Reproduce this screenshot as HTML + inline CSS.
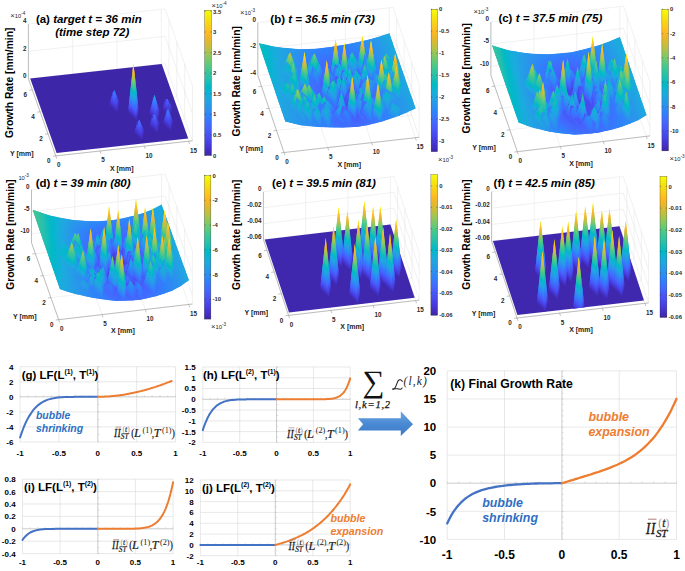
<!DOCTYPE html><html><head><meta charset="utf-8"><style>html,body{margin:0;padding:0;background:#fff;width:685px;height:571px;overflow:hidden}svg{display:block;font-family:'Liberation Sans',sans-serif}</style></head><body>
<svg width="685" height="571" viewBox="0 0 685 571"><defs><clipPath id="cp0"><polygon points="17.1,157.3 227.6,134.1 227.6,-165.9 17.1,-142.7"/></clipPath><clipPath id="cp1"><polygon points="246.3,125.2 285.3,121.3 293.4,123.3 301.6,125.2 309.7,125.9 317.8,126.7 326,127.1 334.1,127.3 342.2,127.4 350.4,127 358.5,126.5 366.6,125.1 374.8,123.1 382.9,121 391,118.2 399.2,115.4 407.3,112 415.4,108.3 454.5,104.4 454.5,-195.6 246.3,-174.8"/></clipPath><clipPath id="cp2"><polygon points="480.4,124.5 518.7,122.3 526.7,125.4 534.6,128 542.6,129.8 550.6,131.7 558.6,132.9 566.5,133.7 574.5,134.5 582.5,134 590.5,133.4 598.4,132.6 606.4,130.6 614.4,128.7 622.4,126.3 630.4,123.3 638.3,120 646.3,115 684.6,112.8 684.6,-187.2 480.4,-175.5"/></clipPath><clipPath id="cp3"><polygon points="21.4,291.7 60,289 68,291.7 76.1,293.9 84.1,295.8 92.2,297.6 100.2,298.8 108.3,299.9 116.3,300.8 124.3,300.6 132.4,300.3 140.4,299.5 148.5,297.7 156.5,295.9 164.5,293.3 172.6,290.3 180.6,286 188.7,280.1 227.3,277.4 227.3,-22.6 21.4,-8.3"/></clipPath><clipPath id="cp4"><polygon points="251.3,317 452.4,293.4 452.4,-6.6 251.3,17"/></clipPath><clipPath id="cp5"><polygon points="479.4,319.5 682,296.2 682,-3.8 479.4,19.5"/></clipPath><linearGradient id="cb" x1="0" y1="0" x2="0" y2="1"><stop offset="0.000" stop-color="#f9fb15"/><stop offset="0.031" stop-color="#f5ef0a"/><stop offset="0.062" stop-color="#f5e211"/><stop offset="0.094" stop-color="#f8d417"/><stop offset="0.125" stop-color="#fbc81d"/><stop offset="0.156" stop-color="#febb21"/><stop offset="0.188" stop-color="#f1b627"/><stop offset="0.219" stop-color="#deb930"/><stop offset="0.250" stop-color="#c8bd3c"/><stop offset="0.281" stop-color="#afc24b"/><stop offset="0.312" stop-color="#94c65b"/><stop offset="0.344" stop-color="#77c86c"/><stop offset="0.375" stop-color="#5cc97d"/><stop offset="0.406" stop-color="#44c78d"/><stop offset="0.438" stop-color="#34c49d"/><stop offset="0.469" stop-color="#28c0ab"/><stop offset="0.500" stop-color="#12bdb9"/><stop offset="0.531" stop-color="#01b9c6"/><stop offset="0.562" stop-color="#0cb3d3"/><stop offset="0.594" stop-color="#1aacdd"/><stop offset="0.625" stop-color="#21a3e3"/><stop offset="0.656" stop-color="#269ae9"/><stop offset="0.688" stop-color="#2c90f0"/><stop offset="0.719" stop-color="#2e85f8"/><stop offset="0.750" stop-color="#347afd"/><stop offset="0.781" stop-color="#3f6efe"/><stop offset="0.812" stop-color="#4562fc"/><stop offset="0.844" stop-color="#4757f7"/><stop offset="0.875" stop-color="#484cef"/><stop offset="0.906" stop-color="#4741e5"/><stop offset="0.938" stop-color="#4536d5"/><stop offset="0.969" stop-color="#422ebf"/><stop offset="1.000" stop-color="#3e26a8"/></linearGradient><linearGradient id="pt" gradientUnits="userSpaceOnUse"><stop offset="0" stop-color="#3e26a8"/><stop offset="0.025" stop-color="#412dbb"/><stop offset="0.05" stop-color="#4433cc"/><stop offset="0.075" stop-color="#463adc"/><stop offset="0.1" stop-color="#4743e7"/><stop offset="0.125" stop-color="#484cef"/><stop offset="0.15" stop-color="#4755f6"/><stop offset="0.175" stop-color="#465efb"/><stop offset="0.2" stop-color="#4367fd"/><stop offset="0.225" stop-color="#3d70ff"/><stop offset="0.25" stop-color="#347afd"/><stop offset="0.275" stop-color="#2e83f9"/><stop offset="0.3" stop-color="#2d8cf3"/><stop offset="0.325" stop-color="#2994ed"/><stop offset="0.35" stop-color="#259ce7"/><stop offset="0.375" stop-color="#21a3e3"/><stop offset="0.4" stop-color="#1caadf"/><stop offset="0.425" stop-color="#13b0d7"/><stop offset="0.45" stop-color="#05b6ce"/><stop offset="0.475" stop-color="#02bac4"/><stop offset="0.5" stop-color="#12bdb9"/><stop offset="0.525" stop-color="#24c0ae"/><stop offset="0.55" stop-color="#2fc2a3"/><stop offset="0.575" stop-color="#39c597"/><stop offset="0.6" stop-color="#48c78a"/><stop offset="0.625" stop-color="#5cc97d"/><stop offset="0.65" stop-color="#71c86f"/><stop offset="0.675" stop-color="#88c762"/><stop offset="0.7" stop-color="#9fc454"/><stop offset="0.725" stop-color="#b4c148"/><stop offset="0.75" stop-color="#c8bd3c"/><stop offset="0.775" stop-color="#daba32"/><stop offset="0.8" stop-color="#eab72a"/><stop offset="0.825" stop-color="#f8b625"/><stop offset="0.85" stop-color="#febe20"/><stop offset="0.875" stop-color="#fbc81d"/><stop offset="0.9" stop-color="#f8d218"/><stop offset="0.925" stop-color="#f6dc14"/><stop offset="0.95" stop-color="#f4e70e"/><stop offset="0.975" stop-color="#f5f209"/><stop offset="1" stop-color="#f9fb15"/></linearGradient><linearGradient id="f0" href="#pt" x1="112.5" y1="90" x2="118.8" y2="91.4"/><linearGradient id="f1" href="#pt" x1="110.2" y1="94.6" x2="124.4" y2="80"/><linearGradient id="f2" href="#pt" x1="104.4" y1="100.6" x2="138.5" y2="65.5"/><linearGradient id="f3" href="#pt" x1="122.3" y1="92.3" x2="94.7" y2="85.8"/><linearGradient id="f4" href="#pt" x1="164.5" y1="98.6" x2="178.4" y2="101.8"/><linearGradient id="f5" href="#pt" x1="165.3" y1="101.2" x2="175.1" y2="91.2"/><linearGradient id="f6" href="#pt" x1="159.6" y1="107.1" x2="198.2" y2="67.5"/><linearGradient id="f7" href="#pt" x1="174.3" y1="100.8" x2="139.1" y2="92.6"/><linearGradient id="f8" href="#pt" x1="139.1" y1="64.8" x2="133.4" y2="63.5"/><linearGradient id="f9" href="#pt" x1="112.1" y1="85.4" x2="133.4" y2="63.5"/><linearGradient id="f10" href="#pt" x1="106.3" y1="91.3" x2="133.4" y2="63.5"/><linearGradient id="f11" href="#pt" x1="149" y1="67.1" x2="133.4" y2="63.5"/><linearGradient id="f12" href="#pt" x1="153.6" y1="94.8" x2="155.9" y2="95.3"/><linearGradient id="f13" href="#pt" x1="148.2" y1="101.5" x2="164.8" y2="84.4"/><linearGradient id="f14" href="#pt" x1="142.4" y1="107.4" x2="174.2" y2="74.8"/><linearGradient id="f15" href="#pt" x1="163.5" y1="97.1" x2="139.9" y2="91.6"/><linearGradient id="f16" href="#pt" x1="166.1" y1="109.1" x2="173" y2="110.7"/><linearGradient id="f17" href="#pt" x1="164.1" y1="113.5" x2="178" y2="99.2"/><linearGradient id="f18" href="#pt" x1="158.4" y1="119.4" x2="192.8" y2="84"/><linearGradient id="f19" href="#pt" x1="175.9" y1="111.3" x2="147.7" y2="104.8"/><linearGradient id="f20" href="#pt" x1="152" y1="113.6" x2="162.7" y2="116.1"/><linearGradient id="f21" href="#pt" x1="151.8" y1="117" x2="163.5" y2="105"/><linearGradient id="f22" href="#pt" x1="146.1" y1="122.9" x2="182.8" y2="85.2"/><linearGradient id="f23" href="#pt" x1="161.9" y1="115.9" x2="129.8" y2="108.5"/><linearGradient id="f24" href="#pt" x1="137.1" y1="119.8" x2="146" y2="121.9"/><linearGradient id="f25" href="#pt" x1="136.1" y1="123.5" x2="148.8" y2="110.6"/><linearGradient id="f26" href="#pt" x1="130.4" y1="129.5" x2="166.1" y2="92.8"/><linearGradient id="f27" href="#pt" x1="146.9" y1="122.1" x2="116.6" y2="115"/><linearGradient id="f28" href="#pt" x1="322.1" y1="74.5" x2="494.7" y2="-4.4"/><linearGradient id="f29" href="#pt" x1="310.9" y1="96.3" x2="514" y2="-51.5"/><linearGradient id="f30" href="#pt" x1="315.7" y1="113.9" x2="496.4" y2="-102.8"/><linearGradient id="f31" href="#pt" x1="333.4" y1="129.6" x2="432.9" y2="-157.1"/><linearGradient id="f32" href="#pt" x1="336.6" y1="116.9" x2="398.8" y2="-135.6"/><linearGradient id="f33" href="#pt" x1="343" y1="111.5" x2="346.2" y2="-126.9"/><linearGradient id="f34" href="#pt" x1="337.6" y1="104.4" x2="328.3" y2="-107.7"/><linearGradient id="f35" href="#pt" x1="337" y1="108.3" x2="293.8" y2="-112.7"/><linearGradient id="f36" href="#pt" x1="313.1" y1="78.7" x2="509.4" y2="-14.5"/><linearGradient id="f37" href="#pt" x1="323.5" y1="71" x2="492.2" y2="1.8"/><linearGradient id="f38" href="#pt" x1="309.3" y1="93.7" x2="512.1" y2="-53.4"/><linearGradient id="f39" href="#pt" x1="311.5" y1="113.4" x2="493.2" y2="-112.5"/><linearGradient id="f40" href="#pt" x1="320.7" y1="110.5" x2="447.6" y2="-115.8"/><linearGradient id="f41" href="#pt" x1="337.2" y1="118" x2="261" y2="-128.6"/><linearGradient id="f42" href="#pt" x1="327.5" y1="112.7" x2="398.1" y2="-130.8"/><linearGradient id="f43" href="#pt" x1="328.2" y1="106.9" x2="362.1" y2="-116.7"/><linearGradient id="f44" href="#pt" x1="357.7" y1="114.6" x2="179" y2="-94.7"/><linearGradient id="f45" href="#pt" x1="338.9" y1="106.4" x2="287.1" y2="-105.7"/><linearGradient id="f46" href="#pt" x1="369.8" y1="120.6" x2="136.7" y2="-90.6"/><linearGradient id="f47" href="#pt" x1="342.3" y1="107" x2="244.6" y2="-93.1"/><linearGradient id="f48" href="#pt" x1="353.1" y1="101.3" x2="192.3" y2="-57"/><linearGradient id="f49" href="#pt" x1="378.7" y1="91" x2="117.3" y2="-7.8"/><linearGradient id="f50" href="#pt" x1="358.5" y1="103.6" x2="165" y2="-48.1"/><linearGradient id="f51" href="#pt" x1="323.1" y1="93.3" x2="504.9" y2="-18.1"/><linearGradient id="f52" href="#pt" x1="328.4" y1="81.9" x2="495" y2="8.3"/><linearGradient id="f53" href="#pt" x1="322.3" y1="104.6" x2="502.7" y2="-54.7"/><linearGradient id="f54" href="#pt" x1="382.1" y1="74.6" x2="114.9" y2="29"/><linearGradient id="f55" href="#pt" x1="327.3" y1="117.6" x2="476.5" y2="-106.3"/><linearGradient id="f56" href="#pt" x1="331.4" y1="112.7" x2="443.2" y2="-108.1"/><linearGradient id="f57" href="#pt" x1="363.3" y1="86.5" x2="150.1" y2="1.6"/><linearGradient id="f58" href="#pt" x1="335.4" y1="111.8" x2="396.6" y2="-121.4"/><linearGradient id="f59" href="#pt" x1="333.2" y1="107.3" x2="366.2" y2="-114.6"/><linearGradient id="f60" href="#pt" x1="375.7" y1="55.8" x2="130.2" y2="59.3"/><linearGradient id="f61" href="#pt" x1="342.2" y1="114.1" x2="277" y2="-133.3"/><linearGradient id="f62" href="#pt" x1="365.6" y1="76" x2="144.7" y2="26.5"/><linearGradient id="f63" href="#pt" x1="325.6" y1="82.8" x2="499.3" y2="5.2"/><linearGradient id="f64" href="#pt" x1="321.4" y1="92.1" x2="505.2" y2="-21.2"/><linearGradient id="f65" href="#pt" x1="319.2" y1="103.3" x2="501.9" y2="-61.4"/><linearGradient id="f66" href="#pt" x1="329.4" y1="79.5" x2="493.1" y2="12.6"/><linearGradient id="f67" href="#pt" x1="351.9" y1="117.7" x2="202.4" y2="-120.8"/><linearGradient id="f68" href="#pt" x1="323.4" y1="104.7" x2="472.6" y2="-78.7"/><linearGradient id="f69" href="#pt" x1="325.3" y1="107.7" x2="440" y2="-103.8"/><linearGradient id="f70" href="#pt" x1="342.9" y1="47.9" x2="179.4" y2="64.5"/><linearGradient id="f71" href="#pt" x1="326.1" y1="106.5" x2="400.6" y2="-110.8"/><linearGradient id="f72" href="#pt" x1="362.3" y1="62.2" x2="150.7" y2="49.6"/><linearGradient id="f73" href="#pt" x1="364.2" y1="104.3" x2="145.7" y2="-42.9"/><linearGradient id="f74" href="#pt" x1="343.7" y1="112.1" x2="270.2" y2="-124"/><linearGradient id="f75" href="#pt" x1="372.1" y1="102.6" x2="118.8" y2="-20.5"/><linearGradient id="f76" href="#pt" x1="351.4" y1="107.6" x2="204.5" y2="-79.4"/><linearGradient id="f77" href="#pt" x1="343.8" y1="49.9" x2="176.6" y2="56.7"/><linearGradient id="f78" href="#pt" x1="343.7" y1="47" x2="178.2" y2="65.6"/><linearGradient id="f79" href="#pt" x1="356.8" y1="97.7" x2="170.5" y2="-20.4"/><linearGradient id="f80" href="#pt" x1="368" y1="82.9" x2="134.4" y2="38.7"/><linearGradient id="f81" href="#pt" x1="360.1" y1="96.5" x2="152.9" y2="-3.2"/><linearGradient id="f82" href="#pt" x1="348.7" y1="46" x2="171.4" y2="60.8"/><linearGradient id="f83" href="#pt" x1="367.1" y1="72.7" x2="140.4" y2="60.5"/><linearGradient id="f84" href="#pt" x1="328.2" y1="101.8" x2="507.5" y2="-15.7"/><linearGradient id="f85" href="#pt" x1="331.9" y1="94.6" x2="500.4" y2="8.3"/><linearGradient id="f86" href="#pt" x1="326.6" y1="110.8" x2="506.2" y2="-55.1"/><linearGradient id="f87" href="#pt" x1="333.6" y1="89.5" x2="496.6" y2="20.8"/><linearGradient id="f88" href="#pt" x1="328.3" y1="110.7" x2="487.6" y2="-71.9"/><linearGradient id="f89" href="#pt" x1="358.5" y1="83.5" x2="156.8" y2="37.4"/><linearGradient id="f90" href="#pt" x1="329.4" y1="112.9" x2="459.5" y2="-103.4"/><linearGradient id="f91" href="#pt" x1="328.5" y1="112.4" x2="427.7" y2="-123.2"/><linearGradient id="f92" href="#pt" x1="351.7" y1="127.4" x2="228.5" y2="-193.9"/><linearGradient id="f93" href="#pt" x1="361.4" y1="61.8" x2="153.9" y2="76.2"/><linearGradient id="f94" href="#pt" x1="358" y1="75.8" x2="158.1" y2="54.6"/><linearGradient id="f95" href="#pt" x1="368.4" y1="113.4" x2="114.7" y2="-77"/><linearGradient id="f96" href="#pt" x1="329.1" y1="95" x2="504.8" y2="3.5"/><linearGradient id="f97" href="#pt" x1="325.3" y1="101.5" x2="510.5" y2="-22.7"/><linearGradient id="f98" href="#pt" x1="333.8" y1="89.2" x2="496" y2="20.8"/><linearGradient id="f99" href="#pt" x1="325.9" y1="104.3" x2="498" y2="-44.7"/><linearGradient id="f100" href="#pt" x1="334" y1="88.6" x2="495.8" y2="22.5"/><linearGradient id="f101" href="#pt" x1="324.8" y1="107.1" x2="483.7" y2="-73.3"/><linearGradient id="f102" href="#pt" x1="324.3" y1="109.7" x2="454.4" y2="-106.2"/><linearGradient id="f103" href="#pt" x1="345.2" y1="58.2" x2="178.7" y2="74.5"/><linearGradient id="f104" href="#pt" x1="366.4" y1="95.3" x2="126.9" y2="25.9"/><linearGradient id="f105" href="#pt" x1="354.1" y1="66.6" x2="165.6" y2="68.5"/><linearGradient id="f106" href="#pt" x1="352.8" y1="124.9" x2="222.1" y2="-179"/><linearGradient id="f107" href="#pt" x1="363.2" y1="107.6" x2="140.6" y2="-48.2"/><linearGradient id="f108" href="#pt" x1="368.6" y1="91.2" x2="122.4" y2="48.2"/><linearGradient id="f109" href="#pt" x1="346.6" y1="56.9" x2="176.9" y2="76.2"/><linearGradient id="f110" href="#pt" x1="351" y1="61.6" x2="169.4" y2="64.5"/><linearGradient id="f111" href="#pt" x1="360.7" y1="94.5" x2="149.2" y2="29"/><linearGradient id="f112" href="#pt" x1="359.9" y1="81.2" x2="152.7" y2="76.6"/><linearGradient id="f113" href="#pt" x1="361.3" y1="91.7" x2="145.6" y2="46.5"/><linearGradient id="f114" href="#pt" x1="356.7" y1="57.3" x2="162.9" y2="69.3"/><linearGradient id="f115" href="#pt" x1="357.6" y1="75.5" x2="160.3" y2="85.1"/><linearGradient id="f116" href="#pt" x1="332.5" y1="102.7" x2="512.2" y2="17.3"/><linearGradient id="f117" href="#pt" x1="327.9" y1="108" x2="524.5" y2="-5.3"/><linearGradient id="f118" href="#pt" x1="337.8" y1="98.7" x2="499.8" y2="29.9"/><linearGradient id="f119" href="#pt" x1="326.2" y1="109.6" x2="526.3" y2="-22.2"/><linearGradient id="f120" href="#pt" x1="337.5" y1="97.5" x2="499.9" y2="32.7"/><linearGradient id="f121" href="#pt" x1="355.8" y1="82.9" x2="163.2" y2="72"/><linearGradient id="f122" href="#pt" x1="323.9" y1="112.7" x2="528" y2="-54.4"/><linearGradient id="f123" href="#pt" x1="319.7" y1="116.7" x2="532.5" y2="-102.4"/><linearGradient id="f124" href="#pt" x1="353.2" y1="69.7" x2="170" y2="90.2"/><linearGradient id="f125" href="#pt" x1="353.9" y1="77.8" x2="168" y2="80.3"/><linearGradient id="f126" href="#pt" x1="380" y1="99.1" x2="48.9" y2="50.3"/><linearGradient id="f127" href="#pt" x1="328.9" y1="103.8" x2="520.9" y2="10.4"/><linearGradient id="f128" href="#pt" x1="333.3" y1="100.4" x2="509.7" y2="24.1"/><linearGradient id="f129" href="#pt" x1="326.5" y1="106.7" x2="525.1" y2="-8.5"/><linearGradient id="f130" href="#pt" x1="338.6" y1="97.1" x2="498.1" y2="33.7"/><linearGradient id="f131" href="#pt" x1="323.5" y1="108.7" x2="530.1" y2="-30.7"/><linearGradient id="f132" href="#pt" x1="337.1" y1="98.3" x2="500.7" y2="31.1"/><linearGradient id="f133" href="#pt" x1="318.8" y1="114.3" x2="538.9" y2="-84.9"/><linearGradient id="f134" href="#pt" x1="348.2" y1="68.5" x2="176.8" y2="84.3"/><linearGradient id="f135" href="#pt" x1="364.6" y1="89.6" x2="136" y2="98"/><linearGradient id="f136" href="#pt" x1="350.3" y1="72.2" x2="175" y2="86"/><linearGradient id="f137" href="#pt" x1="376.6" y1="99.5" x2="68" y2="47.9"/><linearGradient id="f138" href="#pt" x1="363.4" y1="86.6" x2="142.3" y2="104.7"/><linearGradient id="f139" href="#pt" x1="350.5" y1="66.3" x2="173.6" y2="87.4"/><linearGradient id="f140" href="#pt" x1="358.8" y1="74" x2="160.3" y2="71.2"/><linearGradient id="f141" href="#pt" x1="363" y1="90.5" x2="142.5" y2="94.2"/><linearGradient id="f142" href="#pt" x1="355.2" y1="83.3" x2="169.4" y2="107"/><linearGradient id="f143" href="#pt" x1="361.4" y1="88" x2="149" y2="100.1"/><linearGradient id="f144" href="#pt" x1="365.8" y1="69.3" x2="151.9" y2="76.8"/><linearGradient id="f145" href="#pt" x1="353" y1="80.7" x2="174.1" y2="105.4"/><linearGradient id="f146" href="#pt" x1="329.4" y1="107.8" x2="533.9" y2="40.9"/><linearGradient id="f147" href="#pt" x1="334.7" y1="105.8" x2="517.9" y2="46.2"/><linearGradient id="f148" href="#pt" x1="324.7" y1="108.4" x2="550.5" y2="38.5"/><linearGradient id="f149" href="#pt" x1="341.1" y1="104.4" x2="503.1" y2="48.3"/><linearGradient id="f150" href="#pt" x1="354.8" y1="83.7" x2="170.5" y2="106.1"/><linearGradient id="f151" href="#pt" x1="320.1" y1="109.6" x2="571.3" y2="31.1"/><linearGradient id="f152" href="#pt" x1="340" y1="105.8" x2="505.3" y2="43.9"/><linearGradient id="f153" href="#pt" x1="308.3" y1="110.7" x2="637.4" y2="23.5"/><linearGradient id="f154" href="#pt" x1="350.1" y1="78.3" x2="179.2" y2="102.8"/><linearGradient id="f155" href="#pt" x1="352.8" y1="80.9" x2="174.5" y2="105"/><linearGradient id="f156" href="#pt" x1="375.8" y1="84.4" x2="95.9" y2="192.1"/><linearGradient id="f157" href="#pt" x1="329.5" y1="107.6" x2="533.4" y2="41.7"/><linearGradient id="f158" href="#pt" x1="324.1" y1="109.2" x2="553" y2="34.7"/><linearGradient id="f159" href="#pt" x1="333.9" y1="107.1" x2="520.2" y2="42.5"/><linearGradient id="f160" href="#pt" x1="320.3" y1="109.3" x2="570.1" y2="32.8"/><linearGradient id="f161" href="#pt" x1="340.1" y1="106.2" x2="505.4" y2="44.2"/><linearGradient id="f162" href="#pt" x1="306.8" y1="112.7" x2="647.7" y2="9"/><linearGradient id="f163" href="#pt" x1="352.6" y1="79" x2="172.5" y2="93.6"/><linearGradient id="f164" href="#pt" x1="338.6" y1="108.7" x2="508" y2="38.4"/><linearGradient id="f165" href="#pt" x1="361.4" y1="88.2" x2="166.4" y2="154"/><linearGradient id="f166" href="#pt" x1="350.3" y1="78.1" x2="178.9" y2="103.2"/><linearGradient id="f167" href="#pt" x1="376.6" y1="82.1" x2="91.5" y2="204.7"/><linearGradient id="f168" href="#pt" x1="359.7" y1="86.7" x2="168" y2="146.4"/><linearGradient id="f169" href="#pt" x1="356.3" y1="75.4" x2="167.1" y2="98.9"/><linearGradient id="f170" href="#pt" x1="367.5" y1="87.3" x2="148.6" y2="76.2"/><linearGradient id="f171" href="#pt" x1="362" y1="86.7" x2="163.7" y2="160.5"/><linearGradient id="f172" href="#pt" x1="353.9" y1="87.1" x2="182.5" y2="132.8"/><linearGradient id="f173" href="#pt" x1="360.4" y1="85.3" x2="165.7" y2="151.1"/><linearGradient id="f174" href="#pt" x1="376.1" y1="82.3" x2="137.6" y2="82.6"/><linearGradient id="f175" href="#pt" x1="352.7" y1="86.6" x2="181.5" y2="123.9"/><linearGradient id="f176" href="#pt" x1="329.9" y1="108.9" x2="537.9" y2="81.9"/><linearGradient id="f177" href="#pt" x1="334.6" y1="109.7" x2="525.7" y2="72.7"/><linearGradient id="f178" href="#pt" x1="323.7" y1="106.4" x2="556.3" y2="100.2"/><linearGradient id="f179" href="#pt" x1="355.3" y1="84.5" x2="178.7" y2="140"/><linearGradient id="f180" href="#pt" x1="341.7" y1="111.1" x2="510.6" y2="64.5"/><linearGradient id="f181" href="#pt" x1="320.2" y1="105.1" x2="567.4" y2="119.4"/><linearGradient id="f182" href="#pt" x1="340.9" y1="114.7" x2="513.1" y2="54"/><linearGradient id="f183" href="#pt" x1="310.2" y1="95.8" x2="604.1" y2="189.7"/><linearGradient id="f184" href="#pt" x1="360.4" y1="51.8" x2="249.8" y2="440"/><linearGradient id="f185" href="#pt" x1="351.4" y1="87" x2="181.4" y2="114.9"/><linearGradient id="f186" href="#pt" x1="354.6" y1="83.6" x2="177.2" y2="130.5"/><linearGradient id="f187" href="#pt" x1="366.5" y1="81.2" x2="185.4" y2="251.5"/><linearGradient id="f188" href="#pt" x1="326.9" y1="111.3" x2="548.2" y2="73.6"/><linearGradient id="f189" href="#pt" x1="318.7" y1="109.1" x2="577.5" y2="88.7"/><linearGradient id="f190" href="#pt" x1="330.5" y1="114" x2="537.2" y2="60.3"/><linearGradient id="f191" href="#pt" x1="316.5" y1="106.3" x2="586.4" y2="113.2"/><linearGradient id="f192" href="#pt" x1="338.2" y1="116.2" x2="518.7" y2="52.6"/><linearGradient id="f193" href="#pt" x1="359.2" y1="89.9" x2="164.3" y2="101.9"/><linearGradient id="f194" href="#pt" x1="359.6" y1="89.5" x2="200.6" y2="190.3"/><linearGradient id="f195" href="#pt" x1="354.2" y1="83.5" x2="176.3" y2="121.4"/><linearGradient id="f196" href="#pt" x1="338.2" y1="119.9" x2="518.2" y2="44.2"/><linearGradient id="f197" href="#pt" x1="362.1" y1="52" x2="240.4" y2="438.7"/><linearGradient id="f198" href="#pt" x1="363.3" y1="75.9" x2="201.4" y2="277"/><linearGradient id="f199" href="#pt" x1="358.7" y1="88.6" x2="191.3" y2="177.4"/><linearGradient id="f200" href="#pt" x1="364.9" y1="84.3" x2="155.2" y2="110.7"/><linearGradient id="f201" href="#pt" x1="377.2" y1="102" x2="134.1" y2="78.5"/><linearGradient id="f202" href="#pt" x1="358.8" y1="85.2" x2="203.6" y2="207.5"/><linearGradient id="f203" href="#pt" x1="356" y1="90.8" x2="190.4" y2="157"/><linearGradient id="f204" href="#pt" x1="358.7" y1="83.8" x2="191.3" y2="193.2"/><linearGradient id="f205" href="#pt" x1="387.9" y1="96.9" x2="119.2" y2="85.6"/><linearGradient id="f206" href="#pt" x1="356.6" y1="92.2" x2="181.9" y2="142.4"/><linearGradient id="f207" href="#pt" x1="328.7" y1="110.4" x2="540.8" y2="117.2"/><linearGradient id="f208" href="#pt" x1="331.4" y1="113.4" x2="537.4" y2="97.8"/><linearGradient id="f209" href="#pt" x1="323" y1="103.5" x2="550.4" y2="153.8"/><linearGradient id="f210" href="#pt" x1="357.1" y1="84.2" x2="187.3" y2="174.7"/><linearGradient id="f211" href="#pt" x1="339.1" y1="118.3" x2="523.3" y2="79.2"/><linearGradient id="f212" href="#pt" x1="322.5" y1="101.7" x2="539.8" y2="179.9"/><linearGradient id="f213" href="#pt" x1="339.9" y1="124.2" x2="524" y2="62.8"/><linearGradient id="f214" href="#pt" x1="321.7" y1="88.6" x2="514.1" y2="256.9"/><linearGradient id="f215" href="#pt" x1="357.2" y1="95.6" x2="175.5" y2="127"/><linearGradient id="f216" href="#pt" x1="353.7" y1="73.5" x2="317.6" y2="321.2"/><linearGradient id="f217" href="#pt" x1="359.5" y1="84.7" x2="175.3" y2="159.4"/><linearGradient id="f218" href="#pt" x1="361.3" y1="82.5" x2="247.5" y2="267.8"/><linearGradient id="f219" href="#pt" x1="320.9" y1="113.5" x2="565.5" y2="107.4"/><linearGradient id="f220" href="#pt" x1="311.3" y1="103.7" x2="593.2" y2="153.2"/><linearGradient id="f221" href="#pt" x1="321.8" y1="120.4" x2="563" y2="79.2"/><linearGradient id="f222" href="#pt" x1="314.7" y1="99.5" x2="573.5" y2="189.2"/><linearGradient id="f223" href="#pt" x1="331.8" y1="127.5" x2="539.7" y2="58.7"/><linearGradient id="f224" href="#pt" x1="368.8" y1="101.8" x2="149.9" y2="108.2"/><linearGradient id="f225" href="#pt" x1="362.8" y1="87.4" x2="164.8" y2="142.8"/><linearGradient id="f226" href="#pt" x1="315.5" y1="76.6" x2="543.8" y2="313.7"/><linearGradient id="f227" href="#pt" x1="335.7" y1="132.1" x2="531.8" y2="48.1"/><linearGradient id="f228" href="#pt" x1="360.2" y1="91" x2="227.7" y2="215.8"/><linearGradient id="f229" href="#pt" x1="354.6" y1="73.3" x2="313.3" y2="321.9"/><linearGradient id="f230" href="#pt" x1="360.7" y1="90" x2="208" y2="204"/><linearGradient id="f231" href="#pt" x1="353.7" y1="79.2" x2="278.6" y2="281.2"/><linearGradient id="f232" href="#pt" x1="378.1" y1="93.4" x2="134.2" y2="122.2"/><linearGradient id="f233" href="#pt" x1="387.7" y1="118.7" x2="116.1" y2="76.7"/><linearGradient id="f234" href="#pt" x1="356.1" y1="85.4" x2="242" y2="235.5"/><linearGradient id="f235" href="#pt" x1="361.7" y1="92.7" x2="191.5" y2="183"/><linearGradient id="f236" href="#pt" x1="401.5" y1="114" x2="95.6" y2="83.9"/><linearGradient id="f237" href="#pt" x1="357.5" y1="82.4" x2="217.4" y2="226.8"/><linearGradient id="f238" href="#pt" x1="365.3" y1="96.3" x2="172.5" y2="163.4"/><linearGradient id="f239" href="#pt" x1="324.7" y1="111.7" x2="547.9" y2="147.5"/><linearGradient id="f240" href="#pt" x1="324.1" y1="116.4" x2="555.8" y2="122.6"/><linearGradient id="f241" href="#pt" x1="321" y1="99.1" x2="544.5" y2="198.9"/><linearGradient id="f242" href="#pt" x1="332.4" y1="125.9" x2="543.1" y2="92.7"/><linearGradient id="f243" href="#pt" x1="360.3" y1="81.2" x2="195.2" y2="213.1"/><linearGradient id="f244" href="#pt" x1="324" y1="98.8" x2="517.6" y2="218.2"/><linearGradient id="f245" href="#pt" x1="336.7" y1="134.6" x2="538.4" y2="70.1"/><linearGradient id="f246" href="#pt" x1="331.9" y1="85.7" x2="456.4" y2="276.8"/><linearGradient id="f247" href="#pt" x1="369" y1="104.2" x2="157.5" y2="138.9"/><linearGradient id="f248" href="#pt" x1="355.6" y1="82.3" x2="331.9" y2="284.1"/><linearGradient id="f249" href="#pt" x1="368" y1="81.8" x2="166.4" y2="196.3"/><linearGradient id="f250" href="#pt" x1="359.1" y1="81.5" x2="285.4" y2="282.1"/><linearGradient id="f251" href="#pt" x1="310.9" y1="113.4" x2="587" y2="142.6"/><linearGradient id="f252" href="#pt" x1="305.6" y1="125.2" x2="601.5" y2="101"/><linearGradient id="f253" href="#pt" x1="303.7" y1="91.2" x2="599.2" y2="223.9"/><linearGradient id="f254" href="#pt" x1="382.7" y1="116.1" x2="125.9" y2="109.7"/><linearGradient id="f255" href="#pt" x1="319.2" y1="140.3" x2="571.7" y2="61.7"/><linearGradient id="f256" href="#pt" x1="314.7" y1="90.7" x2="550.2" y2="246.8"/><linearGradient id="f257" href="#pt" x1="378.9" y1="87.8" x2="137.7" y2="171.5"/><linearGradient id="f258" href="#pt" x1="330.9" y1="145.5" x2="549.1" y2="50"/><linearGradient id="f259" href="#pt" x1="334.1" y1="70.1" x2="448.4" y2="334.1"/><linearGradient id="f260" href="#pt" x1="363.3" y1="90" x2="244.7" y2="241.4"/><linearGradient id="f261" href="#pt" x1="356.5" y1="82.1" x2="328.8" y2="284.9"/><linearGradient id="f262" href="#pt" x1="398.8" y1="104" x2="97.3" y2="131.2"/><linearGradient id="f263" href="#pt" x1="366" y1="88.5" x2="215.9" y2="233.3"/><linearGradient id="f264" href="#pt" x1="398.8" y1="138.4" x2="94.7" y2="68.6"/><linearGradient id="f265" href="#pt" x1="348.3" y1="81.7" x2="321.7" y2="281.4"/><linearGradient id="f266" href="#pt" x1="355" y1="84.3" x2="270.3" y2="258.6"/><linearGradient id="f267" href="#pt" x1="372.5" y1="90.6" x2="181.9" y2="216.4"/><linearGradient id="f268" href="#pt" x1="416.7" y1="135" x2="66" y2="74"/><linearGradient id="f269" href="#pt" x1="357.9" y1="79" x2="238.1" y2="259.4"/><linearGradient id="f270" href="#pt" x1="382" y1="97.4" x2="146.2" y2="190.4"/><linearGradient id="f271" href="#pt" x1="364.9" y1="72.4" x2="200.8" y2="261.7"/><linearGradient id="f272" href="#pt" x1="390.9" y1="114" x2="117.5" y2="148.2"/><linearGradient id="f273" href="#pt" x1="382.1" y1="70.1" x2="146" y2="252.1"/><linearGradient id="f274" href="#pt" x1="402.9" y1="135.9" x2="87.2" y2="99.6"/><linearGradient id="f275" href="#pt" x1="410.7" y1="80.4" x2="76.7" y2="217.4"/><linearGradient id="f276" href="#pt" x1="409.7" y1="162.1" x2="70.5" y2="50.8"/><linearGradient id="f277" href="#pt" x1="433.3" y1="120.1" x2="30" y2="129.5"/><linearGradient id="f278" href="#pt" x1="433" y1="162.4" x2="30.3" y2="50.3"/><linearGradient id="f279" href="#pt" x1="348.7" y1="51.5" x2="354.4" y2="53.3"/><linearGradient id="f280" href="#pt" x1="345.8" y1="60.3" x2="356.4" y2="47.2"/><linearGradient id="f281" href="#pt" x1="334.5" y1="74.5" x2="364.3" y2="37.4"/><linearGradient id="f282" href="#pt" x1="372.4" y1="62.9" x2="338" y2="45.4"/><linearGradient id="f283" href="#pt" x1="365.1" y1="36.4" x2="362.3" y2="35.8"/><linearGradient id="f284" href="#pt" x1="344.5" y1="54.2" x2="362.3" y2="35.8"/><linearGradient id="f285" href="#pt" x1="337.1" y1="61.2" x2="362.3" y2="35.8"/><linearGradient id="f286" href="#pt" x1="379.4" y1="40.4" x2="362.3" y2="35.8"/><linearGradient id="f287" href="#pt" x1="380.7" y1="52.2" x2="390" y2="55"/><linearGradient id="f288" href="#pt" x1="381.8" y1="60.1" x2="389.2" y2="49.5"/><linearGradient id="f289" href="#pt" x1="366.7" y1="75.8" x2="399.7" y2="38.7"/><linearGradient id="f290" href="#pt" x1="410.7" y1="67.2" x2="369.2" y2="44.6"/><linearGradient id="f291" href="#pt" x1="354.1" y1="60.7" x2="390.8" y2="63.5"/><linearGradient id="f292" href="#pt" x1="373.9" y1="56.8" x2="362.8" y2="68.9"/><linearGradient id="f293" href="#pt" x1="350.6" y1="79.5" x2="395.7" y2="36.9"/><linearGradient id="f294" href="#pt" x1="396.5" y1="74.2" x2="331" y2="44.4"/><linearGradient id="f295" href="#pt" x1="310.8" y1="52.5" x2="316.1" y2="54.3"/><linearGradient id="f296" href="#pt" x1="306.5" y1="62.1" x2="318.1" y2="49.8"/><linearGradient id="f297" href="#pt" x1="294.2" y1="80.8" x2="323.7" y2="41.3"/><linearGradient id="f298" href="#pt" x1="333.6" y1="59.9" x2="305.6" y2="50.9"/><linearGradient id="f299" href="#pt" x1="339.2" y1="40.1" x2="335.6" y2="39.3"/><linearGradient id="f300" href="#pt" x1="317.4" y1="58.3" x2="335.6" y2="39.3"/><linearGradient id="f301" href="#pt" x1="310.8" y1="67.4" x2="335.6" y2="39.3"/><linearGradient id="f302" href="#pt" x1="351.7" y1="43.5" x2="335.6" y2="39.3"/><linearGradient id="f303" href="#pt" x1="376.3" y1="57.3" x2="403.3" y2="65.5"/><linearGradient id="f304" href="#pt" x1="391.9" y1="55.8" x2="387.2" y2="67.1"/><linearGradient id="f305" href="#pt" x1="368.6" y1="85.8" x2="411.3" y2="36"/><linearGradient id="f306" href="#pt" x1="420.8" y1="91.5" x2="357.3" y2="30.2"/><linearGradient id="f307" href="#pt" x1="373.5" y1="41.3" x2="371" y2="40.8"/><linearGradient id="f308" href="#pt" x1="353.6" y1="58.8" x2="371.2" y2="40.6"/><linearGradient id="f309" href="#pt" x1="345.9" y1="66" x2="371.3" y2="40.5"/><linearGradient id="f310" href="#pt" x1="388.1" y1="45.3" x2="370.8" y2="40.8"/><linearGradient id="f311" href="#pt" x1="286.8" y1="51.6" x2="291" y2="53.1"/><linearGradient id="f312" href="#pt" x1="280.5" y1="62.1" x2="292.7" y2="50.2"/><linearGradient id="f313" href="#pt" x1="266.4" y1="81" x2="296.6" y2="44.9"/><linearGradient id="f314" href="#pt" x1="310.7" y1="58.6" x2="284.4" y2="51.1"/><linearGradient id="f315" href="#pt" x1="301.1" y1="70" x2="344.6" y2="76"/><linearGradient id="f316" href="#pt" x1="317.7" y1="70.7" x2="312.4" y2="74.6"/><linearGradient id="f317" href="#pt" x1="300.4" y1="90.9" x2="345.8" y2="35.4"/><linearGradient id="f318" href="#pt" x1="329.6" y1="74.1" x2="289.3" y2="68"/><linearGradient id="f319" href="#pt" x1="347.9" y1="43.8" x2="344.3" y2="43"/><linearGradient id="f320" href="#pt" x1="326.2" y1="61.5" x2="344.3" y2="43"/><linearGradient id="f321" href="#pt" x1="319.6" y1="67.8" x2="344.3" y2="43"/><linearGradient id="f322" href="#pt" x1="360.6" y1="47.3" x2="344.3" y2="43"/><linearGradient id="f323" href="#pt" x1="271.6" y1="53.4" x2="310.3" y2="81.6"/><linearGradient id="f324" href="#pt" x1="292.5" y1="64.5" x2="287.3" y2="69.4"/><linearGradient id="f325" href="#pt" x1="271" y1="103.8" x2="310.9" y2="26.2"/><linearGradient id="f326" href="#pt" x1="315.6" y1="75.2" x2="261.9" y2="57.6"/><linearGradient id="f327" href="#pt" x1="332.6" y1="63.1" x2="346.3" y2="65.7"/><linearGradient id="f328" href="#pt" x1="335.4" y1="68.6" x2="343.7" y2="60.4"/><linearGradient id="f329" href="#pt" x1="322.6" y1="84.2" x2="355.9" y2="45.6"/><linearGradient id="f330" href="#pt" x1="356.3" y1="69.4" x2="323.9" y2="59.6"/><linearGradient id="f331" href="#pt" x1="319.5" y1="68.5" x2="340.4" y2="68.8"/><linearGradient id="f332" href="#pt" x1="326" y1="70.6" x2="332.2" y2="66.2"/><linearGradient id="f333" href="#pt" x1="313.2" y1="82.2" x2="348.3" y2="51.7"/><linearGradient id="f334" href="#pt" x1="338.2" y1="69.2" x2="316.9" y2="68"/><linearGradient id="f335" href="#pt" x1="314.1" y1="68.9" x2="359.6" y2="82.1"/><linearGradient id="f336" href="#pt" x1="332.2" y1="70.9" x2="324.2" y2="78.2"/><linearGradient id="f337" href="#pt" x1="314.8" y1="95.9" x2="358.2" y2="29.3"/><linearGradient id="f338" href="#pt" x1="346.8" y1="78.5" x2="295.7" y2="63.4"/><linearGradient id="f339" href="#pt" x1="378.4" y1="55.8" x2="387.1" y2="56.3"/><linearGradient id="f340" href="#pt" x1="375.4" y1="64.4" x2="388.2" y2="53.3"/><linearGradient id="f341" href="#pt" x1="363.8" y1="73" x2="392.3" y2="50.3"/><linearGradient id="f342" href="#pt" x1="398" y1="57.8" x2="380.3" y2="55.7"/><linearGradient id="f343" href="#pt" x1="375.2" y1="65.5" x2="395" y2="71.7"/><linearGradient id="f344" href="#pt" x1="385.2" y1="68.3" x2="384.9" y2="68.8"/><linearGradient id="f345" href="#pt" x1="365.6" y1="90.9" x2="404.8" y2="45.9"/><linearGradient id="f346" href="#pt" x1="413.3" y1="89.9" x2="356.4" y2="46.9"/><linearGradient id="f347" href="#pt" x1="341.7" y1="66.2" x2="350.4" y2="68.3"/><linearGradient id="f348" href="#pt" x1="341" y1="73.3" x2="351" y2="62.3"/><linearGradient id="f349" href="#pt" x1="329.1" y1="86.4" x2="361" y2="51.2"/><linearGradient id="f350" href="#pt" x1="364.1" y1="73.7" x2="331.4" y2="61.9"/><linearGradient id="f351" href="#pt" x1="362.5" y1="64.6" x2="365.8" y2="65.3"/><linearGradient id="f352" href="#pt" x1="356" y1="73.8" x2="370.2" y2="59.1"/><linearGradient id="f353" href="#pt" x1="347.4" y1="81.5" x2="375.9" y2="54"/><linearGradient id="f354" href="#pt" x1="378.6" y1="68.9" x2="355.1" y2="62.4"/><linearGradient id="f355" href="#pt" x1="332.3" y1="74.6" x2="359.4" y2="91.8"/><linearGradient id="f356" href="#pt" x1="341" y1="77.7" x2="337" y2="83.8"/><linearGradient id="f357" href="#pt" x1="330.6" y1="100.5" x2="363.8" y2="25.1"/><linearGradient id="f358" href="#pt" x1="356.5" y1="92.9" x2="297" y2="44.9"/><linearGradient id="f359" href="#pt" x1="351.2" y1="69.6" x2="361.2" y2="72.5"/><linearGradient id="f360" href="#pt" x1="352.3" y1="76.2" x2="360.2" y2="66.3"/><linearGradient id="f361" href="#pt" x1="339" y1="90.1" x2="372.5" y2="53.5"/><linearGradient id="f362" href="#pt" x1="376.9" y1="80.4" x2="337.5" y2="62.5"/><linearGradient id="f363" href="#pt" x1="291.8" y1="63.4" x2="293.9" y2="64"/><linearGradient id="f364" href="#pt" x1="282.6" y1="73.9" x2="297.9" y2="59.5"/><linearGradient id="f365" href="#pt" x1="272" y1="87.2" x2="302.4" y2="53.8"/><linearGradient id="f366" href="#pt" x1="308.6" y1="67.2" x2="286.7" y2="62.3"/><linearGradient id="f367" href="#pt" x1="364.8" y1="76.3" x2="396.6" y2="77.3"/><linearGradient id="f368" href="#pt" x1="380.5" y1="73.7" x2="373" y2="81.2"/><linearGradient id="f369" href="#pt" x1="360.1" y1="90" x2="403.8" y2="56.7"/><linearGradient id="f370" href="#pt" x1="399.9" y1="81.8" x2="343.8" y2="69"/><linearGradient id="f371" href="#pt" x1="348.7" y1="68" x2="350.2" y2="68.3"/><linearGradient id="f372" href="#pt" x1="340.6" y1="77.3" x2="355.6" y2="62.1"/><linearGradient id="f373" href="#pt" x1="333.1" y1="84.2" x2="360.6" y2="57.5"/><linearGradient id="f374" href="#pt" x1="362.4" y1="71.6" x2="341.1" y2="65.9"/><linearGradient id="f375" href="#pt" x1="308.6" y1="53.3" x2="304.5" y2="52.2"/><linearGradient id="f376" href="#pt" x1="286" y1="70.5" x2="304.5" y2="52.2"/><linearGradient id="f377" href="#pt" x1="278.3" y1="79.7" x2="304.5" y2="52.2"/><linearGradient id="f378" href="#pt" x1="320.7" y1="55.9" x2="304.5" y2="52.2"/><linearGradient id="f379" href="#pt" x1="337.9" y1="78.2" x2="358.9" y2="84.6"/><linearGradient id="f380" href="#pt" x1="344.5" y1="81.2" x2="346.3" y2="79"/><linearGradient id="f381" href="#pt" x1="331.5" y1="97" x2="371.1" y2="48.9"/><linearGradient id="f382" href="#pt" x1="361.9" y1="87.4" x2="313.2" y2="67.1"/><linearGradient id="f383" href="#pt" x1="396.2" y1="54.1" x2="395.1" y2="53.9"/><linearGradient id="f384" href="#pt" x1="379.3" y1="71.6" x2="395.6" y2="53.4"/><linearGradient id="f385" href="#pt" x1="370.3" y1="79.5" x2="395.9" y2="53.1"/><linearGradient id="f386" href="#pt" x1="413.2" y1="58.8" x2="394.5" y2="53.7"/><linearGradient id="f387" href="#pt" x1="362.2" y1="75.8" x2="377.8" y2="82.2"/><linearGradient id="f388" href="#pt" x1="367.8" y1="79.7" x2="369.6" y2="76.5"/><linearGradient id="f389" href="#pt" x1="353.3" y1="97" x2="391" y2="50.9"/><linearGradient id="f390" href="#pt" x1="390.1" y1="94.5" x2="336.7" y2="54.6"/><linearGradient id="f391" href="#pt" x1="354" y1="82.1" x2="387.7" y2="86.4"/><linearGradient id="f392" href="#pt" x1="366.4" y1="80.5" x2="358" y2="90.1"/><linearGradient id="f393" href="#pt" x1="350.3" y1="95.1" x2="396.5" y2="55.2"/><linearGradient id="f394" href="#pt" x1="383.3" y1="90.7" x2="317.5" y2="65.8"/><linearGradient id="f395" href="#pt" x1="325" y1="81" x2="351.2" y2="84.7"/><linearGradient id="f396" href="#pt" x1="333.7" y1="82.9" x2="335.6" y2="81.3"/><linearGradient id="f397" href="#pt" x1="319.5" y1="96.3" x2="361.1" y2="57.3"/><linearGradient id="f398" href="#pt" x1="345.3" y1="83.3" x2="314.9" y2="80.6"/><linearGradient id="f399" href="#pt" x1="282.4" y1="71.6" x2="303" y2="75.8"/><linearGradient id="f400" href="#pt" x1="290.9" y1="76.7" x2="296.8" y2="72"/><linearGradient id="f401" href="#pt" x1="272.7" y1="96.2" x2="310.1" y2="57.7"/><linearGradient id="f402" href="#pt" x1="310.1" y1="75.8" x2="282.7" y2="72.6"/><linearGradient id="f403" href="#pt" x1="377.4" y1="80.1" x2="420" y2="77.9"/><linearGradient id="f404" href="#pt" x1="407.3" y1="67" x2="382.4" y2="94.5"/><linearGradient id="f405" href="#pt" x1="374" y1="94.5" x2="424.3" y2="59.8"/><linearGradient id="f406" href="#pt" x1="434.8" y1="89.4" x2="347.7" y2="66.2"/><linearGradient id="f407" href="#pt" x1="336.6" y1="76" x2="341.8" y2="77.4"/><linearGradient id="f408" href="#pt" x1="333" y1="83.6" x2="344.8" y2="71.1"/><linearGradient id="f409" href="#pt" x1="322.4" y1="95.1" x2="353.6" y2="61.5"/><linearGradient id="f410" href="#pt" x1="353.2" y1="80" x2="328" y2="74.1"/><linearGradient id="f411" href="#pt" x1="361.7" y1="78.6" x2="371.2" y2="82.5"/><linearGradient id="f412" href="#pt" x1="363.4" y1="84.5" x2="369.1" y2="75.5"/><linearGradient id="f413" href="#pt" x1="350" y1="99.4" x2="385.1" y2="57.8"/><linearGradient id="f414" href="#pt" x1="387.3" y1="93.5" x2="340.8" y2="64.8"/><linearGradient id="f415" href="#pt" x1="342.5" y1="77.2" x2="344.1" y2="77.6"/><linearGradient id="f416" href="#pt" x1="335.4" y1="85.3" x2="349.9" y2="70.9"/><linearGradient id="f417" href="#pt" x1="327.8" y1="94" x2="356.2" y2="63.8"/><linearGradient id="f418" href="#pt" x1="354.9" y1="80.1" x2="334" y2="75.2"/><linearGradient id="f419" href="#pt" x1="380.2" y1="73" x2="388.2" y2="75.4"/><linearGradient id="f420" href="#pt" x1="380.1" y1="81.8" x2="388.3" y2="70.2"/><linearGradient id="f421" href="#pt" x1="364.5" y1="97.3" x2="397.6" y2="61"/><linearGradient id="f422" href="#pt" x1="409.9" y1="86" x2="370.7" y2="67.7"/><linearGradient id="f423" href="#pt" x1="383.8" y1="60.5" x2="381.3" y2="60"/><linearGradient id="f424" href="#pt" x1="364.7" y1="77.6" x2="381.9" y2="59.5"/><linearGradient id="f425" href="#pt" x1="356.7" y1="84.4" x2="382.2" y2="59.2"/><linearGradient id="f426" href="#pt" x1="398.1" y1="64.2" x2="380.9" y2="59.9"/><linearGradient id="f427" href="#pt" x1="331.1" y1="79.5" x2="337.3" y2="81.3"/><linearGradient id="f428" href="#pt" x1="328.3" y1="86.5" x2="340.1" y2="74.3"/><linearGradient id="f429" href="#pt" x1="317.6" y1="98.7" x2="350.8" y2="62.1"/><linearGradient id="f430" href="#pt" x1="347.2" y1="83.2" x2="321.2" y2="77.6"/><linearGradient id="f431" href="#pt" x1="330.9" y1="61.5" x2="326.7" y2="60.5"/><linearGradient id="f432" href="#pt" x1="309.1" y1="78.6" x2="327.3" y2="59.9"/><linearGradient id="f433" href="#pt" x1="302" y1="86.6" x2="327.6" y2="59.7"/><linearGradient id="f434" href="#pt" x1="341.4" y1="63.7" x2="326.3" y2="60.4"/><linearGradient id="f435" href="#pt" x1="381.2" y1="78.3" x2="391.5" y2="80.9"/><linearGradient id="f436" href="#pt" x1="382.6" y1="85.1" x2="390.3" y2="75.1"/><linearGradient id="f437" href="#pt" x1="368.5" y1="98.6" x2="402.4" y2="63.5"/><linearGradient id="f438" href="#pt" x1="407.8" y1="88.3" x2="368.6" y2="72.4"/><linearGradient id="f439" href="#pt" x1="343.4" y1="89.1" x2="378.8" y2="104.3"/><linearGradient id="f440" href="#pt" x1="354.6" y1="89" x2="345.6" y2="104.6"/><linearGradient id="f441" href="#pt" x1="339" y1="107.8" x2="391.9" y2="49.2"/><linearGradient id="f442" href="#pt" x1="372.9" y1="106.1" x2="291.4" y2="54.2"/><linearGradient id="f443" href="#pt" x1="331.5" y1="82.1" x2="334.7" y2="82.9"/><linearGradient id="f444" href="#pt" x1="326.1" y1="89.6" x2="340.1" y2="75.4"/><linearGradient id="f445" href="#pt" x1="317.5" y1="98.7" x2="348.7" y2="66.3"/><linearGradient id="f446" href="#pt" x1="344" y1="84.6" x2="322.2" y2="80.4"/><linearGradient id="f447" href="#pt" x1="397.1" y1="66.3" x2="396.2" y2="66.1"/><linearGradient id="f448" href="#pt" x1="381.8" y1="82.7" x2="397.6" y2="64.7"/><linearGradient id="f449" href="#pt" x1="372.6" y1="90.6" x2="398.4" y2="64"/><linearGradient id="f450" href="#pt" x1="413.6" y1="70.7" x2="394.8" y2="65.7"/><linearGradient id="f451" href="#pt" x1="330.1" y1="80.2" x2="334.5" y2="81.5"/><linearGradient id="f452" href="#pt" x1="325.4" y1="88.4" x2="337.7" y2="75.9"/><linearGradient id="f453" href="#pt" x1="314.3" y1="100.4" x2="345.4" y2="67.6"/><linearGradient id="f454" href="#pt" x1="346.4" y1="83.8" x2="323.3" y2="79.1"/><linearGradient id="f455" href="#pt" x1="356.9" y1="87" x2="364.8" y2="90.2"/><linearGradient id="f456" href="#pt" x1="357.3" y1="92.6" x2="364.3" y2="82.3"/><linearGradient id="f457" href="#pt" x1="345.6" y1="104.7" x2="380.7" y2="65.4"/><linearGradient id="f458" href="#pt" x1="378.4" y1="97.6" x2="334.6" y2="75.3"/><linearGradient id="f459" href="#pt" x1="299.1" y1="89.4" x2="342.8" y2="99.2"/><linearGradient id="f460" href="#pt" x1="316.2" y1="91.5" x2="311.2" y2="95.3"/><linearGradient id="f461" href="#pt" x1="295.7" y1="111.1" x2="348.9" y2="59"/><linearGradient id="f462" href="#pt" x1="327.6" y1="93.1" x2="290.1" y2="92.2"/><linearGradient id="f463" href="#pt" x1="271.6" y1="77.1" x2="301.8" y2="90.5"/><linearGradient id="f464" href="#pt" x1="287.6" y1="85" x2="288.7" y2="84.1"/><linearGradient id="f465" href="#pt" x1="265.2" y1="110.7" x2="307" y2="63.1"/><linearGradient id="f466" href="#pt" x1="311.4" y1="89.7" x2="269.2" y2="80.2"/><linearGradient id="f467" href="#pt" x1="357.9" y1="87.7" x2="365.5" y2="89.5"/><linearGradient id="f468" href="#pt" x1="356.5" y1="94.4" x2="366.9" y2="82.8"/><linearGradient id="f469" href="#pt" x1="345" y1="103.7" x2="378.4" y2="73.5"/><linearGradient id="f470" href="#pt" x1="377.5" y1="92.9" x2="345.9" y2="84.3"/><linearGradient id="f471" href="#pt" x1="287.4" y1="82.9" x2="295.6" y2="85.6"/><linearGradient id="f472" href="#pt" x1="285.5" y1="90.8" x2="296.8" y2="80.3"/><linearGradient id="f473" href="#pt" x1="272.6" y1="105.6" x2="305.4" y2="70.5"/><linearGradient id="f474" href="#pt" x1="308.3" y1="88" x2="281.6" y2="82.2"/><linearGradient id="f475" href="#pt" x1="390.5" y1="72.8" x2="388.7" y2="72.4"/><linearGradient id="f476" href="#pt" x1="373.3" y1="89.1" x2="390" y2="71.1"/><linearGradient id="f477" href="#pt" x1="364.8" y1="96.4" x2="390.6" y2="70.6"/><linearGradient id="f478" href="#pt" x1="405.2" y1="76.5" x2="387.6" y2="72.1"/><linearGradient id="f479" href="#pt" x1="369.8" y1="91.9" x2="417" y2="100.6"/><linearGradient id="f480" href="#pt" x1="395.8" y1="80.8" x2="377.2" y2="117.6"/><linearGradient id="f481" href="#pt" x1="364.8" y1="115.1" x2="424.7" y2="65"/><linearGradient id="f482" href="#pt" x1="431.8" y1="119.9" x2="322" y2="57.7"/><linearGradient id="f483" href="#pt" x1="306.9" y1="83.7" x2="310.3" y2="85.5"/><linearGradient id="f484" href="#pt" x1="301.9" y1="93.1" x2="312.7" y2="80.9"/><linearGradient id="f485" href="#pt" x1="288" y1="112.3" x2="319.5" y2="71.5"/><linearGradient id="f486" href="#pt" x1="330.1" y1="91.7" x2="298.9" y2="81.5"/><linearGradient id="f487" href="#pt" x1="357.3" y1="95.6" x2="383.3" y2="101.6"/><linearGradient id="f488" href="#pt" x1="368.4" y1="96.5" x2="365.6" y2="100.1"/><linearGradient id="f489" href="#pt" x1="349.4" y1="112.2" x2="395.9" y2="75.1"/><linearGradient id="f490" href="#pt" x1="390.2" y1="103.8" x2="330.9" y2="88.4"/><linearGradient id="f491" href="#pt" x1="378.6" y1="91" x2="394" y2="94.4"/><linearGradient id="f492" href="#pt" x1="384" y1="95.6" x2="388.6" y2="89.8"/><linearGradient id="f493" href="#pt" x1="367.5" y1="110.3" x2="405.1" y2="75.1"/><linearGradient id="f494" href="#pt" x1="407.7" y1="99.5" x2="364.9" y2="85.9"/><linearGradient id="f495" href="#pt" x1="361.4" y1="97.9" x2="393.2" y2="102.7"/><linearGradient id="f496" href="#pt" x1="375.2" y1="96.6" x2="368" y2="105"/><linearGradient id="f497" href="#pt" x1="355.4" y1="111.9" x2="404.1" y2="77.1"/><linearGradient id="f498" href="#pt" x1="394.6" y1="103.4" x2="332.7" y2="92.5"/><linearGradient id="f499" href="#pt" x1="308.4" y1="86" x2="303.7" y2="83.1"/><linearGradient id="f500" href="#pt" x1="295.1" y1="96.4" x2="308.6" y2="79.3"/><linearGradient id="f501" href="#pt" x1="285.1" y1="113.3" x2="312.2" y2="73.1"/><linearGradient id="f502" href="#pt" x1="327.4" y1="94.6" x2="296.8" y2="80"/><linearGradient id="f503" href="#pt" x1="351.7" y1="97.4" x2="371.4" y2="102.5"/><linearGradient id="f504" href="#pt" x1="358.7" y1="100.2" x2="360.5" y2="98.1"/><linearGradient id="f505" href="#pt" x1="342.9" y1="112.7" x2="385.4" y2="78.4"/><linearGradient id="f506" href="#pt" x1="377.3" y1="103.1" x2="331.2" y2="93.5"/><linearGradient id="f507" href="#pt" x1="280.2" y1="80.2" x2="347" y2="130.8"/><linearGradient id="f508" href="#pt" x1="312.2" y1="94.6" x2="296.6" y2="108.2"/><linearGradient id="f509" href="#pt" x1="282" y1="139.3" x2="344.2" y2="37.9"/><linearGradient id="f510" href="#pt" x1="331.5" y1="103.4" x2="266.3" y2="94.3"/><linearGradient id="f511" href="#pt" x1="340.7" y1="92.5" x2="341.8" y2="92.8"/><linearGradient id="f512" href="#pt" x1="333.1" y1="101" x2="348" y2="85.9"/><linearGradient id="f513" href="#pt" x1="324.6" y1="108.7" x2="355" y2="79.6"/><linearGradient id="f514" href="#pt" x1="352.2" y1="94.6" x2="332.4" y2="91.1"/><linearGradient id="f515" href="#pt" x1="316.5" y1="92" x2="321.3" y2="93.6"/><linearGradient id="f516" href="#pt" x1="312.6" y1="99.8" x2="324.2" y2="87.8"/><linearGradient id="f517" href="#pt" x1="300.9" y1="113.2" x2="332.9" y2="77.9"/><linearGradient id="f518" href="#pt" x1="333.9" y1="96.1" x2="308.4" y2="90.6"/><linearGradient id="f519" href="#pt" x1="319.2" y1="100.8" x2="352.2" y2="107.3"/><linearGradient id="f520" href="#pt" x1="330.8" y1="102.7" x2="329.5" y2="103.6"/><linearGradient id="f521" href="#pt" x1="313.2" y1="116.2" x2="363.9" y2="77.2"/><linearGradient id="f522" href="#pt" x1="340.9" y1="102.6" x2="309.8" y2="103.8"/><linearGradient id="f523" href="#pt" x1="293.4" y1="88.8" x2="300.1" y2="91.2"/><linearGradient id="f524" href="#pt" x1="290.6" y1="97.2" x2="301.8" y2="86.2"/><linearGradient id="f525" href="#pt" x1="277.8" y1="112.8" x2="309.4" y2="76.9"/><linearGradient id="f526" href="#pt" x1="314.7" y1="94.6" x2="287.3" y2="87.8"/><linearGradient id="f527" href="#pt" x1="371" y1="76.3" x2="367.5" y2="75.5"/><linearGradient id="f528" href="#pt" x1="350.3" y1="92.9" x2="368.1" y2="75"/><linearGradient id="f529" href="#pt" x1="342.8" y1="98.5" x2="368.4" y2="74.8"/><linearGradient id="f530" href="#pt" x1="383" y1="79" x2="367.1" y2="75.4"/><linearGradient id="f531" href="#pt" x1="359.8" y1="100.7" x2="376.8" y2="104.7"/><linearGradient id="f532" href="#pt" x1="364.9" y1="103.8" x2="368.5" y2="99.7"/><linearGradient id="f533" href="#pt" x1="351" y1="114.6" x2="391" y2="82.2"/><linearGradient id="f534" href="#pt" x1="382.5" y1="105.7" x2="340.2" y2="96.7"/><linearGradient id="f535" href="#pt" x1="356.2" y1="77.9" x2="352.1" y2="76.9"/><linearGradient id="f536" href="#pt" x1="334.7" y1="93.9" x2="352.7" y2="76.4"/><linearGradient id="f537" href="#pt" x1="327.4" y1="100" x2="353" y2="76.2"/><linearGradient id="f538" href="#pt" x1="366.6" y1="79.9" x2="351.8" y2="76.8"/><linearGradient id="f539" href="#pt" x1="324" y1="96.7" x2="324.2" y2="96.8"/><linearGradient id="f540" href="#pt" x1="318.7" y1="104.3" x2="328.7" y2="90.5"/><linearGradient id="f541" href="#pt" x1="307.2" y1="122.7" x2="338.1" y2="75.3"/><linearGradient id="f542" href="#pt" x1="343.8" y1="105.1" x2="307.8" y2="89.9"/><linearGradient id="f543" href="#pt" x1="296.2" y1="92.2" x2="311.8" y2="100.3"/><linearGradient id="f544" href="#pt" x1="301.7" y1="99.7" x2="307.2" y2="94.1"/><linearGradient id="f545" href="#pt" x1="284.3" y1="123.7" x2="321.7" y2="74.1"/><linearGradient id="f546" href="#pt" x1="326.5" y1="103" x2="286.6" y2="91.4"/><linearGradient id="f547" href="#pt" x1="321.3" y1="100.6" x2="335.7" y2="106.5"/><linearGradient id="f548" href="#pt" x1="324.8" y1="105.7" x2="330.9" y2="99.4"/><linearGradient id="f549" href="#pt" x1="310.7" y1="121" x2="350.8" y2="77.7"/><linearGradient id="f550" href="#pt" x1="341.2" y1="105.4" x2="307.6" y2="99.8"/><linearGradient id="f551" href="#pt" x1="288.2" y1="93.1" x2="324.4" y2="110.4"/><linearGradient id="f552" href="#pt" x1="305.4" y1="100.1" x2="303.4" y2="101.9"/><linearGradient id="f553" href="#pt" x1="282.3" y1="129.7" x2="331.7" y2="65.7"/><linearGradient id="f554" href="#pt" x1="326.5" y1="105" x2="277.7" y2="95.9"/><linearGradient id="f555" href="#pt" x1="362.6" y1="99.5" x2="374.3" y2="102.6"/><linearGradient id="f556" href="#pt" x1="364.4" y1="104.9" x2="372.1" y2="96"/><linearGradient id="f557" href="#pt" x1="350.6" y1="115.7" x2="389.1" y2="82.8"/><linearGradient id="f558" href="#pt" x1="385.3" y1="105.1" x2="346.7" y2="95.7"/><linearGradient id="f559" href="#pt" x1="374.2" y1="98.4" x2="383.3" y2="101.4"/><linearGradient id="f560" href="#pt" x1="375.2" y1="104.9" x2="382.3" y2="95"/><linearGradient id="f561" href="#pt" x1="360.9" y1="117.9" x2="396.5" y2="82"/><linearGradient id="f562" href="#pt" x1="398.7" y1="107.1" x2="359" y2="92.8"/><linearGradient id="f563" href="#pt" x1="313.5" y1="94.3" x2="315.1" y2="94.8"/><linearGradient id="f564" href="#pt" x1="305.3" y1="103.8" x2="320.2" y2="89"/><linearGradient id="f565" href="#pt" x1="295.4" y1="114" x2="326.2" y2="82.7"/><linearGradient id="f566" href="#pt" x1="327.9" y1="97.3" x2="306.3" y2="93"/><linearGradient id="f567" href="#pt" x1="290.8" y1="87.8" x2="300.3" y2="89.9"/><linearGradient id="f568" href="#pt" x1="289.5" y1="96.7" x2="300.8" y2="86.9"/><linearGradient id="f569" href="#pt" x1="274.7" y1="111.4" x2="305.9" y2="81.8"/><linearGradient id="f570" href="#pt" x1="314.4" y1="91.9" x2="292.2" y2="88.5"/><linearGradient id="f571" href="#pt" x1="307.3" y1="96.1" x2="357.8" y2="135"/><linearGradient id="f572" href="#pt" x1="327.8" y1="104.4" x2="315" y2="117.6"/><linearGradient id="f573" href="#pt" x1="299.6" y1="139.4" x2="373.8" y2="44.5"/><linearGradient id="f574" href="#pt" x1="344.8" y1="110.3" x2="279.4" y2="105.4"/><linearGradient id="f575" href="#pt" x1="339.1" y1="102.9" x2="344" y2="105.8"/><linearGradient id="f576" href="#pt" x1="337.7" y1="109.2" x2="345.7" y2="98.4"/><linearGradient id="f577" href="#pt" x1="324.5" y1="124.6" x2="361.3" y2="80.1"/><linearGradient id="f578" href="#pt" x1="358.6" y1="109.6" x2="320.9" y2="97.9"/><linearGradient id="f579" href="#pt" x1="336.2" y1="106.7" x2="371.8" y2="122.3"/><linearGradient id="f580" href="#pt" x1="348.5" y1="109.2" x2="341.9" y2="116.4"/><linearGradient id="f581" href="#pt" x1="327.2" y1="125.5" x2="393.4" y2="77"/><linearGradient id="f582" href="#pt" x1="362.2" y1="111.1" x2="308.9" y2="111.9"/><linearGradient id="f583" href="#pt" x1="313.4" y1="98.2" x2="349.6" y2="135.7"/><linearGradient id="f584" href="#pt" x1="328.3" y1="106.5" x2="318.7" y2="118.3"/><linearGradient id="f585" href="#pt" x1="304.5" y1="143.4" x2="368.1" y2="41.8"/><linearGradient id="f586" href="#pt" x1="348.4" y1="114.6" x2="277.1" y2="101.5"/><linearGradient id="f587" href="#pt" x1="381.9" y1="102.3" x2="409.7" y2="108.3"/><linearGradient id="f588" href="#pt" x1="396.7" y1="101.7" x2="391.6" y2="109"/><linearGradient id="f589" href="#pt" x1="374.2" y1="124.3" x2="419.1" y2="81.4"/><linearGradient id="f590" href="#pt" x1="421.6" y1="114.7" x2="361.2" y2="93.1"/><linearGradient id="f591" href="#pt" x1="288" y1="100.6" x2="312.7" y2="103"/><linearGradient id="f592" href="#pt" x1="298.6" y1="103.6" x2="303.2" y2="100.3"/><linearGradient id="f593" href="#pt" x1="280.7" y1="119.3" x2="319.3" y2="86.1"/><linearGradient id="f594" href="#pt" x1="314" y1="102.3" x2="289.2" y2="101.5"/><linearGradient id="f595" href="#pt" x1="380.9" y1="84.7" x2="377.8" y2="84"/><linearGradient id="f596" href="#pt" x1="361.2" y1="101.5" x2="378.9" y2="83.1"/><linearGradient id="f597" href="#pt" x1="353.2" y1="107.6" x2="379.3" y2="82.8"/><linearGradient id="f598" href="#pt" x1="393.6" y1="87.6" x2="377.2" y2="83.8"/><linearGradient id="f599" href="#pt" x1="298.7" y1="100.3" x2="314.4" y2="104.1"/><linearGradient id="f600" href="#pt" x1="303" y1="106.2" x2="310.9" y2="99.4"/><linearGradient id="f601" href="#pt" x1="287.4" y1="121.7" x2="323.4" y2="86.9"/><linearGradient id="f602" href="#pt" x1="322.6" y1="104.4" x2="295.1" y2="100.8"/><linearGradient id="f603" href="#pt" x1="321" y1="104.6" x2="334.3" y2="109.9"/><linearGradient id="f604" href="#pt" x1="323.5" y1="110.7" x2="331.3" y2="102.5"/><linearGradient id="f605" href="#pt" x1="307.8" y1="127.1" x2="350.4" y2="82.5"/><linearGradient id="f606" href="#pt" x1="342.6" y1="109.5" x2="307.9" y2="104"/><linearGradient id="f607" href="#pt" x1="315.9" y1="105.5" x2="338.3" y2="112.4"/><linearGradient id="f608" href="#pt" x1="324.5" y1="109.9" x2="327.6" y2="107"/><linearGradient id="f609" href="#pt" x1="306.2" y1="126.9" x2="350.3" y2="85.7"/><linearGradient id="f610" href="#pt" x1="340.9" y1="109.8" x2="307.1" y2="107"/><linearGradient id="f611" href="#pt" x1="311.4" y1="106" x2="323.1" y2="109.4"/><linearGradient id="f612" href="#pt" x1="312.9" y1="111.9" x2="321.7" y2="103.5"/><linearGradient id="f613" href="#pt" x1="299.6" y1="124.6" x2="334.8" y2="91"/><linearGradient id="f614" href="#pt" x1="330.9" y1="109.7" x2="303.8" y2="105.7"/><linearGradient id="f615" href="#pt" x1="558.5" y1="110.2" x2="699.8" y2="-74"/><linearGradient id="f616" href="#pt" x1="551.5" y1="100.8" x2="721.6" y2="-41.7"/><linearGradient id="f617" href="#pt" x1="571.4" y1="121.2" x2="647.5" y2="-116"/><linearGradient id="f618" href="#pt" x1="548" y1="87.6" x2="728.2" y2="-10.9"/><linearGradient id="f619" href="#pt" x1="574.7" y1="112.8" x2="610.9" y2="-104.1"/><linearGradient id="f620" href="#pt" x1="572.9" y1="105" x2="584.1" y2="-88.2"/><linearGradient id="f621" href="#pt" x1="573.8" y1="101.2" x2="542.3" y2="-74.4"/><linearGradient id="f622" href="#pt" x1="566.4" y1="104.4" x2="533.2" y2="-77.7"/><linearGradient id="f623" href="#pt" x1="552.6" y1="93.9" x2="714.4" y2="-33.8"/><linearGradient id="f624" href="#pt" x1="554.4" y1="109.6" x2="695.8" y2="-82.9"/><linearGradient id="f625" href="#pt" x1="552.5" y1="83" x2="719.5" y2="-5"/><linearGradient id="f626" href="#pt" x1="560.3" y1="108.6" x2="657.7" y2="-90.7"/><linearGradient id="f627" href="#pt" x1="552.7" y1="75.4" x2="720.3" y2="9.6"/><linearGradient id="f628" href="#pt" x1="561.9" y1="104.6" x2="624.5" y2="-86.7"/><linearGradient id="f629" href="#pt" x1="565.1" y1="113.4" x2="505.4" y2="-92.4"/><linearGradient id="f630" href="#pt" x1="566.4" y1="105.4" x2="570.6" y2="-90.4"/><linearGradient id="f631" href="#pt" x1="577.7" y1="118.2" x2="445.1" y2="-85.7"/><linearGradient id="f632" href="#pt" x1="568.1" y1="102.8" x2="526.8" y2="-71.5"/><linearGradient id="f633" href="#pt" x1="569.8" y1="103.9" x2="489.6" y2="-60.7"/><linearGradient id="f634" href="#pt" x1="589.3" y1="127.5" x2="401.7" y2="-90.4"/><linearGradient id="f635" href="#pt" x1="576.1" y1="104" x2="449.7" y2="-45.1"/><linearGradient id="f636" href="#pt" x1="602.2" y1="91.2" x2="373.9" y2="7.5"/><linearGradient id="f637" href="#pt" x1="564.2" y1="103.8" x2="709.4" y2="-33"/><linearGradient id="f638" href="#pt" x1="581.4" y1="107.5" x2="421.3" y2="-40.8"/><linearGradient id="f639" href="#pt" x1="567.2" y1="113.6" x2="687.2" y2="-76.9"/><linearGradient id="f640" href="#pt" x1="562.8" y1="97" x2="716.4" y2="-7.4"/><linearGradient id="f641" href="#pt" x1="569.9" y1="110.4" x2="655.4" y2="-83.5"/><linearGradient id="f642" href="#pt" x1="559.8" y1="90.6" x2="721" y2="9.3"/><linearGradient id="f643" href="#pt" x1="569.3" y1="105.5" x2="626.2" y2="-81.1"/><linearGradient id="f644" href="#pt" x1="570" y1="105.2" x2="574" y2="-89.5"/><linearGradient id="f645" href="#pt" x1="596.8" y1="67.8" x2="390.5" y2="52.8"/><linearGradient id="f646" href="#pt" x1="586.7" y1="86.8" x2="405.9" y2="16.6"/><linearGradient id="f647" href="#pt" x1="570.9" y1="109.2" x2="517.8" y2="-95.7"/><linearGradient id="f648" href="#pt" x1="560.8" y1="103.3" x2="708.9" y2="-41.8"/><linearGradient id="f649" href="#pt" x1="563.2" y1="93.8" x2="712.3" y2="-5.2"/><linearGradient id="f650" href="#pt" x1="562.9" y1="104.1" x2="684.7" y2="-57.8"/><linearGradient id="f651" href="#pt" x1="578" y1="112.8" x2="449.7" y2="-82.3"/><linearGradient id="f652" href="#pt" x1="564.8" y1="86.8" x2="711.9" y2="15.2"/><linearGradient id="f653" href="#pt" x1="595.6" y1="52" x2="396.3" y2="72.3"/><linearGradient id="f654" href="#pt" x1="563" y1="102.2" x2="658.2" y2="-64.6"/><linearGradient id="f655" href="#pt" x1="583.3" y1="71.4" x2="413" y2="46.8"/><linearGradient id="f656" href="#pt" x1="563.4" y1="82.4" x2="714.7" y2="23.7"/><linearGradient id="f657" href="#pt" x1="564" y1="106" x2="608.2" y2="-93.8"/><linearGradient id="f658" href="#pt" x1="572.1" y1="107.6" x2="511.4" y2="-87.4"/><linearGradient id="f659" href="#pt" x1="587.4" y1="107.5" x2="401.4" y2="-34.4"/><linearGradient id="f660" href="#pt" x1="582.8" y1="60.6" x2="413.8" y2="60.5"/><linearGradient id="f661" href="#pt" x1="553.8" y1="47.7" x2="451.5" y2="68.4"/><linearGradient id="f662" href="#pt" x1="577.3" y1="104.4" x2="453.2" y2="-44.8"/><linearGradient id="f663" href="#pt" x1="596.1" y1="106.7" x2="371.7" y2="-14.8"/><linearGradient id="f664" href="#pt" x1="580.9" y1="100.2" x2="424.7" y2="-8.4"/><linearGradient id="f665" href="#pt" x1="553.9" y1="47.5" x2="451.3" y2="68.7"/><linearGradient id="f666" href="#pt" x1="590.4" y1="83.5" x2="393.6" y2="53.1"/><linearGradient id="f667" href="#pt" x1="549.4" y1="45.9" x2="453.8" y2="62.1"/><linearGradient id="f668" href="#pt" x1="584.5" y1="99.6" x2="405.4" y2="5.9"/><linearGradient id="f669" href="#pt" x1="567.1" y1="110.2" x2="717.6" y2="-34"/><linearGradient id="f670" href="#pt" x1="569.7" y1="103" x2="716.6" y2="1.9"/><linearGradient id="f671" href="#pt" x1="567.8" y1="110" x2="701.1" y2="-51.4"/><linearGradient id="f672" href="#pt" x1="571.3" y1="98.4" x2="713.9" y2="19.2"/><linearGradient id="f673" href="#pt" x1="567.5" y1="107.5" x2="679.7" y2="-62.5"/><linearGradient id="f674" href="#pt" x1="569.1" y1="95.6" x2="717" y2="26.8"/><linearGradient id="f675" href="#pt" x1="566.9" y1="111.7" x2="631.3" y2="-115.2"/><linearGradient id="f676" href="#pt" x1="582.6" y1="70.4" x2="415" y2="76.1"/><linearGradient id="f677" href="#pt" x1="551" y1="43.6" x2="452.5" y2="64"/><linearGradient id="f678" href="#pt" x1="581.4" y1="84.5" x2="414.3" y2="50.9"/><linearGradient id="f679" href="#pt" x1="578.4" y1="119.6" x2="471.9" y2="-149.8"/><linearGradient id="f680" href="#pt" x1="589.8" y1="108.7" x2="375.1" y2="-30.2"/><linearGradient id="f681" href="#pt" x1="566.1" y1="103.8" x2="721.7" y2="-8.9"/><linearGradient id="f682" href="#pt" x1="565.8" y1="105" x2="711.3" y2="-26.4"/><linearGradient id="f683" href="#pt" x1="570.3" y1="97.9" x2="714.6" y2="17.3"/><linearGradient id="f684" href="#pt" x1="565.2" y1="104.1" x2="695.5" y2="-39.1"/><linearGradient id="f685" href="#pt" x1="573" y1="93.4" x2="710.1" y2="31"/><linearGradient id="f686" href="#pt" x1="580.6" y1="60.6" x2="420.6" y2="85"/><linearGradient id="f687" href="#pt" x1="575.8" y1="74.1" x2="427.3" y2="69.5"/><linearGradient id="f688" href="#pt" x1="562.9" y1="110.2" x2="664.3" y2="-103.1"/><linearGradient id="f689" href="#pt" x1="571.6" y1="90.4" x2="712.5" y2="36.2"/><linearGradient id="f690" href="#pt" x1="579.1" y1="117.9" x2="466.3" y2="-136.7"/><linearGradient id="f691" href="#pt" x1="589.4" y1="98.1" x2="382.7" y2="40.2"/><linearGradient id="f692" href="#pt" x1="585.4" y1="104.8" x2="400.3" y2="-8.2"/><linearGradient id="f693" href="#pt" x1="574.1" y1="66.3" x2="429.8" y2="76.8"/><linearGradient id="f694" href="#pt" x1="556.2" y1="57.8" x2="453.1" y2="78.6"/><linearGradient id="f695" href="#pt" x1="592.1" y1="94.1" x2="377.2" y2="59.8"/><linearGradient id="f696" href="#pt" x1="584.1" y1="97.4" x2="405.5" y2="43.1"/><linearGradient id="f697" href="#pt" x1="556.6" y1="57.2" x2="452.7" y2="79.3"/><linearGradient id="f698" href="#pt" x1="581.7" y1="83.4" x2="414.4" y2="87.5"/><linearGradient id="f699" href="#pt" x1="554.6" y1="55.9" x2="452.5" y2="72"/><linearGradient id="f700" href="#pt" x1="585.2" y1="94.8" x2="399.9" y2="57.7"/><linearGradient id="f701" href="#pt" x1="568.3" y1="110.1" x2="738.8" y2="11.1"/><linearGradient id="f702" href="#pt" x1="573.9" y1="105.6" x2="722.7" y2="32.1"/><linearGradient id="f703" href="#pt" x1="566.8" y1="110.8" x2="740.6" y2="-2.9"/><linearGradient id="f704" href="#pt" x1="566" y1="110.1" x2="737" y2="-15.9"/><linearGradient id="f705" href="#pt" x1="577.3" y1="102.9" x2="714.5" y2="40.6"/><linearGradient id="f706" href="#pt" x1="558.7" y1="119.2" x2="763.1" y2="-122"/><linearGradient id="f707" href="#pt" x1="576.3" y1="102.1" x2="715.6" y2="42.1"/><linearGradient id="f708" href="#pt" x1="574.4" y1="76.4" x2="433.5" y2="94.4"/><linearGradient id="f709" href="#pt" x1="578.1" y1="85.4" x2="423.5" y2="82.7"/><linearGradient id="f710" href="#pt" x1="556.5" y1="53.2" x2="450.9" y2="74.2"/><linearGradient id="f711" href="#pt" x1="594.8" y1="100.2" x2="342.6" y2="86.2"/><linearGradient id="f712" href="#pt" x1="568.8" y1="107.8" x2="736.7" y2="20.6"/><linearGradient id="f713" href="#pt" x1="567" y1="108.8" x2="739.3" y2="8.2"/><linearGradient id="f714" href="#pt" x1="574.3" y1="104.4" x2="721.3" y2="36.2"/><linearGradient id="f715" href="#pt" x1="566.1" y1="108.4" x2="736.8" y2="-2"/><linearGradient id="f716" href="#pt" x1="572.6" y1="70" x2="436.7" y2="96.3"/><linearGradient id="f717" href="#pt" x1="577.9" y1="101.6" x2="713.1" y2="43.8"/><linearGradient id="f718" href="#pt" x1="557.6" y1="117.1" x2="773.8" y2="-100.8"/><linearGradient id="f719" href="#pt" x1="571.7" y1="78.8" x2="438.7" y2="89.9"/><linearGradient id="f720" href="#pt" x1="577.8" y1="99.3" x2="712.9" y2="47.3"/><linearGradient id="f721" href="#pt" x1="586.2" y1="94.5" x2="401.2" y2="110.1"/><linearGradient id="f722" href="#pt" x1="592.7" y1="100.8" x2="356.3" y2="82"/><linearGradient id="f723" href="#pt" x1="570" y1="73.1" x2="440.7" y2="91.7"/><linearGradient id="f724" href="#pt" x1="559" y1="67.8" x2="454.3" y2="88.8"/><linearGradient id="f725" href="#pt" x1="585.8" y1="91.1" x2="403.4" y2="114.1"/><linearGradient id="f726" href="#pt" x1="584.7" y1="95.5" x2="407.7" y2="105.5"/><linearGradient id="f727" href="#pt" x1="576.9" y1="87.4" x2="432.8" y2="113.5"/><linearGradient id="f728" href="#pt" x1="559.8" y1="66.5" x2="453.4" y2="90.2"/><linearGradient id="f729" href="#pt" x1="584.2" y1="92.4" x2="409.1" y2="109.3"/><linearGradient id="f730" href="#pt" x1="560.3" y1="65.9" x2="450.4" y2="81.8"/><linearGradient id="f731" href="#pt" x1="569" y1="111.6" x2="751.7" y2="56.1"/><linearGradient id="f732" href="#pt" x1="576.1" y1="110.2" x2="729.4" y2="59.1"/><linearGradient id="f733" href="#pt" x1="566" y1="111.6" x2="763.2" y2="58.3"/><linearGradient id="f734" href="#pt" x1="564.7" y1="111.5" x2="769.4" y2="61.8"/><linearGradient id="f735" href="#pt" x1="580.8" y1="109.3" x2="718.4" y2="58.7"/><linearGradient id="f736" href="#pt" x1="544.1" y1="110.7" x2="919.9" y2="72.7"/><linearGradient id="f737" href="#pt" x1="581.8" y1="109.7" x2="716.4" y2="55.6"/><linearGradient id="f738" href="#pt" x1="570.8" y1="83.7" x2="446.8" y2="110"/><linearGradient id="f739" href="#pt" x1="576.5" y1="88" x2="434.1" y2="112"/><linearGradient id="f740" href="#pt" x1="562.5" y1="62.9" x2="448.4" y2="84.5"/><linearGradient id="f741" href="#pt" x1="591.5" y1="95.8" x2="395.8" y2="184.8"/><linearGradient id="f742" href="#pt" x1="568.1" y1="112.9" x2="755.5" y2="50.6"/><linearGradient id="f743" href="#pt" x1="565" y1="112.8" x2="768.2" y2="51.8"/><linearGradient id="f744" href="#pt" x1="575" y1="112" x2="733.1" y2="53.1"/><linearGradient id="f745" href="#pt" x1="564.1" y1="112.3" x2="774.1" y2="56.4"/><linearGradient id="f746" href="#pt" x1="570.4" y1="84.2" x2="447.5" y2="109"/><linearGradient id="f747" href="#pt" x1="569.7" y1="79.5" x2="446.8" y2="107.1"/><linearGradient id="f748" href="#pt" x1="579.7" y1="111.2" x2="720.9" y2="54"/><linearGradient id="f749" href="#pt" x1="583.1" y1="96.4" x2="436.6" y2="154.5"/><linearGradient id="f750" href="#pt" x1="582.4" y1="108.7" x2="715.4" y2="57.4"/><linearGradient id="f751" href="#pt" x1="591.9" y1="94.2" x2="393.5" y2="194.9"/><linearGradient id="f752" href="#pt" x1="569.3" y1="80.1" x2="447.4" y2="106.2"/><linearGradient id="f753" href="#pt" x1="562.8" y1="77.5" x2="454.3" y2="99"/><linearGradient id="f754" href="#pt" x1="582.1" y1="93.4" x2="432.5" y2="148.9"/><linearGradient id="f755" href="#pt" x1="583.3" y1="95.6" x2="435.4" y2="158.5"/><linearGradient id="f756" href="#pt" x1="575.7" y1="92.9" x2="447.5" y2="134.4"/><linearGradient id="f757" href="#pt" x1="564" y1="75.4" x2="452.7" y2="101.6"/><linearGradient id="f758" href="#pt" x1="582.5" y1="92.3" x2="431.2" y2="152.7"/><linearGradient id="f759" href="#pt" x1="566.6" y1="76.1" x2="447.2" y2="91.4"/><linearGradient id="f760" href="#pt" x1="568.2" y1="113.2" x2="758.6" y2="99.3"/><linearGradient id="f761" href="#pt" x1="575.9" y1="115.3" x2="738.1" y2="84.3"/><linearGradient id="f762" href="#pt" x1="565.2" y1="111.1" x2="764.6" y2="120"/><linearGradient id="f763" href="#pt" x1="564.6" y1="111.1" x2="759.5" y2="139"/><linearGradient id="f764" href="#pt" x1="581.5" y1="116.6" x2="726.3" y2="74.5"/><linearGradient id="f765" href="#pt" x1="555.3" y1="94.6" x2="783.2" y2="266.6"/><linearGradient id="f766" href="#pt" x1="585.9" y1="118" x2="719.2" y2="67.7"/><linearGradient id="f767" href="#pt" x1="570.6" y1="91.2" x2="455.5" y2="124.4"/><linearGradient id="f768" href="#pt" x1="576.4" y1="91.1" x2="445.6" y2="139.1"/><linearGradient id="f769" href="#pt" x1="583.6" y1="79" x2="526" y2="362.9"/><linearGradient id="f770" href="#pt" x1="569.1" y1="72.6" x2="444.8" y2="94.8"/><linearGradient id="f771" href="#pt" x1="588.1" y1="97.2" x2="462.6" y2="221.5"/><linearGradient id="f772" href="#pt" x1="562.8" y1="116.8" x2="779.3" y2="85.8"/><linearGradient id="f773" href="#pt" x1="559.4" y1="113.2" x2="792.3" y2="110.2"/><linearGradient id="f774" href="#pt" x1="571.4" y1="120.1" x2="752.1" y2="69.7"/><linearGradient id="f775" href="#pt" x1="560.1" y1="111.7" x2="787.1" y2="135.3"/><linearGradient id="f776" href="#pt" x1="571.4" y1="89.5" x2="454" y2="127.7"/><linearGradient id="f777" href="#pt" x1="570.5" y1="88.6" x2="451.7" y2="118.2"/><linearGradient id="f778" href="#pt" x1="578" y1="121.9" x2="734.8" y2="61.6"/><linearGradient id="f779" href="#pt" x1="549" y1="86.1" x2="826.8" y2="326.1"/><linearGradient id="f780" href="#pt" x1="585.6" y1="118.6" x2="719.8" y2="66.6"/><linearGradient id="f781" href="#pt" x1="582.5" y1="100.5" x2="468.8" y2="179.1"/><linearGradient id="f782" href="#pt" x1="583.8" y1="79" x2="524.7" y2="362.9"/><linearGradient id="f783" href="#pt" x1="585.8" y1="93.8" x2="474.8" y2="239.3"/><linearGradient id="f784" href="#pt" x1="571.6" y1="86.6" x2="450.1" y2="121.3"/><linearGradient id="f785" href="#pt" x1="567.8" y1="87.2" x2="452.4" y2="109.2"/><linearGradient id="f786" href="#pt" x1="581.6" y1="97.3" x2="456.3" y2="172.4"/><linearGradient id="f787" href="#pt" x1="581.9" y1="97.9" x2="471.6" y2="189.9"/><linearGradient id="f788" href="#pt" x1="577.6" y1="98.1" x2="457.6" y2="153.4"/><linearGradient id="f789" href="#pt" x1="569.7" y1="83.8" x2="450" y2="113.5"/><linearGradient id="f790" href="#pt" x1="581.2" y1="93.7" x2="457.8" y2="184.2"/><linearGradient id="f791" href="#pt" x1="573.5" y1="86.5" x2="442.7" y2="100.8"/><linearGradient id="f792" href="#pt" x1="565.6" y1="113.2" x2="762.7" y2="140.8"/><linearGradient id="f793" href="#pt" x1="572.5" y1="119.8" x2="750.8" y2="109.2"/><linearGradient id="f794" href="#pt" x1="564.9" y1="108.8" x2="752.3" y2="172.2"/><linearGradient id="f795" href="#pt" x1="579.1" y1="124.5" x2="739.7" y2="88.9"/><linearGradient id="f796" href="#pt" x1="566.1" y1="109.7" x2="729.6" y2="189.8"/><linearGradient id="f797" href="#pt" x1="588.9" y1="127" x2="723.6" y2="78.4"/><linearGradient id="f798" href="#pt" x1="570.2" y1="94.8" x2="669.2" y2="270.6"/><linearGradient id="f799" href="#pt" x1="573.6" y1="98" x2="459.6" y2="138.9"/><linearGradient id="f800" href="#pt" x1="577.9" y1="93.6" x2="456.9" y2="164.9"/><linearGradient id="f801" href="#pt" x1="576.7" y1="82.4" x2="439.5" y2="104.9"/><linearGradient id="f802" href="#pt" x1="581.9" y1="93" x2="566.6" y2="275.5"/><linearGradient id="f803" href="#pt" x1="587.1" y1="99.5" x2="507.1" y2="232.9"/><linearGradient id="f804" href="#pt" x1="551.9" y1="115.5" x2="808.3" y2="133.2"/><linearGradient id="f805" href="#pt" x1="561.3" y1="127.3" x2="782.5" y2="88.1"/><linearGradient id="f806" href="#pt" x1="552.6" y1="105.7" x2="800.1" y2="184.2"/><linearGradient id="f807" href="#pt" x1="574.8" y1="97" x2="451.5" y2="129.8"/><linearGradient id="f808" href="#pt" x1="571.5" y1="134.3" x2="757.6" y2="65.9"/><linearGradient id="f809" href="#pt" x1="574.6" y1="93.8" x2="457.6" y2="147.4"/><linearGradient id="f810" href="#pt" x1="558.5" y1="105.2" x2="764.7" y2="210.7"/><linearGradient id="f811" href="#pt" x1="573.3" y1="84.3" x2="654.1" y2="321.5"/><linearGradient id="f812" href="#pt" x1="587.8" y1="128.8" x2="725.7" y2="75"/><linearGradient id="f813" href="#pt" x1="584.4" y1="104.1" x2="491.7" y2="195.5"/><linearGradient id="f814" href="#pt" x1="582.1" y1="92.9" x2="565.9" y2="275.8"/><linearGradient id="f815" href="#pt" x1="577" y1="91.8" x2="448" y2="138.2"/><linearGradient id="f816" href="#pt" x1="581.5" y1="97.2" x2="529.5" y2="242.3"/><linearGradient id="f817" href="#pt" x1="574.6" y1="96.7" x2="447.8" y2="119.4"/><linearGradient id="f818" href="#pt" x1="584" y1="100.3" x2="473.1" y2="192.2"/><linearGradient id="f819" href="#pt" x1="581.6" y1="100.6" x2="501.1" y2="207.3"/><linearGradient id="f820" href="#pt" x1="577.5" y1="91.5" x2="443.8" y2="126.2"/><linearGradient id="f821" href="#pt" x1="582.4" y1="101.7" x2="462.6" y2="173.3"/><linearGradient id="f822" href="#pt" x1="581.3" y1="97.2" x2="436.4" y2="109.6"/><linearGradient id="f823" href="#pt" x1="581" y1="94.8" x2="481.6" y2="207.8"/><linearGradient id="f824" href="#pt" x1="564.6" y1="122.5" x2="771" y2="136.2"/><linearGradient id="f825" href="#pt" x1="560.6" y1="109.7" x2="768.6" y2="183.2"/><linearGradient id="f826" href="#pt" x1="572" y1="132.7" x2="761.7" y2="102.3"/><linearGradient id="f827" href="#pt" x1="564.8" y1="103.6" x2="737.6" y2="215.7"/><linearGradient id="f828" href="#pt" x1="568.1" y1="106.9" x2="704.1" y2="221.8"/><linearGradient id="f829" href="#pt" x1="590.9" y1="136.6" x2="729.5" y2="87.9"/><linearGradient id="f830" href="#pt" x1="579.9" y1="103.6" x2="458.4" y2="154.8"/><linearGradient id="f831" href="#pt" x1="581" y1="97.4" x2="622.9" y2="256.5"/><linearGradient id="f832" href="#pt" x1="580.7" y1="94.2" x2="466.8" y2="191.4"/><linearGradient id="f833" href="#pt" x1="585.3" y1="92.5" x2="432.1" y2="114.8"/><linearGradient id="f834" href="#pt" x1="584.4" y1="99.1" x2="576.4" y2="248.8"/><linearGradient id="f835" href="#pt" x1="535.7" y1="102.6" x2="839.8" y2="203.6"/><linearGradient id="f836" href="#pt" x1="540.3" y1="131.5" x2="833.3" y2="113.2"/><linearGradient id="f837" href="#pt" x1="587.1" y1="99.3" x2="535.4" y2="244"/><linearGradient id="f838" href="#pt" x1="550.4" y1="88.1" x2="782.7" y2="264.8"/><linearGradient id="f839" href="#pt" x1="557.2" y1="149.4" x2="795" y2="64.7"/><linearGradient id="f840" href="#pt" x1="583.3" y1="104.5" x2="444.5" y2="142.5"/><linearGradient id="f841" href="#pt" x1="580.2" y1="96" x2="457.7" y2="170"/><linearGradient id="f842" href="#pt" x1="561.9" y1="95" x2="725.6" y2="263.4"/><linearGradient id="f843" href="#pt" x1="589.4" y1="139.2" x2="732.6" y2="83"/><linearGradient id="f844" href="#pt" x1="589.1" y1="89.9" x2="595.2" y2="282.1"/><linearGradient id="f845" href="#pt" x1="588.3" y1="105.2" x2="506" y2="212.7"/><linearGradient id="f846" href="#pt" x1="584.6" y1="99" x2="575.7" y2="249.1"/><linearGradient id="f847" href="#pt" x1="586.6" y1="94.7" x2="439.1" y2="158.9"/><linearGradient id="f848" href="#pt" x1="584" y1="106.4" x2="438.8" y2="129.2"/><linearGradient id="f849" href="#pt" x1="578.8" y1="99.5" x2="561.3" y2="243.4"/><linearGradient id="f850" href="#pt" x1="589" y1="100.1" x2="482.5" y2="214.7"/><linearGradient id="f851" href="#pt" x1="582.8" y1="101.6" x2="521.4" y2="222.9"/><linearGradient id="f852" href="#pt" x1="588.6" y1="98.7" x2="432.4" y2="140"/><linearGradient id="f853" href="#pt" x1="591" y1="101.8" x2="460.6" y2="198.1"/><linearGradient id="f854" href="#pt" x1="590.2" y1="108.6" x2="427.9" y2="117.6"/><linearGradient id="f855" href="#pt" x1="582" y1="93.6" x2="500" y2="231"/><linearGradient id="f856" href="#pt" x1="590.7" y1="106.9" x2="449.3" y2="174.3"/><linearGradient id="f857" href="#pt" x1="595.4" y1="103" x2="421.8" y2="124.1"/><linearGradient id="f858" href="#pt" x1="584.9" y1="90.5" x2="474.1" y2="223.3"/><linearGradient id="f859" href="#pt" x1="598" y1="111.1" x2="426.7" y2="156.9"/><linearGradient id="f860" href="#pt" x1="589.3" y1="93.9" x2="452" y2="199.6"/><linearGradient id="f861" href="#pt" x1="603" y1="92.7" x2="418.3" y2="188.1"/><linearGradient id="f862" href="#pt" x1="597.2" y1="116.8" x2="423.3" y2="137.9"/><linearGradient id="f863" href="#pt" x1="604.8" y1="105.3" x2="412.2" y2="154.8"/><linearGradient id="f864" href="#pt" x1="600.2" y1="120.8" x2="416.5" y2="124.1"/><linearGradient id="f865" href="#pt" x1="607.3" y1="114.4" x2="407.6" y2="132.2"/><linearGradient id="f866" href="#pt" x1="605.9" y1="58" x2="617.2" y2="60.7"/><linearGradient id="f867" href="#pt" x1="606.6" y1="66.6" x2="616.6" y2="53.2"/><linearGradient id="f868" href="#pt" x1="591.3" y1="81.4" x2="630" y2="40.3"/><linearGradient id="f869" href="#pt" x1="638.1" y1="75" x2="589.1" y2="45.9"/><linearGradient id="f870" href="#pt" x1="580.4" y1="54.2" x2="586.6" y2="55.2"/><linearGradient id="f871" href="#pt" x1="573.6" y1="65.8" x2="590.8" y2="48"/><linearGradient id="f872" href="#pt" x1="563.5" y1="75.8" x2="597.1" y2="41.7"/><linearGradient id="f873" href="#pt" x1="602.5" y1="60.8" x2="572.7" y2="51.1"/><linearGradient id="f874" href="#pt" x1="580.1" y1="69.6" x2="605" y2="69.6"/><linearGradient id="f875" href="#pt" x1="586.6" y1="71.5" x2="592.9" y2="66"/><linearGradient id="f876" href="#pt" x1="574.7" y1="82.1" x2="615.1" y2="46.3"/><linearGradient id="f877" href="#pt" x1="603.8" y1="73.8" x2="561" y2="61.8"/><linearGradient id="f878" href="#pt" x1="558.1" y1="66.9" x2="580.8" y2="69.2"/><linearGradient id="f879" href="#pt" x1="563.1" y1="71.1" x2="572.6" y2="62.4"/><linearGradient id="f880" href="#pt" x1="552.2" y1="87.3" x2="590.4" y2="35.9"/><linearGradient id="f881" href="#pt" x1="581.4" y1="72.4" x2="542.8" y2="60.3"/><linearGradient id="f882" href="#pt" x1="597.3" y1="37.3" x2="592.7" y2="36.3"/><linearGradient id="f883" href="#pt" x1="570" y1="59.5" x2="592.7" y2="36.3"/><linearGradient id="f884" href="#pt" x1="563.2" y1="65.3" x2="592.7" y2="36.3"/><linearGradient id="f885" href="#pt" x1="611.8" y1="41.4" x2="592.7" y2="36.3"/><linearGradient id="f886" href="#pt" x1="566.9" y1="68.4" x2="578.8" y2="73.1"/><linearGradient id="f887" href="#pt" x1="567.5" y1="74.5" x2="577.6" y2="61.2"/><linearGradient id="f888" href="#pt" x1="560.3" y1="91.3" x2="591.5" y2="29"/><linearGradient id="f889" href="#pt" x1="587.4" y1="82.5" x2="539.4" y2="45.9"/><linearGradient id="f890" href="#pt" x1="567.1" y1="58.7" x2="567.7" y2="58.8"/><linearGradient id="f891" href="#pt" x1="555.9" y1="71.1" x2="575.2" y2="50.6"/><linearGradient id="f892" href="#pt" x1="549.3" y1="81.4" x2="579.6" y2="43.7"/><linearGradient id="f893" href="#pt" x1="581" y1="62.5" x2="558.5" y2="56.3"/><linearGradient id="f894" href="#pt" x1="536.1" y1="74.3" x2="621.2" y2="91.1"/><linearGradient id="f895" href="#pt" x1="560.8" y1="75.6" x2="545.2" y2="87"/><linearGradient id="f896" href="#pt" x1="545.8" y1="101.6" x2="591.4" y2="7.4"/><linearGradient id="f897" href="#pt" x1="572" y1="82.9" x2="511" y2="64.7"/><linearGradient id="f898" href="#pt" x1="549.8" y1="60.4" x2="551.4" y2="60.8"/><linearGradient id="f899" href="#pt" x1="539.3" y1="71.9" x2="558.3" y2="53.3"/><linearGradient id="f900" href="#pt" x1="531.2" y1="83.1" x2="563.6" y2="45.9"/><linearGradient id="f901" href="#pt" x1="563.9" y1="63.5" x2="542.2" y2="58.8"/><linearGradient id="f902" href="#pt" x1="548.3" y1="60.2" x2="549.5" y2="60.5"/><linearGradient id="f903" href="#pt" x1="537.2" y1="72.1" x2="556.9" y2="52.6"/><linearGradient id="f904" href="#pt" x1="529" y1="83.7" x2="562.3" y2="44.9"/><linearGradient id="f905" href="#pt" x1="562.5" y1="63.4" x2="540" y2="58.4"/><linearGradient id="f906" href="#pt" x1="545.3" y1="68.1" x2="562.9" y2="70.4"/><linearGradient id="f907" href="#pt" x1="547.8" y1="73.5" x2="559.8" y2="63.5"/><linearGradient id="f908" href="#pt" x1="535.9" y1="88.2" x2="574.7" y2="45.1"/><linearGradient id="f909" href="#pt" x1="565" y1="70.9" x2="538.2" y2="66.8"/><linearGradient id="f910" href="#pt" x1="608.4" y1="65.6" x2="631.6" y2="67.4"/><linearGradient id="f911" href="#pt" x1="619.1" y1="68.2" x2="621.8" y2="65"/><linearGradient id="f912" href="#pt" x1="598.2" y1="85.2" x2="640.9" y2="49.4"/><linearGradient id="f913" href="#pt" x1="651" y1="80.2" x2="592.5" y2="54"/><linearGradient id="f914" href="#pt" x1="612.4" y1="58.4" x2="615.7" y2="59"/><linearGradient id="f915" href="#pt" x1="601.8" y1="71.7" x2="621.3" y2="51.9"/><linearGradient id="f916" href="#pt" x1="591.6" y1="79.6" x2="626.8" y2="47.6"/><linearGradient id="f917" href="#pt" x1="633.8" y1="64.7" x2="604.1" y2="55.6"/><linearGradient id="f918" href="#pt" x1="596.1" y1="73.3" x2="624.3" y2="74.2"/><linearGradient id="f919" href="#pt" x1="607.4" y1="73.8" x2="607.7" y2="73.5"/><linearGradient id="f920" href="#pt" x1="589.4" y1="88.1" x2="634" y2="52.6"/><linearGradient id="f921" href="#pt" x1="630.8" y1="81.3" x2="573.6" y2="62.5"/><linearGradient id="f922" href="#pt" x1="606.3" y1="44.6" x2="602" y2="43.7"/><linearGradient id="f923" href="#pt" x1="580.2" y1="65.5" x2="602.8" y2="43"/><linearGradient id="f924" href="#pt" x1="573" y1="70.9" x2="603" y2="42.9"/><linearGradient id="f925" href="#pt" x1="620.8" y1="48.5" x2="601.5" y2="43.6"/><linearGradient id="f926" href="#pt" x1="530.1" y1="72.9" x2="587.2" y2="98.1"/><linearGradient id="f927" href="#pt" x1="548.8" y1="78.7" x2="542.3" y2="84.2"/><linearGradient id="f928" href="#pt" x1="533.7" y1="107.6" x2="578.5" y2="15.3"/><linearGradient id="f929" href="#pt" x1="563.5" y1="84.7" x2="507.3" y2="69.9"/><linearGradient id="f930" href="#pt" x1="580.6" y1="76.5" x2="598.3" y2="80.5"/><linearGradient id="f931" href="#pt" x1="583.9" y1="80.8" x2="591.4" y2="71.6"/><linearGradient id="f932" href="#pt" x1="573" y1="92.1" x2="613.9" y2="48.3"/><linearGradient id="f933" href="#pt" x1="603.7" y1="87.7" x2="550.6" y2="57.3"/><linearGradient id="f934" href="#pt" x1="572.3" y1="79.8" x2="598.7" y2="83.4"/><linearGradient id="f935" href="#pt" x1="578.8" y1="82.1" x2="582.9" y2="77.9"/><linearGradient id="f936" href="#pt" x1="567.1" y1="93.4" x2="611.1" y2="50.5"/><linearGradient id="f937" href="#pt" x1="595.9" y1="87.5" x2="541.4" y2="64.9"/><linearGradient id="f938" href="#pt" x1="596.6" y1="60.5" x2="595.7" y2="60.3"/><linearGradient id="f939" href="#pt" x1="581.5" y1="74.8" x2="602.2" y2="54.2"/><linearGradient id="f940" href="#pt" x1="574" y1="80.7" x2="605.4" y2="51.7"/><linearGradient id="f941" href="#pt" x1="611.8" y1="64.6" x2="589.2" y2="58.6"/><linearGradient id="f942" href="#pt" x1="577.7" y1="67.2" x2="577.5" y2="67.2"/><linearGradient id="f943" href="#pt" x1="566" y1="78.5" x2="585.3" y2="59.6"/><linearGradient id="f944" href="#pt" x1="559.3" y1="84.3" x2="589.8" y2="55.8"/><linearGradient id="f945" href="#pt" x1="590.8" y1="70.6" x2="568.8" y2="64.9"/><linearGradient id="f946" href="#pt" x1="535.4" y1="65.1" x2="531.2" y2="63.1"/><linearGradient id="f947" href="#pt" x1="520.2" y1="77.7" x2="537.8" y2="57.6"/><linearGradient id="f948" href="#pt" x1="510.1" y1="96.1" x2="542.2" y2="49.7"/><linearGradient id="f949" href="#pt" x1="552.9" y1="70.5" x2="523.7" y2="60.8"/><linearGradient id="f950" href="#pt" x1="532.8" y1="69.7" x2="537.9" y2="71.1"/><linearGradient id="f951" href="#pt" x1="526" y1="79.6" x2="543.4" y2="63.1"/><linearGradient id="f952" href="#pt" x1="514.8" y1="95.3" x2="552.6" y2="50.2"/><linearGradient id="f953" href="#pt" x1="549.5" y1="73" x2="524.2" y2="68.4"/><linearGradient id="f954" href="#pt" x1="524.7" y1="71.6" x2="535.9" y2="77.2"/><linearGradient id="f955" href="#pt" x1="524.8" y1="79.9" x2="535.7" y2="69.1"/><linearGradient id="f956" href="#pt" x1="510.9" y1="104.7" x2="549.2" y2="45.1"/><linearGradient id="f957" href="#pt" x1="548.6" y1="79.1" x2="512.6" y2="69.9"/><linearGradient id="f958" href="#pt" x1="575.4" y1="87.8" x2="613.1" y2="95.1"/><linearGradient id="f959" href="#pt" x1="584.9" y1="87.7" x2="578.7" y2="95.4"/><linearGradient id="f960" href="#pt" x1="572.3" y1="100.3" x2="624.4" y2="49.7"/><linearGradient id="f961" href="#pt" x1="600.3" y1="99.2" x2="522.5" y2="53.5"/><linearGradient id="f962" href="#pt" x1="617.8" y1="69.3" x2="628.8" y2="70.5"/><linearGradient id="f963" href="#pt" x1="616.2" y1="79" x2="629.7" y2="65"/><linearGradient id="f964" href="#pt" x1="601.8" y1="89.5" x2="637.9" y2="59"/><linearGradient id="f965" href="#pt" x1="646.7" y1="76.4" x2="612.2" y2="66.5"/><linearGradient id="f966" href="#pt" x1="574.6" y1="80.8" x2="577.2" y2="81.4"/><linearGradient id="f967" href="#pt" x1="569.1" y1="87.9" x2="586" y2="70"/><linearGradient id="f968" href="#pt" x1="562.1" y1="96.7" x2="597.2" y2="56.1"/><linearGradient id="f969" href="#pt" x1="587.8" y1="85" x2="556.2" y2="74.6"/><linearGradient id="f970" href="#pt" x1="597.1" y1="82.7" x2="622.6" y2="84.7"/><linearGradient id="f971" href="#pt" x1="606" y1="84.3" x2="608.2" y2="82.1"/><linearGradient id="f972" href="#pt" x1="589.9" y1="96.6" x2="634.4" y2="62.2"/><linearGradient id="f973" href="#pt" x1="627.9" y1="89.8" x2="572.8" y2="73.3"/><linearGradient id="f974" href="#pt" x1="572.4" y1="91" x2="621.9" y2="94.6"/><linearGradient id="f975" href="#pt" x1="585.8" y1="88.4" x2="570.2" y2="104.4"/><linearGradient id="f976" href="#pt" x1="570.4" y1="101.4" x2="629.4" y2="54.5"/><linearGradient id="f977" href="#pt" x1="600.7" y1="98.1" x2="512.5" y2="66.9"/><linearGradient id="f978" href="#pt" x1="593.7" y1="53.1" x2="588.5" y2="52"/><linearGradient id="f979" href="#pt" x1="566.4" y1="73.7" x2="588.8" y2="51.8"/><linearGradient id="f980" href="#pt" x1="559.9" y1="77.7" x2="588.9" y2="51.7"/><linearGradient id="f981" href="#pt" x1="605.8" y1="56.1" x2="588.4" y2="52"/><linearGradient id="f982" href="#pt" x1="528.4" y1="81.7" x2="589.4" y2="105.8"/><linearGradient id="f983" href="#pt" x1="548.9" y1="87.2" x2="541.5" y2="92.9"/><linearGradient id="f984" href="#pt" x1="528.7" y1="116.5" x2="588.6" y2="24.6"/><linearGradient id="f985" href="#pt" x1="561.9" y1="90.5" x2="511.2" y2="85.1"/><linearGradient id="f986" href="#pt" x1="523" y1="84.1" x2="595.1" y2="98.7"/><linearGradient id="f987" href="#pt" x1="548.3" y1="86.6" x2="538.6" y2="93.1"/><linearGradient id="f988" href="#pt" x1="523.9" y1="114.1" x2="592.9" y2="31.7"/><linearGradient id="f989" href="#pt" x1="559" y1="88.8" x2="514.7" y2="88.3"/><linearGradient id="f990" href="#pt" x1="534.4" y1="66.7" x2="531.4" y2="65.4"/><linearGradient id="f991" href="#pt" x1="518.5" y1="80.3" x2="536.4" y2="61.1"/><linearGradient id="f992" href="#pt" x1="507.1" y1="99.1" x2="540" y2="55.1"/><linearGradient id="f993" href="#pt" x1="552.7" y1="71.6" x2="525.6" y2="63.8"/><linearGradient id="f994" href="#pt" x1="629.3" y1="54.3" x2="626.2" y2="53.7"/><linearGradient id="f995" href="#pt" x1="604.4" y1="76.4" x2="627" y2="53"/><linearGradient id="f996" href="#pt" x1="595.6" y1="82.3" x2="627.2" y2="52.8"/><linearGradient id="f997" href="#pt" x1="647.7" y1="59.6" x2="625.6" y2="53.5"/><linearGradient id="f998" href="#pt" x1="600.8" y1="84.4" x2="649.9" y2="86.9"/><linearGradient id="f999" href="#pt" x1="628.8" y1="66" x2="606.3" y2="115.6"/><linearGradient id="f1000" href="#pt" x1="596.6" y1="103.5" x2="656.4" y2="57.1"/><linearGradient id="f1001" href="#pt" x1="662.2" y1="132.5" x2="554.3" y2="12"/><linearGradient id="f1002" href="#pt" x1="611.9" y1="80.4" x2="645.3" y2="83.6"/><linearGradient id="f1003" href="#pt" x1="631.5" y1="74.4" x2="623" y2="90.5"/><linearGradient id="f1004" href="#pt" x1="604.2" y1="101.8" x2="654.1" y2="59.2"/><linearGradient id="f1005" href="#pt" x1="666" y1="110.4" x2="583.6" y2="49.4"/><linearGradient id="f1006" href="#pt" x1="616.2" y1="69.7" x2="623.4" y2="70.8"/><linearGradient id="f1007" href="#pt" x1="610.6" y1="81.7" x2="626" y2="65.5"/><linearGradient id="f1008" href="#pt" x1="596.9" y1="91.9" x2="632" y2="61"/><linearGradient id="f1009" href="#pt" x1="643.3" y1="77" x2="611.4" y2="67.6"/><linearGradient id="f1010" href="#pt" x1="590.7" y1="85.8" x2="609.4" y2="88.5"/><linearGradient id="f1011" href="#pt" x1="594.9" y1="89.6" x2="602.3" y2="81.9"/><linearGradient id="f1012" href="#pt" x1="582.1" y1="99.4" x2="624.3" y2="65.2"/><linearGradient id="f1013" href="#pt" x1="615.2" y1="92.1" x2="567.4" y2="77.7"/><linearGradient id="f1014" href="#pt" x1="603.9" y1="79.7" x2="614.3" y2="81.4"/><linearGradient id="f1015" href="#pt" x1="602.7" y1="87.4" x2="615.5" y2="73.9"/><linearGradient id="f1016" href="#pt" x1="590.2" y1="96.5" x2="627.7" y2="64.9"/><linearGradient id="f1017" href="#pt" x1="627.7" y1="85.9" x2="591" y2="75.3"/><linearGradient id="f1018" href="#pt" x1="540.6" y1="73.7" x2="538.9" y2="73"/><linearGradient id="f1019" href="#pt" x1="527.1" y1="86.4" x2="544.5" y2="67.8"/><linearGradient id="f1020" href="#pt" x1="515.3" y1="103.4" x2="549.4" y2="60.8"/><linearGradient id="f1021" href="#pt" x1="558.2" y1="78" x2="531.7" y2="71.2"/><linearGradient id="f1022" href="#pt" x1="568.5" y1="61.1" x2="562.8" y2="59.7"/><linearGradient id="f1023" href="#pt" x1="541.8" y1="81.5" x2="564.2" y2="58.7"/><linearGradient id="f1024" href="#pt" x1="534.7" y1="87.7" x2="564.6" y2="58.3"/><linearGradient id="f1025" href="#pt" x1="577.5" y1="62.5" x2="562.3" y2="59.7"/><linearGradient id="f1026" href="#pt" x1="602.4" y1="87" x2="611.1" y2="89"/><linearGradient id="f1027" href="#pt" x1="600.6" y1="94.2" x2="613.3" y2="80"/><linearGradient id="f1028" href="#pt" x1="589.3" y1="102.7" x2="627.5" y2="69.3"/><linearGradient id="f1029" href="#pt" x1="623.6" y1="93.6" x2="584.5" y2="80.7"/><linearGradient id="f1030" href="#pt" x1="542.4" y1="92.6" x2="577.8" y2="98"/><linearGradient id="f1031" href="#pt" x1="552.8" y1="94.9" x2="555.4" y2="93.1"/><linearGradient id="f1032" href="#pt" x1="536.2" y1="109.4" x2="591" y2="61.9"/><linearGradient id="f1033" href="#pt" x1="562.9" y1="94.2" x2="533.6" y2="94.6"/><linearGradient id="f1034" href="#pt" x1="627.5" y1="68.9" x2="626.9" y2="68.8"/><linearGradient id="f1035" href="#pt" x1="609.8" y1="86.7" x2="631.3" y2="64.3"/><linearGradient id="f1036" href="#pt" x1="600.1" y1="93.7" x2="633.7" y2="62.6"/><linearGradient id="f1037" href="#pt" x1="647.5" y1="74.7" x2="621.9" y2="67.3"/><linearGradient id="f1038" href="#pt" x1="591.7" y1="91.6" x2="612.7" y2="94.9"/><linearGradient id="f1039" href="#pt" x1="597.3" y1="94.7" x2="602.3" y2="89.3"/><linearGradient id="f1040" href="#pt" x1="583.3" y1="104.8" x2="628" y2="70.8"/><linearGradient id="f1041" href="#pt" x1="617.6" y1="97.7" x2="565.4" y2="83.7"/><linearGradient id="f1042" href="#pt" x1="611.9" y1="86.5" x2="638.7" y2="91.6"/><linearGradient id="f1043" href="#pt" x1="625.2" y1="86.9" x2="622.8" y2="91.1"/><linearGradient id="f1044" href="#pt" x1="602.1" y1="109" x2="650.5" y2="64.5"/><linearGradient id="f1045" href="#pt" x1="658.1" y1="114.1" x2="583.3" y2="58.3"/><linearGradient id="f1046" href="#pt" x1="607.1" y1="89.4" x2="645.6" y2="92.4"/><linearGradient id="f1047" href="#pt" x1="628.5" y1="82.3" x2="615.7" y2="102.3"/><linearGradient id="f1048" href="#pt" x1="600.6" y1="108.3" x2="654.6" y2="66.1"/><linearGradient id="f1049" href="#pt" x1="663.2" y1="115.4" x2="567.5" y2="56.2"/><linearGradient id="f1050" href="#pt" x1="559.4" y1="94.1" x2="573.1" y2="99.9"/><linearGradient id="f1051" href="#pt" x1="560.9" y1="98.7" x2="569.8" y2="89.4"/><linearGradient id="f1052" href="#pt" x1="549.7" y1="112.1" x2="595.4" y2="58.5"/><linearGradient id="f1053" href="#pt" x1="574.5" y1="97.8" x2="538.4" y2="91.4"/><linearGradient id="f1054" href="#pt" x1="605.1" y1="93.4" x2="646.9" y2="96.4"/><linearGradient id="f1055" href="#pt" x1="627.5" y1="85.6" x2="611.6" y2="108.7"/><linearGradient id="f1056" href="#pt" x1="599.2" y1="110.9" x2="656.1" y2="68.7"/><linearGradient id="f1057" href="#pt" x1="661.1" y1="114.5" x2="558.4" y2="63"/><linearGradient id="f1058" href="#pt" x1="560.5" y1="86.9" x2="554.8" y2="84"/><linearGradient id="f1059" href="#pt" x1="547.5" y1="97.2" x2="564.9" y2="76.1"/><linearGradient id="f1060" href="#pt" x1="538.3" y1="110.6" x2="571.9" y2="65.7"/><linearGradient id="f1061" href="#pt" x1="574.1" y1="90.8" x2="544.3" y2="81"/><linearGradient id="f1062" href="#pt" x1="570.1" y1="94" x2="576.1" y2="96"/><linearGradient id="f1063" href="#pt" x1="567.4" y1="100.1" x2="580.6" y2="85.5"/><linearGradient id="f1064" href="#pt" x1="557.1" y1="110.4" x2="598" y2="68.2"/><linearGradient id="f1065" href="#pt" x1="583.2" y1="96.6" x2="554" y2="91.5"/><linearGradient id="f1066" href="#pt" x1="569.2" y1="95.8" x2="575.1" y2="98.5"/><linearGradient id="f1067" href="#pt" x1="567.4" y1="101.5" x2="578.6" y2="87.5"/><linearGradient id="f1068" href="#pt" x1="556.6" y1="114.2" x2="599.4" y2="63"/><linearGradient id="f1069" href="#pt" x1="583.5" y1="99.5" x2="547.6" y2="91.3"/><linearGradient id="f1070" href="#pt" x1="572.7" y1="91.1" x2="578.6" y2="92.1"/><linearGradient id="f1071" href="#pt" x1="568" y1="98.1" x2="584.4" y2="83.5"/><linearGradient id="f1072" href="#pt" x1="559" y1="104.8" x2="595.3" y2="75.3"/><linearGradient id="f1073" href="#pt" x1="583.6" y1="92.2" x2="565.3" y2="90.7"/><linearGradient id="f1074" href="#pt" x1="567.1" y1="89.4" x2="565.9" y2="89"/><linearGradient id="f1075" href="#pt" x1="556.8" y1="98.9" x2="575.5" y2="80.1"/><linearGradient id="f1076" href="#pt" x1="549.1" y1="105.9" x2="582.8" y2="73.6"/><linearGradient id="f1077" href="#pt" x1="576.6" y1="90.9" x2="557" y2="87.6"/><linearGradient id="f1078" href="#pt" x1="617.3" y1="79.6" x2="620.6" y2="80.2"/><linearGradient id="f1079" href="#pt" x1="607.2" y1="92.9" x2="624.7" y2="74.8"/><linearGradient id="f1080" href="#pt" x1="595.6" y1="101.3" x2="629.4" y2="71.4"/><linearGradient id="f1081" href="#pt" x1="638.5" y1="84.7" x2="612.1" y2="78.1"/><linearGradient id="f1082" href="#pt" x1="543" y1="92.9" x2="574" y2="113.6"/><linearGradient id="f1083" href="#pt" x1="553.1" y1="99.6" x2="553.1" y2="99.6"/><linearGradient id="f1084" href="#pt" x1="534.2" y1="127.1" x2="592.4" y2="42.4"/><linearGradient id="f1085" href="#pt" x1="569.4" y1="101.9" x2="519.1" y2="94.9"/><linearGradient id="f1086" href="#pt" x1="593.3" y1="98.8" x2="635" y2="106"/><linearGradient id="f1087" href="#pt" x1="610" y1="95.1" x2="596.8" y2="114.3"/><linearGradient id="f1088" href="#pt" x1="587.3" y1="113.8" x2="648.7" y2="71.7"/><linearGradient id="f1089" href="#pt" x1="638.6" y1="112.7" x2="531.7" y2="74.1"/><linearGradient id="f1090" href="#pt" x1="567.3" y1="99.3" x2="589" y2="104.7"/><linearGradient id="f1091" href="#pt" x1="571.9" y1="102.4" x2="577.6" y2="97.1"/><linearGradient id="f1092" href="#pt" x1="558.6" y1="112.8" x2="610.6" y2="71.3"/><linearGradient id="f1093" href="#pt" x1="582.9" y1="101.2" x2="550.3" y2="100.1"/><linearGradient id="f1094" href="#pt" x1="528.5" y1="92.2" x2="574.8" y2="114.2"/><linearGradient id="f1095" href="#pt" x1="545.7" y1="99.1" x2="543" y2="101.3"/><linearGradient id="f1096" href="#pt" x1="521.7" y1="126.9" x2="587.4" y2="50"/><linearGradient id="f1097" href="#pt" x1="559.7" y1="100.3" x2="517.2" y2="99.2"/><linearGradient id="f1098" href="#pt" x1="570.3" y1="95.7" x2="567.3" y2="94.2"/><linearGradient id="f1099" href="#pt" x1="562.4" y1="103.7" x2="577.6" y2="83.9"/><linearGradient id="f1100" href="#pt" x1="552.9" y1="114.9" x2="589.8" y2="69.3"/><linearGradient id="f1101" href="#pt" x1="582.6" y1="99" x2="551.3" y2="90"/><linearGradient id="f1102" href="#pt" x1="606.6" y1="80.8" x2="604.9" y2="80.5"/><linearGradient id="f1103" href="#pt" x1="590.5" y1="94.7" x2="611.8" y2="74.5"/><linearGradient id="f1104" href="#pt" x1="582.4" y1="99.8" x2="615.3" y2="72.4"/><linearGradient id="f1105" href="#pt" x1="620.5" y1="83.9" x2="598.9" y2="79.2"/><linearGradient id="f1106" href="#pt" x1="553.9" y1="96.2" x2="562.4" y2="100.3"/><linearGradient id="f1107" href="#pt" x1="552.8" y1="102.7" x2="563.9" y2="91.1"/><linearGradient id="f1108" href="#pt" x1="539.3" y1="119.2" x2="583.2" y2="67.6"/><linearGradient id="f1109" href="#pt" x1="571.8" y1="100.6" x2="536.9" y2="94.1"/><linearGradient id="f1110" href="#pt" x1="593.3" y1="99.4" x2="605.4" y2="101.9"/><linearGradient id="f1111" href="#pt" x1="593.9" y1="104.8" x2="604.5" y2="93.8"/><linearGradient id="f1112" href="#pt" x1="581.8" y1="112.5" x2="622.7" y2="82.3"/><linearGradient id="f1113" href="#pt" x1="613.3" y1="103.4" x2="575.3" y2="96"/><linearGradient id="f1114" href="#pt" x1="596.2" y1="102.8" x2="621" y2="106.1"/><linearGradient id="f1115" href="#pt" x1="604" y1="104.5" x2="605.9" y2="102.6"/><linearGradient id="f1116" href="#pt" x1="588.5" y1="114.4" x2="636.1" y2="83.4"/><linearGradient id="f1117" href="#pt" x1="621.8" y1="106.1" x2="571.1" y2="99.6"/><linearGradient id="f1118" href="#pt" x1="534.5" y1="93.6" x2="558.9" y2="109.8"/><linearGradient id="f1119" href="#pt" x1="543.1" y1="101.7" x2="546.6" y2="98.3"/><linearGradient id="f1120" href="#pt" x1="522.9" y1="130.3" x2="575.6" y2="57.2"/><linearGradient id="f1121" href="#pt" x1="562.8" y1="103" x2="518.2" y2="96.4"/><linearGradient id="f1122" href="#pt" x1="571.6" y1="95.6" x2="572.7" y2="95.9"/><linearGradient id="f1123" href="#pt" x1="564.3" y1="104.4" x2="580" y2="87.1"/><linearGradient id="f1124" href="#pt" x1="553.1" y1="114" x2="591" y2="77.6"/><linearGradient id="f1125" href="#pt" x1="584.5" y1="97.8" x2="559.9" y2="93.7"/><linearGradient id="f1126" href="#pt" x1="557.3" y1="92.7" x2="550.8" y2="89.6"/><linearGradient id="f1127" href="#pt" x1="542.3" y1="103.9" x2="560.4" y2="82.5"/><linearGradient id="f1128" href="#pt" x1="533" y1="116.5" x2="566.3" y2="74.4"/><linearGradient id="f1129" href="#pt" x1="570.6" y1="96.3" x2="542.3" y2="87.3"/><linearGradient id="f1130" href="#pt" x1="569.1" y1="104.8" x2="585.9" y2="109.4"/><linearGradient id="f1131" href="#pt" x1="572" y1="108.7" x2="579.7" y2="101.3"/><linearGradient id="f1132" href="#pt" x1="558.6" y1="118.2" x2="608.3" y2="80.9"/><linearGradient id="f1133" href="#pt" x1="583.6" y1="106.4" x2="554.9" y2="106"/><linearGradient id="f1134" href="#pt" x1="598" y1="101.8" x2="614.7" y2="105"/><linearGradient id="f1135" href="#pt" x1="601.8" y1="106.2" x2="609.2" y2="98.5"/><linearGradient id="f1136" href="#pt" x1="587" y1="115.9" x2="630.9" y2="84.3"/><linearGradient id="f1137" href="#pt" x1="622.4" y1="106.3" x2="579" y2="98.4"/><linearGradient id="f1138" href="#pt" x1="607.5" y1="104.2" x2="639.5" y2="109.8"/><linearGradient id="f1139" href="#pt" x1="620.9" y1="103.2" x2="615" y2="111.7"/><linearGradient id="f1140" href="#pt" x1="599.5" y1="120.9" x2="654.2" y2="79.1"/><linearGradient id="f1141" href="#pt" x1="647.6" y1="116.6" x2="565.8" y2="87"/><linearGradient id="f1142" href="#pt" x1="605.8" y1="94.4" x2="604.3" y2="94"/><linearGradient id="f1143" href="#pt" x1="594" y1="106.1" x2="612" y2="86.5"/><linearGradient id="f1144" href="#pt" x1="584.3" y1="112.8" x2="618.2" y2="82.2"/><linearGradient id="f1145" href="#pt" x1="621.8" y1="99.1" x2="594" y2="91"/><linearGradient id="f1146" href="#pt" x1="579.5" y1="102.7" x2="581.2" y2="103.3"/><linearGradient id="f1147" href="#pt" x1="573.7" y1="109.7" x2="589.1" y2="93.9"/><linearGradient id="f1148" href="#pt" x1="563.4" y1="118.2" x2="602.8" y2="82.5"/><linearGradient id="f1149" href="#pt" x1="592.1" y1="105.1" x2="564.4" y2="100.1"/><linearGradient id="f1150" href="#pt" x1="621.2" y1="91.8" x2="628.8" y2="92.5"/><linearGradient id="f1151" href="#pt" x1="615.1" y1="102.3" x2="631.8" y2="87.3"/><linearGradient id="f1152" href="#pt" x1="603.7" y1="110.1" x2="637.4" y2="83.5"/><linearGradient id="f1153" href="#pt" x1="639.8" y1="94" x2="619.6" y2="91.4"/><linearGradient id="f1154" href="#pt" x1="538" y1="92.1" x2="536.6" y2="91.5"/><linearGradient id="f1155" href="#pt" x1="525.3" y1="103.5" x2="543.1" y2="85.8"/><linearGradient id="f1156" href="#pt" x1="514.3" y1="117.8" x2="548.6" y2="78.6"/><linearGradient id="f1157" href="#pt" x1="554" y1="95.7" x2="528.6" y2="89.7"/><linearGradient id="f1158" href="#pt" x1="583.6" y1="94.2" x2="582" y2="93.8"/><linearGradient id="f1159" href="#pt" x1="570.7" y1="104.8" x2="590.6" y2="86.8"/><linearGradient id="f1160" href="#pt" x1="562.2" y1="111" x2="596.2" y2="82.7"/><linearGradient id="f1161" href="#pt" x1="594" y1="95.8" x2="575" y2="92.8"/><linearGradient id="f1162" href="#pt" x1="555.3" y1="97.3" x2="556" y2="97.5"/><linearGradient id="f1163" href="#pt" x1="545.2" y1="107.3" x2="564.3" y2="89.3"/><linearGradient id="f1164" href="#pt" x1="534.8" y1="117" x2="572.8" y2="81.4"/><linearGradient id="f1165" href="#pt" x1="567.7" y1="99.1" x2="545.9" y2="96"/><linearGradient id="f1166" href="#pt" x1="545.3" y1="102.6" x2="568.3" y2="119.4"/><linearGradient id="f1167" href="#pt" x1="552.9" y1="109.7" x2="555.1" y2="107.3"/><linearGradient id="f1168" href="#pt" x1="531.8" y1="136.3" x2="591.5" y2="61.2"/><linearGradient id="f1169" href="#pt" x1="572" y1="111.2" x2="522.1" y2="104.6"/><linearGradient id="f1170" href="#pt" x1="544.1" y1="91.6" x2="538.2" y2="89.1"/><linearGradient id="f1171" href="#pt" x1="525.6" y1="104.7" x2="544.9" y2="84.4"/><linearGradient id="f1172" href="#pt" x1="515.8" y1="118" x2="548.4" y2="79.6"/><linearGradient id="f1173" href="#pt" x1="558.7" y1="95.2" x2="533" y2="87.8"/><linearGradient id="f1174" href="#pt" x1="554.7" y1="101.1" x2="554.3" y2="101"/><linearGradient id="f1175" href="#pt" x1="545.1" y1="110.5" x2="562" y2="93.5"/><linearGradient id="f1176" href="#pt" x1="534.4" y1="121.7" x2="570.6" y2="84.5"/><linearGradient id="f1177" href="#pt" x1="568.5" y1="103.9" x2="543.2" y2="98.8"/><linearGradient id="f1178" href="#pt" x1="596.7" y1="108.7" x2="606.9" y2="111.1"/><linearGradient id="f1179" href="#pt" x1="596.3" y1="114.3" x2="607.4" y2="102.6"/><linearGradient id="f1180" href="#pt" x1="584.4" y1="121.7" x2="625.5" y2="91.4"/><linearGradient id="f1181" href="#pt" x1="615" y1="112.1" x2="579" y2="105.9"/><linearGradient id="f1182" href="#pt" x1="547.9" y1="83.6" x2="542.6" y2="82.2"/><linearGradient id="f1183" href="#pt" x1="522.6" y1="101.4" x2="544.8" y2="80.6"/><linearGradient id="f1184" href="#pt" x1="514.1" y1="110.4" x2="545.5" y2="79.9"/><linearGradient id="f1185" href="#pt" x1="559.2" y1="85.5" x2="541.6" y2="82"/><linearGradient id="f1186" href="#pt" x1="595.3" y1="112.5" x2="622.5" y2="118.7"/><linearGradient id="f1187" href="#pt" x1="604.9" y1="114" x2="603.4" y2="115.7"/><linearGradient id="f1188" href="#pt" x1="586" y1="126.4" x2="640.7" y2="91.1"/><linearGradient id="f1189" href="#pt" x1="625.3" y1="117.1" x2="563.1" y2="109.5"/><linearGradient id="f1190" href="#pt" x1="592" y1="106.5" x2="596.6" y2="108.1"/><linearGradient id="f1191" href="#pt" x1="587.8" y1="114.5" x2="600.9" y2="99.9"/><linearGradient id="f1192" href="#pt" x1="574.6" y1="123.5" x2="614.7" y2="90.5"/><linearGradient id="f1193" href="#pt" x1="611.3" y1="111.1" x2="576.6" y2="103.4"/><linearGradient id="f1194" href="#pt" x1="581.9" y1="113.4" x2="602.1" y2="121.3"/><linearGradient id="f1195" href="#pt" x1="587.5" y1="117" x2="590.3" y2="113.8"/><linearGradient id="f1196" href="#pt" x1="569.5" y1="128.8" x2="627.9" y2="89.3"/><linearGradient id="f1197" href="#pt" x1="604.9" y1="117" x2="554.2" y2="113.8"/><linearGradient id="f1198" href="#pt" x1="543.3" y1="107.7" x2="566.6" y2="119.4"/><linearGradient id="f1199" href="#pt" x1="551.1" y1="114.2" x2="555.4" y2="110"/><linearGradient id="f1200" href="#pt" x1="529.7" y1="135.1" x2="586.4" y2="79.7"/><linearGradient id="f1201" href="#pt" x1="569.5" y1="113.7" x2="528.7" y2="110.7"/><linearGradient id="f1202" href="#pt" x1="535.4" y1="103.3" x2="544.7" y2="107.2"/><linearGradient id="f1203" href="#pt" x1="533.5" y1="112.6" x2="546" y2="100.9"/><linearGradient id="f1204" href="#pt" x1="516.4" y1="132.4" x2="557.5" y2="87.5"/><linearGradient id="f1205" href="#pt" x1="560.5" y1="109.4" x2="527.7" y2="103.1"/><linearGradient id="f1206" href="#pt" x1="533.4" y1="111.8" x2="562.4" y2="120.2"/><linearGradient id="f1207" href="#pt" x1="543.8" y1="117.1" x2="548.8" y2="113.2"/><linearGradient id="f1208" href="#pt" x1="523.1" y1="135.1" x2="575.9" y2="89.7"/><linearGradient id="f1209" href="#pt" x1="560.1" y1="115.6" x2="527.6" y2="115.2"/><linearGradient id="f1210" href="#pt" x1="107.3" y1="276.9" x2="227" y2="93.1"/><linearGradient id="f1211" href="#pt" x1="98.6" y1="272.5" x2="255.8" y2="116.7"/><linearGradient id="f1212" href="#pt" x1="125.6" y1="288" x2="153.5" y2="52.4"/><linearGradient id="f1213" href="#pt" x1="95.1" y1="255.7" x2="263.6" y2="155.8"/><linearGradient id="f1214" href="#pt" x1="122.5" y1="276.2" x2="131.8" y2="77.7"/><linearGradient id="f1215" href="#pt" x1="118.2" y1="268.6" x2="110.8" y2="96.6"/><linearGradient id="f1216" href="#pt" x1="113.1" y1="264" x2="91.5" y2="112"/><linearGradient id="f1217" href="#pt" x1="99.5" y1="262.4" x2="247.1" y2="130.6"/><linearGradient id="f1218" href="#pt" x1="103.5" y1="282.2" x2="217.7" y2="69.4"/><linearGradient id="f1219" href="#pt" x1="105.4" y1="266.6" x2="82.7" y2="109.5"/><linearGradient id="f1220" href="#pt" x1="97.2" y1="252.6" x2="258.7" y2="159"/><linearGradient id="f1221" href="#pt" x1="108.5" y1="275.6" x2="177.7" y2="79.5"/><linearGradient id="f1222" href="#pt" x1="108.4" y1="270.4" x2="146.5" y2="89.9"/><linearGradient id="f1223" href="#pt" x1="98.7" y1="244.5" x2="257.4" y2="175.2"/><linearGradient id="f1224" href="#pt" x1="106.9" y1="273.5" x2="46.6" y2="102.7"/><linearGradient id="f1225" href="#pt" x1="106.7" y1="267.1" x2="115.6" y2="100.1"/><linearGradient id="f1226" href="#pt" x1="106.8" y1="265.4" x2="77.7" y2="113.7"/><linearGradient id="f1227" href="#pt" x1="111.6" y1="280.8" x2="11.1" y2="100.1"/><linearGradient id="f1228" href="#pt" x1="109.7" y1="266.2" x2="37.6" y2="126.1"/><linearGradient id="f1229" href="#pt" x1="119.2" y1="290.5" x2="-22.6" y2="93.9"/><linearGradient id="f1230" href="#pt" x1="111.8" y1="269.1" x2="10.6" y2="131.6"/><linearGradient id="f1231" href="#pt" x1="111.4" y1="270.9" x2="241.4" y2="132.2"/><linearGradient id="f1232" href="#pt" x1="116.7" y1="282.4" x2="205.9" y2="80.3"/><linearGradient id="f1233" href="#pt" x1="108.8" y1="266.3" x2="253.3" y2="154.9"/><linearGradient id="f1234" href="#pt" x1="117.1" y1="275.6" x2="176" y2="87.8"/><linearGradient id="f1235" href="#pt" x1="132.1" y1="255" x2="-49.6" y2="182.5"/><linearGradient id="f1236" href="#pt" x1="105.8" y1="258.8" x2="258.7" y2="175"/><linearGradient id="f1237" href="#pt" x1="114.7" y1="270.2" x2="148.5" y2="95.5"/><linearGradient id="f1238" href="#pt" x1="115.4" y1="273.5" x2="-13.8" y2="133.3"/><linearGradient id="f1239" href="#pt" x1="110.8" y1="267" x2="119.3" y2="101.5"/><linearGradient id="f1240" href="#pt" x1="132.7" y1="240.2" x2="-46.4" y2="209.2"/><linearGradient id="f1241" href="#pt" x1="109.5" y1="270.7" x2="72.1" y2="93.4"/><linearGradient id="f1242" href="#pt" x1="121.5" y1="251.6" x2="-30" y2="188.7"/><linearGradient id="f1243" href="#pt" x1="106.9" y1="273" x2="240.9" y2="114.2"/><linearGradient id="f1244" href="#pt" x1="109.4" y1="261.7" x2="247.5" y2="159.5"/><linearGradient id="f1245" href="#pt" x1="109.3" y1="271.3" x2="210" y2="106.6"/><linearGradient id="f1246" href="#pt" x1="110" y1="255.2" x2="250.6" y2="180.8"/><linearGradient id="f1247" href="#pt" x1="108.5" y1="268.5" x2="181.6" y2="104.4"/><linearGradient id="f1248" href="#pt" x1="116.2" y1="272.9" x2="4.4" y2="113.4"/><linearGradient id="f1249" href="#pt" x1="106.1" y1="267.3" x2="147.5" y2="99.4"/><linearGradient id="f1250" href="#pt" x1="108.6" y1="251.2" x2="253.5" y2="188.8"/><linearGradient id="f1251" href="#pt" x1="129.4" y1="225.9" x2="-38.3" y2="225.4"/><linearGradient id="f1252" href="#pt" x1="121.5" y1="241.3" x2="-29.8" y2="207.6"/><linearGradient id="f1253" href="#pt" x1="110.4" y1="269.7" x2="66.8" y2="99.2"/><linearGradient id="f1254" href="#pt" x1="121.6" y1="273.4" x2="-30.5" y2="135.9"/><linearGradient id="f1255" href="#pt" x1="115.4" y1="267.2" x2="8" y2="139.2"/><linearGradient id="f1256" href="#pt" x1="119.4" y1="230.5" x2="-26.5" y2="220.1"/><linearGradient id="f1257" href="#pt" x1="109.1" y1="217.6" x2="-15.1" y2="227.7"/><linearGradient id="f1258" href="#pt" x1="128.7" y1="274.8" x2="-57.6" y2="149.4"/><linearGradient id="f1259" href="#pt" x1="117.1" y1="266.7" x2="-14.8" y2="159.7"/><linearGradient id="f1260" href="#pt" x1="116" y1="270.2" x2="252.2" y2="166.5"/><linearGradient id="f1261" href="#pt" x1="113.9" y1="279" x2="248.4" y2="120.2"/><linearGradient id="f1262" href="#pt" x1="114.4" y1="276.5" x2="226.4" y2="110"/><linearGradient id="f1263" href="#pt" x1="123.9" y1="250.8" x2="-39.9" y2="217.2"/><linearGradient id="f1264" href="#pt" x1="117.1" y1="266.6" x2="252.1" y2="183.5"/><linearGradient id="f1265" href="#pt" x1="109.1" y1="217.5" x2="-15.1" y2="227.7"/><linearGradient id="f1266" href="#pt" x1="113" y1="273.3" x2="201.7" y2="101.9"/><linearGradient id="f1267" href="#pt" x1="120.1" y1="267.2" x2="-33.2" y2="170.6"/><linearGradient id="f1268" href="#pt" x1="109.9" y1="217.2" x2="-16.9" y2="221.9"/><linearGradient id="f1269" href="#pt" x1="114.3" y1="263.7" x2="256.3" y2="191.9"/><linearGradient id="f1270" href="#pt" x1="110" y1="272.1" x2="167.3" y2="83.6"/><linearGradient id="f1271" href="#pt" x1="115.2" y1="279.2" x2="38.9" y2="45.1"/><linearGradient id="f1272" href="#pt" x1="121.4" y1="241.3" x2="-31.1" y2="232.6"/><linearGradient id="f1273" href="#pt" x1="117.6" y1="251.1" x2="-26.4" y2="216.6"/><linearGradient id="f1274" href="#pt" x1="111.5" y1="272" x2="258.8" y2="150"/><linearGradient id="f1275" href="#pt" x1="112.9" y1="214.8" x2="-19" y2="223.6"/><linearGradient id="f1276" href="#pt" x1="116.2" y1="265.5" x2="251.7" y2="182"/><linearGradient id="f1277" href="#pt" x1="111.6" y1="272.2" x2="241.8" y2="133.9"/><linearGradient id="f1278" href="#pt" x1="110.3" y1="270.6" x2="222.5" y2="122.2"/><linearGradient id="f1279" href="#pt" x1="124.2" y1="271" x2="-53.5" y2="154.7"/><linearGradient id="f1280" href="#pt" x1="118.4" y1="261.1" x2="248.7" y2="197.2"/><linearGradient id="f1281" href="#pt" x1="107.2" y1="271" x2="194" y2="94.1"/><linearGradient id="f1282" href="#pt" x1="116.2" y1="259" x2="252.6" y2="200.7"/><linearGradient id="f1283" href="#pt" x1="115.4" y1="243.4" x2="-21.2" y2="229.1"/><linearGradient id="f1284" href="#pt" x1="118" y1="232.4" x2="-23.7" y2="240.3"/><linearGradient id="f1285" href="#pt" x1="115.8" y1="278.1" x2="33.7" y2="54.1"/><linearGradient id="f1286" href="#pt" x1="125.4" y1="266.1" x2="-57.3" y2="198.8"/><linearGradient id="f1287" href="#pt" x1="121.5" y1="268.7" x2="-37.1" y2="169"/><linearGradient id="f1288" href="#pt" x1="112.8" y1="235.8" x2="-16.9" y2="236"/><linearGradient id="f1289" href="#pt" x1="128.1" y1="263.4" x2="-64.4" y2="215.7"/><linearGradient id="f1290" href="#pt" x1="110" y1="227.8" x2="-14.3" y2="238"/><linearGradient id="f1291" href="#pt" x1="121" y1="264.9" x2="-38.4" y2="203.9"/><linearGradient id="f1292" href="#pt" x1="113.9" y1="278.3" x2="278.2" y2="168"/><linearGradient id="f1293" href="#pt" x1="119.7" y1="272.8" x2="261.1" y2="196.9"/><linearGradient id="f1294" href="#pt" x1="117.7" y1="251.8" x2="-27.7" y2="247.1"/><linearGradient id="f1295" href="#pt" x1="112.7" y1="278.1" x2="276.2" y2="153.5"/><linearGradient id="f1296" href="#pt" x1="110.4" y1="227.4" x2="-14.7" y2="238.4"/><linearGradient id="f1297" href="#pt" x1="122.2" y1="263.1" x2="-44.9" y2="216.8"/><linearGradient id="f1298" href="#pt" x1="111.3" y1="277" x2="270" y2="137.1"/><linearGradient id="f1299" href="#pt" x1="123.1" y1="270.5" x2="253.1" y2="206.1"/><linearGradient id="f1300" href="#pt" x1="114.8" y1="228.5" x2="-20" y2="230.9"/><linearGradient id="f1301" href="#pt" x1="107" y1="278.9" x2="270.6" y2="79.3"/><linearGradient id="f1302" href="#pt" x1="121" y1="269.9" x2="256.1" y2="206.9"/><linearGradient id="f1303" href="#pt" x1="133.3" y1="296.7" x2="-145.2" y2="-90"/><linearGradient id="f1304" href="#pt" x1="115.3" y1="252.8" x2="-21.9" y2="244.6"/><linearGradient id="f1305" href="#pt" x1="114.3" y1="246.1" x2="-18.3" y2="252.1"/><linearGradient id="f1306" href="#pt" x1="114.2" y1="275.3" x2="276.7" y2="182"/><linearGradient id="f1307" href="#pt" x1="118.1" y1="226" x2="-22.7" y2="232.9"/><linearGradient id="f1308" href="#pt" x1="112.6" y1="276.1" x2="276.5" y2="166.3"/><linearGradient id="f1309" href="#pt" x1="120" y1="271.8" x2="260" y2="200.6"/><linearGradient id="f1310" href="#pt" x1="128.2" y1="267.4" x2="-84.7" y2="246.7"/><linearGradient id="f1311" href="#pt" x1="111.1" y1="275.3" x2="272.6" y2="153.4"/><linearGradient id="f1312" href="#pt" x1="123.6" y1="268.9" x2="251.6" y2="210.1"/><linearGradient id="f1313" href="#pt" x1="106.3" y1="277.5" x2="280.5" y2="97.4"/><linearGradient id="f1314" href="#pt" x1="112.1" y1="247.5" x2="-14.2" y2="249.5"/><linearGradient id="f1315" href="#pt" x1="133.1" y1="294.9" x2="-143.1" y2="-69.7"/><linearGradient id="f1316" href="#pt" x1="111.7" y1="240.6" x2="-13.2" y2="253.3"/><linearGradient id="f1317" href="#pt" x1="122" y1="267.6" x2="254" y2="211.3"/><linearGradient id="f1318" href="#pt" x1="123.7" y1="263" x2="-48.6" y2="266.9"/><linearGradient id="f1319" href="#pt" x1="127.4" y1="267.6" x2="-78.9" y2="245.3"/><linearGradient id="f1320" href="#pt" x1="109.7" y1="242.3" x2="-10.5" y2="250.9"/><linearGradient id="f1321" href="#pt" x1="123.6" y1="260" x2="-46.8" y2="270.5"/><linearGradient id="f1322" href="#pt" x1="111.5" y1="238.1" x2="-14.2" y2="248.1"/><linearGradient id="f1323" href="#pt" x1="122.5" y1="263.6" x2="-43" y2="263.9"/><linearGradient id="f1324" href="#pt" x1="114.5" y1="256.1" x2="-15.6" y2="271.9"/><linearGradient id="f1325" href="#pt" x1="114.3" y1="279.3" x2="295" y2="218.1"/><linearGradient id="f1326" href="#pt" x1="121.6" y1="277.3" x2="269.8" y2="224.6"/><linearGradient id="f1327" href="#pt" x1="111" y1="279.1" x2="308.7" y2="219.1"/><linearGradient id="f1328" href="#pt" x1="122.2" y1="261" x2="-41.8" y2="267.2"/><linearGradient id="f1329" href="#pt" x1="112.7" y1="237" x2="-15.5" y2="249.3"/><linearGradient id="f1330" href="#pt" x1="109" y1="278.9" x2="319.1" y2="220.7"/><linearGradient id="f1331" href="#pt" x1="126.8" y1="276.5" x2="257" y2="224.7"/><linearGradient id="f1332" href="#pt" x1="119.9" y1="240.1" x2="-24.1" y2="239.4"/><linearGradient id="f1333" href="#pt" x1="98.5" y1="278.8" x2="408.1" y2="219"/><linearGradient id="f1334" href="#pt" x1="126.1" y1="277.1" x2="258" y2="220"/><linearGradient id="f1335" href="#pt" x1="114.6" y1="256" x2="-15.9" y2="272.1"/><linearGradient id="f1336" href="#pt" x1="111.2" y1="252.7" x2="-8.7" y2="268.9"/><linearGradient id="f1337" href="#pt" x1="123.6" y1="237.4" x2="-27.4" y2="241.7"/><linearGradient id="f1338" href="#pt" x1="113.9" y1="280" x2="297" y2="214.7"/><linearGradient id="f1339" href="#pt" x1="110.2" y1="280.3" x2="313.6" y2="211.6"/><linearGradient id="f1340" href="#pt" x1="127.5" y1="266.1" x2="-48.1" y2="335.3"/><linearGradient id="f1341" href="#pt" x1="120.5" y1="279.4" x2="273.8" y2="217.3"/><linearGradient id="f1342" href="#pt" x1="108.6" y1="279.5" x2="323.1" y2="215.3"/><linearGradient id="f1343" href="#pt" x1="97.2" y1="280.1" x2="422.9" y2="202.9"/><linearGradient id="f1344" href="#pt" x1="125.9" y1="278.1" x2="259.2" y2="220.4"/><linearGradient id="f1345" href="#pt" x1="111.3" y1="252.6" x2="-8.9" y2="269.1"/><linearGradient id="f1346" href="#pt" x1="109.5" y1="249.5" x2="-7" y2="265.2"/><linearGradient id="f1347" href="#pt" x1="121.5" y1="265" x2="-17.8" y2="313.9"/><linearGradient id="f1348" href="#pt" x1="126.2" y1="276.8" x2="257.7" y2="220.5"/><linearGradient id="f1349" href="#pt" x1="128" y1="264.2" x2="-52.2" y2="349.1"/><linearGradient id="f1350" href="#pt" x1="109.8" y1="249.2" x2="-7.4" y2="265.6"/><linearGradient id="f1351" href="#pt" x1="120.6" y1="262.2" x2="-21.7" y2="307.4"/><linearGradient id="f1352" href="#pt" x1="114.3" y1="248.5" x2="-15.6" y2="257.8"/><linearGradient id="f1353" href="#pt" x1="121.8" y1="264.1" x2="-19.6" y2="318.6"/><linearGradient id="f1354" href="#pt" x1="114.3" y1="261.6" x2="-5.6" y2="293.1"/><linearGradient id="f1355" href="#pt" x1="113.9" y1="280.7" x2="301.4" y2="265.7"/><linearGradient id="f1356" href="#pt" x1="116.5" y1="246.4" x2="-18.2" y2="260.3"/><linearGradient id="f1357" href="#pt" x1="121.1" y1="261" x2="-23.7" y2="311.7"/><linearGradient id="f1358" href="#pt" x1="121.1" y1="282.2" x2="280.1" y2="251"/><linearGradient id="f1359" href="#pt" x1="109.8" y1="278.1" x2="311.8" y2="290.4"/><linearGradient id="f1360" href="#pt" x1="108.7" y1="277.7" x2="308" y2="313.1"/><linearGradient id="f1361" href="#pt" x1="128.1" y1="283.6" x2="264.5" y2="240.8"/><linearGradient id="f1362" href="#pt" x1="125.2" y1="252" x2="-29.3" y2="247.3"/><linearGradient id="f1363" href="#pt" x1="102.3" y1="268.9" x2="320.6" y2="403.8"/><linearGradient id="f1364" href="#pt" x1="129.8" y1="285.2" x2="261.8" y2="231.7"/><linearGradient id="f1365" href="#pt" x1="124.7" y1="253.7" x2="62.6" y2="514.5"/><linearGradient id="f1366" href="#pt" x1="111.5" y1="259.8" x2="-3" y2="284.3"/><linearGradient id="f1367" href="#pt" x1="115.4" y1="259.4" x2="-8.7" y2="299.3"/><linearGradient id="f1368" href="#pt" x1="129.4" y1="249.2" x2="-33.4" y2="250"/><linearGradient id="f1369" href="#pt" x1="109.4" y1="283.7" x2="320.4" y2="253"/><linearGradient id="f1370" href="#pt" x1="103.8" y1="280.1" x2="344.1" y2="279.6"/><linearGradient id="f1371" href="#pt" x1="126.5" y1="268.1" x2="8.6" y2="375.5"/><linearGradient id="f1372" href="#pt" x1="116.5" y1="287.4" x2="295.7" y2="233.8"/><linearGradient id="f1373" href="#pt" x1="104.2" y1="278.1" x2="339.3" y2="310.8"/><linearGradient id="f1374" href="#pt" x1="125" y1="288.5" x2="272.5" y2="228"/><linearGradient id="f1375" href="#pt" x1="96.9" y1="264.2" x2="366.2" y2="443.5"/><linearGradient id="f1376" href="#pt" x1="112.8" y1="257.6" x2="-5.8" y2="288.9"/><linearGradient id="f1377" href="#pt" x1="110.9" y1="258.6" x2="-5.2" y2="276.6"/><linearGradient id="f1378" href="#pt" x1="124.9" y1="253.7" x2="61.5" y2="514.5"/><linearGradient id="f1379" href="#pt" x1="121.6" y1="269.3" x2="12.8" y2="340.3"/><linearGradient id="f1380" href="#pt" x1="129" y1="286.7" x2="263.3" y2="228.7"/><linearGradient id="f1381" href="#pt" x1="124.4" y1="264.7" x2="21.2" y2="395.7"/><linearGradient id="f1382" href="#pt" x1="113" y1="255.9" x2="-8.5" y2="280.8"/><linearGradient id="f1383" href="#pt" x1="120.5" y1="266.2" x2="0.3" y2="332.4"/><linearGradient id="f1384" href="#pt" x1="118.7" y1="259.3" x2="-19.6" y2="266.9"/><linearGradient id="f1385" href="#pt" x1="121" y1="266.7" x2="15.4" y2="351.9"/><linearGradient id="f1386" href="#pt" x1="116.9" y1="266.9" x2="0.8" y2="313.1"/><linearGradient id="f1387" href="#pt" x1="122.4" y1="255.8" x2="-24.3" y2="271.4"/><linearGradient id="f1388" href="#pt" x1="112.1" y1="280.9" x2="302.5" y2="309"/><linearGradient id="f1389" href="#pt" x1="120.3" y1="262.6" x2="1.2" y2="344.8"/><linearGradient id="f1390" href="#pt" x1="117.5" y1="286.2" x2="294.3" y2="278.1"/><linearGradient id="f1391" href="#pt" x1="110.1" y1="274.9" x2="293.6" y2="349"/><linearGradient id="f1392" href="#pt" x1="130.6" y1="264.3" x2="-35.7" y2="254.3"/><linearGradient id="f1393" href="#pt" x1="126.5" y1="291.3" x2="277" y2="255.2"/><linearGradient id="f1394" href="#pt" x1="111.1" y1="275.7" x2="267.6" y2="367.5"/><linearGradient id="f1395" href="#pt" x1="113.2" y1="267.8" x2="214.9" y2="422.8"/><linearGradient id="f1396" href="#pt" x1="132.3" y1="294" x2="267.5" y2="241.9"/><linearGradient id="f1397" href="#pt" x1="115" y1="266.7" x2="-2" y2="299.6"/><linearGradient id="f1398" href="#pt" x1="117.7" y1="261.8" x2="-1.2" y2="326.9"/><linearGradient id="f1399" href="#pt" x1="124.1" y1="265.3" x2="104.6" y2="430.2"/><linearGradient id="f1400" href="#pt" x1="135.5" y1="261.5" x2="-40.8" y2="257.3"/><linearGradient id="f1401" href="#pt" x1="100.2" y1="282.6" x2="345.7" y2="302.8"/><linearGradient id="f1402" href="#pt" x1="97.7" y1="270.1" x2="346.4" y2="369.4"/><linearGradient id="f1403" href="#pt" x1="105.1" y1="294.3" x2="331.8" y2="253.5"/><linearGradient id="f1404" href="#pt" x1="127" y1="270.2" x2="50.1" y2="391.1"/><linearGradient id="f1405" href="#pt" x1="104.4" y1="270.2" x2="301.2" y2="395.5"/><linearGradient id="f1406" href="#pt" x1="119.7" y1="300.4" x2="293.9" y2="232.3"/><linearGradient id="f1407" href="#pt" x1="114.2" y1="259.1" x2="209" y2="470.2"/><linearGradient id="f1408" href="#pt" x1="116.9" y1="261.5" x2="-5.9" y2="310.6"/><linearGradient id="f1409" href="#pt" x1="116" y1="267.6" x2="-9.1" y2="287.7"/><linearGradient id="f1410" href="#pt" x1="124.3" y1="265.3" x2="103.7" y2="430.4"/><linearGradient id="f1411" href="#pt" x1="130.7" y1="296.9" x2="270.7" y2="236"/><linearGradient id="f1412" href="#pt" x1="123.9" y1="273" x2="35.1" y2="357.9"/><linearGradient id="f1413" href="#pt" x1="121.6" y1="267.9" x2="74" y2="401.5"/><linearGradient id="f1414" href="#pt" x1="120" y1="261.5" x2="-15.9" y2="298"/><linearGradient id="f1415" href="#pt" x1="125.3" y1="270.7" x2="-27.5" y2="274.6"/><linearGradient id="f1416" href="#pt" x1="123.3" y1="269.4" x2="15.8" y2="353.3"/><linearGradient id="f1417" href="#pt" x1="121.3" y1="269.6" x2="44.8" y2="370.3"/><linearGradient id="f1418" href="#pt" x1="131.3" y1="265.4" x2="-35.8" y2="282"/><linearGradient id="f1419" href="#pt" x1="122.8" y1="270.5" x2="1.8" y2="334.9"/><linearGradient id="f1420" href="#pt" x1="108.3" y1="278.2" x2="304.8" y2="350.2"/><linearGradient id="f1421" href="#pt" x1="109.1" y1="287.4" x2="316.1" y2="309.3"/><linearGradient id="f1422" href="#pt" x1="136.2" y1="277.2" x2="-43.5" y2="260.1"/><linearGradient id="f1423" href="#pt" x1="120.5" y1="264" x2="24.2" y2="369.8"/><linearGradient id="f1424" href="#pt" x1="111.9" y1="269" x2="270.7" y2="393.7"/><linearGradient id="f1425" href="#pt" x1="120.9" y1="299.4" x2="296.9" y2="268.3"/><linearGradient id="f1426" href="#pt" x1="114.5" y1="273.1" x2="235" y2="395.9"/><linearGradient id="f1427" href="#pt" x1="133.8" y1="303.5" x2="274.9" y2="250.7"/><linearGradient id="f1428" href="#pt" x1="122.2" y1="269.2" x2="169.7" y2="414"/><linearGradient id="f1429" href="#pt" x1="122.4" y1="272.5" x2="-7.8" y2="316.5"/><linearGradient id="f1430" href="#pt" x1="121.2" y1="261.5" x2="5.7" y2="357.9"/><linearGradient id="f1431" href="#pt" x1="141.8" y1="274.5" x2="-50" y2="263.3"/><linearGradient id="f1432" href="#pt" x1="127" y1="270.7" x2="114.9" y2="405"/><linearGradient id="f1433" href="#pt" x1="87.3" y1="271.5" x2="369.4" y2="371"/><linearGradient id="f1434" href="#pt" x1="80" y1="296.2" x2="395.6" y2="285.4"/><linearGradient id="f1435" href="#pt" x1="101" y1="250.2" x2="307" y2="456.5"/><linearGradient id="f1436" href="#pt" x1="127.7" y1="269.6" x2="78.2" y2="405.4"/><linearGradient id="f1437" href="#pt" x1="107.8" y1="314.8" x2="328.4" y2="231.3"/><linearGradient id="f1438" href="#pt" x1="111.1" y1="260.8" x2="247.3" y2="440.7"/><linearGradient id="f1439" href="#pt" x1="125.9" y1="276.9" x2="-22.1" y2="298.2"/><linearGradient id="f1440" href="#pt" x1="124" y1="262.6" x2="-11.2" y2="337.5"/><linearGradient id="f1441" href="#pt" x1="128.2" y1="261.9" x2="147.7" y2="440.9"/><linearGradient id="f1442" href="#pt" x1="131.5" y1="307.6" x2="279.5" y2="242.4"/><linearGradient id="f1443" href="#pt" x1="128.2" y1="274.3" x2="48.8" y2="376.2"/><linearGradient id="f1444" href="#pt" x1="127.3" y1="270.6" x2="114" y2="405.3"/><linearGradient id="f1445" href="#pt" x1="133.2" y1="264.6" x2="-35.1" y2="320"/><linearGradient id="f1446" href="#pt" x1="119.3" y1="270" x2="106.3" y2="403.8"/><linearGradient id="f1447" href="#pt" x1="134.8" y1="283.7" x2="-41.2" y2="279.5"/><linearGradient id="f1448" href="#pt" x1="128.7" y1="269.5" x2="24" y2="377.1"/><linearGradient id="f1449" href="#pt" x1="122.7" y1="270.8" x2="65.3" y2="386.7"/><linearGradient id="f1450" href="#pt" x1="144.8" y1="276.3" x2="-56.2" y2="290.7"/><linearGradient id="f1451" href="#pt" x1="133.1" y1="270" x2="-6.1" y2="363.8"/><linearGradient id="f1452" href="#pt" x1="141.8" y1="290.7" x2="-52.7" y2="264.3"/><linearGradient id="f1453" href="#pt" x1="121.9" y1="263" x2="42.2" y2="394.7"/><linearGradient id="f1454" href="#pt" x1="136.3" y1="276.1" x2="-26.5" y2="337.4"/><linearGradient id="f1455" href="#pt" x1="148.3" y1="288.2" x2="-61" y2="267.5"/><linearGradient id="f1456" href="#pt" x1="125.6" y1="255.3" x2="12" y2="399"/><linearGradient id="f1457" href="#pt" x1="144.5" y1="287.8" x2="-52.8" y2="305.4"/><linearGradient id="f1458" href="#pt" x1="136.2" y1="256.8" x2="-26.2" y2="378.3"/><linearGradient id="f1459" href="#pt" x1="147.8" y1="299.9" x2="-63.2" y2="278.1"/><linearGradient id="f1460" href="#pt" x1="160.7" y1="261.8" x2="-83.2" y2="354.4"/><linearGradient id="f1461" href="#pt" x1="165.2" y1="290.8" x2="-91.8" y2="293.1"/><linearGradient id="f1462" href="#pt" x1="147.2" y1="305" x2="-63.3" y2="266.4"/><linearGradient id="f1463" href="#pt" x1="154.8" y1="302.9" x2="-74" y2="269.3"/><linearGradient id="f1464" href="#pt" x1="140.5" y1="200.2" x2="136" y2="199.3"/><linearGradient id="f1465" href="#pt" x1="113.4" y1="223.9" x2="136" y2="199.3"/><linearGradient id="f1466" href="#pt" x1="106.8" y1="230.3" x2="136" y2="199.3"/><linearGradient id="f1467" href="#pt" x1="155.7" y1="204.8" x2="136" y2="199.3"/><linearGradient id="f1468" href="#pt" x1="133" y1="238.5" x2="175.3" y2="236.8"/><linearGradient id="f1469" href="#pt" x1="152.1" y1="233.1" x2="138.7" y2="247.2"/><linearGradient id="f1470" href="#pt" x1="130.4" y1="252.8" x2="180.1" y2="209.5"/><linearGradient id="f1471" href="#pt" x1="174.8" y1="251.8" x2="95.2" y2="211.2"/><linearGradient id="f1472" href="#pt" x1="101.6" y1="229.3" x2="104.2" y2="230.1"/><linearGradient id="f1473" href="#pt" x1="94.9" y1="239.8" x2="111.4" y2="218.9"/><linearGradient id="f1474" href="#pt" x1="88.3" y1="253" x2="118.4" y2="204.9"/><linearGradient id="f1475" href="#pt" x1="117.6" y1="235" x2="87.3" y2="224.1"/><linearGradient id="f1476" href="#pt" x1="114" y1="207.1" x2="109.1" y2="206"/><linearGradient id="f1477" href="#pt" x1="87.4" y1="230.4" x2="109.1" y2="206"/><linearGradient id="f1478" href="#pt" x1="82.2" y1="240.1" x2="109.1" y2="206"/><linearGradient id="f1479" href="#pt" x1="127.1" y1="211" x2="109.1" y2="206"/><linearGradient id="f1480" href="#pt" x1="106.2" y1="239.3" x2="133.5" y2="241.8"/><linearGradient id="f1481" href="#pt" x1="112.3" y1="242.3" x2="119.8" y2="235"/><linearGradient id="f1482" href="#pt" x1="102.6" y1="255.5" x2="141.4" y2="205.6"/><linearGradient id="f1483" href="#pt" x1="129.8" y1="247.3" x2="80.9" y2="223.8"/><linearGradient id="f1484" href="#pt" x1="136.9" y1="224.8" x2="134.7" y2="224.1"/><linearGradient id="f1485" href="#pt" x1="123.6" y1="239.3" x2="141.8" y2="216.3"/><linearGradient id="f1486" href="#pt" x1="114.9" y1="248.5" x2="146.5" y2="211.3"/><linearGradient id="f1487" href="#pt" x1="157" y1="234.8" x2="123.9" y2="218.7"/><linearGradient id="f1488" href="#pt" x1="149.2" y1="207.9" x2="145.1" y2="207"/><linearGradient id="f1489" href="#pt" x1="123" y1="230.3" x2="145.3" y2="206.8"/><linearGradient id="f1490" href="#pt" x1="116" y1="236" x2="145.4" y2="206.7"/><linearGradient id="f1491" href="#pt" x1="164.4" y1="212.2" x2="144.9" y2="206.9"/><linearGradient id="f1492" href="#pt" x1="156.2" y1="208.7" x2="152.7" y2="208"/><linearGradient id="f1493" href="#pt" x1="131.2" y1="230.6" x2="153.5" y2="207.3"/><linearGradient id="f1494" href="#pt" x1="123.7" y1="236.5" x2="153.7" y2="207.1"/><linearGradient id="f1495" href="#pt" x1="172.6" y1="213.4" x2="152.2" y2="207.8"/><linearGradient id="f1496" href="#pt" x1="75.4" y1="239.1" x2="140.7" y2="250.8"/><linearGradient id="f1497" href="#pt" x1="97" y1="241.3" x2="91.4" y2="245.6"/><linearGradient id="f1498" href="#pt" x1="82.4" y1="267.3" x2="124.6" y2="186.2"/><linearGradient id="f1499" href="#pt" x1="110.7" y1="246.6" x2="59.9" y2="233.5"/><linearGradient id="f1500" href="#pt" x1="122.5" y1="242.4" x2="156.1" y2="245.7"/><linearGradient id="f1501" href="#pt" x1="132.9" y1="242.8" x2="131.4" y2="244.7"/><linearGradient id="f1502" href="#pt" x1="119.3" y1="257.6" x2="163.8" y2="209.5"/><linearGradient id="f1503" href="#pt" x1="151.7" y1="256.1" x2="86.7" y2="213.1"/><linearGradient id="f1504" href="#pt" x1="103.4" y1="238.9" x2="119.7" y2="241.2"/><linearGradient id="f1505" href="#pt" x1="104.5" y1="244.1" x2="117.6" y2="231.1"/><linearGradient id="f1506" href="#pt" x1="96.8" y1="256.3" x2="132.2" y2="207.9"/><linearGradient id="f1507" href="#pt" x1="120.6" y1="243.1" x2="86.6" y2="233"/><linearGradient id="f1508" href="#pt" x1="140.7" y1="228.5" x2="149.5" y2="229.8"/><linearGradient id="f1509" href="#pt" x1="137" y1="239" x2="152.1" y2="222.7"/><linearGradient id="f1510" href="#pt" x1="125.2" y1="249.2" x2="160.1" y2="215.7"/><linearGradient id="f1511" href="#pt" x1="166" y1="235.9" x2="132.3" y2="224.8"/><linearGradient id="f1512" href="#pt" x1="95.2" y1="233.6" x2="100.2" y2="234.8"/><linearGradient id="f1513" href="#pt" x1="89.5" y1="242.5" x2="105.9" y2="225.9"/><linearGradient id="f1514" href="#pt" x1="82" y1="253.6" x2="113.4" y2="214.8"/><linearGradient id="f1515" href="#pt" x1="109.4" y1="236.9" x2="86" y2="231.5"/><linearGradient id="f1516" href="#pt" x1="123.2" y1="211.4" x2="118" y2="210.3"/><linearGradient id="f1517" href="#pt" x1="97.1" y1="232.6" x2="118.9" y2="209.6"/><linearGradient id="f1518" href="#pt" x1="91.4" y1="237.3" x2="119" y2="209.5"/><linearGradient id="f1519" href="#pt" x1="136.2" y1="215.3" x2="117.6" y2="210.1"/><linearGradient id="f1520" href="#pt" x1="120.6" y1="236.2" x2="133.6" y2="237.1"/><linearGradient id="f1521" href="#pt" x1="119.7" y1="243.1" x2="134.8" y2="228.6"/><linearGradient id="f1522" href="#pt" x1="110.9" y1="250.6" x2="145.6" y2="219.3"/><linearGradient id="f1523" href="#pt" x1="139.7" y1="239.7" x2="110.2" y2="232.7"/><linearGradient id="f1524" href="#pt" x1="107.3" y1="234" x2="102.3" y2="231.7"/><linearGradient id="f1525" href="#pt" x1="95.9" y1="245.9" x2="112.6" y2="220.9"/><linearGradient id="f1526" href="#pt" x1="89.7" y1="258.7" x2="118.2" y2="209.3"/><linearGradient id="f1527" href="#pt" x1="121" y1="239.8" x2="89.9" y2="226.5"/><linearGradient id="f1528" href="#pt" x1="167.1" y1="210.8" x2="164.5" y2="210.3"/><linearGradient id="f1529" href="#pt" x1="143.1" y1="235" x2="164.7" y2="210.1"/><linearGradient id="f1530" href="#pt" x1="134.4" y1="240.8" x2="164.8" y2="210"/><linearGradient id="f1531" href="#pt" x1="185.2" y1="215.9" x2="164.3" y2="210.2"/><linearGradient id="f1532" href="#pt" x1="79" y1="247.9" x2="176.4" y2="260.7"/><linearGradient id="f1533" href="#pt" x1="103.8" y1="248.4" x2="88.5" y2="258.8"/><linearGradient id="f1534" href="#pt" x1="89.5" y1="272.2" x2="139.4" y2="174.5"/><linearGradient id="f1535" href="#pt" x1="112.9" y1="253" x2="56.5" y2="242.7"/><linearGradient id="f1536" href="#pt" x1="105.4" y1="238.2" x2="105.9" y2="238.4"/><linearGradient id="f1537" href="#pt" x1="98.6" y1="247.8" x2="113.8" y2="227.2"/><linearGradient id="f1538" href="#pt" x1="91.2" y1="262.2" x2="122.4" y2="210.5"/><linearGradient id="f1539" href="#pt" x1="121.2" y1="244.3" x2="87.6" y2="231.3"/><linearGradient id="f1540" href="#pt" x1="148.7" y1="240.8" x2="170" y2="241.8"/><linearGradient id="f1541" href="#pt" x1="155.3" y1="244.5" x2="162.2" y2="237.3"/><linearGradient id="f1542" href="#pt" x1="140.2" y1="256.4" x2="180.2" y2="223.1"/><linearGradient id="f1543" href="#pt" x1="179.2" y1="247.2" x2="133.5" y2="234.1"/><linearGradient id="f1544" href="#pt" x1="97" y1="243.2" x2="112.3" y2="248"/><linearGradient id="f1545" href="#pt" x1="98.5" y1="248.9" x2="109.4" y2="237.3"/><linearGradient id="f1546" href="#pt" x1="89.5" y1="264.1" x2="126.3" y2="208.5"/><linearGradient id="f1547" href="#pt" x1="114.7" y1="248.3" x2="78.8" y2="238.4"/><linearGradient id="f1548" href="#pt" x1="146.1" y1="236.4" x2="153.5" y2="237.9"/><linearGradient id="f1549" href="#pt" x1="142.4" y1="246.5" x2="156.7" y2="229.5"/><linearGradient id="f1550" href="#pt" x1="130.7" y1="256.5" x2="166.4" y2="221.2"/><linearGradient id="f1551" href="#pt" x1="171.1" y1="245.7" x2="132.8" y2="230.2"/><linearGradient id="f1552" href="#pt" x1="110.6" y1="252.6" x2="162.9" y2="255.5"/><linearGradient id="f1553" href="#pt" x1="123.7" y1="250.2" x2="109.7" y2="265.3"/><linearGradient id="f1554" href="#pt" x1="110.7" y1="263.6" x2="162.8" y2="210.5"/><linearGradient id="f1555" href="#pt" x1="137.1" y1="264.1" x2="55.1" y2="208.6"/><linearGradient id="f1556" href="#pt" x1="57.2" y1="241.1" x2="110.7" y2="252.8"/><linearGradient id="f1557" href="#pt" x1="78" y1="245.4" x2="77.3" y2="245.9"/><linearGradient id="f1558" href="#pt" x1="58.6" y1="273.8" x2="108.5" y2="200"/><linearGradient id="f1559" href="#pt" x1="91.9" y1="246.6" x2="54.8" y2="243.8"/><linearGradient id="f1560" href="#pt" x1="116.7" y1="251.9" x2="158.6" y2="254.5"/><linearGradient id="f1561" href="#pt" x1="128.1" y1="250.5" x2="120.4" y2="259.1"/><linearGradient id="f1562" href="#pt" x1="114.9" y1="263.2" x2="164.5" y2="217"/><linearGradient id="f1563" href="#pt" x1="143.9" y1="262.1" x2="68.1" y2="220.8"/><linearGradient id="f1564" href="#pt" x1="74.2" y1="232.3" x2="76" y2="233.1"/><linearGradient id="f1565" href="#pt" x1="65.1" y1="244.1" x2="80.8" y2="226.9"/><linearGradient id="f1566" href="#pt" x1="53.8" y1="265.4" x2="86.8" y2="215.7"/><linearGradient id="f1567" href="#pt" x1="94.9" y1="238.4" x2="65.1" y2="229.9"/><linearGradient id="f1568" href="#pt" x1="81.4" y1="234.8" x2="76.3" y2="232.2"/><linearGradient id="f1569" href="#pt" x1="66.5" y1="247.3" x2="84.2" y2="225.6"/><linearGradient id="f1570" href="#pt" x1="58.3" y1="264.3" x2="88.5" y2="216.7"/><linearGradient id="f1571" href="#pt" x1="97.3" y1="240" x2="68" y2="229.5"/><linearGradient id="f1572" href="#pt" x1="134" y1="219.7" x2="129.2" y2="218.7"/><linearGradient id="f1573" href="#pt" x1="108.2" y1="240.4" x2="130" y2="218"/><linearGradient id="f1574" href="#pt" x1="102" y1="244.1" x2="130.1" y2="217.9"/><linearGradient id="f1575" href="#pt" x1="146.3" y1="222.9" x2="128.8" y2="218.6"/><linearGradient id="f1576" href="#pt" x1="125.3" y1="250.6" x2="144.9" y2="253.4"/><linearGradient id="f1577" href="#pt" x1="129.3" y1="254.6" x2="137.3" y2="245.9"/><linearGradient id="f1578" href="#pt" x1="117.7" y1="263.9" x2="159" y2="228.4"/><linearGradient id="f1579" href="#pt" x1="148.8" y1="257.1" x2="100.6" y2="241"/><linearGradient id="f1580" href="#pt" x1="146.6" y1="251.8" x2="179.6" y2="253"/><linearGradient id="f1581" href="#pt" x1="160.5" y1="250" x2="155.5" y2="256"/><linearGradient id="f1582" href="#pt" x1="141.2" y1="266.1" x2="188.9" y2="228.2"/><linearGradient id="f1583" href="#pt" x1="185.7" y1="263.5" x2="111.8" y2="232.7"/><linearGradient id="f1584" href="#pt" x1="160.3" y1="242.7" x2="172.8" y2="245.6"/><linearGradient id="f1585" href="#pt" x1="163.2" y1="251.4" x2="170.2" y2="237.9"/><linearGradient id="f1586" href="#pt" x1="146.3" y1="266.6" x2="185.2" y2="224.5"/><linearGradient id="f1587" href="#pt" x1="194.4" y1="261.3" x2="142.6" y2="229.2"/><linearGradient id="f1588" href="#pt" x1="92.8" y1="245.6" x2="91.1" y2="244.7"/><linearGradient id="f1589" href="#pt" x1="84.5" y1="254.6" x2="99.8" y2="235.3"/><linearGradient id="f1590" href="#pt" x1="76.3" y1="271" x2="108.4" y2="218.1"/><linearGradient id="f1591" href="#pt" x1="108.7" y1="251.5" x2="74.4" y2="238.6"/><linearGradient id="f1592" href="#pt" x1="142.4" y1="251.4" x2="165.5" y2="258"/><linearGradient id="f1593" href="#pt" x1="150.4" y1="254.3" x2="151.2" y2="252.8"/><linearGradient id="f1594" href="#pt" x1="134.1" y1="270.7" x2="180.4" y2="223.4"/><linearGradient id="f1595" href="#pt" x1="175.4" y1="273.7" x2="106.3" y2="218"/><linearGradient id="f1596" href="#pt" x1="170.3" y1="222.6" x2="167.8" y2="222.1"/><linearGradient id="f1597" href="#pt" x1="147.3" y1="246.3" x2="168.5" y2="221.4"/><linearGradient id="f1598" href="#pt" x1="138.5" y1="252" x2="168.8" y2="221.2"/><linearGradient id="f1599" href="#pt" x1="188.1" y1="227.5" x2="167.3" y2="221.9"/><linearGradient id="f1600" href="#pt" x1="68.3" y1="245.7" x2="109.2" y2="269.8"/><linearGradient id="f1601" href="#pt" x1="82.4" y1="254" x2="82.4" y2="254"/><linearGradient id="f1602" href="#pt" x1="67.2" y1="284.5" x2="111.3" y2="196"/><linearGradient id="f1603" href="#pt" x1="98.3" y1="256.8" x2="52" y2="248.8"/><linearGradient id="f1604" href="#pt" x1="61" y1="238.2" x2="100.2" y2="256.4"/><linearGradient id="f1605" href="#pt" x1="80.3" y1="247.5" x2="80.9" y2="247.1"/><linearGradient id="f1606" href="#pt" x1="57.7" y1="283.3" x2="103.5" y2="211.3"/><linearGradient id="f1607" href="#pt" x1="101" y1="250.2" x2="60.2" y2="244.4"/><linearGradient id="f1608" href="#pt" x1="128.2" y1="252.9" x2="141.8" y2="254.1"/><linearGradient id="f1609" href="#pt" x1="128.4" y1="257.7" x2="141.5" y2="245.5"/><linearGradient id="f1610" href="#pt" x1="119.9" y1="263.6" x2="156.5" y2="235.1"/><linearGradient id="f1611" href="#pt" x1="144.1" y1="255.3" x2="113.7" y2="249.9"/><linearGradient id="f1612" href="#pt" x1="161" y1="237.1" x2="165.6" y2="237.7"/><linearGradient id="f1613" href="#pt" x1="151.4" y1="251.7" x2="169" y2="232.5"/><linearGradient id="f1614" href="#pt" x1="140.4" y1="259.1" x2="173" y2="229.8"/><linearGradient id="f1615" href="#pt" x1="182.5" y1="241.8" x2="157.9" y2="236"/><linearGradient id="f1616" href="#pt" x1="108" y1="250.9" x2="111.2" y2="251.7"/><linearGradient id="f1617" href="#pt" x1="101.9" y1="258.9" x2="119.2" y2="241"/><linearGradient id="f1618" href="#pt" x1="94.4" y1="266.8" x2="129.2" y2="230.5"/><linearGradient id="f1619" href="#pt" x1="118.2" y1="252.6" x2="97.4" y2="249.4"/><linearGradient id="f1620" href="#pt" x1="23.4" y1="180.5" x2="119.3" y2="332.6"/><linearGradient id="f1621" href="#pt" x1="78.2" y1="245.8" x2="57.6" y2="259"/><linearGradient id="f1622" href="#pt" x1="51.5" y1="321.4" x2="87.6" y2="173.8"/><linearGradient id="f1623" href="#pt" x1="95.6" y1="253.9" x2="37.9" y2="249.8"/><linearGradient id="f1624" href="#pt" x1="158" y1="227.8" x2="154.3" y2="227.1"/><linearGradient id="f1625" href="#pt" x1="133.7" y1="248.5" x2="155.6" y2="226"/><linearGradient id="f1626" href="#pt" x1="126.2" y1="253.7" x2="156" y2="225.7"/><linearGradient id="f1627" href="#pt" x1="172.4" y1="231.5" x2="153.6" y2="226.9"/><linearGradient id="f1628" href="#pt" x1="115.5" y1="250" x2="122.9" y2="251"/><linearGradient id="f1629" href="#pt" x1="111.2" y1="257" x2="128.2" y2="242.4"/><linearGradient id="f1630" href="#pt" x1="103" y1="263.8" x2="138.2" y2="234"/><linearGradient id="f1631" href="#pt" x1="128" y1="251.6" x2="107.5" y2="249.1"/><linearGradient id="f1632" href="#pt" x1="138.1" y1="261.1" x2="178" y2="263.9"/><linearGradient id="f1633" href="#pt" x1="152.4" y1="258" x2="141.1" y2="272.1"/><linearGradient id="f1634" href="#pt" x1="134.1" y1="272.8" x2="188.1" y2="233.9"/><linearGradient id="f1635" href="#pt" x1="173.9" y1="270.3" x2="85.7" y2="240.4"/><linearGradient id="f1636" href="#pt" x1="109.2" y1="228.3" x2="103.9" y2="227.1"/><linearGradient id="f1637" href="#pt" x1="83.5" y1="248.6" x2="104.7" y2="226.4"/><linearGradient id="f1638" href="#pt" x1="76.7" y1="254.8" x2="104.9" y2="226.2"/><linearGradient id="f1639" href="#pt" x1="118.2" y1="229.8" x2="103.7" y2="227"/><linearGradient id="f1640" href="#pt" x1="169.2" y1="246.4" x2="166.3" y2="245"/><linearGradient id="f1641" href="#pt" x1="160.2" y1="261.7" x2="171.7" y2="235.8"/><linearGradient id="f1642" href="#pt" x1="146.7" y1="272.7" x2="179.8" y2="229.2"/><linearGradient id="f1643" href="#pt" x1="193.1" y1="263.8" x2="151.9" y2="234.6"/><linearGradient id="f1644" href="#pt" x1="95.3" y1="229.9" x2="90.5" y2="228.7"/><linearGradient id="f1645" href="#pt" x1="70.7" y1="249.2" x2="91.8" y2="227.7"/><linearGradient id="f1646" href="#pt" x1="63.5" y1="257.4" x2="92.1" y2="227.3"/><linearGradient id="f1647" href="#pt" x1="105.5" y1="231.7" x2="89.9" y2="228.6"/><linearGradient id="f1648" href="#pt" x1="131.3" y1="248.1" x2="139.1" y2="248.4"/><linearGradient id="f1649" href="#pt" x1="125.4" y1="256.6" x2="143.4" y2="242.2"/><linearGradient id="f1650" href="#pt" x1="117.9" y1="260.6" x2="148.9" y2="239.2"/><linearGradient id="f1651" href="#pt" x1="144" y1="248.8" x2="129.8" y2="247.9"/><linearGradient id="f1652" href="#pt" x1="150.4" y1="250.3" x2="163" y2="250.8"/><linearGradient id="f1653" href="#pt" x1="149.4" y1="257.6" x2="163.8" y2="245"/><linearGradient id="f1654" href="#pt" x1="138.1" y1="264.9" x2="172.8" y2="239.2"/><linearGradient id="f1655" href="#pt" x1="170.2" y1="251.9" x2="147.4" y2="249.5"/><linearGradient id="f1656" href="#pt" x1="122.6" y1="263.5" x2="140.2" y2="268.2"/><linearGradient id="f1657" href="#pt" x1="125.3" y1="266.8" x2="132.3" y2="258.8"/><linearGradient id="f1658" href="#pt" x1="115.6" y1="274" x2="160.1" y2="238.1"/><linearGradient id="f1659" href="#pt" x1="140.6" y1="268.7" x2="88.8" y2="253.4"/><linearGradient id="f1660" href="#pt" x1="55.4" y1="240.4" x2="94.8" y2="279.9"/><linearGradient id="f1661" href="#pt" x1="73.4" y1="256.7" x2="71.4" y2="258.6"/><linearGradient id="f1662" href="#pt" x1="56.6" y1="303.5" x2="93.3" y2="197.7"/><linearGradient id="f1663" href="#pt" x1="95.3" y1="262.1" x2="42.9" y2="251.6"/><linearGradient id="f1664" href="#pt" x1="124.8" y1="266.8" x2="158.1" y2="275.7"/><linearGradient id="f1665" href="#pt" x1="132.9" y1="267.3" x2="128.1" y2="274.1"/><linearGradient id="f1666" href="#pt" x1="119.9" y1="277.7" x2="176.3" y2="235.2"/><linearGradient id="f1667" href="#pt" x1="150.7" y1="275.7" x2="62.3" y2="242.7"/><linearGradient id="f1668" href="#pt" x1="76.8" y1="244.9" x2="70.3" y2="241.6"/><linearGradient id="f1669" href="#pt" x1="57.9" y1="259.1" x2="76.3" y2="237.2"/><linearGradient id="f1670" href="#pt" x1="48.8" y1="277.2" x2="79.1" y2="231.5"/><linearGradient id="f1671" href="#pt" x1="93.8" y1="250.2" x2="65" y2="240"/><linearGradient id="f1672" href="#pt" x1="92" y1="260.6" x2="118.9" y2="286.8"/><linearGradient id="f1673" href="#pt" x1="99.3" y1="267.4" x2="98.7" y2="268.1"/><linearGradient id="f1674" href="#pt" x1="85.3" y1="294.3" x2="137.2" y2="194"/><linearGradient id="f1675" href="#pt" x1="114.1" y1="270.4" x2="57.9" y2="259.9"/><linearGradient id="f1676" href="#pt" x1="129.8" y1="258.9" x2="132.7" y2="259.7"/><linearGradient id="f1677" href="#pt" x1="124.1" y1="266.6" x2="140.2" y2="249.6"/><linearGradient id="f1678" href="#pt" x1="115.8" y1="271.9" x2="151" y2="242.6"/><linearGradient id="f1679" href="#pt" x1="144.1" y1="262.6" x2="113.9" y2="254.9"/><linearGradient id="f1680" href="#pt" x1="150.4" y1="236.3" x2="146.4" y2="235.4"/><linearGradient id="f1681" href="#pt" x1="126.7" y1="255" x2="148.4" y2="233.8"/><linearGradient id="f1682" href="#pt" x1="119.6" y1="259.3" x2="149.1" y2="233.4"/><linearGradient id="f1683" href="#pt" x1="162.9" y1="239.1" x2="145.3" y2="235.2"/><linearGradient id="f1684" href="#pt" x1="165" y1="236.1" x2="162" y2="235.5"/><linearGradient id="f1685" href="#pt" x1="142.3" y1="256.2" x2="163.9" y2="233.7"/><linearGradient id="f1686" href="#pt" x1="134.3" y1="262" x2="164.6" y2="233.2"/><linearGradient id="f1687" href="#pt" x1="180.1" y1="239.8" x2="160.6" y2="235.1"/><linearGradient id="f1688" href="#pt" x1="161.5" y1="256.7" x2="171.8" y2="259.5"/><linearGradient id="f1689" href="#pt" x1="162.3" y1="265.5" x2="171.1" y2="250.8"/><linearGradient id="f1690" href="#pt" x1="147" y1="278.9" x2="186.2" y2="237.5"/><linearGradient id="f1691" href="#pt" x1="191.3" y1="270.8" x2="142.4" y2="245.6"/><linearGradient id="f1692" href="#pt" x1="141.7" y1="238" x2="137.4" y2="237.1"/><linearGradient id="f1693" href="#pt" x1="117.9" y1="256.2" x2="139.4" y2="235.5"/><linearGradient id="f1694" href="#pt" x1="111.1" y1="259.9" x2="140" y2="235.2"/><linearGradient id="f1695" href="#pt" x1="153" y1="240.4" x2="136.4" y2="236.9"/><linearGradient id="f1696" href="#pt" x1="150" y1="254.2" x2="155.5" y2="255.1"/><linearGradient id="f1697" href="#pt" x1="143.6" y1="264.7" x2="159.8" y2="248"/><linearGradient id="f1698" href="#pt" x1="132.7" y1="271.9" x2="167.2" y2="243.2"/><linearGradient id="f1699" href="#pt" x1="169.2" y1="258.1" x2="142.6" y2="252.5"/><linearGradient id="f1700" href="#pt" x1="171.7" y1="238.7" x2="168.9" y2="238.2"/><linearGradient id="f1701" href="#pt" x1="149.5" y1="261.1" x2="170.6" y2="236.5"/><linearGradient id="f1702" href="#pt" x1="140.7" y1="266.2" x2="171.2" y2="236.1"/><linearGradient id="f1703" href="#pt" x1="187.5" y1="242.7" x2="167.7" y2="237.9"/><linearGradient id="f1704" href="#pt" x1="151" y1="265.8" x2="166.8" y2="270.4"/><linearGradient id="f1705" href="#pt" x1="154.9" y1="270.7" x2="160.4" y2="262.3"/><linearGradient id="f1706" href="#pt" x1="140.1" y1="283.4" x2="184.8" y2="241.3"/><linearGradient id="f1707" href="#pt" x1="179.2" y1="277.9" x2="120.1" y2="250.4"/><linearGradient id="f1708" href="#pt" x1="149.7" y1="258.9" x2="159.2" y2="260.6"/><linearGradient id="f1709" href="#pt" x1="147.7" y1="267.5" x2="160.9" y2="253.2"/><linearGradient id="f1710" href="#pt" x1="134.7" y1="276.3" x2="172.1" y2="245.6"/><linearGradient id="f1711" href="#pt" x1="172.4" y1="263.7" x2="139.6" y2="256.5"/><linearGradient id="f1712" href="#pt" x1="73.9" y1="258.6" x2="95.6" y2="268.1"/><linearGradient id="f1713" href="#pt" x1="80.6" y1="266.1" x2="87.9" y2="259.4"/><linearGradient id="f1714" href="#pt" x1="62.3" y1="289.9" x2="109.2" y2="231.9"/><linearGradient id="f1715" href="#pt" x1="100.2" y1="264.9" x2="65.1" y2="260.8"/><linearGradient id="f1716" href="#pt" x1="147.9" y1="266.1" x2="158.5" y2="269.1"/><linearGradient id="f1717" href="#pt" x1="148.3" y1="272.7" x2="158" y2="259.9"/><linearGradient id="f1718" href="#pt" x1="135.1" y1="282.7" x2="176.3" y2="246"/><linearGradient id="f1719" href="#pt" x1="171.6" y1="273.9" x2="125.6" y2="258.2"/><linearGradient id="f1720" href="#pt" x1="156.9" y1="264.3" x2="169" y2="266.8"/><linearGradient id="f1721" href="#pt" x1="157.8" y1="271.5" x2="168" y2="258.7"/><linearGradient id="f1722" href="#pt" x1="143.7" y1="282.8" x2="183.9" y2="246"/><linearGradient id="f1723" href="#pt" x1="182.7" y1="271.8" x2="139.9" y2="258.4"/><linearGradient id="f1724" href="#pt" x1="80.9" y1="262.6" x2="94.4" y2="275.2"/><linearGradient id="f1725" href="#pt" x1="83.9" y1="270.5" x2="90" y2="263.5"/><linearGradient id="f1726" href="#pt" x1="69.4" y1="298.8" x2="111.7" y2="221.3"/><linearGradient id="f1727" href="#pt" x1="105.8" y1="272.9" x2="57.4" y2="259.8"/><linearGradient id="f1728" href="#pt" x1="68.4" y1="255.9" x2="99.6" y2="271.9"/><linearGradient id="f1729" href="#pt" x1="83.2" y1="264.6" x2="84.8" y2="263.2"/><linearGradient id="f1730" href="#pt" x1="59.8" y1="294.2" x2="108.2" y2="233.6"/><linearGradient id="f1731" href="#pt" x1="103.6" y1="266" x2="64.4" y2="261.8"/><linearGradient id="f1732" href="#pt" x1="90.6" y1="268.6" x2="110.5" y2="281.1"/><linearGradient id="f1733" href="#pt" x1="95.3" y1="274.2" x2="100.5" y2="268.9"/><linearGradient id="f1734" href="#pt" x1="80.1" y1="293.9" x2="133.2" y2="226.7"/><linearGradient id="f1735" href="#pt" x1="110.8" y1="274.5" x2="67.1" y2="268.5"/><linearGradient id="f1736" href="#pt" x1="120.8" y1="274.1" x2="146" y2="280.2"/><linearGradient id="f1737" href="#pt" x1="126.7" y1="276.2" x2="129" y2="274"/><linearGradient id="f1738" href="#pt" x1="113.8" y1="283.6" x2="166.3" y2="252.9"/><linearGradient id="f1739" href="#pt" x1="139.2" y1="275.8" x2="93.1" y2="275.3"/><linearGradient id="f1740" href="#pt" x1="99.4" y1="266.2" x2="107.9" y2="268.1"/><linearGradient id="f1741" href="#pt" x1="96.8" y1="272.3" x2="111.3" y2="259.9"/><linearGradient id="f1742" href="#pt" x1="86.4" y1="280.9" x2="125" y2="248.6"/><linearGradient id="f1743" href="#pt" x1="111.6" y1="267.4" x2="91.9" y2="266.4"/><linearGradient id="f1744" href="#pt" x1="87" y1="252.6" x2="81.5" y2="250.4"/><linearGradient id="f1745" href="#pt" x1="68.4" y1="266.7" x2="87.8" y2="245.6"/><linearGradient id="f1746" href="#pt" x1="59.2" y1="279.2" x2="90.9" y2="241.4"/><linearGradient id="f1747" href="#pt" x1="100.8" y1="255.8" x2="76.9" y2="249.3"/><linearGradient id="f1748" href="#pt" x1="117.7" y1="271" x2="129.8" y2="272.8"/><linearGradient id="f1749" href="#pt" x1="117.6" y1="275.2" x2="130.1" y2="265.4"/><linearGradient id="f1750" href="#pt" x1="107.8" y1="280.7" x2="147.3" y2="255.9"/><linearGradient id="f1751" href="#pt" x1="128.8" y1="271.5" x2="110.4" y2="271.9"/><linearGradient id="f1752" href="#pt" x1="114.5" y1="256.8" x2="111.6" y2="256.1"/><linearGradient id="f1753" href="#pt" x1="98.8" y1="269.5" x2="118.4" y2="250.6"/><linearGradient id="f1754" href="#pt" x1="91.1" y1="275.4" x2="121.7" y2="248.1"/><linearGradient id="f1755" href="#pt" x1="123.6" y1="258" x2="107.7" y2="255.6"/><linearGradient id="f1756" href="#pt" x1="149.3" y1="261.1" x2="151.1" y2="261.6"/><linearGradient id="f1757" href="#pt" x1="140.4" y1="272.8" x2="156.4" y2="254.6"/><linearGradient id="f1758" href="#pt" x1="128.3" y1="281.2" x2="163.7" y2="249.6"/><linearGradient id="f1759" href="#pt" x1="169.4" y1="266.6" x2="139" y2="258.4"/><linearGradient id="f1760" href="#pt" x1="83.2" y1="264.5" x2="104.5" y2="274.1"/><linearGradient id="f1761" href="#pt" x1="90.9" y1="271.5" x2="96.2" y2="266.5"/><linearGradient id="f1762" href="#pt" x1="70.5" y1="293" x2="118.2" y2="243.2"/><linearGradient id="f1763" href="#pt" x1="110.2" y1="270.6" x2="75.2" y2="267.5"/><linearGradient id="f1764" href="#pt" x1="123" y1="246" x2="117.9" y2="244.8"/><linearGradient id="f1765" href="#pt" x1="98" y1="264.5" x2="119.3" y2="243.9"/><linearGradient id="f1766" href="#pt" x1="90.7" y1="268.9" x2="119.6" y2="243.6"/><linearGradient id="f1767" href="#pt" x1="131.1" y1="246.9" x2="117.5" y2="244.8"/><linearGradient id="f1768" href="#pt" x1="89.9" y1="272.1" x2="110.2" y2="276.8"/><linearGradient id="f1769" href="#pt" x1="94.3" y1="276.6" x2="103" y2="269.5"/><linearGradient id="f1770" href="#pt" x1="79.7" y1="288.2" x2="126.8" y2="250.5"/><linearGradient id="f1771" href="#pt" x1="107.1" y1="273.8" x2="82.2" y2="274"/><linearGradient id="f1772" href="#pt" x1="86.8" y1="268" x2="96.7" y2="271.1"/><linearGradient id="f1773" href="#pt" x1="85.3" y1="275.1" x2="98.4" y2="263.1"/><linearGradient id="f1774" href="#pt" x1="72.3" y1="288.3" x2="113.1" y2="248.2"/><linearGradient id="f1775" href="#pt" x1="103.8" y1="270.7" x2="77.6" y2="268"/><linearGradient id="f1776" href="#pt" x1="92.2" y1="273.5" x2="108.6" y2="287"/><linearGradient id="f1777" href="#pt" x1="96.3" y1="279.9" x2="100.9" y2="274.7"/><linearGradient id="f1778" href="#pt" x1="79.1" y1="303.2" x2="133.7" y2="230.3"/><linearGradient id="f1779" href="#pt" x1="115.2" y1="281.2" x2="64.7" y2="272.2"/><linearGradient id="f1780" href="#pt" x1="103.4" y1="270.4" x2="98.5" y2="267.7"/><linearGradient id="f1781" href="#pt" x1="91.9" y1="279.4" x2="108.6" y2="259.8"/><linearGradient id="f1782" href="#pt" x1="82" y1="291.3" x2="117.3" y2="249.2"/><linearGradient id="f1783" href="#pt" x1="117.1" y1="273.9" x2="86.4" y2="264.5"/><linearGradient id="f1784" href="#pt" x1="118.8" y1="273.2" x2="112.8" y2="270.1"/><linearGradient id="f1785" href="#pt" x1="107.6" y1="282.1" x2="124.1" y2="261.1"/><linearGradient id="f1786" href="#pt" x1="98" y1="291.5" x2="133.9" y2="251.5"/><linearGradient id="f1787" href="#pt" x1="130.6" y1="276" x2="100.8" y2="267.3"/><linearGradient id="f1788" href="#pt" x1="123.5" y1="259.6" x2="120" y2="258.8"/><linearGradient id="f1789" href="#pt" x1="105.8" y1="273.2" x2="125.9" y2="254.3"/><linearGradient id="f1790" href="#pt" x1="97.9" y1="278.2" x2="128.6" y2="252.6"/><linearGradient id="f1791" href="#pt" x1="132.4" y1="260.7" x2="117.1" y2="258.4"/><linearGradient id="f1792" href="#pt" x1="104.6" y1="276.5" x2="126.3" y2="306.7"/><linearGradient id="f1793" href="#pt" x1="111.3" y1="282.8" x2="107" y2="288.7"/><linearGradient id="f1794" href="#pt" x1="86.5" y1="312.9" x2="178.3" y2="202"/><linearGradient id="f1795" href="#pt" x1="128.9" y1="285.5" x2="56.4" y2="281"/><linearGradient id="f1796" href="#pt" x1="131" y1="281.8" x2="154.9" y2="285.8"/><linearGradient id="f1797" href="#pt" x1="137.7" y1="283.8" x2="140.1" y2="281.4"/><linearGradient id="f1798" href="#pt" x1="123.3" y1="291.5" x2="171.8" y2="264.3"/><linearGradient id="f1799" href="#pt" x1="151" y1="282.8" x2="110.5" y2="283.5"/><linearGradient id="f1800" href="#pt" x1="87.1" y1="270.9" x2="99.3" y2="273.6"/><linearGradient id="f1801" href="#pt" x1="86.8" y1="277.8" x2="99.7" y2="266.9"/><linearGradient id="f1802" href="#pt" x1="72.9" y1="289.6" x2="113.2" y2="255.5"/><linearGradient id="f1803" href="#pt" x1="104.5" y1="272.8" x2="82.4" y2="271.8"/><linearGradient id="f1804" href="#pt" x1="128" y1="280.1" x2="135.2" y2="283.6"/><linearGradient id="f1805" href="#pt" x1="127.2" y1="285.5" x2="136.5" y2="274"/><linearGradient id="f1806" href="#pt" x1="113.5" y1="295.2" x2="161.1" y2="256.7"/><linearGradient id="f1807" href="#pt" x1="146.7" y1="284.6" x2="101.8" y2="275.6"/><linearGradient id="f1808" href="#pt" x1="93.9" y1="271.5" x2="102.1" y2="273.4"/><linearGradient id="f1809" href="#pt" x1="90.5" y1="279.4" x2="105" y2="266.8"/><linearGradient id="f1810" href="#pt" x1="77.5" y1="290" x2="115.8" y2="258"/><linearGradient id="f1811" href="#pt" x1="109.9" y1="273.3" x2="88.8" y2="271.9"/><linearGradient id="f1812" href="#pt" x1="126.4" y1="255.3" x2="121.5" y2="254.1"/><linearGradient id="f1813" href="#pt" x1="101.7" y1="272.5" x2="123.3" y2="252.8"/><linearGradient id="f1814" href="#pt" x1="94" y1="277.3" x2="123.9" y2="252.5"/><linearGradient id="f1815" href="#pt" x1="135.1" y1="256.3" x2="120.8" y2="254"/><linearGradient id="f1816" href="#pt" x1="72.8" y1="267.5" x2="104" y2="303.6"/><linearGradient id="f1817" href="#pt" x1="85.8" y1="280.3" x2="83.2" y2="283"/><linearGradient id="f1818" href="#pt" x1="63.4" y1="318.7" x2="119.1" y2="221.4"/><linearGradient id="f1819" href="#pt" x1="109.5" y1="286.7" x2="45.2" y2="272.8"/><linearGradient id="f1820" href="#pt" x1="371.7" y1="202.8" x2="364.3" y2="200.9"/><linearGradient id="f1821" href="#pt" x1="341.3" y1="224.1" x2="364.3" y2="200.9"/><linearGradient id="f1822" href="#pt" x1="335.1" y1="230.4" x2="364.3" y2="200.9"/><linearGradient id="f1823" href="#pt" x1="382" y1="205.4" x2="364.3" y2="200.9"/><linearGradient id="f1824" href="#pt" x1="387.7" y1="207.9" x2="380.3" y2="206"/><linearGradient id="f1825" href="#pt" x1="357.3" y1="229.2" x2="380.3" y2="206"/><linearGradient id="f1826" href="#pt" x1="351.1" y1="235.5" x2="380.3" y2="206"/><linearGradient id="f1827" href="#pt" x1="398" y1="210.5" x2="380.3" y2="206"/><linearGradient id="f1828" href="#pt" x1="380.5" y1="208.3" x2="373.1" y2="206.4"/><linearGradient id="f1829" href="#pt" x1="350.1" y1="229.6" x2="373.1" y2="206.4"/><linearGradient id="f1830" href="#pt" x1="343.9" y1="235.9" x2="373.1" y2="206.4"/><linearGradient id="f1831" href="#pt" x1="390.8" y1="210.9" x2="373.1" y2="206.4"/><linearGradient id="f1832" href="#pt" x1="346" y1="208.9" x2="338.6" y2="207"/><linearGradient id="f1833" href="#pt" x1="315.6" y1="230.2" x2="338.6" y2="207"/><linearGradient id="f1834" href="#pt" x1="309.4" y1="236.5" x2="338.6" y2="207"/><linearGradient id="f1835" href="#pt" x1="356.3" y1="211.5" x2="338.6" y2="207"/><linearGradient id="f1836" href="#pt" x1="354.7" y1="212.5" x2="347.3" y2="210.6"/><linearGradient id="f1837" href="#pt" x1="324.7" y1="233.6" x2="347.6" y2="210.4"/><linearGradient id="f1838" href="#pt" x1="318.4" y1="239.9" x2="347.7" y2="210.3"/><linearGradient id="f1839" href="#pt" x1="364.9" y1="215.1" x2="347.2" y2="210.6"/><linearGradient id="f1840" href="#pt" x1="403.2" y1="220.7" x2="395.9" y2="218.8"/><linearGradient id="f1841" href="#pt" x1="373.9" y1="241.3" x2="396.8" y2="218.2"/><linearGradient id="f1842" href="#pt" x1="367.7" y1="247.6" x2="397" y2="218"/><linearGradient id="f1843" href="#pt" x1="413.4" y1="223.3" x2="395.6" y2="218.8"/><linearGradient id="f1844" href="#pt" x1="365.5" y1="221.6" x2="358.2" y2="219.7"/><linearGradient id="f1845" href="#pt" x1="336.2" y1="242.2" x2="359.1" y2="219.1"/><linearGradient id="f1846" href="#pt" x1="330" y1="248.5" x2="359.3" y2="218.9"/><linearGradient id="f1847" href="#pt" x1="375.7" y1="224.2" x2="357.9" y2="219.7"/><linearGradient id="f1848" href="#pt" x1="374.2" y1="224.4" x2="366.9" y2="222.5"/><linearGradient id="f1849" href="#pt" x1="344.9" y1="245" x2="367.8" y2="221.9"/><linearGradient id="f1850" href="#pt" x1="338.7" y1="251.3" x2="368" y2="221.7"/><linearGradient id="f1851" href="#pt" x1="384.4" y1="227" x2="366.6" y2="222.5"/><linearGradient id="f1852" href="#pt" x1="340.7" y1="228" x2="333.4" y2="226.1"/><linearGradient id="f1853" href="#pt" x1="311.4" y1="248.6" x2="334.3" y2="225.5"/><linearGradient id="f1854" href="#pt" x1="305.2" y1="254.9" x2="334.5" y2="225.3"/><linearGradient id="f1855" href="#pt" x1="350.9" y1="230.6" x2="333.1" y2="226.1"/><linearGradient id="f1856" href="#pt" x1="390.2" y1="229" x2="382.9" y2="227.1"/><linearGradient id="f1857" href="#pt" x1="360.9" y1="249.6" x2="383.8" y2="226.5"/><linearGradient id="f1858" href="#pt" x1="354.7" y1="255.9" x2="384" y2="226.3"/><linearGradient id="f1859" href="#pt" x1="400.4" y1="231.6" x2="382.6" y2="227.1"/><linearGradient id="f1860" href="#pt" x1="397.1" y1="235.4" x2="389.8" y2="233.5"/><linearGradient id="f1861" href="#pt" x1="367.8" y1="256" x2="390.7" y2="232.9"/><linearGradient id="f1862" href="#pt" x1="361.6" y1="262.3" x2="390.9" y2="232.7"/><linearGradient id="f1863" href="#pt" x1="407.3" y1="238" x2="389.5" y2="233.5"/><linearGradient id="f1864" href="#pt" x1="382.4" y1="239.1" x2="375.1" y2="237.2"/><linearGradient id="f1865" href="#pt" x1="353.1" y1="259.7" x2="376" y2="236.6"/><linearGradient id="f1866" href="#pt" x1="346.9" y1="266" x2="376.2" y2="236.4"/><linearGradient id="f1867" href="#pt" x1="392.6" y1="241.7" x2="374.8" y2="237.2"/><linearGradient id="f1868" href="#pt" x1="332.8" y1="240" x2="325.5" y2="238.1"/><linearGradient id="f1869" href="#pt" x1="303.5" y1="260.6" x2="326.4" y2="237.5"/><linearGradient id="f1870" href="#pt" x1="297.3" y1="266.9" x2="326.6" y2="237.3"/><linearGradient id="f1871" href="#pt" x1="343" y1="242.6" x2="325.2" y2="238.1"/><linearGradient id="f1872" href="#pt" x1="361.9" y1="246" x2="354.6" y2="244.1"/><linearGradient id="f1873" href="#pt" x1="332.6" y1="266.6" x2="355.5" y2="243.5"/><linearGradient id="f1874" href="#pt" x1="326.4" y1="272.9" x2="355.7" y2="243.3"/><linearGradient id="f1875" href="#pt" x1="372.1" y1="248.6" x2="354.3" y2="244.1"/><linearGradient id="f1876" href="#pt" x1="600.6" y1="204.6" x2="593" y2="202.7"/><linearGradient id="f1877" href="#pt" x1="569.4" y1="226.4" x2="593" y2="202.7"/><linearGradient id="f1878" href="#pt" x1="563.1" y1="232.7" x2="593" y2="202.7"/><linearGradient id="f1879" href="#pt" x1="611" y1="207.3" x2="593" y2="202.7"/><linearGradient id="f1880" href="#pt" x1="592.9" y1="207.9" x2="585.3" y2="206"/><linearGradient id="f1881" href="#pt" x1="561.7" y1="229.7" x2="585.3" y2="206"/><linearGradient id="f1882" href="#pt" x1="555.4" y1="236" x2="585.3" y2="206"/><linearGradient id="f1883" href="#pt" x1="603.3" y1="210.6" x2="585.3" y2="206"/><linearGradient id="f1884" href="#pt" x1="617" y1="210.1" x2="609.4" y2="208.2"/><linearGradient id="f1885" href="#pt" x1="586.1" y1="231.6" x2="609.7" y2="208"/><linearGradient id="f1886" href="#pt" x1="579.8" y1="237.9" x2="609.8" y2="207.9"/><linearGradient id="f1887" href="#pt" x1="627.3" y1="212.7" x2="609.3" y2="208.2"/><linearGradient id="f1888" href="#pt" x1="609.3" y1="211.6" x2="601.7" y2="209.7"/><linearGradient id="f1889" href="#pt" x1="578.4" y1="233.1" x2="602" y2="209.5"/><linearGradient id="f1890" href="#pt" x1="572.1" y1="239.4" x2="602.1" y2="209.4"/><linearGradient id="f1891" href="#pt" x1="619.6" y1="214.2" x2="601.6" y2="209.7"/><linearGradient id="f1892" href="#pt" x1="583.6" y1="212.5" x2="576" y2="210.6"/><linearGradient id="f1893" href="#pt" x1="552.7" y1="234" x2="576.3" y2="210.4"/><linearGradient id="f1894" href="#pt" x1="546.4" y1="240.3" x2="576.4" y2="210.3"/><linearGradient id="f1895" href="#pt" x1="593.9" y1="215.1" x2="575.9" y2="210.6"/><linearGradient id="f1896" href="#pt" x1="547.9" y1="222.5" x2="540.4" y2="220.6"/><linearGradient id="f1897" href="#pt" x1="517.8" y1="243.5" x2="541.3" y2="220"/><linearGradient id="f1898" href="#pt" x1="511.5" y1="249.9" x2="541.5" y2="219.8"/><linearGradient id="f1899" href="#pt" x1="558.2" y1="225.2" x2="540.1" y2="220.6"/><linearGradient id="f1900" href="#pt" x1="633" y1="222.5" x2="625.5" y2="220.6"/><linearGradient id="f1901" href="#pt" x1="602.9" y1="243.5" x2="626.4" y2="220"/><linearGradient id="f1902" href="#pt" x1="596.6" y1="249.9" x2="626.6" y2="219.8"/><linearGradient id="f1903" href="#pt" x1="643.3" y1="225.2" x2="625.2" y2="220.6"/><linearGradient id="f1904" href="#pt" x1="575.5" y1="223.5" x2="568" y2="221.6"/><linearGradient id="f1905" href="#pt" x1="545.4" y1="244.5" x2="568.9" y2="221"/><linearGradient id="f1906" href="#pt" x1="539.1" y1="250.9" x2="569.1" y2="220.8"/><linearGradient id="f1907" href="#pt" x1="585.8" y1="226.2" x2="567.7" y2="221.6"/><linearGradient id="f1908" href="#pt" x1="569.6" y1="228" x2="562.1" y2="226.1"/><linearGradient id="f1909" href="#pt" x1="539.5" y1="249" x2="563" y2="225.5"/><linearGradient id="f1910" href="#pt" x1="533.2" y1="255.4" x2="563.2" y2="225.3"/><linearGradient id="f1911" href="#pt" x1="579.9" y1="230.7" x2="561.8" y2="226.1"/><linearGradient id="f1912" href="#pt" x1="619.6" y1="231.7" x2="612.1" y2="229.8"/><linearGradient id="f1913" href="#pt" x1="589.5" y1="252.7" x2="613" y2="229.2"/><linearGradient id="f1914" href="#pt" x1="583.2" y1="259.1" x2="613.2" y2="229"/><linearGradient id="f1915" href="#pt" x1="629.9" y1="234.4" x2="611.8" y2="229.8"/><linearGradient id="f1916" href="#pt" x1="602.1" y1="238.1" x2="594.6" y2="236.2"/><linearGradient id="f1917" href="#pt" x1="572" y1="259.1" x2="595.5" y2="235.6"/><linearGradient id="f1918" href="#pt" x1="565.7" y1="265.5" x2="595.7" y2="235.4"/><linearGradient id="f1919" href="#pt" x1="612.4" y1="240.8" x2="594.3" y2="236.2"/><linearGradient id="f1920" href="#pt" x1="626.4" y1="238.1" x2="618.9" y2="236.2"/><linearGradient id="f1921" href="#pt" x1="596.3" y1="259.1" x2="619.8" y2="235.6"/><linearGradient id="f1922" href="#pt" x1="590" y1="265.5" x2="620" y2="235.4"/><linearGradient id="f1923" href="#pt" x1="636.7" y1="240.8" x2="618.6" y2="236.2"/><linearGradient id="f1924" href="#pt" x1="561.7" y1="240.9" x2="554.2" y2="239"/><linearGradient id="f1925" href="#pt" x1="531.6" y1="261.9" x2="555.1" y2="238.4"/><linearGradient id="f1926" href="#pt" x1="525.3" y1="268.3" x2="555.3" y2="238.2"/><linearGradient id="f1927" href="#pt" x1="572" y1="243.6" x2="553.9" y2="239"/><linearGradient id="f1928" href="#pt" x1="611.3" y1="240.9" x2="603.8" y2="239"/><linearGradient id="f1929" href="#pt" x1="581.2" y1="261.9" x2="604.7" y2="238.4"/><linearGradient id="f1930" href="#pt" x1="574.9" y1="268.3" x2="604.9" y2="238.2"/><linearGradient id="f1931" href="#pt" x1="621.6" y1="243.6" x2="603.5" y2="239"/><linearGradient id="f1932" href="#pt" x1="549.8" y1="252.8" x2="542.3" y2="250.9"/><linearGradient id="f1933" href="#pt" x1="519.7" y1="273.8" x2="543.2" y2="250.3"/><linearGradient id="f1934" href="#pt" x1="513.4" y1="280.2" x2="543.4" y2="250.1"/><linearGradient id="f1935" href="#pt" x1="560.1" y1="255.5" x2="542" y2="250.9"/><linearGradient id="f1936" href="#pt" x1="586.1" y1="258.4" x2="578.6" y2="256.5"/><linearGradient id="f1937" href="#pt" x1="556" y1="279.4" x2="579.5" y2="255.9"/><linearGradient id="f1938" href="#pt" x1="549.7" y1="285.8" x2="579.7" y2="255.7"/><linearGradient id="f1939" href="#pt" x1="596.4" y1="261.1" x2="578.3" y2="256.5"/></defs><line x1="28.4" y1="78.8" x2="165.1" y2="63.7" stroke="#e3e3e3" stroke-width="0.5"/><line x1="28.4" y1="51.4" x2="165.1" y2="36.3" stroke="#e3e3e3" stroke-width="0.5"/><line x1="28.4" y1="24" x2="165.1" y2="8.9" stroke="#e3e3e3" stroke-width="0.5"/><line x1="28.4" y1="78.8" x2="28.4" y2="24" stroke="#e3e3e3" stroke-width="0.5"/><line x1="72.7" y1="73.9" x2="72.7" y2="19.1" stroke="#e3e3e3" stroke-width="0.5"/><line x1="117" y1="69" x2="117" y2="14.2" stroke="#e3e3e3" stroke-width="0.5"/><line x1="161.3" y1="64.1" x2="161.3" y2="9.3" stroke="#e3e3e3" stroke-width="0.5"/><line x1="192.5" y1="140.8" x2="165.1" y2="63.7" stroke="#e3e3e3" stroke-width="0.5"/><line x1="192.5" y1="113.4" x2="165.1" y2="36.3" stroke="#e3e3e3" stroke-width="0.5"/><line x1="192.5" y1="86" x2="165.1" y2="8.9" stroke="#e3e3e3" stroke-width="0.5"/><line x1="192.5" y1="140.8" x2="192.5" y2="86" stroke="#e3e3e3" stroke-width="0.5"/><line x1="184.7" y1="118.8" x2="184.7" y2="64" stroke="#e3e3e3" stroke-width="0.5"/><line x1="176.8" y1="96.7" x2="176.8" y2="41.9" stroke="#e3e3e3" stroke-width="0.5"/><line x1="169" y1="74.7" x2="169" y2="19.9" stroke="#e3e3e3" stroke-width="0.5"/><line x1="55.8" y1="155.9" x2="28.4" y2="78.8" stroke="#e3e3e3" stroke-width="0.5"/><line x1="100.1" y1="151" x2="72.7" y2="73.9" stroke="#e3e3e3" stroke-width="0.5"/><line x1="144.4" y1="146.1" x2="117" y2="69" stroke="#e3e3e3" stroke-width="0.5"/><line x1="188.7" y1="141.2" x2="161.3" y2="64.1" stroke="#e3e3e3" stroke-width="0.5"/><line x1="55.8" y1="155.9" x2="192.5" y2="140.8" stroke="#e3e3e3" stroke-width="0.5"/><line x1="48" y1="133.9" x2="184.7" y2="118.8" stroke="#e3e3e3" stroke-width="0.5"/><line x1="40.1" y1="111.8" x2="176.8" y2="96.7" stroke="#e3e3e3" stroke-width="0.5"/><line x1="32.3" y1="89.8" x2="169" y2="74.7" stroke="#e3e3e3" stroke-width="0.5"/><line x1="28.4" y1="78.8" x2="28.4" y2="24" stroke="#9a9a9a" stroke-width="0.6"/><line x1="55.8" y1="155.9" x2="28.4" y2="78.8" stroke="#9a9a9a" stroke-width="0.6"/><line x1="55.8" y1="155.9" x2="192.5" y2="140.8" stroke="#9a9a9a" stroke-width="0.6"/><line x1="55.8" y1="155.9" x2="56.7" y2="158.7" stroke="#9a9a9a" stroke-width="0.6"/><line x1="100.1" y1="151" x2="101" y2="153.8" stroke="#9a9a9a" stroke-width="0.6"/><line x1="144.4" y1="146.1" x2="145.3" y2="148.9" stroke="#9a9a9a" stroke-width="0.6"/><line x1="188.7" y1="141.2" x2="189.6" y2="144" stroke="#9a9a9a" stroke-width="0.6"/><line x1="55.8" y1="155.9" x2="52.8" y2="156.2" stroke="#9a9a9a" stroke-width="0.6"/><line x1="48" y1="133.9" x2="45" y2="134.2" stroke="#9a9a9a" stroke-width="0.6"/><line x1="40.1" y1="111.8" x2="37.1" y2="112.1" stroke="#9a9a9a" stroke-width="0.6"/><line x1="32.3" y1="89.8" x2="29.3" y2="90.1" stroke="#9a9a9a" stroke-width="0.6"/><polygon points="56.6,153 188.2,138.4 161.7,64.1 30.2,78.6" fill="#3e26a8"/><g clip-path="url(#cp0)"><path d="M114.4 90.2L111.1 95.4L108.9 105.2Z" fill="url(#f0)"/><path d="M114.3 90.2L119.7 104L111 95.6Z" fill="url(#f1)"/><path d="M114.3 90.2L108.8 105.1L117.5 113.4Z" fill="url(#f2)"/><path d="M114.3 90.2L117.4 113.4L119.8 103.9Z" fill="url(#f3)"/><path d="M167.4 99L164.1 99.9L161.9 109.6Z" fill="url(#f4)"/><path d="M167.3 99L172.7 108.4L164 100Z" fill="url(#f5)"/><path d="M167.3 99L161.8 109.5L170.5 117.9Z" fill="url(#f6)"/><path d="M167.2 99L170.4 117.9L172.8 108.3Z" fill="url(#f7)"/><path d="M133.4 63.3L130.3 103.2L128.1 112.6Z" fill="url(#f8)"/><path d="M133.4 63.3L138.8 111.5L130.2 103.2Z" fill="url(#f9)"/><path d="M133.4 63.3L128 112.6L136.6 120.9Z" fill="url(#f10)"/><path d="M133.4 63.3L136.5 120.9L138.8 111.5Z" fill="url(#f11)"/><path d="M154.6 94.8L151.2 104.6L149.1 114.2Z" fill="url(#f12)"/><path d="M154.5 94.8L159.9 113L151.2 104.6Z" fill="url(#f13)"/><path d="M154.5 94.8L149 114.1L157.7 122.4Z" fill="url(#f14)"/><path d="M154.5 94.8L157.6 122.4L159.9 112.9Z" fill="url(#f15)"/><path d="M168.1 109.3L164.8 114L162.6 123.8Z" fill="url(#f16)"/><path d="M168 109.3L173.4 122.6L164.7 114.2Z" fill="url(#f17)"/><path d="M168 109.3L162.5 123.7L171.2 132Z" fill="url(#f18)"/><path d="M168 109.3L171.1 132.1L173.5 122.5Z" fill="url(#f19)"/><path d="M154.6 114L151.3 116.3L149.1 126.1Z" fill="url(#f20)"/><path d="M154.5 114L159.9 124.9L151.2 116.4Z" fill="url(#f21)"/><path d="M154.5 114L149 126L157.7 134.3Z" fill="url(#f22)"/><path d="M154.4 114L157.6 134.3L160 124.8Z" fill="url(#f23)"/><path d="M139.4 120.1L136.1 123.4L133.9 133.2Z" fill="url(#f24)"/><path d="M139.3 120.1L144.7 132L136 123.5Z" fill="url(#f25)"/><path d="M139.3 120.1L133.8 133L142.5 141.4Z" fill="url(#f26)"/><path d="M139.2 120.1L142.4 141.4L144.8 131.9Z" fill="url(#f27)"/></g><text x="26.5" y="77.9" font-size="6.3" text-anchor="end" font-weight="bold" fill="#2a2a2a">0</text><text x="26.5" y="50.5" font-size="6.3" text-anchor="end" font-weight="bold" fill="#2a2a2a">2</text><text x="26.5" y="23.1" font-size="6.3" text-anchor="end" font-weight="bold" fill="#2a2a2a">4</text><text x="48.8" y="163.1" font-size="6.3" text-anchor="middle" font-weight="bold" fill="#2a2a2a">0</text><text x="41" y="141.1" font-size="6.3" text-anchor="middle" font-weight="bold" fill="#2a2a2a">2</text><text x="33.1" y="119" font-size="6.3" text-anchor="middle" font-weight="bold" fill="#2a2a2a">4</text><text x="25.3" y="97" font-size="6.3" text-anchor="middle" font-weight="bold" fill="#2a2a2a">6</text><text x="57" y="167.3" font-size="6.3" font-weight="bold" fill="#2a2a2a">0</text><text x="101.3" y="162.4" font-size="6.3" font-weight="bold" fill="#2a2a2a">5</text><text x="145.6" y="157.5" font-size="6.3" font-weight="bold" fill="#2a2a2a">10</text><text x="189.9" y="152.6" font-size="6.3" font-weight="bold" fill="#2a2a2a">15</text><text x="21.8" y="155.5" font-size="7" text-anchor="middle" font-weight="bold" fill="#222">Y [mm]</text><text x="121.8" y="170.6" font-size="7" text-anchor="middle" font-weight="bold" fill="#222">X [mm]</text><text x="0" y="0" font-size="10.3" font-weight="bold" text-anchor="middle" fill="#000" transform="translate(12.9 82.8) rotate(-90)">Growth Rate [mm/min]</text><text x="10.3" y="17.5" font-size="5.8" fill="#262626"><tspan font-size="7.6">&#215;</tspan>10<tspan dy="-3" font-size="4.6">-4</tspan></text><rect x="204.6" y="10.2" width="6.9" height="145.3" fill="url(#cb)" stroke="#262626" stroke-width="0.3"/><line x1="204.6" y1="155.5" x2="205.8" y2="155.5" stroke="#262626" stroke-width="0.4"/><line x1="210.3" y1="155.5" x2="211.5" y2="155.5" stroke="#262626" stroke-width="0.4"/><text x="213.1" y="157.6" font-size="5.9" font-weight="bold" fill="#2a2a2a">0</text><line x1="204.6" y1="134.9" x2="205.8" y2="134.9" stroke="#262626" stroke-width="0.4"/><line x1="210.3" y1="134.9" x2="211.5" y2="134.9" stroke="#262626" stroke-width="0.4"/><text x="213.1" y="137" font-size="5.9" font-weight="bold" fill="#2a2a2a">0.5</text><line x1="204.6" y1="114.3" x2="205.8" y2="114.3" stroke="#262626" stroke-width="0.4"/><line x1="210.3" y1="114.3" x2="211.5" y2="114.3" stroke="#262626" stroke-width="0.4"/><text x="213.1" y="116.4" font-size="5.9" font-weight="bold" fill="#2a2a2a">1</text><line x1="204.6" y1="93.8" x2="205.8" y2="93.8" stroke="#262626" stroke-width="0.4"/><line x1="210.3" y1="93.8" x2="211.5" y2="93.8" stroke="#262626" stroke-width="0.4"/><text x="213.1" y="95.9" font-size="5.9" font-weight="bold" fill="#2a2a2a">1.5</text><line x1="204.6" y1="73.2" x2="205.8" y2="73.2" stroke="#262626" stroke-width="0.4"/><line x1="210.3" y1="73.2" x2="211.5" y2="73.2" stroke="#262626" stroke-width="0.4"/><text x="213.1" y="75.3" font-size="5.9" font-weight="bold" fill="#2a2a2a">2</text><line x1="204.6" y1="52.6" x2="205.8" y2="52.6" stroke="#262626" stroke-width="0.4"/><line x1="210.3" y1="52.6" x2="211.5" y2="52.6" stroke="#262626" stroke-width="0.4"/><text x="213.1" y="54.7" font-size="5.9" font-weight="bold" fill="#2a2a2a">2.5</text><line x1="204.6" y1="32" x2="205.8" y2="32" stroke="#262626" stroke-width="0.4"/><line x1="210.3" y1="32" x2="211.5" y2="32" stroke="#262626" stroke-width="0.4"/><text x="213.1" y="34.1" font-size="5.9" font-weight="bold" fill="#2a2a2a">3</text><line x1="204.6" y1="11.4" x2="205.8" y2="11.4" stroke="#262626" stroke-width="0.4"/><line x1="210.3" y1="11.4" x2="211.5" y2="11.4" stroke="#262626" stroke-width="0.4"/><text x="213.1" y="13.5" font-size="5.9" font-weight="bold" fill="#2a2a2a">3.5</text><text x="211.5" y="7.5" font-size="5.8" fill="#262626"><tspan font-size="7.6">&#215;</tspan>10<tspan dy="-3" font-size="4.6">-4</tspan></text><text x="35.9" y="23" font-size="11.5" font-weight="bold" fill="#000">(a) <tspan font-style="italic">target t = 36 min</tspan></text><text x="55.2" y="36" font-size="11.5" font-weight="bold" font-style="italic" fill="#000">(time step 72)</text><line x1="257.8" y1="75.4" x2="393" y2="60.2" stroke="#e3e3e3" stroke-width="0.5"/><line x1="257.8" y1="49" x2="393" y2="33.8" stroke="#e3e3e3" stroke-width="0.5"/><line x1="257.8" y1="22.6" x2="393" y2="7.4" stroke="#e3e3e3" stroke-width="0.5"/><line x1="257.8" y1="75.4" x2="257.8" y2="22.6" stroke="#e3e3e3" stroke-width="0.5"/><line x1="301.6" y1="70.5" x2="301.6" y2="17.7" stroke="#e3e3e3" stroke-width="0.5"/><line x1="345.4" y1="65.5" x2="345.4" y2="12.7" stroke="#e3e3e3" stroke-width="0.5"/><line x1="389.2" y1="60.6" x2="389.2" y2="7.8" stroke="#e3e3e3" stroke-width="0.5"/><line x1="419.2" y1="137.3" x2="393" y2="60.2" stroke="#e3e3e3" stroke-width="0.5"/><line x1="419.2" y1="110.9" x2="393" y2="33.8" stroke="#e3e3e3" stroke-width="0.5"/><line x1="419.2" y1="84.5" x2="393" y2="7.4" stroke="#e3e3e3" stroke-width="0.5"/><line x1="419.2" y1="137.3" x2="419.2" y2="84.5" stroke="#e3e3e3" stroke-width="0.5"/><line x1="411.7" y1="115.3" x2="411.7" y2="62.5" stroke="#e3e3e3" stroke-width="0.5"/><line x1="404.2" y1="93.2" x2="404.2" y2="40.4" stroke="#e3e3e3" stroke-width="0.5"/><line x1="396.7" y1="71.2" x2="396.7" y2="18.4" stroke="#e3e3e3" stroke-width="0.5"/><line x1="284" y1="152.5" x2="257.8" y2="75.4" stroke="#e3e3e3" stroke-width="0.5"/><line x1="327.8" y1="147.6" x2="301.6" y2="70.5" stroke="#e3e3e3" stroke-width="0.5"/><line x1="371.6" y1="142.6" x2="345.4" y2="65.5" stroke="#e3e3e3" stroke-width="0.5"/><line x1="415.4" y1="137.7" x2="389.2" y2="60.6" stroke="#e3e3e3" stroke-width="0.5"/><line x1="284" y1="152.5" x2="419.2" y2="137.3" stroke="#e3e3e3" stroke-width="0.5"/><line x1="276.5" y1="130.5" x2="411.7" y2="115.3" stroke="#e3e3e3" stroke-width="0.5"/><line x1="269" y1="108.4" x2="404.2" y2="93.2" stroke="#e3e3e3" stroke-width="0.5"/><line x1="261.5" y1="86.4" x2="396.7" y2="71.2" stroke="#e3e3e3" stroke-width="0.5"/><line x1="257.8" y1="75.4" x2="257.8" y2="22.6" stroke="#9a9a9a" stroke-width="0.6"/><line x1="284" y1="152.5" x2="257.8" y2="75.4" stroke="#9a9a9a" stroke-width="0.6"/><line x1="284" y1="152.5" x2="419.2" y2="137.3" stroke="#9a9a9a" stroke-width="0.6"/><line x1="284" y1="152.5" x2="284.9" y2="155.3" stroke="#9a9a9a" stroke-width="0.6"/><line x1="327.8" y1="147.6" x2="328.7" y2="150.4" stroke="#9a9a9a" stroke-width="0.6"/><line x1="371.6" y1="142.6" x2="372.5" y2="145.4" stroke="#9a9a9a" stroke-width="0.6"/><line x1="415.4" y1="137.7" x2="416.3" y2="140.5" stroke="#9a9a9a" stroke-width="0.6"/><line x1="284" y1="152.5" x2="281" y2="152.8" stroke="#9a9a9a" stroke-width="0.6"/><line x1="276.5" y1="130.5" x2="273.5" y2="130.8" stroke="#9a9a9a" stroke-width="0.6"/><line x1="269" y1="108.4" x2="266" y2="108.7" stroke="#9a9a9a" stroke-width="0.6"/><line x1="261.5" y1="86.4" x2="258.5" y2="86.7" stroke="#9a9a9a" stroke-width="0.6"/><polygon points="285.3,121.3 293.4,123.3 301.6,125.2 309.7,125.9 317.8,126.7 326,127.1 334.1,127.3 342.2,127.4 350.4,127 358.5,126.5 366.6,125.1 374.8,123.1 382.9,121 391,118.2 399.2,115.4 407.3,112 415.4,108.3 412.2,99 408.9,89.7 405.6,80.4 402.3,71.1 399.1,61.7 395.8,52.4 392.5,42.9 389.2,33.5 381.1,36.3 373,38.7 364.8,40.7 356.7,42.5 348.6,44.2 340.4,45.6 332.3,46.9 324.2,48 316,48.9 307.9,49.2 299.8,49.5 291.6,48.8 283.5,48 275.4,47.1 267.2,45.3 259.1,43.5 262.4,53.2 265.7,63 268.9,72.7 272.2,82.5 275.5,92.2 278.8,101.9 282,111.6 285.3,121.3" fill="#2d8af5"/><path d="M384.4 46.4L389.5 33.2L380.8 36.1Z" fill="url(#f28)"/><path d="M376.2 49.1L381.3 36L372.7 38.5Z" fill="url(#f29)"/><path d="M368.1 51.4L373.2 38.4L364.6 40.5Z" fill="url(#f30)"/><path d="M360 53.5L365.1 40.5L356.4 42.3Z" fill="url(#f31)"/><path d="M351.8 55.4L356.9 42.2L348.3 44Z" fill="url(#f32)"/><path d="M343.7 57.1L348.8 43.9L340.2 45.4Z" fill="url(#f33)"/><path d="M335.6 58.6L340.7 45.3L332 46.7Z" fill="url(#f34)"/><path d="M327.4 59.7L332.5 46.7L323.9 47.8Z" fill="url(#f35)"/><path d="M376 49L384.7 46.2L381.1 36Z" fill="url(#f36)"/><path d="M384.2 46.3L392.8 43.1L389.3 33.1Z" fill="url(#f37)"/><path d="M367.9 51.3L376.5 48.9L373 38.3Z" fill="url(#f38)"/><path d="M359.7 53.4L368.4 51.3L364.9 40.4Z" fill="url(#f39)"/><path d="M351.6 55.3L360.3 53.3L356.7 42.1Z" fill="url(#f40)"/><path d="M319.3 60.4L324.4 47.8L315.8 48.7Z" fill="url(#f41)"/><path d="M343.5 57L352.1 55.3L348.6 43.8Z" fill="url(#f42)"/><path d="M335.3 58.5L344 56.9L340.5 45.3Z" fill="url(#f43)"/><path d="M311.2 60.4L316.3 48.7L307.7 49Z" fill="url(#f44)"/><path d="M327.2 59.6L335.8 58.5L332.3 46.6Z" fill="url(#f45)"/><path d="M303 60.5L308.2 49L299.5 49.3Z" fill="url(#f46)"/><path d="M319.1 60.3L327.7 59.6L324.2 47.7Z" fill="url(#f47)"/><path d="M310.9 60.3L319.6 60.3L316.1 48.5Z" fill="url(#f48)"/><path d="M294.9 59.7L300.1 49.3L291.4 48.6Z" fill="url(#f49)"/><path d="M302.8 60.4L311.4 60.3L307.9 48.9Z" fill="url(#f50)"/><path d="M379.5 59L384.6 45.8L375.9 48.5Z" fill="url(#f51)"/><path d="M387.6 56.1L392.7 42.7L384.1 45.9Z" fill="url(#f52)"/><path d="M371.4 61.6L376.5 48.5L367.8 50.9Z" fill="url(#f53)"/><path d="M286.8 58.7L291.9 48.6L283.3 47.8Z" fill="url(#f54)"/><path d="M363.2 64L368.3 50.8L359.7 52.9Z" fill="url(#f55)"/><path d="M355.1 66.1L360.2 52.8L351.6 54.8Z" fill="url(#f56)"/><path d="M294.6 59.5L303.3 60.4L299.8 49.2Z" fill="url(#f57)"/><path d="M347 68L352.1 54.8L343.4 56.5Z" fill="url(#f58)"/><path d="M338.8 69.7L343.9 56.5L335.3 58Z" fill="url(#f59)"/><path d="M278.6 57.6L283.8 47.9L275.1 46.8Z" fill="url(#f60)"/><path d="M330.7 70.8L335.8 58L327.2 59.1Z" fill="url(#f61)"/><path d="M286.5 58.5L295.2 59.6L291.7 48.5Z" fill="url(#f62)"/><path d="M379.3 59L388 55.9L384.4 45.7Z" fill="url(#f63)"/><path d="M371.2 61.5L379.8 58.9L376.3 48.4Z" fill="url(#f64)"/><path d="M363 63.9L371.7 61.5L368.1 50.7Z" fill="url(#f65)"/><path d="M387.4 56L396.1 52.5L392.5 42.6Z" fill="url(#f66)"/><path d="M322.6 71.3L327.7 59.1L319.1 59.8Z" fill="url(#f67)"/><path d="M354.9 66L363.5 63.8L360 52.8Z" fill="url(#f68)"/><path d="M346.8 67.9L355.4 66L351.9 54.7Z" fill="url(#f69)"/><path d="M270.5 55.6L275.7 46.9L267 45Z" fill="url(#f70)"/><path d="M338.6 69.6L347.3 67.9L343.7 56.4Z" fill="url(#f71)"/><path d="M278.4 57.4L287 58.6L283.5 47.7Z" fill="url(#f72)"/><path d="M314.4 71.1L319.6 59.8L310.9 59.8Z" fill="url(#f73)"/><path d="M330.5 70.7L339.1 69.6L335.6 57.9Z" fill="url(#f74)"/><path d="M306.3 71L311.5 59.9L302.8 59.9Z" fill="url(#f75)"/><path d="M322.3 71.2L331 70.7L327.5 59Z" fill="url(#f76)"/><path d="M262.4 53.6L267.6 45.1L258.9 43.2Z" fill="url(#f77)"/><path d="M270.2 55.4L278.9 57.5L275.4 46.7Z" fill="url(#f78)"/><path d="M314.2 71L322.8 71.2L319.3 59.7Z" fill="url(#f79)"/><path d="M298.2 70.1L303.3 59.9L294.7 59.1Z" fill="url(#f80)"/><path d="M306.1 70.9L314.7 71L311.2 59.7Z" fill="url(#f81)"/><path d="M262.1 53.4L270.8 55.5L267.3 44.9Z" fill="url(#f82)"/><path d="M290 68.9L295.2 59.1L286.5 58.1Z" fill="url(#f83)"/><path d="M374.6 71.7L379.7 58.4L371.1 61.1Z" fill="url(#f84)"/><path d="M382.8 68.9L387.9 55.5L379.2 58.5Z" fill="url(#f85)"/><path d="M366.5 74.2L371.6 61L363 63.4Z" fill="url(#f86)"/><path d="M390.9 65.7L396 52.1L387.3 55.6Z" fill="url(#f87)"/><path d="M358.4 76.5L363.5 63.3L354.8 65.6Z" fill="url(#f88)"/><path d="M297.9 69.9L306.6 70.9L303.1 59.8Z" fill="url(#f89)"/><path d="M350.2 78.6L355.4 65.5L346.7 67.4Z" fill="url(#f90)"/><path d="M342.1 80.4L347.2 67.4L338.6 69.1Z" fill="url(#f91)"/><path d="M334 81.6L339.1 69.1L330.5 70.3Z" fill="url(#f92)"/><path d="M281.9 67.7L287.1 58.2L278.4 57Z" fill="url(#f93)"/><path d="M289.8 68.8L298.4 70L294.9 59Z" fill="url(#f94)"/><path d="M325.8 81.8L331 70.3L322.3 70.7Z" fill="url(#f95)"/><path d="M374.4 71.6L383.1 68.7L379.5 58.3Z" fill="url(#f96)"/><path d="M366.3 74.2L375 71.5L371.4 60.9Z" fill="url(#f97)"/><path d="M382.6 68.8L391.2 65.5L387.7 55.4Z" fill="url(#f98)"/><path d="M358.2 76.4L366.8 74.1L363.3 63.3Z" fill="url(#f99)"/><path d="M390.7 65.6L399.4 61.9L395.8 52Z" fill="url(#f100)"/><path d="M350 78.5L358.7 76.4L355.1 65.4Z" fill="url(#f101)"/><path d="M341.9 80.3L350.5 78.5L347 67.3Z" fill="url(#f102)"/><path d="M273.8 65.5L279 57.1L270.3 55Z" fill="url(#f103)"/><path d="M317.7 81.5L322.9 70.7L314.2 70.6Z" fill="url(#f104)"/><path d="M281.6 67.5L290.3 68.8L286.8 58Z" fill="url(#f105)"/><path d="M333.8 81.5L342.4 80.3L338.9 69Z" fill="url(#f106)"/><path d="M325.6 81.7L334.3 81.4L330.7 70.1Z" fill="url(#f107)"/><path d="M309.6 81.2L314.7 70.6L306.1 70.4Z" fill="url(#f108)"/><path d="M273.5 65.3L282.2 67.6L278.7 56.9Z" fill="url(#f109)"/><path d="M265.6 63.3L270.8 55.1L262.1 53Z" fill="url(#f110)"/><path d="M317.5 81.4L326.1 81.7L322.6 70.6Z" fill="url(#f111)"/><path d="M301.4 80.2L306.6 70.5L297.9 69.5Z" fill="url(#f112)"/><path d="M309.3 81.1L318 81.4L314.5 70.4Z" fill="url(#f113)"/><path d="M265.3 63.1L274 65.4L270.6 54.9Z" fill="url(#f114)"/><path d="M293.3 79L298.5 69.5L289.8 68.3Z" fill="url(#f115)"/><path d="M377.9 81.5L383 68.3L374.4 71.1Z" fill="url(#f116)"/><path d="M369.8 84.2L374.9 71L366.2 73.7Z" fill="url(#f117)"/><path d="M386 78.6L391.1 65.1L382.5 68.4Z" fill="url(#f118)"/><path d="M361.6 86.6L366.8 73.6L358.1 76Z" fill="url(#f119)"/><path d="M394.2 75.2L399.3 61.5L390.6 65.2Z" fill="url(#f120)"/><path d="M301.2 80L309.9 81.1L306.4 70.3Z" fill="url(#f121)"/><path d="M353.5 88.8L358.6 75.9L350 78.1Z" fill="url(#f122)"/><path d="M345.4 90.6L350.5 78L341.8 79.9Z" fill="url(#f123)"/><path d="M337.2 91.7L342.4 79.8L333.7 81Z" fill="#4850f3"/><path d="M285.2 77.6L290.4 68.4L281.7 67.1Z" fill="url(#f124)"/><path d="M293 78.8L301.7 80.1L298.2 69.4Z" fill="url(#f125)"/><path d="M329.1 91.9L334.3 81L325.6 81.3Z" fill="url(#f126)"/><path d="M369.6 84.1L378.2 81.3L374.7 71Z" fill="url(#f127)"/><path d="M377.7 81.4L386.4 78.4L382.8 68.2Z" fill="url(#f128)"/><path d="M361.4 86.5L370.1 84.1L366.6 73.5Z" fill="url(#f129)"/><path d="M385.8 78.5L394.5 75L390.9 65Z" fill="url(#f130)"/><path d="M353.3 88.7L362 86.4L358.4 75.8Z" fill="url(#f131)"/><path d="M394 75.1L402.6 71.3L399.1 61.4Z" fill="url(#f132)"/><path d="M345.2 90.5L353.8 88.6L350.3 77.9Z" fill="url(#f133)"/><path d="M277 75.4L282.3 67.2L273.6 64.9Z" fill="url(#f134)"/><path d="M321 91.5L326.1 81.3L317.5 81Z" fill="url(#f135)"/><path d="M284.9 77.5L293.6 78.9L290.1 68.2Z" fill="url(#f136)"/><path d="M337 91.6L345.7 90.5L342.2 79.7Z" fill="#484df1"/><path d="M328.9 91.8L337.5 91.6L334 80.9Z" fill="url(#f137)"/><path d="M312.8 91.1L318 81L309.3 80.6Z" fill="url(#f138)"/><path d="M276.7 75.2L285.4 77.6L282 67Z" fill="url(#f139)"/><path d="M268.9 73.1L274.1 65L265.4 62.7Z" fill="url(#f140)"/><path d="M320.7 91.4L329.4 91.8L325.9 81.1Z" fill="url(#f141)"/><path d="M304.7 90.1L309.9 80.7L301.2 79.6Z" fill="url(#f142)"/><path d="M312.6 91L321.3 91.4L317.8 80.8Z" fill="url(#f143)"/><path d="M268.6 72.8L277.3 75.3L273.8 64.8Z" fill="url(#f144)"/><path d="M296.6 88.8L301.8 79.7L293.1 78.4Z" fill="url(#f145)"/><path d="M373.1 93.9L378.2 80.9L369.5 83.7Z" fill="url(#f146)"/><path d="M381.2 91L386.3 77.9L377.6 80.9Z" fill="url(#f147)"/><path d="M364.9 96.3L370 83.6L361.4 86.1Z" fill="url(#f148)"/><path d="M389.3 88.1L394.4 74.6L385.8 78Z" fill="url(#f149)"/><path d="M304.4 89.9L313.1 91L309.6 80.5Z" fill="url(#f150)"/><path d="M356.8 98.5L361.9 86L353.2 88.2Z" fill="url(#f151)"/><path d="M397.5 84.6L402.5 70.8L393.9 74.7Z" fill="url(#f152)"/><path d="M348.7 100.3L353.8 88.2L345.1 90.1Z" fill="url(#f153)"/><path d="M340.5 101.3L345.7 90L337 91.2Z" fill="#484cf0"/><path d="M288.4 87.5L293.6 78.5L285 77.1Z" fill="url(#f154)"/><path d="M296.3 88.7L305 90L301.5 79.5Z" fill="url(#f155)"/><path d="M332.4 101.5L337.6 91.2L328.9 91.3Z" fill="url(#f156)"/><path d="M372.9 93.8L381.5 90.9L378 80.8Z" fill="url(#f157)"/><path d="M364.7 96.2L373.4 93.7L369.8 83.5Z" fill="url(#f158)"/><path d="M381 90.9L389.6 87.9L386.1 77.9Z" fill="url(#f159)"/><path d="M356.6 98.4L365.2 96.1L361.7 85.9Z" fill="url(#f160)"/><path d="M389.1 88L397.8 84.4L394.2 74.5Z" fill="url(#f161)"/><path d="M348.4 100.2L357.1 98.3L353.6 88.1Z" fill="url(#f162)"/><path d="M280.3 85.2L285.5 77.2L276.8 74.8Z" fill="url(#f163)"/><path d="M397.3 84.6L405.9 80.6L402.4 70.8Z" fill="url(#f164)"/><path d="M324.3 101.1L329.4 91.4L320.7 90.9Z" fill="url(#f165)"/><path d="M288.2 87.3L296.9 88.7L293.4 78.3Z" fill="url(#f166)"/><path d="M340.3 101.2L349 100.2L345.4 89.9Z" fill="#484cef"/><path d="M332.1 101.3L340.8 101.2L337.3 91Z" fill="url(#f167)"/><path d="M316.1 100.6L321.3 91L312.6 90.5Z" fill="url(#f168)"/><path d="M280 85L288.7 87.4L285.2 77Z" fill="url(#f169)"/><path d="M272.2 82.8L277.4 74.9L268.7 72.5Z" fill="url(#f170)"/><path d="M324 100.9L332.7 101.3L329.2 91.2Z" fill="url(#f171)"/><path d="M308 99.7L313.2 90.6L304.5 89.5Z" fill="url(#f172)"/><path d="M315.9 100.5L324.5 100.9L321 90.8Z" fill="url(#f173)"/><path d="M271.9 82.6L280.6 85.1L277.1 74.7Z" fill="url(#f174)"/><path d="M299.9 98.5L305.1 89.6L296.4 88.2Z" fill="url(#f175)"/><path d="M376.3 103.2L381.4 90.4L372.8 93.4Z" fill="url(#f176)"/><path d="M384.5 100.4L389.6 87.4L380.9 90.5Z" fill="url(#f177)"/><path d="M368.2 105.6L373.3 93.3L364.6 95.7Z" fill="url(#f178)"/><path d="M307.7 99.5L316.4 100.5L312.9 90.4Z" fill="url(#f179)"/><path d="M392.6 97.4L397.7 84L389 87.6Z" fill="url(#f180)"/><path d="M360.1 107.8L365.2 95.7L356.5 98Z" fill="url(#f181)"/><path d="M400.7 93.9L405.8 80.2L397.2 84.1Z" fill="url(#f182)"/><path d="M351.9 109.5L357.1 97.9L348.4 99.8Z" fill="url(#f183)"/><path d="M343.8 110.3L348.9 99.7L340.3 100.7Z" fill="url(#f184)"/><path d="M291.7 97.2L296.9 88.3L288.2 86.9Z" fill="url(#f185)"/><path d="M299.6 98.3L308.3 99.6L304.8 89.4Z" fill="url(#f186)"/><path d="M335.7 110.5L340.8 100.7L332.1 100.9Z" fill="url(#f187)"/><path d="M376.1 103.1L384.8 100.2L381.2 90.3Z" fill="url(#f188)"/><path d="M368 105.5L376.7 103.1L373.1 93.2Z" fill="url(#f189)"/><path d="M384.3 100.3L392.9 97.2L389.4 87.4Z" fill="url(#f190)"/><path d="M359.8 107.7L368.5 105.4L365 95.6Z" fill="url(#f191)"/><path d="M392.4 97.3L401.1 93.8L397.5 83.9Z" fill="url(#f192)"/><path d="M351.7 109.4L360.4 107.6L356.8 97.8Z" fill="#4755f6"/><path d="M283.6 94.9L288.8 87L280.1 84.6Z" fill="url(#f193)"/><path d="M327.5 110.2L332.7 100.9L324 100.5Z" fill="url(#f194)"/><path d="M291.4 97L300.1 98.4L296.6 88.1Z" fill="url(#f195)"/><path d="M400.5 93.9L409.2 89.9L405.6 80.1Z" fill="url(#f196)"/><path d="M343.6 110.2L352.2 109.3L348.7 99.6Z" fill="url(#f197)"/><path d="M335.4 110.4L344.1 110.2L340.6 100.6Z" fill="url(#f198)"/><path d="M319.4 109.8L324.6 100.5L315.9 100Z" fill="url(#f199)"/><path d="M283.3 94.7L292 97.1L288.5 86.8Z" fill="url(#f200)"/><path d="M275.5 92.5L280.7 84.7L272 82.2Z" fill="url(#f201)"/><path d="M327.3 110L336 110.4L332.4 100.8Z" fill="url(#f202)"/><path d="M311.3 109L316.5 100.1L307.8 99.1Z" fill="url(#f203)"/><path d="M319.1 109.6L327.8 110.1L324.3 100.4Z" fill="url(#f204)"/><path d="M275.2 92.3L283.9 94.8L280.4 84.5Z" fill="url(#f205)"/><path d="M303.1 107.9L308.3 99.2L299.6 97.9Z" fill="url(#f206)"/><path d="M379.6 112.4L384.7 99.7L376 102.7Z" fill="url(#f207)"/><path d="M387.7 109.5L392.8 96.8L384.2 99.8Z" fill="url(#f208)"/><path d="M371.5 114.6L376.6 102.6L367.9 105Z" fill="url(#f209)"/><path d="M311 108.8L319.7 109.7L316.2 99.9Z" fill="url(#f210)"/><path d="M395.9 106.6L401 93.3L392.3 96.9Z" fill="url(#f211)"/><path d="M363.3 116.7L368.5 105L359.8 107.2Z" fill="url(#f212)"/><path d="M404 103.2L409.1 89.5L400.4 93.4Z" fill="url(#f213)"/><path d="M355.2 118.3L360.3 107.2L351.7 108.9Z" fill="url(#f214)"/><path d="M295 106.7L300.2 97.9L291.5 96.6Z" fill="url(#f215)"/><path d="M347.1 118.9L352.2 108.9L343.5 109.8Z" fill="url(#f216)"/><path d="M302.9 107.7L311.6 108.9L308.1 99Z" fill="url(#f217)"/><path d="M338.9 119.2L344.1 109.8L335.4 110Z" fill="url(#f218)"/><path d="M379.4 112.3L388.1 109.3L384.5 99.7Z" fill="url(#f219)"/><path d="M371.3 114.5L379.9 112.2L376.4 102.5Z" fill="url(#f220)"/><path d="M387.5 109.4L396.2 106.4L392.6 96.7Z" fill="url(#f221)"/><path d="M363.1 116.6L371.8 114.4L368.2 104.9Z" fill="url(#f222)"/><path d="M395.7 106.5L404.3 103L400.8 93.2Z" fill="url(#f223)"/><path d="M286.9 104.5L292.1 96.7L283.4 94.3Z" fill="url(#f224)"/><path d="M294.7 106.5L303.4 107.8L299.9 97.8Z" fill="url(#f225)"/><path d="M355 118.2L363.7 116.5L360.1 107.1Z" fill="url(#f226)"/><path d="M403.8 103.1L412.5 99.2L408.9 89.4Z" fill="url(#f227)"/><path d="M330.8 119L336 110L327.3 109.6Z" fill="url(#f228)"/><path d="M346.8 118.8L355.5 118.1L352 108.8Z" fill="url(#f229)"/><path d="M322.7 118.7L327.9 109.6L319.2 109.2Z" fill="url(#f230)"/><path d="M338.7 119.1L347.4 118.8L343.9 109.6Z" fill="url(#f231)"/><path d="M286.6 104.3L295.3 106.6L291.8 96.5Z" fill="url(#f232)"/><path d="M278.7 102.2L283.9 94.4L275.2 91.9Z" fill="url(#f233)"/><path d="M330.5 118.8L339.2 119.1L335.7 109.8Z" fill="url(#f234)"/><path d="M314.5 118.1L319.7 109.3L311 108.4Z" fill="url(#f235)"/><path d="M278.4 102L287.1 104.4L283.7 94.2Z" fill="url(#f236)"/><path d="M322.4 118.5L331.1 118.9L327.6 109.5Z" fill="url(#f237)"/><path d="M306.4 117.1L311.6 108.5L302.9 107.3Z" fill="url(#f238)"/><path d="M382.9 121.4L388 108.9L379.3 111.8Z" fill="url(#f239)"/><path d="M391 118.6L396.1 106L387.5 109Z" fill="url(#f240)"/><path d="M374.7 123.5L379.9 111.8L371.2 114.1Z" fill="url(#f241)"/><path d="M399.1 115.7L404.2 102.6L395.6 106.1Z" fill="url(#f242)"/><path d="M314.3 117.9L323 118.6L319.5 109.1Z" fill="url(#f243)"/><path d="M366.6 125.5L371.7 114L363.1 116.2Z" fill="url(#f244)"/><path d="M407.3 112.4L412.4 98.7L403.7 102.7Z" fill="url(#f245)"/><path d="M358.5 126.9L363.6 116.1L354.9 117.7Z" fill="url(#f246)"/><path d="M298.3 116.1L303.5 107.3L294.8 106.1Z" fill="url(#f247)"/><path d="M350.3 127.3L355.5 117.7L346.8 118.4Z" fill="url(#f248)"/><path d="M306.1 116.9L314.8 117.9L311.3 108.3Z" fill="url(#f249)"/><path d="M342.2 127.7L347.4 118.4L338.7 118.7Z" fill="url(#f250)"/><path d="M382.7 121.3L391.3 118.4L387.8 108.8Z" fill="url(#f251)"/><path d="M390.8 118.5L399.5 115.6L395.9 105.9Z" fill="url(#f252)"/><path d="M374.5 123.4L383.2 121.2L379.7 111.7Z" fill="url(#f253)"/><path d="M290.1 114.1L295.4 106.2L286.7 103.9Z" fill="url(#f254)"/><path d="M398.9 115.7L407.6 112.2L404.1 102.5Z" fill="url(#f255)"/><path d="M366.4 125.4L375.1 123.3L371.5 113.9Z" fill="url(#f256)"/><path d="M298 116L306.7 117L303.2 107.2Z" fill="url(#f257)"/><path d="M407.1 112.3L415.7 108.4L412.2 98.7Z" fill="url(#f258)"/><path d="M358.2 126.7L366.9 125.3L363.4 116Z" fill="url(#f259)"/><path d="M334.1 127.6L339.3 118.7L330.6 118.4Z" fill="url(#f260)"/><path d="M350.1 127.2L358.8 126.7L355.3 117.6Z" fill="url(#f261)"/><path d="M289.8 113.9L298.6 116L295.1 106Z" fill="url(#f262)"/><path d="M325.9 127.4L331.1 118.5L322.4 118.1Z" fill="url(#f263)"/><path d="M282 111.9L287.2 104.1L278.5 101.6Z" fill="url(#f264)"/><path d="M342 127.6L350.7 127.2L347.1 118.2Z" fill="url(#f265)"/><path d="M333.8 127.5L342.5 127.6L339 118.5Z" fill="url(#f266)"/><path d="M317.8 127L323 118.1L314.3 117.5Z" fill="url(#f267)"/><path d="M281.7 111.7L290.4 114L286.9 103.8Z" fill="url(#f268)"/><path d="M325.7 127.3L334.4 127.5L330.9 118.3Z" fill="url(#f269)"/><path d="M309.7 126.3L314.9 117.5L306.2 116.5Z" fill="url(#f270)"/><path d="M317.5 126.9L326.2 127.3L322.7 118Z" fill="url(#f271)"/><path d="M301.5 125.5L306.7 116.6L298 115.6Z" fill="url(#f272)"/><path d="M309.4 126.1L318.1 126.9L314.6 117.4Z" fill="url(#f273)"/><path d="M293.4 123.7L298.6 115.7L289.9 113.5Z" fill="url(#f274)"/><path d="M301.3 125.3L310 126.2L306.5 116.4Z" fill="url(#f275)"/><path d="M285.3 121.6L290.5 113.6L281.8 111.3Z" fill="url(#f276)"/><path d="M293.1 123.5L301.8 125.4L298.3 115.4Z" fill="url(#f277)"/><path d="M285 121.4L293.7 123.6L290.2 113.4Z" fill="url(#f278)"/><g clip-path="url(#cp1)"><path d="M352.2 52.4L348.4 57.2L343.6 71.8Z" fill="url(#f279)"/><path d="M352 52.4L360.7 67.6L348.2 57.3Z" fill="url(#f280)"/><path d="M352.1 52.4L343.5 71.7L355.9 81.6Z" fill="url(#f281)"/><path d="M352 52.4L355.8 81.6L360.7 67.4Z" fill="url(#f282)"/><path d="M362.3 35.6L359.3 60.1L357 71.1Z" fill="url(#f283)"/><path d="M362.3 35.6L367.6 68.1L359.2 60Z" fill="url(#f284)"/><path d="M362.3 35.6L357 71L365.3 79Z" fill="url(#f285)"/><path d="M362.3 35.6L365.3 79L367.6 68.1Z" fill="url(#f286)"/><path d="M386.3 53.7L383 55.5L379 67.9Z" fill="url(#f287)"/><path d="M386.1 53.7L393.4 62.3L382.8 55.7Z" fill="url(#f288)"/><path d="M386.2 53.7L378.9 67.7L389.5 74.8Z" fill="url(#f289)"/><path d="M386.1 53.7L389.4 74.8L393.5 62.1Z" fill="url(#f290)"/><path d="M369.5 61.8L364.6 54.2L361 71.7Z" fill="url(#f291)"/><path d="M369.2 61.9L377.8 66.6L364.5 54.2Z" fill="url(#f292)"/><path d="M369.4 61.6L360.9 71.5L374.1 83.5Z" fill="url(#f293)"/><path d="M369.2 61.6L374 83.5L377.7 66.3Z" fill="url(#f294)"/><path d="M314.5 53.5L310.1 59.2L305.4 73.3Z" fill="url(#f295)"/><path d="M314.4 53.5L323.5 73.8L309.9 59.3Z" fill="url(#f296)"/><path d="M314.4 53.5L305.3 73.2L318.8 87.1Z" fill="url(#f297)"/><path d="M314.4 53.5L318.7 87.1L323.5 73.7Z" fill="url(#f298)"/><path d="M335.6 39.1L332.6 66.3L330.3 76.7Z" fill="url(#f299)"/><path d="M335.6 39.1L340.9 75.4L332.5 66.2Z" fill="url(#f300)"/><path d="M335.6 39.1L330.3 76.6L338.6 85.8Z" fill="url(#f301)"/><path d="M335.6 39.1L338.6 85.8L340.9 75.4Z" fill="url(#f302)"/><path d="M389.8 61.3L386.2 57.8L380.3 71.5Z" fill="url(#f303)"/><path d="M389.4 61.4L398.9 64L386 57.9Z" fill="url(#f304)"/><path d="M389.6 61.2L380.3 71.4L393.1 78Z" fill="url(#f305)"/><path d="M389.5 61.2L393 78L398.9 63.8Z" fill="url(#f306)"/><path d="M371 40.6L368 63.9L365.7 74.9Z" fill="url(#f307)"/><path d="M371 40.6L376.3 71.5L367.9 63.9Z" fill="url(#f308)"/><path d="M371 40.6L365.7 74.8L374 82.2Z" fill="url(#f309)"/><path d="M371 40.6L374 82.2L376.3 71.5Z" fill="url(#f310)"/><path d="M290.1 52.6L285.9 58.6L281.9 70.5Z" fill="url(#f311)"/><path d="M290 52.6L298.3 73.1L285.7 58.7Z" fill="url(#f312)"/><path d="M290.1 52.5L281.7 70.4L294.3 84.5Z" fill="url(#f313)"/><path d="M290 52.6L294.2 84.5L298.3 73Z" fill="url(#f314)"/><path d="M316.1 72L312.4 66L310.5 77.4Z" fill="url(#f315)"/><path d="M315.7 72L321.3 77.8L312.3 66Z" fill="url(#f316)"/><path d="M315.9 71.8L310.4 77.2L319.5 88.4Z" fill="url(#f317)"/><path d="M315.8 71.8L319.4 88.4L321.4 77.5Z" fill="url(#f318)"/><path d="M344.3 42.8L341.3 70.2L339 80.9Z" fill="url(#f319)"/><path d="M344.3 42.8L349.6 78.8L341.2 70.2Z" fill="url(#f320)"/><path d="M344.3 42.8L339 80.9L347.3 89.4Z" fill="url(#f321)"/><path d="M344.3 42.8L347.3 89.4L349.6 78.8Z" fill="url(#f322)"/><path d="M290.2 66.8L286.6 61.6L281.5 71.3Z" fill="url(#f323)"/><path d="M289.8 66.7L298.5 74L286.4 61.7Z" fill="url(#f324)"/><path d="M290.1 66.6L281.5 71.1L293.6 83.4Z" fill="url(#f325)"/><path d="M289.9 66.6L293.5 83.4L298.6 73.8Z" fill="url(#f326)"/><path d="M339.8 64.2L334.9 64.8L331.2 81.7Z" fill="url(#f327)"/><path d="M339.6 64.2L348.2 79.2L334.7 64.9Z" fill="url(#f328)"/><path d="M339.7 64.2L331.1 81.6L344.5 95.6Z" fill="url(#f329)"/><path d="M339.6 64.2L344.4 95.6L348.2 79Z" fill="url(#f330)"/><path d="M328.9 68.5L323.9 64.7L323 81Z" fill="url(#f331)"/><path d="M328.7 68.4L334.5 80.7L323.8 64.7Z" fill="url(#f332)"/><path d="M328.8 68.4L322.9 80.7L333.7 95.7Z" fill="url(#f333)"/><path d="M328.7 68.5L333.6 95.8L334.6 80.5Z" fill="url(#f334)"/><path d="M329.7 73.3L324.9 65.9L319.9 81.2Z" fill="url(#f335)"/><path d="M329.3 73.4L339.1 80.5L324.8 66Z" fill="url(#f336)"/><path d="M329.5 73.2L319.9 81L334.2 95.3Z" fill="url(#f337)"/><path d="M329.4 73.2L334.1 95.3L339.1 80.3Z" fill="url(#f338)"/><path d="M384.9 56L380.6 62.5L379.5 77.2Z" fill="url(#f339)"/><path d="M384.9 56L390.3 73.3L380.5 62.6Z" fill="url(#f340)"/><path d="M384.9 56L379.4 77.1L389.1 87.5Z" fill="url(#f341)"/><path d="M384.8 56L389.1 87.5L390.4 73.2Z" fill="url(#f342)"/><path d="M385.2 68.5L381.5 66.3L375.8 80.6Z" fill="url(#f343)"/><path d="M384.9 68.5L394.4 73.6L381.3 66.4Z" fill="url(#f344)"/><path d="M385.1 68.4L375.7 80.5L388.8 87.8Z" fill="url(#f345)"/><path d="M385 68.4L388.6 87.9L394.4 73.3Z" fill="url(#f346)"/><path d="M346.5 67.1L342.1 70.7L337.8 86.4Z" fill="url(#f347)"/><path d="M346.4 67.1L355 82.8L341.9 70.8Z" fill="url(#f348)"/><path d="M346.4 67.1L337.7 86.3L350.8 98Z" fill="url(#f349)"/><path d="M346.3 67.1L350.7 98L355.1 82.7Z" fill="url(#f350)"/><path d="M364.6 64.8L361.5 73L359.2 84.2Z" fill="url(#f351)"/><path d="M364.5 64.8L369.9 81.1L361.3 73.2Z" fill="url(#f352)"/><path d="M364.5 64.8L359.1 84.1L367.6 91.6Z" fill="url(#f353)"/><path d="M364.5 64.8L367.5 91.6L369.9 81Z" fill="url(#f354)"/><path d="M340 79.4L336.8 76.1L330.1 87Z" fill="url(#f355)"/><path d="M339.7 79.4L349.7 84.5L336.6 76.1Z" fill="url(#f356)"/><path d="M339.9 79.2L330 86.8L343.1 95.9Z" fill="url(#f357)"/><path d="M339.8 79.3L343 95.9L349.7 84.3Z" fill="url(#f358)"/><path d="M356.5 70.9L352.2 73L346.9 89.1Z" fill="url(#f359)"/><path d="M356.4 70.9L366 84.1L352 73.1Z" fill="url(#f360)"/><path d="M356.4 70.9L346.8 89L360.8 99.3Z" fill="url(#f361)"/><path d="M356.4 70.9L360.7 99.4L366.1 83.9Z" fill="url(#f362)"/><path d="M293.4 63.6L290.1 71.6L288 80.2Z" fill="url(#f363)"/><path d="M293.3 63.6L298.6 81.8L290.1 71.7Z" fill="url(#f364)"/><path d="M293.3 63.6L287.9 80.1L296.4 90Z" fill="url(#f365)"/><path d="M293.3 63.6L296.3 90L298.7 81.8Z" fill="url(#f366)"/><path d="M377.7 76.7L373.1 70L371.4 85.4Z" fill="url(#f367)"/><path d="M377.4 76.9L383.7 81.2L373 70Z" fill="url(#f368)"/><path d="M377.5 76.5L371.3 85.2L381.9 95.9Z" fill="url(#f369)"/><path d="M377.4 76.5L381.9 96L383.7 80.9Z" fill="url(#f370)"/><path d="M349.7 68L346.4 78.8L344.3 89.4Z" fill="url(#f371)"/><path d="M349.6 68L354.9 87L346.4 78.8Z" fill="url(#f372)"/><path d="M349.6 68L344.2 89.3L352.7 97.3Z" fill="url(#f373)"/><path d="M349.6 68L352.6 97.3L355 86.9Z" fill="url(#f374)"/><path d="M304.5 52L301.5 75.9L299.2 84.3Z" fill="url(#f375)"/><path d="M304.5 52L309.8 85.8L301.4 75.9Z" fill="url(#f376)"/><path d="M304.5 52L299.1 84.3L307.5 94Z" fill="url(#f377)"/><path d="M304.5 52L307.5 94L309.8 85.8Z" fill="url(#f378)"/><path d="M345.3 80.3L341.3 77.7L336.9 91.2Z" fill="url(#f379)"/><path d="M345 80.3L353.4 88.3L341.1 77.8Z" fill="url(#f380)"/><path d="M345.1 80.2L336.8 91L349.1 101.5Z" fill="url(#f381)"/><path d="M345 80.2L349 101.5L353.5 88.1Z" fill="url(#f382)"/><path d="M395.1 53.7L392.1 71.9L389.8 82.9Z" fill="url(#f383)"/><path d="M395.1 53.7L400.4 78.1L392 71.9Z" fill="url(#f384)"/><path d="M395.1 53.7L389.7 82.8L398.1 89.2Z" fill="url(#f385)"/><path d="M395.1 53.7L398.1 89.2L400.5 78.1Z" fill="url(#f386)"/><path d="M368.7 78.3L365.4 77.2L359.5 89.7Z" fill="url(#f387)"/><path d="M368.4 78.3L377.6 84.1L365.2 77.3Z" fill="url(#f388)"/><path d="M368.6 78.2L359.4 89.6L371.8 96.4Z" fill="url(#f389)"/><path d="M368.4 78.2L371.7 96.4L377.6 83.9Z" fill="url(#f390)"/><path d="M364.1 83.3L360.9 78.7L358.4 89.8Z" fill="url(#f391)"/><path d="M363.7 83.4L369.5 86.7L360.7 78.8Z" fill="url(#f392)"/><path d="M363.9 83.1L358.3 89.6L367 97.2Z" fill="url(#f393)"/><path d="M363.8 83.2L366.9 97.2L369.5 86.4Z" fill="url(#f394)"/><path d="M334.6 82.3L329.8 77.4L327.7 92.1Z" fill="url(#f395)"/><path d="M334.3 82.2L341.2 91.5L329.7 77.4Z" fill="url(#f396)"/><path d="M334.4 82.1L327.6 91.8L339 105.1Z" fill="url(#f397)"/><path d="M334.3 82.2L339 105.2L341.2 91.3Z" fill="url(#f398)"/><path d="M294.5 73.9L289.8 71L287.6 83.9Z" fill="url(#f399)"/><path d="M294.3 73.8L301 86L289.7 71Z" fill="url(#f400)"/><path d="M294.3 73.8L287.5 83.6L298.9 98.2Z" fill="url(#f401)"/><path d="M294.3 73.8L298.8 98.2L301.1 85.8Z" fill="url(#f402)"/><path d="M396.5 79.2L391.6 69.9L390.8 86Z" fill="url(#f403)"/><path d="M396.2 79.3L401.8 81L391.5 69.9Z" fill="url(#f404)"/><path d="M396.3 78.9L390.7 85.7L401 96.8Z" fill="url(#f405)"/><path d="M396.2 79L400.9 96.8L401.7 80.7Z" fill="url(#f406)"/><path d="M339.5 76.6L335.5 82.5L332.1 95.1Z" fill="url(#f407)"/><path d="M339.4 76.6L346.8 93.9L335.3 82.7Z" fill="url(#f408)"/><path d="M339.4 76.6L331.9 95L343.4 106.2Z" fill="url(#f409)"/><path d="M339.4 76.6L343.4 106.2L346.9 93.8Z" fill="url(#f410)"/><path d="M366.1 80.2L362.6 81.4L356.6 94.7Z" fill="url(#f411)"/><path d="M365.9 80.2L375.5 89.2L362.4 81.5Z" fill="url(#f412)"/><path d="M366.1 80.2L356.5 94.6L369.6 102.1Z" fill="url(#f413)"/><path d="M365.9 80.2L369.5 102.2L375.5 89Z" fill="url(#f414)"/><path d="M343.5 77.2L340.2 86.9L338.1 96.6Z" fill="url(#f415)"/><path d="M343.4 77.2L348.7 95.3L340.2 86.9Z" fill="url(#f416)"/><path d="M343.4 77.2L338 96.5L346.5 104.6Z" fill="url(#f417)"/><path d="M343.4 77.2L346.4 104.7L348.8 95.2Z" fill="url(#f418)"/><path d="M385.4 74.3L381.2 77.5L376.1 93Z" fill="url(#f419)"/><path d="M385.2 74.3L394.5 86.3L381 77.7Z" fill="url(#f420)"/><path d="M385.3 74.3L376 92.9L389.4 101.3Z" fill="url(#f421)"/><path d="M385.2 74.3L389.3 101.4L394.5 86.1Z" fill="url(#f422)"/><path d="M381.4 59.8L378.4 82.1L376.1 92.6Z" fill="url(#f423)"/><path d="M381.4 59.8L386.7 88.9L378.3 82Z" fill="url(#f424)"/><path d="M381.4 59.8L376 92.6L384.4 99.3Z" fill="url(#f425)"/><path d="M381.4 59.8L384.4 99.3L386.7 88.9Z" fill="url(#f426)"/><path d="M334.3 80.2L330.4 84.8L327.1 96.4Z" fill="url(#f427)"/><path d="M334.2 80.2L341.3 96.2L330.3 84.9Z" fill="url(#f428)"/><path d="M334.2 80.2L327 96.3L338 107.1Z" fill="url(#f429)"/><path d="M334.2 80.2L337.9 107.1L341.4 96.1Z" fill="url(#f430)"/><path d="M326.8 60.3L323.8 86.8L321.5 95.5Z" fill="url(#f431)"/><path d="M326.8 60.3L332.1 95.9L323.7 86.8Z" fill="url(#f432)"/><path d="M326.8 60.3L321.5 95.5L329.8 104.4Z" fill="url(#f433)"/><path d="M326.8 60.3L329.8 104.4L332.1 95.9Z" fill="url(#f434)"/><path d="M386.8 79.5L383.5 81.1L380 93.3Z" fill="url(#f435)"/><path d="M386.7 79.5L393.5 88.4L383.3 81.2Z" fill="url(#f436)"/><path d="M386.8 79.5L379.9 93.2L390.1 100.1Z" fill="url(#f437)"/><path d="M386.7 79.5L390 100.2L393.6 88.2Z" fill="url(#f438)"/><path d="M352.5 92.9L349.1 88.4L343.7 99.7Z" fill="url(#f439)"/><path d="M352.1 93L361 96L348.9 88.4Z" fill="url(#f440)"/><path d="M352.4 92.8L343.7 99.6L355.7 107.6Z" fill="url(#f441)"/><path d="M352.2 92.8L355.6 107.7L361 95.8Z" fill="url(#f442)"/><path d="M333.2 82.3L330 89.2L327.8 98.3Z" fill="url(#f443)"/><path d="M333.1 82.3L338.5 98.3L329.9 89.3Z" fill="url(#f444)"/><path d="M333.1 82.3L327.7 98.2L336.2 106.8Z" fill="url(#f445)"/><path d="M333.1 82.3L336.1 106.9L338.5 98.2Z" fill="url(#f446)"/><path d="M396.3 65.9L393.3 82.6L391 93.2Z" fill="url(#f447)"/><path d="M396.3 65.9L401.6 88.6L393.2 82.5Z" fill="url(#f448)"/><path d="M396.3 65.9L390.9 93.2L399.3 99.6Z" fill="url(#f449)"/><path d="M396.3 65.9L399.3 99.6L401.7 88.6Z" fill="url(#f450)"/><path d="M332.8 80.8L328.6 87.6L325.3 99.7Z" fill="url(#f451)"/><path d="M332.7 80.8L340.2 99.8L328.4 87.7Z" fill="url(#f452)"/><path d="M332.7 80.8L325.1 99.6L336.8 111.3Z" fill="url(#f453)"/><path d="M332.7 80.8L336.8 111.3L340.2 99.8Z" fill="url(#f454)"/><path d="M360.3 88.2L357.1 89.9L352.2 101.6Z" fill="url(#f455)"/><path d="M360.1 88.2L368.3 97.3L356.9 90.1Z" fill="url(#f456)"/><path d="M360.2 88.1L352.1 101.5L363.4 108.4Z" fill="url(#f457)"/><path d="M360.1 88.2L363.3 108.4L368.3 97.1Z" fill="url(#f458)"/><path d="M314.6 92.8L310.5 86.4L309 97.5Z" fill="url(#f459)"/><path d="M314.2 92.9L319.9 98.4L310.4 86.4Z" fill="url(#f460)"/><path d="M314.4 92.6L308.9 97.2L318.4 109.1Z" fill="url(#f461)"/><path d="M314.3 92.6L318.3 109.1L319.9 98.1Z" fill="url(#f462)"/><path d="M288.4 84.5L284.1 80L280.2 90.3Z" fill="url(#f463)"/><path d="M288.1 84.3L296.2 94.1L283.9 80Z" fill="url(#f464)"/><path d="M288.2 84.3L280.1 90.1L292.4 104.7Z" fill="url(#f465)"/><path d="M288.1 84.3L292.3 104.7L296.3 93.9Z" fill="url(#f466)"/><path d="M361.8 88.4L357.9 92.2L354.6 105.3Z" fill="url(#f467)"/><path d="M361.7 88.4L368.8 101.4L357.8 92.4Z" fill="url(#f468)"/><path d="M361.7 88.4L354.5 105.2L365.5 113.8Z" fill="url(#f469)"/><path d="M361.6 88.4L365.4 113.8L368.9 101.3Z" fill="url(#f470)"/><path d="M292.4 84.3L289.3 86.7L287 94.6Z" fill="url(#f471)"/><path d="M292.3 84.3L297.7 96.7L289.1 86.8Z" fill="url(#f472)"/><path d="M292.3 84.3L286.8 94.4L295.4 104.6Z" fill="url(#f473)"/><path d="M292.3 84.3L295.3 104.6L297.7 96.6Z" fill="url(#f474)"/><path d="M388.8 72.2L385.8 91.7L383.5 102.1Z" fill="url(#f475)"/><path d="M388.8 72.2L394.1 98.3L385.7 91.6Z" fill="url(#f476)"/><path d="M388.8 72.2L383.4 102.1L391.8 108.6Z" fill="url(#f477)"/><path d="M388.8 72.2L391.8 108.6L394.1 98.3Z" fill="url(#f478)"/><path d="M388.7 95.3L383.9 87.1L379.1 103.7Z" fill="url(#f479)"/><path d="M388.4 95.5L397.9 96.9L383.8 87.2Z" fill="url(#f480)"/><path d="M388.5 95.1L379 103.5L393.1 113Z" fill="url(#f481)"/><path d="M388.4 95.2L393 113.1L397.8 96.6Z" fill="url(#f482)"/><path d="M309.3 84.7L305 89.7L299.5 101Z" fill="url(#f483)"/><path d="M309.1 84.7L318.8 103.3L304.7 89.8Z" fill="url(#f484)"/><path d="M309.2 84.7L299.4 100.8L313.4 114.2Z" fill="url(#f485)"/><path d="M309.1 84.7L313.4 114.2L318.9 103.2Z" fill="url(#f486)"/><path d="M367.5 97.8L362.6 92.7L358.5 108.9Z" fill="url(#f487)"/><path d="M367.1 97.8L376.3 104L362.5 92.8Z" fill="url(#f488)"/><path d="M367.4 97.7L358.3 108.7L372.1 119.4Z" fill="url(#f489)"/><path d="M367.2 97.7L372 119.4L376.3 103.7Z" fill="url(#f490)"/><path d="M386.4 92.6L382.6 91.8L379.2 105.3Z" fill="url(#f491)"/><path d="M386.2 92.5L393.5 100.2L382.4 91.9Z" fill="url(#f492)"/><path d="M386.3 92.5L379.1 105.1L390.1 113.2Z" fill="url(#f493)"/><path d="M386.2 92.5L390 113.2L393.5 100Z" fill="url(#f494)"/><path d="M372.9 99.5L368.4 93.3L365.8 107.8Z" fill="url(#f495)"/><path d="M372.5 99.7L379.6 103.8L368.2 93.4Z" fill="url(#f496)"/><path d="M372.7 99.4L365.7 107.6L377.1 117.8Z" fill="url(#f497)"/><path d="M372.6 99.4L377 117.8L379.6 103.5Z" fill="url(#f498)"/><path d="M305.1 83.7L301.9 93.6L296.3 101.8Z" fill="url(#f499)"/><path d="M304.9 83.7L313.7 104.2L301.6 93.5Z" fill="url(#f500)"/><path d="M305 83.7L296.2 101.7L308.3 112.1Z" fill="url(#f501)"/><path d="M304.9 83.7L308.2 112.1L313.7 104.2Z" fill="url(#f502)"/><path d="M359.5 99.3L354.9 96.2L351.3 110.8Z" fill="url(#f503)"/><path d="M359.3 99.2L367.5 107.1L354.7 96.3Z" fill="url(#f504)"/><path d="M359.4 99.2L351.2 110.6L364 121.4Z" fill="url(#f505)"/><path d="M359.3 99.2L363.9 121.4L367.6 106.9Z" fill="url(#f506)"/><path d="M306.4 99.9L301.9 91.6L297.2 103.1Z" fill="url(#f507)"/><path d="M306 99.9L315.1 105.5L301.7 91.7Z" fill="url(#f508)"/><path d="M306.2 99.7L297.2 102.9L310.6 116.5Z" fill="url(#f509)"/><path d="M306.1 99.7L310.5 116.5L315.2 105.3Z" fill="url(#f510)"/><path d="M341.4 92.5L338.2 102.1L336 110.6Z" fill="url(#f511)"/><path d="M341.3 92.5L346.7 110.1L338.1 102Z" fill="url(#f512)"/><path d="M341.3 92.5L335.9 110.5L344.4 118.3Z" fill="url(#f513)"/><path d="M341.3 92.5L344.3 118.3L346.7 110.1Z" fill="url(#f514)"/><path d="M319.4 92.8L315.7 97.4L312.5 107.2Z" fill="url(#f515)"/><path d="M319.2 92.7L326.1 108.2L315.5 97.6Z" fill="url(#f516)"/><path d="M319.3 92.7L312.4 107.1L322.9 117.5Z" fill="url(#f517)"/><path d="M319.2 92.7L322.8 117.5L326.1 108.1Z" fill="url(#f518)"/><path d="M330.5 103L325.9 96.8L324.7 109.3Z" fill="url(#f519)"/><path d="M330.2 102.9L336 109.8L325.8 96.8Z" fill="url(#f520)"/><path d="M330.4 102.8L324.6 109.1L334.9 121.4Z" fill="url(#f521)"/><path d="M330.3 102.8L334.8 121.5L336.1 109.5Z" fill="url(#f522)"/><path d="M297.7 90.2L294.3 93.3L291.4 102.2Z" fill="url(#f523)"/><path d="M297.5 90.1L303.8 104.2L294.1 93.4Z" fill="url(#f524)"/><path d="M297.6 90.1L291.2 102L301 112.8Z" fill="url(#f525)"/><path d="M297.5 90.1L300.9 112.8L303.9 104.1Z" fill="url(#f526)"/><path d="M367.6 75.3L364.6 101.1L362.3 110.9Z" fill="url(#f527)"/><path d="M367.6 75.3L372.9 108L364.5 101.1Z" fill="url(#f528)"/><path d="M367.6 75.3L362.3 110.9L370.6 117.7Z" fill="url(#f529)"/><path d="M367.6 75.3L370.6 117.7L372.9 108Z" fill="url(#f530)"/><path d="M366.5 102.1L362.8 100.6L360.1 112.3Z" fill="url(#f531)"/><path d="M366.2 102.1L372.7 109L362.7 100.6Z" fill="url(#f532)"/><path d="M366.3 102L359.9 112.2L369.9 120.2Z" fill="url(#f533)"/><path d="M366.2 102L369.8 120.2L372.7 108.7Z" fill="url(#f534)"/><path d="M352.2 76.7L349.2 104.4L346.9 113.2Z" fill="url(#f535)"/><path d="M352.2 76.7L357.5 111.9L349.1 104.4Z" fill="url(#f536)"/><path d="M352.2 76.7L346.9 113.2L355.2 120.6Z" fill="url(#f537)"/><path d="M352.2 76.7L355.2 120.6L357.5 111.9Z" fill="url(#f538)"/><path d="M324.2 96.6L320.9 101.3L314.6 110.4Z" fill="url(#f539)"/><path d="M324.1 96.6L333.6 111.4L320.6 101.4Z" fill="url(#f540)"/><path d="M324.2 96.6L314.6 110.2L327.6 120Z" fill="url(#f541)"/><path d="M324.1 96.6L327.5 120L333.7 111.3Z" fill="url(#f542)"/><path d="M304.9 96.5L300.6 95.1L295.6 106.1Z" fill="url(#f543)"/><path d="M304.6 96.5L313.8 108.6L300.4 95.2Z" fill="url(#f544)"/><path d="M304.7 96.4L295.5 105.9L308.9 119.1Z" fill="url(#f545)"/><path d="M304.6 96.5L308.8 119.1L313.9 108.5Z" fill="url(#f546)"/><path d="M327.4 102.9L323.9 102.2L320.7 111.7Z" fill="url(#f547)"/><path d="M327.2 102.9L333.9 112.3L323.7 102.3Z" fill="url(#f548)"/><path d="M327.3 102.9L320.6 111.5L330.8 121.1Z" fill="url(#f549)"/><path d="M327.2 102.9L330.7 121.1L334 112.1Z" fill="url(#f550)"/><path d="M304.7 100.9L300.4 95.7L296.5 106.8Z" fill="url(#f551)"/><path d="M304.3 100.8L312.5 108.9L300.2 95.7Z" fill="url(#f552)"/><path d="M304.5 100.7L296.4 106.6L308.7 119.4Z" fill="url(#f553)"/><path d="M304.4 100.7L308.6 119.5L312.6 108.7Z" fill="url(#f554)"/><path d="M368 100.7L364.1 101.8L360.8 114.4Z" fill="url(#f555)"/><path d="M367.8 100.7L375 110.6L364 101.9Z" fill="url(#f556)"/><path d="M367.9 100.7L360.7 114.3L371.7 122.7Z" fill="url(#f557)"/><path d="M367.8 100.7L371.6 122.7L375.1 110.4Z" fill="url(#f558)"/><path d="M378.9 99.8L375.4 101.5L371.3 113.4Z" fill="url(#f559)"/><path d="M378.7 99.7L386.3 108.8L375.2 101.6Z" fill="url(#f560)"/><path d="M378.8 99.7L371.2 113.3L382.3 120.9Z" fill="url(#f561)"/><path d="M378.7 99.7L382.2 120.9L386.3 108.6Z" fill="url(#f562)"/><path d="M314.6 94.4L311.3 102.5L309.2 110.4Z" fill="url(#f563)"/><path d="M314.5 94.4L319.9 111.5L311.3 102.4Z" fill="url(#f564)"/><path d="M314.5 94.4L309.1 110.3L317.6 119.3Z" fill="url(#f565)"/><path d="M314.5 94.4L317.5 119.3L319.9 111.4Z" fill="url(#f566)"/><path d="M298 89.2L293 92.9L290.5 105.7Z" fill="url(#f567)"/><path d="M297.9 89.2L305.3 108.3L292.9 93Z" fill="url(#f568)"/><path d="M297.9 89.2L290.4 105.5L302.8 121Z" fill="url(#f569)"/><path d="M297.8 89.2L302.7 121.1L305.4 108.2Z" fill="url(#f570)"/><path d="M323.8 108.8L319.8 102L315.5 112.5Z" fill="url(#f571)"/><path d="M323.5 108.8L331.8 113.3L319.7 102.1Z" fill="url(#f572)"/><path d="M323.7 108.5L315.4 112.3L327.6 123.3Z" fill="url(#f573)"/><path d="M323.5 108.5L327.5 123.3L331.8 113.1Z" fill="url(#f574)"/><path d="M341.5 104.1L337.9 106.5L332.6 116.2Z" fill="url(#f575)"/><path d="M341.3 104L350.2 115.8L337.7 106.6Z" fill="url(#f576)"/><path d="M341.4 104L332.5 116.1L345 125.3Z" fill="url(#f577)"/><path d="M341.3 104L344.8 125.4L350.2 115.7Z" fill="url(#f578)"/><path d="M346.8 111.3L342.5 105.4L339.6 116.9Z" fill="url(#f579)"/><path d="M346.4 111.4L353.6 116L342.4 105.4Z" fill="url(#f580)"/><path d="M346.6 111.1L339.5 116.6L350.8 127Z" fill="url(#f581)"/><path d="M346.5 111.1L350.7 127.1L353.6 115.7Z" fill="url(#f582)"/><path d="M325.4 110.4L321.9 105.3L316.3 114.2Z" fill="url(#f583)"/><path d="M325 110.4L334.1 115.1L321.7 105.3Z" fill="url(#f584)"/><path d="M325.3 110.2L316.3 114L328.6 123.6Z" fill="url(#f585)"/><path d="M325.1 110.2L328.5 123.7L334.1 114.9Z" fill="url(#f586)"/><path d="M394.6 104.9L390.7 100.4L387.3 113.7Z" fill="url(#f587)"/><path d="M394.2 105L401.6 108.7L390.5 100.5Z" fill="url(#f588)"/><path d="M394.4 104.8L387.2 113.6L398.2 122Z" fill="url(#f589)"/><path d="M394.3 104.8L398.1 122L401.6 108.4Z" fill="url(#f590)"/><path d="M301.2 101.8L296.4 97.4L295.6 110.1Z" fill="url(#f591)"/><path d="M301 101.7L306.5 111.5L296.3 97.4Z" fill="url(#f592)"/><path d="M301 101.7L295.4 109.9L305.6 123.7Z" fill="url(#f593)"/><path d="M300.9 101.7L305.6 123.7L306.5 111.3Z" fill="url(#f594)"/><path d="M378 83.8L375 107.1L372.7 116.8Z" fill="url(#f595)"/><path d="M378 83.8L383.3 113.7L374.9 107.1Z" fill="url(#f596)"/><path d="M378 83.8L372.6 116.8L381 123.8Z" fill="url(#f597)"/><path d="M378 83.8L381 123.8L383.3 113.7Z" fill="url(#f598)"/><path d="M307.5 102.3L303.2 101.5L301 112.8Z" fill="url(#f599)"/><path d="M307.3 102.2L313.8 114.4L303.1 101.6Z" fill="url(#f600)"/><path d="M307.4 102.2L300.8 112.6L311.6 125.1Z" fill="url(#f601)"/><path d="M307.3 102.2L311.5 125.1L313.9 114.2Z" fill="url(#f602)"/><path d="M327.1 106.9L323.2 106.9L319.9 117.2Z" fill="url(#f603)"/><path d="M326.9 106.8L334.1 117.7L323.1 107Z" fill="url(#f604)"/><path d="M327 106.8L319.8 117L330.8 127.4Z" fill="url(#f605)"/><path d="M326.9 106.8L330.7 127.4L334.2 117.6Z" fill="url(#f606)"/><path d="M326 108.5L321.3 104.9L318.6 117.4Z" fill="url(#f607)"/><path d="M325.8 108.4L333.2 118L321.1 104.9Z" fill="url(#f608)"/><path d="M325.9 108.4L318.5 117.2L330.5 130.2Z" fill="url(#f609)"/><path d="M325.8 108.4L330.4 130.2L333.2 117.8Z" fill="url(#f610)"/><path d="M317.4 107.6L313.9 108.3L311.7 117.3Z" fill="url(#f611)"/><path d="M317.3 107.5L322.9 118.2L313.8 108.4Z" fill="url(#f612)"/><path d="M317.3 107.5L311.6 117.1L320.7 127Z" fill="url(#f613)"/><path d="M317.2 107.5L320.7 127.1L323 118.1Z" fill="url(#f614)"/></g><text x="255.9" y="74.5" font-size="6.3" text-anchor="end" font-weight="bold" fill="#2a2a2a">-4</text><text x="255.9" y="48.1" font-size="6.3" text-anchor="end" font-weight="bold" fill="#2a2a2a">-2</text><text x="255.9" y="21.7" font-size="6.3" text-anchor="end" font-weight="bold" fill="#2a2a2a">0</text><text x="277" y="159.7" font-size="6.3" text-anchor="middle" font-weight="bold" fill="#2a2a2a">0</text><text x="269.5" y="137.7" font-size="6.3" text-anchor="middle" font-weight="bold" fill="#2a2a2a">2</text><text x="262" y="115.6" font-size="6.3" text-anchor="middle" font-weight="bold" fill="#2a2a2a">4</text><text x="254.5" y="93.6" font-size="6.3" text-anchor="middle" font-weight="bold" fill="#2a2a2a">6</text><text x="285.2" y="163.9" font-size="6.3" font-weight="bold" fill="#2a2a2a">0</text><text x="329" y="159" font-size="6.3" font-weight="bold" fill="#2a2a2a">5</text><text x="372.8" y="154" font-size="6.3" font-weight="bold" fill="#2a2a2a">10</text><text x="416.6" y="149.1" font-size="6.3" font-weight="bold" fill="#2a2a2a">15</text><text x="251" y="151.2" font-size="7" text-anchor="middle" font-weight="bold" fill="#222">Y [mm]</text><text x="349.3" y="167" font-size="7" text-anchor="middle" font-weight="bold" fill="#222">X [mm]</text><text x="0" y="0" font-size="10.3" font-weight="bold" text-anchor="middle" fill="#000" transform="translate(240.3 81.3) rotate(-90)">Growth Rate [mm/min]</text><text x="240" y="14.5" font-size="5.8" fill="#262626"><tspan font-size="7.6">&#215;</tspan>10<tspan dy="-3" font-size="4.6">-3</tspan></text><rect x="431.1" y="9.2" width="6.4" height="142.5" fill="url(#cb)" stroke="#262626" stroke-width="0.3"/><line x1="431.1" y1="9.2" x2="432.3" y2="9.2" stroke="#262626" stroke-width="0.4"/><line x1="436.3" y1="9.2" x2="437.5" y2="9.2" stroke="#262626" stroke-width="0.4"/><text x="439.1" y="11.3" font-size="5.9" font-weight="bold" fill="#2a2a2a">0</text><line x1="431.1" y1="31.2" x2="432.3" y2="31.2" stroke="#262626" stroke-width="0.4"/><line x1="436.3" y1="31.2" x2="437.5" y2="31.2" stroke="#262626" stroke-width="0.4"/><text x="439.1" y="33.3" font-size="5.9" font-weight="bold" fill="#2a2a2a">-0.5</text><line x1="431.1" y1="53.2" x2="432.3" y2="53.2" stroke="#262626" stroke-width="0.4"/><line x1="436.3" y1="53.2" x2="437.5" y2="53.2" stroke="#262626" stroke-width="0.4"/><text x="439.1" y="55.3" font-size="5.9" font-weight="bold" fill="#2a2a2a">-1</text><line x1="431.1" y1="75.2" x2="432.3" y2="75.2" stroke="#262626" stroke-width="0.4"/><line x1="436.3" y1="75.2" x2="437.5" y2="75.2" stroke="#262626" stroke-width="0.4"/><text x="439.1" y="77.3" font-size="5.9" font-weight="bold" fill="#2a2a2a">-1.5</text><line x1="431.1" y1="97.2" x2="432.3" y2="97.2" stroke="#262626" stroke-width="0.4"/><line x1="436.3" y1="97.2" x2="437.5" y2="97.2" stroke="#262626" stroke-width="0.4"/><text x="439.1" y="99.3" font-size="5.9" font-weight="bold" fill="#2a2a2a">-2</text><line x1="431.1" y1="119.2" x2="432.3" y2="119.2" stroke="#262626" stroke-width="0.4"/><line x1="436.3" y1="119.2" x2="437.5" y2="119.2" stroke="#262626" stroke-width="0.4"/><text x="439.1" y="121.3" font-size="5.9" font-weight="bold" fill="#2a2a2a">-2.5</text><line x1="431.1" y1="141.1" x2="432.3" y2="141.1" stroke="#262626" stroke-width="0.4"/><line x1="436.3" y1="141.1" x2="437.5" y2="141.1" stroke="#262626" stroke-width="0.4"/><text x="439.1" y="143.2" font-size="5.9" font-weight="bold" fill="#2a2a2a">-3</text><text x="438" y="161.5" font-size="5.8" fill="#262626"><tspan font-size="7.6">&#215;</tspan>10<tspan dy="-3" font-size="4.6">-3</tspan></text><text x="270.3" y="22.5" font-size="11.5" font-weight="bold" fill="#000">(b) <tspan font-style="italic">t = 36.5 min (73)</tspan></text><line x1="490.9" y1="66.4" x2="623.5" y2="50.6" stroke="#e3e3e3" stroke-width="0.5"/><line x1="490.9" y1="44.1" x2="623.5" y2="28.4" stroke="#e3e3e3" stroke-width="0.5"/><line x1="490.9" y1="21.9" x2="623.5" y2="6.1" stroke="#e3e3e3" stroke-width="0.5"/><line x1="490.9" y1="75.3" x2="490.9" y2="21.9" stroke="#e3e3e3" stroke-width="0.5"/><line x1="533.9" y1="70.2" x2="533.9" y2="16.8" stroke="#e3e3e3" stroke-width="0.5"/><line x1="576.8" y1="65.1" x2="576.8" y2="11.7" stroke="#e3e3e3" stroke-width="0.5"/><line x1="619.8" y1="59.9" x2="619.8" y2="6.5" stroke="#e3e3e3" stroke-width="0.5"/><line x1="650" y1="127" x2="623.5" y2="50.6" stroke="#e3e3e3" stroke-width="0.5"/><line x1="650" y1="104.8" x2="623.5" y2="28.4" stroke="#e3e3e3" stroke-width="0.5"/><line x1="650" y1="82.5" x2="623.5" y2="6.1" stroke="#e3e3e3" stroke-width="0.5"/><line x1="650" y1="135.9" x2="650" y2="82.5" stroke="#e3e3e3" stroke-width="0.5"/><line x1="642.4" y1="114.1" x2="642.4" y2="60.7" stroke="#e3e3e3" stroke-width="0.5"/><line x1="634.9" y1="92.2" x2="634.9" y2="38.8" stroke="#e3e3e3" stroke-width="0.5"/><line x1="627.3" y1="70.4" x2="627.3" y2="17" stroke="#e3e3e3" stroke-width="0.5"/><line x1="517.4" y1="151.7" x2="490.9" y2="75.3" stroke="#e3e3e3" stroke-width="0.5"/><line x1="560.4" y1="146.6" x2="533.9" y2="70.2" stroke="#e3e3e3" stroke-width="0.5"/><line x1="603.3" y1="141.5" x2="576.8" y2="65.1" stroke="#e3e3e3" stroke-width="0.5"/><line x1="646.3" y1="136.3" x2="619.8" y2="59.9" stroke="#e3e3e3" stroke-width="0.5"/><line x1="517.4" y1="151.7" x2="650" y2="135.9" stroke="#e3e3e3" stroke-width="0.5"/><line x1="509.8" y1="129.9" x2="642.4" y2="114.1" stroke="#e3e3e3" stroke-width="0.5"/><line x1="502.3" y1="108" x2="634.9" y2="92.2" stroke="#e3e3e3" stroke-width="0.5"/><line x1="494.7" y1="86.2" x2="627.3" y2="70.4" stroke="#e3e3e3" stroke-width="0.5"/><line x1="490.9" y1="75.3" x2="490.9" y2="21.9" stroke="#9a9a9a" stroke-width="0.6"/><line x1="517.4" y1="151.7" x2="490.9" y2="75.3" stroke="#9a9a9a" stroke-width="0.6"/><line x1="517.4" y1="151.7" x2="650" y2="135.9" stroke="#9a9a9a" stroke-width="0.6"/><line x1="517.4" y1="151.7" x2="518.3" y2="154.5" stroke="#9a9a9a" stroke-width="0.6"/><line x1="560.4" y1="146.6" x2="561.3" y2="149.4" stroke="#9a9a9a" stroke-width="0.6"/><line x1="603.3" y1="141.5" x2="604.2" y2="144.3" stroke="#9a9a9a" stroke-width="0.6"/><line x1="646.3" y1="136.3" x2="647.2" y2="139.1" stroke="#9a9a9a" stroke-width="0.6"/><line x1="517.4" y1="151.7" x2="514.4" y2="152" stroke="#9a9a9a" stroke-width="0.6"/><line x1="509.8" y1="129.9" x2="506.8" y2="130.2" stroke="#9a9a9a" stroke-width="0.6"/><line x1="502.3" y1="108" x2="499.3" y2="108.3" stroke="#9a9a9a" stroke-width="0.6"/><line x1="494.7" y1="86.2" x2="491.7" y2="86.5" stroke="#9a9a9a" stroke-width="0.6"/><polygon points="518.7,122.3 526.7,125.4 534.6,128 542.6,129.8 550.6,131.7 558.6,132.9 566.5,133.7 574.5,134.5 582.5,134 590.5,133.4 598.4,132.6 606.4,130.6 614.4,128.7 622.4,126.3 630.4,123.3 638.3,120 646.3,115 643,105.3 639.7,95.7 636.4,86 633.1,76.3 629.7,66.6 626.4,56.8 623.1,47 619.8,37.2 611.8,40.7 603.9,43.7 595.9,46.4 587.9,48.6 579.9,50.6 571.9,52.5 564,53.3 556,54.1 548,54.5 540,54.2 532.1,54 524.1,53.1 516.1,51.7 508.1,50.4 500.2,48 492.2,45.4 495.5,55.1 498.8,64.7 502.1,74.3 505.4,83.9 508.8,93.5 512.1,103.1 515.4,112.7 518.7,122.3" fill="#2a92ee"/><path d="M599.2 57.5L604.1 43.5L595.6 46.2Z" fill="url(#f615)"/><path d="M607.1 54.5L612 40.4L603.6 43.5Z" fill="url(#f616)"/><path d="M591.2 59.8L596.1 46.2L587.6 48.3Z" fill="url(#f617)"/><path d="M615.1 51.2L620 36.9L611.5 40.5Z" fill="url(#f618)"/><path d="M583.2 62.1L588.1 48.3L579.7 50.4Z" fill="url(#f619)"/><path d="M575.2 64.2L580.1 50.3L571.7 52.3Z" fill="url(#f620)"/><path d="M567.3 65.2L572.2 52.3L563.7 53Z" fill="url(#f621)"/><path d="M559.3 66.1L564.2 53L555.7 53.8Z" fill="url(#f622)"/><path d="M599 57.4L607.5 54.4L603.9 43.4Z" fill="url(#f623)"/><path d="M591 59.8L599.5 57.3L595.9 46.1Z" fill="url(#f624)"/><path d="M607 54.5L615.4 51.1L611.8 40.3Z" fill="url(#f625)"/><path d="M583 62L591.5 59.7L587.9 48.2Z" fill="url(#f626)"/><path d="M614.9 51.2L623.4 47.2L619.8 36.9Z" fill="url(#f627)"/><path d="M575 64.1L583.5 61.9L579.9 50.2Z" fill="url(#f628)"/><path d="M551.3 66.3L556.2 53.8L547.8 54.3Z" fill="url(#f629)"/><path d="M567 65.1L575.5 64.1L572 52.2Z" fill="url(#f630)"/><path d="M543.3 65.8L548.3 54.3L539.8 54Z" fill="url(#f631)"/><path d="M559.1 66L567.5 65.1L564 52.9Z" fill="url(#f632)"/><path d="M551.1 66.2L559.6 66L556 53.7Z" fill="url(#f633)"/><path d="M535.4 65.2L540.3 54L531.8 53.7Z" fill="url(#f634)"/><path d="M543.1 65.7L551.6 66.2L548 54.2Z" fill="url(#f635)"/><path d="M527.4 64.1L532.4 53.8L523.8 52.8Z" fill="url(#f636)"/><path d="M602.5 68.1L607.4 53.9L598.9 56.9Z" fill="url(#f637)"/><path d="M535.1 65.1L543.6 65.7L540.1 53.9Z" fill="url(#f638)"/><path d="M594.5 70.6L599.4 56.8L590.9 59.3Z" fill="url(#f639)"/><path d="M610.5 64.9L615.3 50.6L606.9 54Z" fill="url(#f640)"/><path d="M586.5 73L591.4 59.2L583 61.5Z" fill="url(#f641)"/><path d="M618.4 61.4L623.3 46.8L614.8 50.7Z" fill="url(#f642)"/><path d="M578.6 75.3L583.5 61.4L575 63.6Z" fill="url(#f643)"/><path d="M570.6 76.5L575.5 63.6L567 64.6Z" fill="url(#f644)"/><path d="M519.4 62.5L524.4 52.9L515.9 51.5Z" fill="url(#f645)"/><path d="M527.1 64L535.6 65.2L532.1 53.6Z" fill="url(#f646)"/><path d="M562.6 77.5L567.5 64.6L559.1 65.5Z" fill="url(#f647)"/><path d="M594.3 70.6L602.8 67.9L599.2 56.8Z" fill="url(#f648)"/><path d="M602.3 68L610.8 64.8L607.2 53.8Z" fill="url(#f649)"/><path d="M586.3 72.9L594.8 70.5L591.2 59.1Z" fill="url(#f650)"/><path d="M554.6 77.6L559.6 65.5L551.1 65.7Z" fill="url(#f651)"/><path d="M610.3 64.8L618.8 61.2L615.2 50.5Z" fill="url(#f652)"/><path d="M511.4 60.9L516.4 51.6L507.9 50.2Z" fill="url(#f653)"/><path d="M578.4 75.2L586.8 72.9L583.3 61.4Z" fill="url(#f654)"/><path d="M519.1 62.3L527.6 64L524.1 52.7Z" fill="url(#f655)"/><path d="M618.3 61.3L626.7 57L623.1 46.7Z" fill="url(#f656)"/><path d="M570.4 76.4L578.8 75.2L575.3 63.5Z" fill="url(#f657)"/><path d="M562.4 77.4L570.9 76.4L567.3 64.5Z" fill="url(#f658)"/><path d="M546.6 76.8L551.6 65.8L543.1 65.2Z" fill="url(#f659)"/><path d="M511.1 60.7L519.7 62.4L516.1 51.4Z" fill="url(#f660)"/><path d="M503.5 58.3L508.5 50.3L499.9 47.7Z" fill="url(#f661)"/><path d="M554.4 77.5L562.9 77.4L559.3 65.4Z" fill="url(#f662)"/><path d="M538.7 76L543.6 65.2L535.1 64.7Z" fill="url(#f663)"/><path d="M546.4 76.6L554.9 77.5L551.4 65.6Z" fill="url(#f664)"/><path d="M503.2 58L511.7 60.8L508.2 50.1Z" fill="url(#f665)"/><path d="M530.7 74.6L535.7 64.7L527.2 63.5Z" fill="url(#f666)"/><path d="M495.5 55.4L500.5 47.9L492 45.2Z" fill="url(#f667)"/><path d="M538.4 75.9L546.9 76.7L543.4 65.1Z" fill="url(#f668)"/><path d="M597.8 81.2L602.7 67.4L594.2 70.1Z" fill="url(#f669)"/><path d="M605.8 78.5L610.7 64.3L602.2 67.5Z" fill="url(#f670)"/><path d="M589.8 83.7L594.7 70L586.3 72.5Z" fill="url(#f671)"/><path d="M613.8 75.2L618.7 60.8L610.2 64.4Z" fill="url(#f672)"/><path d="M581.9 86.1L586.8 72.4L578.3 74.8Z" fill="url(#f673)"/><path d="M621.7 71.5L626.6 56.5L618.1 60.9Z" fill="url(#f674)"/><path d="M573.9 87.4L578.8 74.7L570.3 75.9Z" fill="url(#f675)"/><path d="M522.7 72.8L527.7 63.6L519.2 61.9Z" fill="url(#f676)"/><path d="M495.2 55.2L503.7 58.2L500.2 47.7Z" fill="url(#f677)"/><path d="M530.4 74.5L538.9 75.9L535.4 64.5Z" fill="url(#f678)"/><path d="M565.9 88.5L570.8 75.9L562.4 76.9Z" fill="url(#f679)"/><path d="M557.9 88.4L562.9 76.9L554.4 77Z" fill="url(#f680)"/><path d="M597.6 81.1L606.1 78.3L602.5 67.4Z" fill="url(#f681)"/><path d="M589.6 83.6L598.1 81L594.5 69.9Z" fill="url(#f682)"/><path d="M605.6 78.4L614.1 75L610.5 64.2Z" fill="url(#f683)"/><path d="M581.7 86L590.1 83.5L586.6 72.3Z" fill="url(#f684)"/><path d="M613.6 75.1L622.1 71.3L618.5 60.7Z" fill="url(#f685)"/><path d="M514.7 71L519.7 62L511.2 60.3Z" fill="url(#f686)"/><path d="M522.4 72.6L531 74.6L527.4 63.4Z" fill="url(#f687)"/><path d="M573.7 87.3L582.2 86L578.6 74.6Z" fill="url(#f688)"/><path d="M621.6 71.4L630.1 66.8L626.4 56.5Z" fill="url(#f689)"/><path d="M565.7 88.4L574.2 87.2L570.6 75.8Z" fill="url(#f690)"/><path d="M550 87.4L554.9 77L546.4 76.2Z" fill="url(#f691)"/><path d="M557.7 88.3L566.2 88.3L562.6 76.8Z" fill="url(#f692)"/><path d="M514.5 70.8L523 72.7L519.5 61.8Z" fill="url(#f693)"/><path d="M506.8 68.1L511.8 60.4L503.2 57.7Z" fill="url(#f694)"/><path d="M542 86.5L547 76.2L538.4 75.4Z" fill="url(#f695)"/><path d="M549.7 87.3L558.2 88.3L554.7 76.9Z" fill="url(#f696)"/><path d="M506.5 67.9L515 70.9L511.5 60.2Z" fill="url(#f697)"/><path d="M534 85L539 75.5L530.5 74Z" fill="url(#f698)"/><path d="M498.8 65.1L503.8 57.8L495.3 54.8Z" fill="url(#f699)"/><path d="M541.7 86.3L550.2 87.3L546.7 76.1Z" fill="url(#f700)"/><path d="M601.1 91.4L606 77.8L597.5 80.6Z" fill="url(#f701)"/><path d="M609.1 88.6L614 74.5L605.5 77.9Z" fill="url(#f702)"/><path d="M593.2 93.9L598.1 80.5L589.6 83.1Z" fill="url(#f703)"/><path d="M585.2 96.4L590.1 83L581.6 85.5Z" fill="url(#f704)"/><path d="M617.1 85.2L622 70.8L613.5 74.6Z" fill="url(#f705)"/><path d="M577.2 97.7L582.1 85.5L573.6 86.8Z" fill="url(#f706)"/><path d="M625.1 81.4L629.9 66.3L621.5 71Z" fill="url(#f707)"/><path d="M526 82.9L531 74.1L522.5 72.2Z" fill="url(#f708)"/><path d="M533.7 84.8L542.2 86.4L538.7 75.3Z" fill="url(#f709)"/><path d="M569.2 98.8L574.2 86.8L565.7 87.9Z" fill="#4746ea"/><path d="M498.5 64.8L507 68.1L503.5 57.6Z" fill="url(#f710)"/><path d="M561.2 98.7L566.2 87.9L557.7 87.8Z" fill="url(#f711)"/><path d="M600.9 91.3L609.4 88.4L605.8 77.8Z" fill="url(#f712)"/><path d="M593 93.8L601.4 91.2L597.9 80.5Z" fill="url(#f713)"/><path d="M608.9 88.5L617.4 85L613.8 74.5Z" fill="url(#f714)"/><path d="M585 96.3L593.5 93.7L589.9 83Z" fill="url(#f715)"/><path d="M518.1 80.9L523.1 72.3L514.5 70.4Z" fill="url(#f716)"/><path d="M616.9 85.1L625.4 81.3L621.8 70.8Z" fill="url(#f717)"/><path d="M577 97.6L585.5 96.2L581.9 85.4Z" fill="url(#f718)"/><path d="M525.7 82.7L534.3 84.9L530.7 73.9Z" fill="url(#f719)"/><path d="M624.9 81.4L633.4 76.5L629.8 66.3Z" fill="url(#f720)"/><path d="M569 98.7L577.5 97.6L573.9 86.7Z" fill="#4743e7"/><path d="M553.3 97.6L558.3 87.9L549.7 86.8Z" fill="url(#f721)"/><path d="M561 98.5L569.5 98.7L566 87.8Z" fill="url(#f722)"/><path d="M517.8 80.7L526.3 82.8L522.8 72.1Z" fill="url(#f723)"/><path d="M510.1 77.9L515.1 70.5L506.6 67.5Z" fill="url(#f724)"/><path d="M545.3 96.5L550.3 86.9L541.8 85.9Z" fill="url(#f725)"/><path d="M553 97.4L561.5 98.6L558 87.7Z" fill="url(#f726)"/><path d="M537.3 94.9L542.3 85.9L533.8 84.4Z" fill="url(#f727)"/><path d="M509.8 77.7L518.3 80.8L514.8 70.3Z" fill="url(#f728)"/><path d="M545 96.4L553.5 97.5L550 86.7Z" fill="url(#f729)"/><path d="M502.1 74.7L507.1 67.7L498.6 64.4Z" fill="url(#f730)"/><path d="M604.4 101.2L609.3 88L600.9 90.8Z" fill="url(#f731)"/><path d="M612.4 98.4L617.3 84.6L608.8 88.1Z" fill="url(#f732)"/><path d="M596.5 103.7L601.4 90.7L592.9 93.3Z" fill="url(#f733)"/><path d="M588.5 106.1L593.4 93.3L584.9 95.8Z" fill="url(#f734)"/><path d="M620.4 95L625.3 80.8L616.8 84.7Z" fill="url(#f735)"/><path d="M580.5 107.4L585.4 95.8L576.9 97.1Z" fill="url(#f736)"/><path d="M628.4 91.3L633.2 76.1L624.8 81Z" fill="url(#f737)"/><path d="M529.3 92.8L534.3 84.5L525.8 82.3Z" fill="url(#f738)"/><path d="M537 94.8L545.6 96.4L542 85.8Z" fill="url(#f739)"/><path d="M572.5 108.4L577.5 97.1L569 98.2Z" fill="#4742e7"/><path d="M501.8 74.4L510.3 77.9L506.8 67.4Z" fill="url(#f740)"/><path d="M564.6 108.4L569.5 98.2L561 98.1Z" fill="url(#f741)"/><path d="M604.2 101.1L612.7 98.3L609.1 87.9Z" fill="url(#f742)"/><path d="M596.3 103.6L604.8 101L601.2 90.7Z" fill="url(#f743)"/><path d="M612.2 98.4L620.7 94.9L617.1 84.5Z" fill="url(#f744)"/><path d="M588.3 106L596.8 103.5L593.2 93.2Z" fill="url(#f745)"/><path d="M529 92.6L537.6 94.9L534.1 84.3Z" fill="url(#f746)"/><path d="M521.4 90.7L526.4 82.4L517.8 80.3Z" fill="url(#f747)"/><path d="M580.3 107.3L588.8 106L585.2 95.7Z" fill="#4746ea"/><path d="M620.2 95L628.7 91.1L625.1 80.8Z" fill="url(#f748)"/><path d="M572.3 108.3L580.8 107.3L577.2 97Z" fill="#4742e6"/><path d="M556.6 107.3L561.6 98.2L553 97Z" fill="url(#f749)"/><path d="M628.2 91.2L636.7 86.2L633.1 76Z" fill="url(#f750)"/><path d="M564.3 108.2L572.8 108.3L569.3 98.1Z" fill="url(#f751)"/><path d="M521.1 90.5L529.6 92.7L526.1 82.2Z" fill="url(#f752)"/><path d="M513.4 87.7L518.4 80.5L509.9 77.3Z" fill="url(#f753)"/><path d="M548.6 106.2L553.6 97.1L545.1 95.9Z" fill="url(#f754)"/><path d="M556.3 107.1L564.8 108.3L561.3 98Z" fill="url(#f755)"/><path d="M540.6 104.6L545.6 96L537.1 94.3Z" fill="url(#f756)"/><path d="M513.1 87.4L521.6 90.6L518.1 80.2Z" fill="url(#f757)"/><path d="M548.3 106L556.9 107.2L553.3 96.9Z" fill="url(#f758)"/><path d="M505.4 84.3L510.4 77.5L501.9 74.1Z" fill="url(#f759)"/><path d="M607.8 110.7L612.7 97.8L604.2 100.7Z" fill="url(#f760)"/><path d="M615.7 108L620.6 94.4L612.1 97.9Z" fill="url(#f761)"/><path d="M599.8 113L604.7 100.6L596.2 103.1Z" fill="url(#f762)"/><path d="M591.8 115.4L596.7 103.1L588.2 105.6Z" fill="url(#f763)"/><path d="M623.7 104.7L628.6 90.7L620.1 94.5Z" fill="url(#f764)"/><path d="M583.8 116.5L588.8 105.5L580.2 106.8Z" fill="url(#f765)"/><path d="M631.7 101L636.6 85.8L628.1 90.8Z" fill="url(#f766)"/><path d="M532.7 102.5L537.7 94.5L529.1 92.2Z" fill="url(#f767)"/><path d="M540.3 104.4L548.9 106.1L545.3 95.8Z" fill="url(#f768)"/><path d="M575.8 117.5L580.8 106.8L572.3 107.9Z" fill="url(#f769)"/><path d="M505.1 84L513.6 87.6L510.1 77.2Z" fill="url(#f770)"/><path d="M567.9 117.5L572.8 107.9L564.3 107.8Z" fill="url(#f771)"/><path d="M607.5 110.6L616.1 107.9L612.5 97.7Z" fill="url(#f772)"/><path d="M599.6 113L608.1 110.5L604.5 100.5Z" fill="url(#f773)"/><path d="M615.5 107.9L624 104.5L620.4 94.3Z" fill="url(#f774)"/><path d="M591.6 115.3L600.1 112.9L596.5 103Z" fill="url(#f775)"/><path d="M532.4 102.2L540.9 104.5L537.4 94.2Z" fill="url(#f776)"/><path d="M524.7 100.3L529.7 92.3L521.1 90.1Z" fill="url(#f777)"/><path d="M623.5 104.6L632 100.9L628.4 90.6Z" fill="url(#f778)"/><path d="M583.6 116.4L592.1 115.2L588.5 105.4Z" fill="url(#f779)"/><path d="M631.5 101L640 95.8L636.4 85.7Z" fill="url(#f780)"/><path d="M559.9 116.5L564.9 107.9L556.3 106.7Z" fill="url(#f781)"/><path d="M575.6 117.4L584.1 116.4L580.6 106.7Z" fill="url(#f782)"/><path d="M567.6 117.4L576.1 117.4L572.6 107.7Z" fill="url(#f783)"/><path d="M524.4 100.1L532.9 102.4L529.4 92.1Z" fill="url(#f784)"/><path d="M516.7 97.3L521.7 90.3L513.2 87Z" fill="url(#f785)"/><path d="M551.9 115.5L556.9 106.8L548.4 105.6Z" fill="url(#f786)"/><path d="M559.6 116.3L568.2 117.4L564.6 107.7Z" fill="url(#f787)"/><path d="M543.9 113.9L548.9 105.7L540.4 104Z" fill="url(#f788)"/><path d="M516.4 97L524.9 100.2L521.4 90Z" fill="url(#f789)"/><path d="M551.6 115.3L560.2 116.4L556.6 106.6Z" fill="url(#f790)"/><path d="M508.7 93.9L513.8 87.2L505.2 83.7Z" fill="url(#f791)"/><path d="M611.1 119.9L616 107.4L607.5 110.2Z" fill="url(#f792)"/><path d="M619 117.4L623.9 104.1L615.4 107.5Z" fill="url(#f793)"/><path d="M603.1 122.1L608 110.1L599.5 112.5Z" fill="url(#f794)"/><path d="M627 114.2L631.9 100.4L623.4 104.2Z" fill="url(#f795)"/><path d="M595.1 124.3L600 112.4L591.5 114.8Z" fill="url(#f796)"/><path d="M635 110.7L639.9 95.4L631.4 100.6Z" fill="url(#f797)"/><path d="M587.1 125.3L592.1 114.8L583.6 116Z" fill="url(#f798)"/><path d="M536 111.9L541 104.1L532.4 101.9Z" fill="url(#f799)"/><path d="M543.7 113.7L552.2 115.3L548.7 105.5Z" fill="url(#f800)"/><path d="M508.4 93.6L517 97.2L513.4 87Z" fill="url(#f801)"/><path d="M579.2 126.1L584.1 116L575.6 116.9Z" fill="url(#f802)"/><path d="M571.2 126.3L576.2 116.9L567.6 117Z" fill="url(#f803)"/><path d="M610.9 119.8L619.4 117.2L615.8 107.3Z" fill="url(#f804)"/><path d="M618.8 117.3L627.3 114.1L623.7 104Z" fill="url(#f805)"/><path d="M602.9 122L611.4 119.8L607.8 110Z" fill="url(#f806)"/><path d="M528 109.8L533 102L524.5 99.7Z" fill="url(#f807)"/><path d="M626.8 114.2L635.3 110.5L631.7 100.4Z" fill="url(#f808)"/><path d="M535.7 111.6L544.2 113.8L540.7 103.9Z" fill="url(#f809)"/><path d="M594.9 124.2L603.4 121.9L599.8 112.3Z" fill="url(#f810)"/><path d="M586.9 125.1L595.4 124.1L591.8 114.7Z" fill="url(#f811)"/><path d="M634.8 110.7L643.3 105.5L639.7 95.4Z" fill="url(#f812)"/><path d="M563.2 125.4L568.2 117L559.7 115.9Z" fill="url(#f813)"/><path d="M578.9 125.9L587.4 125.1L583.9 115.8Z" fill="url(#f814)"/><path d="M527.7 109.6L536.2 111.8L532.7 101.8Z" fill="url(#f815)"/><path d="M570.9 126.2L579.5 125.9L575.9 116.8Z" fill="url(#f816)"/><path d="M520 106.8L525 99.9L516.5 96.7Z" fill="url(#f817)"/><path d="M555.2 124.4L560.2 116L551.7 114.9Z" fill="url(#f818)"/><path d="M562.9 125.2L571.5 126.2L567.9 116.8Z" fill="url(#f819)"/><path d="M519.7 106.6L528.3 109.7L524.7 99.6Z" fill="url(#f820)"/><path d="M547.3 123L552.3 115L543.7 113.3Z" fill="url(#f821)"/><path d="M512 103.5L517.1 96.9L508.5 93.3Z" fill="url(#f822)"/><path d="M555 124.2L563.5 125.2L559.9 115.8Z" fill="url(#f823)"/><path d="M622.4 126.7L627.3 113.6L618.8 116.9Z" fill="url(#f824)"/><path d="M614.4 129L619.3 116.8L610.8 119.4Z" fill="url(#f825)"/><path d="M630.3 123.7L635.2 110.1L626.7 113.7Z" fill="url(#f826)"/><path d="M606.4 131L611.3 119.3L602.8 121.6Z" fill="url(#f827)"/><path d="M598.4 132.9L603.4 121.5L594.8 123.7Z" fill="url(#f828)"/><path d="M638.3 120.3L643.2 105.1L634.7 110.2Z" fill="url(#f829)"/><path d="M539.3 121.1L544.3 113.5L535.7 111.3Z" fill="url(#f830)"/><path d="M590.4 133.7L595.4 123.7L586.9 124.7Z" fill="url(#f831)"/><path d="M547 122.8L555.5 124.3L552 114.8Z" fill="url(#f832)"/><path d="M511.7 103.2L520.3 106.7L516.8 96.6Z" fill="url(#f833)"/><path d="M582.5 134.4L587.4 124.7L578.9 125.5Z" fill="url(#f834)"/><path d="M614.2 128.9L622.7 126.5L619.1 116.7Z" fill="url(#f835)"/><path d="M622.2 126.6L630.7 123.5L627.1 113.5Z" fill="url(#f836)"/><path d="M574.5 134.8L579.5 125.5L570.9 125.7Z" fill="url(#f837)"/><path d="M606.2 130.9L614.7 128.9L611.1 119.2Z" fill="url(#f838)"/><path d="M630.1 123.6L638.6 120.1L635 110Z" fill="url(#f839)"/><path d="M531.3 119.1L536.3 111.4L527.8 109.2Z" fill="url(#f840)"/><path d="M539 120.9L547.5 122.9L544 113.2Z" fill="url(#f841)"/><path d="M598.2 132.8L606.7 130.8L603.1 121.4Z" fill="url(#f842)"/><path d="M638.1 120.3L646.6 115.1L643 105Z" fill="url(#f843)"/><path d="M590.2 133.6L598.7 132.8L595.2 123.6Z" fill="url(#f844)"/><path d="M566.5 134L571.5 125.8L563 124.8Z" fill="url(#f845)"/><path d="M582.2 134.3L590.8 133.6L587.2 124.6Z" fill="url(#f846)"/><path d="M531 118.9L539.6 121L536 111.2Z" fill="url(#f847)"/><path d="M523.3 116.3L528.4 109.3L519.8 106.2Z" fill="url(#f848)"/><path d="M574.2 134.7L582.8 134.2L579.2 125.4Z" fill="url(#f849)"/><path d="M558.5 133.2L563.5 124.8L555 123.8Z" fill="url(#f850)"/><path d="M566.2 133.8L574.8 134.7L571.2 125.6Z" fill="url(#f851)"/><path d="M523 116L531.6 119L528 109.1Z" fill="url(#f852)"/><path d="M550.6 132L555.6 123.9L547 122.4Z" fill="url(#f853)"/><path d="M515.3 113.1L520.4 106.4L511.8 102.9Z" fill="url(#f854)"/><path d="M558.3 133L566.8 133.9L563.3 124.7Z" fill="url(#f855)"/><path d="M542.6 130.2L547.6 122.6L539.1 120.5Z" fill="url(#f856)"/><path d="M515 112.8L523.6 116.2L520.1 106.1Z" fill="url(#f857)"/><path d="M550.3 131.8L558.8 133.1L555.3 123.7Z" fill="url(#f858)"/><path d="M534.6 128.4L539.6 120.6L531.1 118.5Z" fill="url(#f859)"/><path d="M542.3 130L550.8 131.9L547.3 122.3Z" fill="url(#f860)"/><path d="M534.3 128.1L542.9 130.1L539.3 120.4Z" fill="url(#f861)"/><path d="M526.6 125.7L531.7 118.7L523.1 115.7Z" fill="url(#f862)"/><path d="M526.3 125.5L534.9 128.3L531.4 118.4Z" fill="url(#f863)"/><path d="M518.7 122.6L523.7 115.9L515.1 112.5Z" fill="url(#f864)"/><path d="M518.4 122.4L526.9 125.6L523.4 115.6Z" fill="url(#f865)"/><g clip-path="url(#cp2)"><path d="M612 59.3L608.7 61.5L604.8 74.8Z" fill="url(#f866)"/><path d="M611.9 59.3L619.2 68.8L608.5 61.7Z" fill="url(#f867)"/><path d="M612 59.3L604.7 74.7L615.3 81.8Z" fill="url(#f868)"/><path d="M611.9 59.3L615.2 81.8L619.2 68.6Z" fill="url(#f869)"/><path d="M584.2 54.7L580 64.4L577.2 80Z" fill="url(#f870)"/><path d="M584.2 54.6L591.2 76.2L579.9 64.6Z" fill="url(#f871)"/><path d="M584.2 54.6L577 79.9L588.3 91.3Z" fill="url(#f872)"/><path d="M584.1 54.7L588.3 91.3L591.3 76.1Z" fill="url(#f873)"/><path d="M589 69.4L585.4 67.2L584 80.1Z" fill="url(#f874)"/><path d="M588.8 69.4L593.8 77.1L585.3 67.3Z" fill="url(#f875)"/><path d="M588.8 69.4L583.8 80L592.3 89.3Z" fill="url(#f876)"/><path d="M588.8 69.4L592.2 89.3L593.8 76.9Z" fill="url(#f877)"/><path d="M566.9 67.6L562.7 66.6L560.1 81.3Z" fill="url(#f878)"/><path d="M566.7 67.6L573.4 79.8L562.5 66.7Z" fill="url(#f879)"/><path d="M566.7 67.6L559.9 81.1L570.8 93.8Z" fill="url(#f880)"/><path d="M566.7 67.6L570.8 93.8L573.5 79.6Z" fill="url(#f881)"/><path d="M592.7 36.1L589.7 69L587.5 80.4Z" fill="url(#f882)"/><path d="M592.7 36.1L597.9 77.2L589.6 69Z" fill="url(#f883)"/><path d="M592.7 36.1L587.5 80.4L595.8 88.3Z" fill="url(#f884)"/><path d="M592.7 36.1L595.7 88.3L597.9 77.2Z" fill="url(#f885)"/><path d="M571.1 69.8L568.1 71.2L563.3 82.2Z" fill="url(#f886)"/><path d="M570.9 69.8L578.7 80.1L567.9 71.3Z" fill="url(#f887)"/><path d="M571 69.8L563.2 82.1L574 90.7Z" fill="url(#f888)"/><path d="M570.9 69.8L573.9 90.7L578.8 80Z" fill="url(#f889)"/><path d="M567.5 58.6L564.4 72.9L562.3 83.5Z" fill="url(#f890)"/><path d="M567.5 58.6L572.7 82.3L564.3 72.8Z" fill="url(#f891)"/><path d="M567.5 58.6L562.2 83.4L570.6 92.8Z" fill="url(#f892)"/><path d="M567.5 58.6L570.5 92.8L572.8 82.3Z" fill="url(#f893)"/><path d="M557.2 78.4L553.9 72.4L551.1 82.4Z" fill="url(#f894)"/><path d="M556.8 78.5L562.9 83L553.8 72.5Z" fill="url(#f895)"/><path d="M557 78.2L551 82.1L560.2 92.9Z" fill="url(#f896)"/><path d="M556.9 78.2L560.1 92.9L563 82.8Z" fill="url(#f897)"/><path d="M550.8 60.5L547.6 72L545.5 81.7Z" fill="url(#f898)"/><path d="M550.8 60.5L556.1 82.8L547.5 71.9Z" fill="url(#f899)"/><path d="M550.8 60.5L545.4 81.6L553.9 92Z" fill="url(#f900)"/><path d="M550.7 60.5L553.9 92L556.1 82.8Z" fill="url(#f901)"/><path d="M549 60.2L545.9 72L543.8 81.4Z" fill="url(#f902)"/><path d="M549 60.2L554.2 82.5L545.8 71.8Z" fill="url(#f903)"/><path d="M549 60.2L543.7 81.3L552.1 91.5Z" fill="url(#f904)"/><path d="M549 60.2L552 91.5L554.3 82.5Z" fill="url(#f905)"/><path d="M553.2 68.9L549.1 69.5L547.2 82.4Z" fill="url(#f906)"/><path d="M553.1 68.9L559.1 83.6L549 69.5Z" fill="url(#f907)"/><path d="M553.1 68.9L547 82.2L557.2 95.5Z" fill="url(#f908)"/><path d="M553.1 68.9L557.1 95.5L559.2 83.5Z" fill="url(#f909)"/><path d="M620.6 66.4L616.5 63.9L613.9 79.4Z" fill="url(#f910)"/><path d="M620.4 66.4L627.1 72.9L616.3 64Z" fill="url(#f911)"/><path d="M620.5 66.3L613.8 79.2L624.6 88.6Z" fill="url(#f912)"/><path d="M620.4 66.3L624.5 88.6L627.1 72.6Z" fill="url(#f913)"/><path d="M614.5 58.6L611.3 69.3L609.3 81.1Z" fill="url(#f914)"/><path d="M614.5 58.6L619.8 76.7L611.3 69.5Z" fill="url(#f915)"/><path d="M614.5 58.6L609.2 81.1L617.6 88.1Z" fill="url(#f916)"/><path d="M614.5 58.6L617.5 88.1L619.8 76.7Z" fill="url(#f917)"/><path d="M607.7 73.6L603.6 69.6L601.6 84.4Z" fill="url(#f918)"/><path d="M607.4 73.5L613.6 79.8L603.4 69.6Z" fill="url(#f919)"/><path d="M607.6 73.5L601.5 84.2L611.6 94.2Z" fill="url(#f920)"/><path d="M607.5 73.5L611.5 94.2L613.6 79.5Z" fill="url(#f921)"/><path d="M602.1 43.5L599.1 74.4L596.9 85.5Z" fill="url(#f922)"/><path d="M602.1 43.5L607.3 82L599 74.3Z" fill="url(#f923)"/><path d="M602.1 43.5L596.9 85.5L605.2 93.1Z" fill="url(#f924)"/><path d="M602.1 43.5L605.1 93.1L607.3 82Z" fill="url(#f925)"/><path d="M547.1 80.4L544.3 76.1L541.1 84.4Z" fill="url(#f926)"/><path d="M546.7 80.3L552.7 85.7L544.1 76.2Z" fill="url(#f927)"/><path d="M547 80.2L541.1 84.1L549.7 93.3Z" fill="url(#f928)"/><path d="M546.8 80.2L549.6 93.4L552.8 85.5Z" fill="url(#f929)"/><path d="M586.5 77.6L583.3 77.6L579.7 89.3Z" fill="url(#f930)"/><path d="M586.3 77.6L593.1 85.6L583.1 77.7Z" fill="url(#f931)"/><path d="M586.4 77.6L579.6 89.2L589.5 97.1Z" fill="url(#f932)"/><path d="M586.3 77.6L589.4 97.1L593.1 85.4Z" fill="url(#f933)"/><path d="M580.2 80.8L576.3 78.4L573.2 91.6Z" fill="url(#f934)"/><path d="M579.9 80.7L586.9 88.8L576.2 78.4Z" fill="url(#f935)"/><path d="M580 80.7L573 91.4L583.7 101.6Z" fill="url(#f936)"/><path d="M579.9 80.7L583.7 101.6L586.9 88.6Z" fill="url(#f937)"/><path d="M596 60.2L592.9 78.6L590.8 89.7Z" fill="url(#f938)"/><path d="M596 60.2L601.2 86.4L592.8 78.5Z" fill="url(#f939)"/><path d="M596 60.2L590.7 89.6L599.1 97.2Z" fill="url(#f940)"/><path d="M596 60.2L599 97.2L601.2 86.4Z" fill="url(#f941)"/><path d="M577.6 67L574.5 82.6L572.4 93.1Z" fill="url(#f942)"/><path d="M577.6 67L582.8 91.4L574.4 82.5Z" fill="url(#f943)"/><path d="M577.6 67L572.3 93L580.7 101.4Z" fill="url(#f944)"/><path d="M577.6 67L580.6 101.4L582.8 91.4Z" fill="url(#f945)"/><path d="M532.6 63.5L529.4 74.8L525.2 82.9Z" fill="url(#f946)"/><path d="M532.5 63.5L539.8 86.3L529.1 74.6Z" fill="url(#f947)"/><path d="M532.5 63.5L525.1 82.8L535.8 94.3Z" fill="url(#f948)"/><path d="M532.5 63.5L535.7 94.3L539.8 86.3Z" fill="url(#f949)"/><path d="M535.7 70.3L532.5 76.2L530.4 84.6Z" fill="url(#f950)"/><path d="M535.6 70.3L540.8 86.9L532.4 76.3Z" fill="url(#f951)"/><path d="M535.6 70.3L530.3 84.5L538.7 95.1Z" fill="url(#f952)"/><path d="M535.6 70.3L538.6 95.1L540.9 86.9Z" fill="url(#f953)"/><path d="M530.5 74.3L527.4 75.1L524 83.1Z" fill="url(#f954)"/><path d="M530.3 74.2L536.7 86.3L527.2 75.2Z" fill="url(#f955)"/><path d="M530.4 74.2L523.9 82.9L533.4 93.7Z" fill="url(#f956)"/><path d="M530.3 74.2L533.3 93.7L536.8 86.2Z" fill="url(#f957)"/><path d="M583.7 89.3L580.6 85.7L577.4 96Z" fill="url(#f958)"/><path d="M583.3 89.3L589.7 93.3L580.5 85.8Z" fill="url(#f959)"/><path d="M583.5 89.2L577.3 95.9L586.5 103.7Z" fill="url(#f960)"/><path d="M583.4 89.2L586.4 103.7L589.7 93.1Z" fill="url(#f961)"/><path d="M624.9 69.9L621 74.3L618.9 88.6Z" fill="url(#f962)"/><path d="M624.7 69.9L630.7 82.5L620.8 74.4Z" fill="url(#f963)"/><path d="M624.8 69.9L618.8 88.5L628.6 97.1Z" fill="url(#f964)"/><path d="M624.7 69.9L628.5 97.1L630.7 82.3Z" fill="url(#f965)"/><path d="M575.7 80.8L572.9 87.9L570.4 97.4Z" fill="url(#f966)"/><path d="M575.6 80.8L580.9 95.7L572.7 88Z" fill="url(#f967)"/><path d="M575.6 80.8L570.3 97.3L578.3 104.5Z" fill="url(#f968)"/><path d="M575.6 80.8L578.3 104.5L580.9 95.7Z" fill="url(#f969)"/><path d="M607 83.3L603.1 80.3L601 94Z" fill="url(#f970)"/><path d="M606.8 83.3L612.8 89.8L603 80.4Z" fill="url(#f971)"/><path d="M606.9 83.3L600.8 93.9L610.7 103.3Z" fill="url(#f972)"/><path d="M606.8 83.3L610.6 103.3L612.8 89.5Z" fill="url(#f973)"/><path d="M582.8 91.7L578.8 85.3L576.1 98.2Z" fill="url(#f974)"/><path d="M582.4 91.9L589 95.6L578.7 85.4Z" fill="url(#f975)"/><path d="M582.6 91.5L576 98L586.4 108.1Z" fill="url(#f976)"/><path d="M582.5 91.5L586.3 108.1L589 95.3Z" fill="url(#f977)"/><path d="M588.6 51.8L585.6 87.5L583.4 98.1Z" fill="url(#f978)"/><path d="M588.6 51.8L593.8 95.1L585.5 87.5Z" fill="url(#f979)"/><path d="M588.6 51.8L583.4 98.1L591.7 105.6Z" fill="url(#f980)"/><path d="M588.6 51.8L591.6 105.7L593.8 95.1Z" fill="url(#f981)"/><path d="M546.9 89L543.5 83.5L541 93Z" fill="url(#f982)"/><path d="M546.5 88.9L552.4 94.4L543.4 83.6Z" fill="url(#f983)"/><path d="M546.7 88.7L540.9 92.7L549.9 103.1Z" fill="url(#f984)"/><path d="M546.6 88.7L549.9 103.1L552.4 94.2Z" fill="url(#f985)"/><path d="M545.5 88.7L541.4 81.1L540 92.7Z" fill="url(#f986)"/><path d="M545.2 88.8L550.6 94.1L541.3 81.1Z" fill="url(#f987)"/><path d="M545.3 88.4L539.9 92.4L549.2 104.9Z" fill="url(#f988)"/><path d="M545.2 88.4L549.2 104.9L550.7 93.9Z" fill="url(#f989)"/><path d="M532.2 65.5L528.5 78.3L524.4 87.4Z" fill="url(#f990)"/><path d="M532.1 65.5L539.9 91.3L528.2 78.1Z" fill="url(#f991)"/><path d="M532.1 65.5L524.3 87.3L535.8 100.2Z" fill="url(#f992)"/><path d="M532.1 65.5L535.8 100.2L539.9 91.3Z" fill="url(#f993)"/><path d="M626.3 53.5L623.3 79.4L621.1 90.8Z" fill="url(#f994)"/><path d="M626.3 53.5L631.5 85.3L623.2 79.4Z" fill="url(#f995)"/><path d="M626.3 53.5L621.1 90.8L629.4 97.4Z" fill="url(#f996)"/><path d="M626.3 53.5L629.3 97.4L631.5 85.3Z" fill="url(#f997)"/><path d="M620.2 85.3L615.9 77.9L612.2 93.8Z" fill="url(#f998)"/><path d="M619.9 85.5L627.9 86.7L615.8 78Z" fill="url(#f999)"/><path d="M620 85.2L612.1 93.6L624.2 102.5Z" fill="url(#f1000)"/><path d="M619.9 85.2L624.1 102.5L627.8 86.4Z" fill="url(#f1001)"/><path d="M627.7 81.8L624 77.6L620.8 91.5Z" fill="url(#f1002)"/><path d="M627.3 82L634.3 84.1L623.9 77.6Z" fill="url(#f1003)"/><path d="M627.5 81.7L620.7 91.3L631.1 98.5Z" fill="url(#f1004)"/><path d="M627.4 81.7L631 98.5L634.2 83.9Z" fill="url(#f1005)"/><path d="M621.3 70.3L617.1 78.3L614.4 93.9Z" fill="url(#f1006)"/><path d="M621.2 70.3L628.1 87.6L616.9 78.5Z" fill="url(#f1007)"/><path d="M621.2 70.3L614.3 93.8L625.4 103Z" fill="url(#f1008)"/><path d="M621.2 70.3L625.3 103L628.2 87.4Z" fill="url(#f1009)"/><path d="M597.7 86.6L594 86L591.2 99.4Z" fill="url(#f1010)"/><path d="M597.5 86.6L604.1 95.4L593.8 86.1Z" fill="url(#f1011)"/><path d="M597.6 86.6L591.1 99.3L601.3 108Z" fill="url(#f1012)"/><path d="M597.5 86.6L601.3 108L604.1 95.2Z" fill="url(#f1013)"/><path d="M609.2 80.4L605.5 84.1L603 97.3Z" fill="url(#f1014)"/><path d="M609.1 80.4L615.4 92.7L605.4 84.2Z" fill="url(#f1015)"/><path d="M609.2 80.4L602.8 97.2L612.8 105.9Z" fill="url(#f1016)"/><path d="M609.1 80.4L612.8 105.9L615.5 92.5Z" fill="url(#f1017)"/><path d="M539.5 73L535.6 85L531.6 94.4Z" fill="url(#f1018)"/><path d="M539.4 73L547.2 97.8L535.4 84.8Z" fill="url(#f1019)"/><path d="M539.4 73L531.5 94.3L543.3 107.5Z" fill="url(#f1020)"/><path d="M539.4 73L543.2 107.5L547.2 97.8Z" fill="url(#f1021)"/><path d="M563.1 59.6L560.1 93.5L557.9 102Z" fill="url(#f1022)"/><path d="M563.1 59.6L568.3 102.8L560 93.5Z" fill="url(#f1023)"/><path d="M563.1 59.6L557.9 102L566.2 111.4Z" fill="url(#f1024)"/><path d="M563.1 59.6L566.1 111.4L568.3 102.8Z" fill="url(#f1025)"/><path d="M606.3 87.7L603.2 91.2L600.5 102.3Z" fill="url(#f1026)"/><path d="M606.2 87.7L612.1 98.5L603.1 91.4Z" fill="url(#f1027)"/><path d="M606.3 87.7L600.4 102.2L609.4 109.2Z" fill="url(#f1028)"/><path d="M606.2 87.7L609.3 109.2L612.1 98.4Z" fill="url(#f1029)"/><path d="M553.8 94.3L549.7 89.4L548.7 100.8Z" fill="url(#f1030)"/><path d="M553.6 94.1L558.6 102.1L549.6 89.5Z" fill="url(#f1031)"/><path d="M553.6 94.1L548.6 100.6L557.6 112.5Z" fill="url(#f1032)"/><path d="M553.6 94.1L557.5 112.5L558.7 101.9Z" fill="url(#f1033)"/><path d="M627 68.6L623.9 86.5L621.8 97.7Z" fill="url(#f1034)"/><path d="M627 68.6L632.2 92.4L623.8 86.4Z" fill="url(#f1035)"/><path d="M627 68.6L621.7 97.7L630.1 104.3Z" fill="url(#f1036)"/><path d="M627 68.6L630 104.3L632.3 92.4Z" fill="url(#f1037)"/><path d="M599.3 92.6L595.3 91L592.5 104.6Z" fill="url(#f1038)"/><path d="M599 92.6L605.8 100.5L595.2 91Z" fill="url(#f1039)"/><path d="M599.1 92.6L592.4 104.5L603 113.3Z" fill="url(#f1040)"/><path d="M599 92.6L602.9 113.4L605.8 100.3Z" fill="url(#f1041)"/><path d="M624.3 88.7L620.5 85.8L616.5 99.8Z" fill="url(#f1042)"/><path d="M623.9 88.7L631.8 92.6L620.4 85.9Z" fill="url(#f1043)"/><path d="M624.1 88.6L616.4 99.7L627.8 107Z" fill="url(#f1044)"/><path d="M624 88.6L627.7 107.1L631.7 92.4Z" fill="url(#f1045)"/><path d="M623.4 90.6L619.1 84.6L616.1 99.9Z" fill="url(#f1046)"/><path d="M623.1 90.8L630.3 93.4L619 84.7Z" fill="url(#f1047)"/><path d="M623.2 90.5L616 99.7L627.3 108.7Z" fill="url(#f1048)"/><path d="M623.1 90.5L627.2 108.7L630.3 93.2Z" fill="url(#f1049)"/><path d="M563.7 95.7L560.7 95.9L557.8 104Z" fill="url(#f1050)"/><path d="M563.5 95.7L569.3 104.9L560.5 96Z" fill="url(#f1051)"/><path d="M563.6 95.6L557.7 103.8L566.5 112.9Z" fill="url(#f1052)"/><path d="M563.5 95.7L566.4 112.9L569.4 104.8Z" fill="url(#f1053)"/><path d="M621.5 94.5L617.4 88.1L614.6 102.9Z" fill="url(#f1054)"/><path d="M621.2 94.7L628.1 97.1L617.2 88.2Z" fill="url(#f1055)"/><path d="M621.3 94.3L614.4 102.7L625.3 111.4Z" fill="url(#f1056)"/><path d="M621.2 94.3L625.2 111.4L628.1 96.8Z" fill="url(#f1057)"/><path d="M557.4 85.1L554.4 96.9L550 104.7Z" fill="url(#f1058)"/><path d="M557.3 85.1L564.6 106.7L554.1 96.8Z" fill="url(#f1059)"/><path d="M557.3 85.1L549.9 104.6L560.3 114.1Z" fill="url(#f1060)"/><path d="M557.2 85.1L560.3 114.1L564.6 106.7Z" fill="url(#f1061)"/><path d="M572.4 94.5L569.1 98.8L566.1 108.7Z" fill="url(#f1062)"/><path d="M572.3 94.5L578.6 107.8L568.9 98.9Z" fill="url(#f1063)"/><path d="M572.3 94.5L566 108.5L575.6 117.4Z" fill="url(#f1064)"/><path d="M572.3 94.5L575.6 117.4L578.7 107.7Z" fill="url(#f1065)"/><path d="M571.3 96.5L568.2 99.5L564.3 108.6Z" fill="url(#f1066)"/><path d="M571.2 96.5L578.2 108L568 99.6Z" fill="url(#f1067)"/><path d="M571.3 96.5L564.2 108.5L574.4 117.2Z" fill="url(#f1068)"/><path d="M571.2 96.5L574.3 117.2L578.3 107.9Z" fill="url(#f1069)"/><path d="M575.4 91.3L571.7 99.3L570.3 110Z" fill="url(#f1070)"/><path d="M575.3 91.3L580.5 109L571.7 99.5Z" fill="url(#f1071)"/><path d="M575.4 91.3L570.2 109.9L578.9 119.1Z" fill="url(#f1072)"/><path d="M575.3 91.3L578.8 119.1L580.5 108.9Z" fill="url(#f1073)"/><path d="M566.5 89L563.7 101.4L561.6 108.7Z" fill="url(#f1074)"/><path d="M566.5 89L571.3 109.2L563.6 101.3Z" fill="url(#f1075)"/><path d="M566.5 89L561.5 108.6L569.3 116.9Z" fill="url(#f1076)"/><path d="M566.4 89L569.2 116.9L571.4 109.2Z" fill="url(#f1077)"/><path d="M619.7 79.8L615.9 91.8L613.4 105.6Z" fill="url(#f1078)"/><path d="M619.7 79.8L626.1 100.3L615.8 92Z" fill="url(#f1079)"/><path d="M619.7 79.8L613.3 105.6L623.4 113.6Z" fill="url(#f1080)"/><path d="M619.6 79.8L623.4 113.6L626.1 100.3Z" fill="url(#f1081)"/><path d="M553.3 99.6L549.7 96L545.5 105.3Z" fill="url(#f1082)"/><path d="M552.9 99.5L560.7 107.3L549.5 96Z" fill="url(#f1083)"/><path d="M553.1 99.4L545.4 105.1L556.6 115.8Z" fill="url(#f1084)"/><path d="M553 99.4L556.5 115.8L560.8 107.1Z" fill="url(#f1085)"/><path d="M606.2 100.9L602.1 94.8L598.6 108.8Z" fill="url(#f1086)"/><path d="M605.9 101.1L613.5 104.1L602 94.9Z" fill="url(#f1087)"/><path d="M606 100.8L598.5 108.6L610 117.6Z" fill="url(#f1088)"/><path d="M605.9 100.8L609.9 117.6L613.5 103.9Z" fill="url(#f1089)"/><path d="M573.7 100.8L569.7 98.7L567.6 110.4Z" fill="url(#f1090)"/><path d="M573.5 100.7L579.6 109.5L569.5 98.8Z" fill="url(#f1091)"/><path d="M573.6 100.7L567.4 110.2L577.5 120.7Z" fill="url(#f1092)"/><path d="M573.5 100.7L577.4 120.7L579.7 109.3Z" fill="url(#f1093)"/><path d="M545 99.9L541.1 94.7L539 104.1Z" fill="url(#f1094)"/><path d="M544.6 99.8L550.6 106.3L541 94.7Z" fill="url(#f1095)"/><path d="M544.8 99.7L538.9 103.8L548.4 115.6Z" fill="url(#f1096)"/><path d="M544.7 99.7L548.4 115.6L550.6 106.1Z" fill="url(#f1097)"/><path d="M569.1 94.9L566.4 103L562.1 110.5Z" fill="url(#f1098)"/><path d="M569 94.8L575.9 110.8L566 102.9Z" fill="url(#f1099)"/><path d="M569 94.8L562.1 110.4L571.9 118.8Z" fill="url(#f1100)"/><path d="M568.9 94.9L571.8 118.8L575.9 110.8Z" fill="url(#f1101)"/><path d="M605.4 80.4L602.4 99.5L600.2 109.8Z" fill="url(#f1102)"/><path d="M605.4 80.4L610.6 106.7L602.2 99.5Z" fill="url(#f1103)"/><path d="M605.4 80.4L600.1 109.8L608.5 116.8Z" fill="url(#f1104)"/><path d="M605.4 80.4L608.4 116.8L610.6 106.7Z" fill="url(#f1105)"/><path d="M557.5 97.8L554 99.7L550.1 108.9Z" fill="url(#f1106)"/><path d="M557.3 97.7L564.7 110.8L553.8 99.8Z" fill="url(#f1107)"/><path d="M557.4 97.7L550 108.7L560.9 119.2Z" fill="url(#f1108)"/><path d="M557.3 97.7L560.8 119.2L564.7 110.7Z" fill="url(#f1109)"/><path d="M598.2 100.3L594.5 102.2L591.9 114.6Z" fill="url(#f1110)"/><path d="M598.1 100.2L604.4 110.9L594.4 102.3Z" fill="url(#f1111)"/><path d="M598.2 100.2L591.8 114.4L601.8 122.6Z" fill="url(#f1112)"/><path d="M598.1 100.2L601.7 122.6L604.5 110.7Z" fill="url(#f1113)"/><path d="M604.8 103.8L600.9 100.7L599.1 113.2Z" fill="url(#f1114)"/><path d="M604.5 103.7L610.2 109.9L600.8 100.7Z" fill="url(#f1115)"/><path d="M604.6 103.7L598.9 113L608.4 121.8Z" fill="url(#f1116)"/><path d="M604.5 103.7L608.3 121.8L610.3 109.7Z" fill="url(#f1117)"/><path d="M544.7 100.2L540.8 97.4L536.9 106.4Z" fill="url(#f1118)"/><path d="M544.4 100.1L552.2 109.5L540.7 97.4Z" fill="url(#f1119)"/><path d="M544.5 100.1L536.8 106.2L548.3 118.7Z" fill="url(#f1120)"/><path d="M544.4 100.1L548.2 118.7L552.2 109.4Z" fill="url(#f1121)"/><path d="M572.2 95.6L568.5 104.7L565.3 114.7Z" fill="url(#f1122)"/><path d="M572.1 95.5L579.1 114.4L568.4 104.8Z" fill="url(#f1123)"/><path d="M572.2 95.5L565.2 114.6L575.8 124.4Z" fill="url(#f1124)"/><path d="M572.1 95.5L575.7 124.4L579.1 114.4Z" fill="url(#f1125)"/><path d="M553.4 90.6L550.6 103.5L546.7 110.6Z" fill="url(#f1126)"/><path d="M553.3 90.6L560 112.4L550.4 103.4Z" fill="url(#f1127)"/><path d="M553.4 90.6L546.6 110.5L556.2 119.2Z" fill="url(#f1128)"/><path d="M553.3 90.6L556.2 119.2L560 112.4Z" fill="url(#f1129)"/><path d="M574.6 106.2L570.7 105.5L568.7 116.3Z" fill="url(#f1130)"/><path d="M574.4 106.1L580.3 115.5L570.6 105.6Z" fill="url(#f1131)"/><path d="M574.5 106.1L568.6 116.1L578.2 125.7Z" fill="url(#f1132)"/><path d="M574.4 106.1L578.2 125.8L580.4 115.4Z" fill="url(#f1133)"/><path d="M604.9 102.9L600.9 102.6L598.2 116Z" fill="url(#f1134)"/><path d="M604.7 102.9L611.5 112.1L600.7 102.6Z" fill="url(#f1135)"/><path d="M604.8 102.9L598.1 115.8L608.8 124.8Z" fill="url(#f1136)"/><path d="M604.7 102.9L608.7 124.8L611.5 111.9Z" fill="url(#f1137)"/><path d="M619 106.1L616 102.8L613.7 113.1Z" fill="url(#f1138)"/><path d="M618.6 106.2L624 109L615.9 102.9Z" fill="url(#f1139)"/><path d="M618.8 106L613.5 112.9L621.7 119Z" fill="url(#f1140)"/><path d="M618.7 106L621.6 119L624 108.7Z" fill="url(#f1141)"/><path d="M605 94L601.9 107.1L598.9 117.2Z" fill="url(#f1142)"/><path d="M604.9 94L611 113.8L601.7 107Z" fill="url(#f1143)"/><path d="M604.9 94L598.8 117.2L608 123.8Z" fill="url(#f1144)"/><path d="M604.9 94L607.9 123.8L611 113.8Z" fill="url(#f1145)"/><path d="M580.3 102.8L577.2 110L574.4 119Z" fill="url(#f1146)"/><path d="M580.2 102.8L586.1 117.7L577 110.2Z" fill="url(#f1147)"/><path d="M580.3 102.8L574.3 118.9L583.3 126.3Z" fill="url(#f1148)"/><path d="M580.2 102.8L583.3 126.3L586.2 117.7Z" fill="url(#f1149)"/><path d="M626.4 92.1L622.5 100.7L621.3 113.8Z" fill="url(#f1150)"/><path d="M626.3 92.1L631.3 109.7L622.4 100.9Z" fill="url(#f1151)"/><path d="M626.3 92.1L621.2 113.7L630.1 122.3Z" fill="url(#f1152)"/><path d="M626.3 92.1L630 122.3L631.4 109.7Z" fill="url(#f1153)"/><path d="M537.2 91.5L534.1 101.3L531.3 108.4Z" fill="url(#f1154)"/><path d="M537.1 91.5L543 111.4L533.9 101.1Z" fill="url(#f1155)"/><path d="M537.1 91.5L531.2 108.3L540.2 118.3Z" fill="url(#f1156)"/><path d="M537.1 91.5L540.1 118.3L543 111.4Z" fill="url(#f1157)"/><path d="M582.6 93.8L579.5 110.8L577.4 119.6Z" fill="url(#f1158)"/><path d="M582.6 93.8L587.8 118.3L579.4 110.8Z" fill="url(#f1159)"/><path d="M582.6 93.8L577.3 119.6L585.7 126.9Z" fill="url(#f1160)"/><path d="M582.6 93.8L585.6 126.9L587.8 118.3Z" fill="url(#f1161)"/><path d="M555.8 97.2L552.6 107.6L550.5 115.3Z" fill="url(#f1162)"/><path d="M555.7 97.2L560.9 116.7L552.5 107.4Z" fill="url(#f1163)"/><path d="M555.7 97.2L550.4 115.3L558.8 124.2Z" fill="url(#f1164)"/><path d="M555.7 97.2L558.7 124.2L561 116.7Z" fill="url(#f1165)"/><path d="M553.9 108.7L550.3 106L545.9 114.7Z" fill="url(#f1166)"/><path d="M553.6 108.6L561.5 117L550.1 106.1Z" fill="url(#f1167)"/><path d="M553.7 108.6L545.9 114.5L557.2 125.3Z" fill="url(#f1168)"/><path d="M553.6 108.6L557.1 125.3L561.5 116.8Z" fill="url(#f1169)"/><path d="M539.8 89.6L536.8 103.9L533.6 110.6Z" fill="url(#f1170)"/><path d="M539.8 89.5L546 113.8L536.6 103.7Z" fill="url(#f1171)"/><path d="M539.8 89.5L533.5 110.6L542.8 120.4Z" fill="url(#f1172)"/><path d="M539.8 89.5L542.8 120.4L546 113.8Z" fill="url(#f1173)"/><path d="M554.5 100.9L551.5 109.7L548.8 117.1Z" fill="url(#f1174)"/><path d="M554.5 100.9L560.2 118.5L551.3 109.5Z" fill="url(#f1175)"/><path d="M554.5 100.9L548.7 117L557.5 125.7Z" fill="url(#f1176)"/><path d="M554.4 100.9L557.4 125.7L560.2 118.5Z" fill="url(#f1177)"/><path d="M600.8 109.5L597.6 111.7L595.3 122Z" fill="url(#f1178)"/><path d="M600.7 109.5L606.2 119L597.5 111.8Z" fill="url(#f1179)"/><path d="M600.7 109.5L595.2 121.9L603.9 128.8Z" fill="url(#f1180)"/><path d="M600.7 109.5L603.8 128.8L606.3 118.8Z" fill="url(#f1181)"/><path d="M543 82.1L540 107.4L537.8 114.5Z" fill="url(#f1182)"/><path d="M543 82.1L548.2 117.2L539.9 107.4Z" fill="url(#f1183)"/><path d="M543 82.1L537.7 114.5L546.1 124.2Z" fill="url(#f1184)"/><path d="M543 82.1L546 124.2L548.2 117.2Z" fill="url(#f1185)"/><path d="M604.6 114.5L600.6 110.7L598.2 123.1Z" fill="url(#f1186)"/><path d="M604.2 114.5L610.8 119.6L600.5 110.7Z" fill="url(#f1187)"/><path d="M604.4 114.4L598 122.9L608.3 131.6Z" fill="url(#f1188)"/><path d="M604.3 114.4L608.2 131.6L610.8 119.4Z" fill="url(#f1189)"/><path d="M594.3 107.1L590.4 113.1L586.7 124.8Z" fill="url(#f1190)"/><path d="M594.2 107.1L601.8 121.9L590.2 113.3Z" fill="url(#f1191)"/><path d="M594.3 107.1L586.6 124.6L598.2 134.2Z" fill="url(#f1192)"/><path d="M594.2 107.1L598.1 134.2L601.9 121.8Z" fill="url(#f1193)"/><path d="M588.6 115.9L584.5 113.5L581.3 125.1Z" fill="url(#f1194)"/><path d="M588.3 115.8L595.7 123.2L584.4 113.6Z" fill="url(#f1195)"/><path d="M588.5 115.8L581.1 124.9L592.4 134.5Z" fill="url(#f1196)"/><path d="M588.4 115.8L592.4 134.5L595.7 123Z" fill="url(#f1197)"/><path d="M553 112.4L549 109.8L545.9 119.3Z" fill="url(#f1198)"/><path d="M552.8 112.3L559.8 121.4L548.9 109.8Z" fill="url(#f1199)"/><path d="M552.9 112.3L545.8 119.1L556.7 130.8Z" fill="url(#f1200)"/><path d="M552.8 112.3L556.6 130.8L559.9 121.3Z" fill="url(#f1201)"/><path d="M541.1 105.5L536.7 108.1L533.2 118.1Z" fill="url(#f1202)"/><path d="M540.9 105.5L548.7 121.9L536.6 108.1Z" fill="url(#f1203)"/><path d="M540.9 105.5L533 117.9L545.2 131.5Z" fill="url(#f1204)"/><path d="M540.9 105.5L545.1 131.5L548.8 121.9Z" fill="url(#f1205)"/><path d="M546.2 115.4L542.3 112L540.8 121.3Z" fill="url(#f1206)"/><path d="M545.9 115.2L551.2 123.7L542.2 112.1Z" fill="url(#f1207)"/><path d="M546 115.2L540.7 121L549.8 132.7Z" fill="url(#f1208)"/><path d="M545.9 115.2L549.7 132.7L551.3 123.5Z" fill="url(#f1209)"/></g><text x="489" y="65.5" font-size="6.3" text-anchor="end" font-weight="bold" fill="#2a2a2a">-10</text><text x="489" y="43.2" font-size="6.3" text-anchor="end" font-weight="bold" fill="#2a2a2a">-5</text><text x="489" y="21" font-size="6.3" text-anchor="end" font-weight="bold" fill="#2a2a2a">0</text><text x="510.4" y="158.9" font-size="6.3" text-anchor="middle" font-weight="bold" fill="#2a2a2a">0</text><text x="502.8" y="137.1" font-size="6.3" text-anchor="middle" font-weight="bold" fill="#2a2a2a">2</text><text x="495.3" y="115.2" font-size="6.3" text-anchor="middle" font-weight="bold" fill="#2a2a2a">4</text><text x="487.7" y="93.4" font-size="6.3" text-anchor="middle" font-weight="bold" fill="#2a2a2a">6</text><text x="518.6" y="163.1" font-size="6.3" font-weight="bold" fill="#2a2a2a">0</text><text x="561.6" y="158" font-size="6.3" font-weight="bold" fill="#2a2a2a">5</text><text x="604.5" y="152.9" font-size="6.3" font-weight="bold" fill="#2a2a2a">10</text><text x="647.5" y="147.7" font-size="6.3" font-weight="bold" fill="#2a2a2a">15</text><text x="484.1" y="150.2" font-size="7" text-anchor="middle" font-weight="bold" fill="#222">Y [mm]</text><text x="581" y="166" font-size="7" text-anchor="middle" font-weight="bold" fill="#222">X [mm]</text><text x="0" y="0" font-size="10.3" font-weight="bold" text-anchor="middle" fill="#000" transform="translate(469.6 78.4) rotate(-90)">Growth Rate [mm/min]</text><text x="473.4" y="13.5" font-size="5.8" fill="#262626"><tspan font-size="7.6">&#215;</tspan>10<tspan dy="-3" font-size="4.6">-3</tspan></text><rect x="661.9" y="9.2" width="6.6" height="141.7" fill="url(#cb)" stroke="#262626" stroke-width="0.3"/><line x1="661.9" y1="9.2" x2="663.1" y2="9.2" stroke="#262626" stroke-width="0.4"/><line x1="667.3" y1="9.2" x2="668.5" y2="9.2" stroke="#262626" stroke-width="0.4"/><text x="670.1" y="11.3" font-size="5.9" font-weight="bold" fill="#2a2a2a">0</text><line x1="661.9" y1="33.6" x2="663.1" y2="33.6" stroke="#262626" stroke-width="0.4"/><line x1="667.3" y1="33.6" x2="668.5" y2="33.6" stroke="#262626" stroke-width="0.4"/><text x="670.1" y="35.7" font-size="5.9" font-weight="bold" fill="#2a2a2a">-2</text><line x1="661.9" y1="57.9" x2="663.1" y2="57.9" stroke="#262626" stroke-width="0.4"/><line x1="667.3" y1="57.9" x2="668.5" y2="57.9" stroke="#262626" stroke-width="0.4"/><text x="670.1" y="60" font-size="5.9" font-weight="bold" fill="#2a2a2a">-4</text><line x1="661.9" y1="82.3" x2="663.1" y2="82.3" stroke="#262626" stroke-width="0.4"/><line x1="667.3" y1="82.3" x2="668.5" y2="82.3" stroke="#262626" stroke-width="0.4"/><text x="670.1" y="84.4" font-size="5.9" font-weight="bold" fill="#2a2a2a">-6</text><line x1="661.9" y1="106.7" x2="663.1" y2="106.7" stroke="#262626" stroke-width="0.4"/><line x1="667.3" y1="106.7" x2="668.5" y2="106.7" stroke="#262626" stroke-width="0.4"/><text x="670.1" y="108.8" font-size="5.9" font-weight="bold" fill="#2a2a2a">-8</text><line x1="661.9" y1="131" x2="663.1" y2="131" stroke="#262626" stroke-width="0.4"/><line x1="667.3" y1="131" x2="668.5" y2="131" stroke="#262626" stroke-width="0.4"/><text x="670.1" y="133.1" font-size="5.9" font-weight="bold" fill="#2a2a2a">-10</text><text x="669.5" y="160.5" font-size="5.8" fill="#262626"><tspan font-size="7.6">&#215;</tspan>10<tspan dy="-3" font-size="4.6">-3</tspan></text><text x="498.4" y="22" font-size="11.5" font-weight="bold" fill="#000">(c) <tspan font-style="italic">t = 37.5 min (75)</tspan></text><line x1="31.5" y1="233.9" x2="165.2" y2="218.2" stroke="#e3e3e3" stroke-width="0.5"/><line x1="31.5" y1="211.8" x2="165.2" y2="196.1" stroke="#e3e3e3" stroke-width="0.5"/><line x1="31.5" y1="189.7" x2="165.2" y2="174" stroke="#e3e3e3" stroke-width="0.5"/><line x1="31.5" y1="242.7" x2="31.5" y2="189.7" stroke="#e3e3e3" stroke-width="0.5"/><line x1="74.8" y1="237.6" x2="74.8" y2="184.6" stroke="#e3e3e3" stroke-width="0.5"/><line x1="118.1" y1="232.5" x2="118.1" y2="179.5" stroke="#e3e3e3" stroke-width="0.5"/><line x1="161.5" y1="227.4" x2="161.5" y2="174.4" stroke="#e3e3e3" stroke-width="0.5"/><line x1="192.4" y1="295.2" x2="165.2" y2="218.2" stroke="#e3e3e3" stroke-width="0.5"/><line x1="192.4" y1="273.1" x2="165.2" y2="196.1" stroke="#e3e3e3" stroke-width="0.5"/><line x1="192.4" y1="251" x2="165.2" y2="174" stroke="#e3e3e3" stroke-width="0.5"/><line x1="192.4" y1="304" x2="192.4" y2="251" stroke="#e3e3e3" stroke-width="0.5"/><line x1="184.6" y1="282" x2="184.6" y2="229" stroke="#e3e3e3" stroke-width="0.5"/><line x1="176.9" y1="260" x2="176.9" y2="207" stroke="#e3e3e3" stroke-width="0.5"/><line x1="169.1" y1="238" x2="169.1" y2="185" stroke="#e3e3e3" stroke-width="0.5"/><line x1="58.7" y1="319.7" x2="31.5" y2="242.7" stroke="#e3e3e3" stroke-width="0.5"/><line x1="102" y1="314.6" x2="74.8" y2="237.6" stroke="#e3e3e3" stroke-width="0.5"/><line x1="145.3" y1="309.5" x2="118.1" y2="232.5" stroke="#e3e3e3" stroke-width="0.5"/><line x1="188.7" y1="304.4" x2="161.5" y2="227.4" stroke="#e3e3e3" stroke-width="0.5"/><line x1="58.7" y1="319.7" x2="192.4" y2="304" stroke="#e3e3e3" stroke-width="0.5"/><line x1="50.9" y1="297.7" x2="184.6" y2="282" stroke="#e3e3e3" stroke-width="0.5"/><line x1="43.2" y1="275.7" x2="176.9" y2="260" stroke="#e3e3e3" stroke-width="0.5"/><line x1="35.4" y1="253.7" x2="169.1" y2="238" stroke="#e3e3e3" stroke-width="0.5"/><line x1="31.5" y1="242.7" x2="31.5" y2="189.7" stroke="#9a9a9a" stroke-width="0.6"/><line x1="58.7" y1="319.7" x2="31.5" y2="242.7" stroke="#9a9a9a" stroke-width="0.6"/><line x1="58.7" y1="319.7" x2="192.4" y2="304" stroke="#9a9a9a" stroke-width="0.6"/><line x1="58.7" y1="319.7" x2="59.6" y2="322.5" stroke="#9a9a9a" stroke-width="0.6"/><line x1="102" y1="314.6" x2="102.9" y2="317.4" stroke="#9a9a9a" stroke-width="0.6"/><line x1="145.3" y1="309.5" x2="146.2" y2="312.3" stroke="#9a9a9a" stroke-width="0.6"/><line x1="188.7" y1="304.4" x2="189.6" y2="307.2" stroke="#9a9a9a" stroke-width="0.6"/><line x1="58.7" y1="319.7" x2="55.7" y2="320" stroke="#9a9a9a" stroke-width="0.6"/><line x1="50.9" y1="297.7" x2="47.9" y2="298" stroke="#9a9a9a" stroke-width="0.6"/><line x1="43.2" y1="275.7" x2="40.2" y2="276" stroke="#9a9a9a" stroke-width="0.6"/><line x1="35.4" y1="253.7" x2="32.4" y2="254" stroke="#9a9a9a" stroke-width="0.6"/><polygon points="60,289 68,291.7 76.1,293.9 84.1,295.8 92.2,297.6 100.2,298.8 108.3,299.9 116.3,300.8 124.3,300.6 132.4,300.3 140.4,299.5 148.5,297.7 156.5,295.9 164.5,293.3 172.6,290.3 180.6,286 188.7,280.1 185.3,270.8 181.9,261.5 178.5,252.1 175.1,242.7 171.7,233.3 168.3,223.8 164.9,214.3 161.5,204.8 153.4,209.2 145.4,212.5 137.3,215.1 129.3,217 121.3,218.9 113.2,220.4 105.2,220.9 97.1,221.5 89.1,221.4 81.1,220.9 73,220.3 65,218.8 56.9,217.2 48.9,215.4 40.8,212.7 32.8,210 36.2,219.9 39.6,229.8 43,239.7 46.4,249.6 49.8,259.5 53.2,269.3 56.6,279.2 60,289" fill="#2b92ee"/><path d="M140.7 226L145.6 212.2L137.1 214.9Z" fill="url(#f1210)"/><path d="M148.8 223.1L153.6 209L145.1 212.3Z" fill="url(#f1211)"/><path d="M132.7 228.1L137.6 214.9L129 216.8Z" fill="url(#f1212)"/><path d="M156.8 219.5L161.7 204.6L153.1 209.1Z" fill="url(#f1213)"/><path d="M124.6 230.2L129.5 216.7L121 218.7Z" fill="url(#f1214)"/><path d="M116.6 231.9L121.5 218.6L113 220.1Z" fill="url(#f1215)"/><path d="M108.6 232.7L113.5 220.1L104.9 220.7Z" fill="url(#f1216)"/><path d="M140.5 225.9L149.1 222.9L145.4 212.2Z" fill="url(#f1217)"/><path d="M132.5 228L141 225.8L137.4 214.8Z" fill="url(#f1218)"/><path d="M100.5 233.4L105.4 220.7L96.9 221.2Z" fill="url(#f1219)"/><path d="M148.6 223L157.1 219.3L153.5 208.9Z" fill="url(#f1220)"/><path d="M124.4 230.1L133 228L129.3 216.7Z" fill="url(#f1221)"/><path d="M116.4 231.8L124.9 230.1L121.3 218.5Z" fill="url(#f1222)"/><path d="M156.6 219.4L165.2 214.5L161.5 204.5Z" fill="url(#f1223)"/><path d="M92.5 233.1L97.4 221.2L88.8 221.1Z" fill="url(#f1224)"/><path d="M108.3 232.6L116.9 231.8L113.2 220Z" fill="url(#f1225)"/><path d="M100.3 233.3L108.8 232.6L105.2 220.6Z" fill="url(#f1226)"/><path d="M84.4 232.3L89.4 221.2L80.8 220.6Z" fill="url(#f1227)"/><path d="M92.2 233L100.8 233.3L97.2 221.1Z" fill="url(#f1228)"/><path d="M76.4 231.5L81.3 220.6L72.8 220.1Z" fill="url(#f1229)"/><path d="M84.2 232.2L92.7 233L89.1 221Z" fill="url(#f1230)"/><path d="M144.1 236.3L149 222.5L140.5 225.4Z" fill="url(#f1231)"/><path d="M136.1 238.8L141 225.3L132.4 227.6Z" fill="url(#f1232)"/><path d="M152.2 233.2L157 218.8L148.5 222.6Z" fill="url(#f1233)"/><path d="M128 241L132.9 227.5L124.4 229.6Z" fill="url(#f1234)"/><path d="M68.3 229.9L73.3 220.1L64.7 218.6Z" fill="url(#f1235)"/><path d="M160.2 229.3L165.1 214.1L156.5 219Z" fill="url(#f1236)"/><path d="M120 242.9L124.9 229.6L116.3 231.3Z" fill="url(#f1237)"/><path d="M76.1 231.4L84.7 232.2L81.1 220.5Z" fill="url(#f1238)"/><path d="M112 243.9L116.9 231.3L108.3 232.1Z" fill="url(#f1239)"/><path d="M60.3 228L65.3 218.7L56.7 217Z" fill="url(#f1240)"/><path d="M103.9 244.7L108.8 232.1L100.3 232.8Z" fill="url(#f1241)"/><path d="M68.1 229.7L76.6 231.4L73 220Z" fill="url(#f1242)"/><path d="M135.9 238.7L144.4 236.2L140.8 225.3Z" fill="url(#f1243)"/><path d="M143.9 236.3L152.5 233.1L148.8 222.4Z" fill="url(#f1244)"/><path d="M127.8 240.9L136.4 238.6L132.7 227.4Z" fill="url(#f1245)"/><path d="M152 233.2L160.5 229.1L156.9 218.8Z" fill="url(#f1246)"/><path d="M119.8 242.8L128.3 240.9L124.7 229.5Z" fill="url(#f1247)"/><path d="M95.9 244.3L100.8 232.8L92.2 232.5Z" fill="url(#f1248)"/><path d="M111.7 243.8L120.3 242.8L116.6 231.2Z" fill="url(#f1249)"/><path d="M160 229.3L168.6 224L164.9 214Z" fill="url(#f1250)"/><path d="M52.3 226L57.2 217.1L48.6 215.2Z" fill="url(#f1251)"/><path d="M60 227.8L68.6 229.8L65 218.5Z" fill="url(#f1252)"/><path d="M103.7 244.6L112.2 243.8L108.6 232Z" fill="url(#f1253)"/><path d="M87.8 243.3L92.8 232.6L84.2 231.7Z" fill="url(#f1254)"/><path d="M95.6 244.2L104.2 244.6L100.6 232.7Z" fill="url(#f1255)"/><path d="M52 225.9L60.6 227.9L56.9 216.9Z" fill="url(#f1256)"/><path d="M44.2 223.2L49.2 215.3L40.6 212.5Z" fill="url(#f1257)"/><path d="M79.8 242.2L84.7 231.8L76.2 230.9Z" fill="url(#f1258)"/><path d="M87.6 243.1L96.1 244.2L92.5 232.4Z" fill="url(#f1259)"/><path d="M147.5 246.5L152.4 232.6L143.8 235.8Z" fill="url(#f1260)"/><path d="M139.5 249.1L144.4 235.7L135.8 238.2Z" fill="url(#f1261)"/><path d="M131.4 251.5L136.3 238.1L127.8 240.4Z" fill="url(#f1262)"/><path d="M71.7 240.4L76.7 231L68.1 229.3Z" fill="url(#f1263)"/><path d="M155.6 243.2L160.4 228.7L151.9 232.7Z" fill="url(#f1264)"/><path d="M43.9 223L52.5 226L48.9 215.1Z" fill="url(#f1265)"/><path d="M123.4 253.6L128.3 240.4L119.7 242.4Z" fill="url(#f1266)"/><path d="M79.5 242.1L88.1 243.2L84.5 231.6Z" fill="url(#f1267)"/><path d="M36.2 220.3L41.2 212.6L32.6 209.8Z" fill="url(#f1268)"/><path d="M163.6 239.1L168.5 223.5L159.9 228.8Z" fill="url(#f1269)"/><path d="M115.4 254.7L120.3 242.3L111.7 243.3Z" fill="url(#f1270)"/><path d="M107.3 255.5L112.2 243.3L103.7 244.1Z" fill="url(#f1271)"/><path d="M63.7 238.4L68.7 229.4L60.1 227.4Z" fill="url(#f1272)"/><path d="M71.5 240.3L80 242.1L76.4 230.8Z" fill="url(#f1273)"/><path d="M139.3 249L147.8 246.3L144.2 235.6Z" fill="url(#f1274)"/><path d="M35.9 220L44.5 223.1L40.9 212.4Z" fill="url(#f1275)"/><path d="M147.3 246.4L155.9 243L152.2 232.5Z" fill="url(#f1276)"/><path d="M131.2 251.4L139.8 249L136.1 238.1Z" fill="url(#f1277)"/><path d="M123.2 253.5L131.7 251.3L128.1 240.3Z" fill="url(#f1278)"/><path d="M99.3 255L104.2 244.1L95.6 243.7Z" fill="url(#f1279)"/><path d="M155.4 243.2L163.9 238.9L160.3 228.6Z" fill="url(#f1280)"/><path d="M115.1 254.6L123.7 253.4L120 242.2Z" fill="url(#f1281)"/><path d="M163.4 239L172 233.4L168.3 223.5Z" fill="url(#f1282)"/><path d="M63.4 238.2L72 240.4L68.4 229.2Z" fill="url(#f1283)"/><path d="M55.7 236.2L60.6 227.5L52 225.4Z" fill="url(#f1284)"/><path d="M107.1 255.4L115.6 254.6L112 243.2Z" fill="url(#f1285)"/><path d="M91.2 253.9L96.2 243.7L87.6 242.7Z" fill="url(#f1286)"/><path d="M99 254.9L107.6 255.4L104 244Z" fill="url(#f1287)"/><path d="M55.4 236L64 238.3L60.3 227.3Z" fill="url(#f1288)"/><path d="M83.2 252.6L88.1 242.7L79.6 241.6Z" fill="url(#f1289)"/><path d="M47.6 233.3L52.6 225.6L44 222.6Z" fill="url(#f1290)"/><path d="M91 253.7L99.5 254.9L95.9 243.6Z" fill="url(#f1291)"/><path d="M142.9 259.2L147.8 245.9L139.2 248.6Z" fill="url(#f1292)"/><path d="M150.9 256.4L155.8 242.6L147.2 246Z" fill="url(#f1293)"/><path d="M75.1 250.8L80.1 241.7L71.5 239.8Z" fill="url(#f1294)"/><path d="M134.8 261.5L139.7 248.5L131.2 250.9Z" fill="url(#f1295)"/><path d="M47.3 233L55.9 236.1L52.3 225.3Z" fill="url(#f1296)"/><path d="M82.9 252.5L91.5 253.8L87.9 242.6Z" fill="url(#f1297)"/><path d="M126.8 263.7L131.7 250.9L123.1 253Z" fill="url(#f1298)"/><path d="M159 253L163.8 238.4L155.3 242.7Z" fill="url(#f1299)"/><path d="M39.6 230.2L44.6 222.7L36 219.7Z" fill="url(#f1300)"/><path d="M118.8 264.9L123.7 253L115.1 254.1Z" fill="url(#f1301)"/><path d="M167 248.7L171.9 233L163.3 238.6Z" fill="url(#f1302)"/><path d="M110.7 265.7L115.6 254.1L107.1 254.9Z" fill="url(#f1303)"/><path d="M74.9 250.6L83.4 252.5L79.8 241.5Z" fill="url(#f1304)"/><path d="M67.1 248.6L72.1 239.9L63.5 237.8Z" fill="url(#f1305)"/><path d="M142.7 259.1L151.2 256.2L147.6 245.8Z" fill="url(#f1306)"/><path d="M39.3 229.9L47.9 233.2L44.3 222.5Z" fill="url(#f1307)"/><path d="M134.6 261.5L143.2 259L139.5 248.4Z" fill="url(#f1308)"/><path d="M150.7 256.3L159.3 252.9L155.6 242.5Z" fill="url(#f1309)"/><path d="M102.7 265.3L107.6 254.9L99 254.5Z" fill="url(#f1310)"/><path d="M126.6 263.6L135.2 261.4L131.5 250.8Z" fill="url(#f1311)"/><path d="M158.8 253L167.3 248.5L163.7 238.4Z" fill="url(#f1312)"/><path d="M118.5 264.8L127.1 263.6L123.4 252.9Z" fill="url(#f1313)"/><path d="M66.8 248.4L75.4 250.7L71.8 239.7Z" fill="url(#f1314)"/><path d="M110.5 265.6L119 264.8L115.4 254Z" fill="url(#f1315)"/><path d="M59.1 246.3L64 237.9L55.4 235.6Z" fill="url(#f1316)"/><path d="M166.8 248.7L175.4 242.8L171.7 232.9Z" fill="url(#f1317)"/><path d="M94.6 264L99.6 254.5L91 253.3Z" fill="url(#f1318)"/><path d="M102.4 265.1L111 265.6L107.4 254.8Z" fill="url(#f1319)"/><path d="M58.8 246.1L67.4 248.5L63.8 237.7Z" fill="url(#f1320)"/><path d="M86.6 262.7L91.6 253.3L83 252Z" fill="url(#f1321)"/><path d="M51 243.3L56 235.8L47.4 232.6Z" fill="url(#f1322)"/><path d="M94.4 263.8L102.9 265.2L99.3 254.3Z" fill="url(#f1323)"/><path d="M78.5 260.8L83.5 252.1L74.9 250.2Z" fill="url(#f1324)"/><path d="M146.3 268.8L151.2 255.8L142.6 258.6Z" fill="url(#f1325)"/><path d="M154.3 266L159.2 252.4L150.6 255.9Z" fill="url(#f1326)"/><path d="M138.2 271.2L143.1 258.5L134.6 261Z" fill="url(#f1327)"/><path d="M86.3 262.5L94.9 263.9L91.3 253.2Z" fill="url(#f1328)"/><path d="M50.7 243L59.3 246.2L55.7 235.5Z" fill="url(#f1329)"/><path d="M130.2 273.4L135.1 260.9L126.5 263.2Z" fill="url(#f1330)"/><path d="M162.4 262.7L167.2 248.1L158.7 252.5Z" fill="url(#f1331)"/><path d="M43 240.1L48 232.8L39.4 229.6Z" fill="url(#f1332)"/><path d="M122.2 274.6L127.1 263.1L118.5 264.4Z" fill="url(#f1333)"/><path d="M170.4 258.3L175.3 242.4L166.7 248.3Z" fill="url(#f1334)"/><path d="M114.1 275.3L119 264.4L110.5 265.1Z" fill="#463cde"/><path d="M78.3 260.6L86.9 262.6L83.2 251.9Z" fill="url(#f1335)"/><path d="M70.5 258.5L75.5 250.3L66.9 248Z" fill="url(#f1336)"/><path d="M42.7 239.8L51.3 243.2L47.7 232.6Z" fill="url(#f1337)"/><path d="M146.1 268.8L154.6 265.9L151 255.7Z" fill="url(#f1338)"/><path d="M138 271.1L146.6 268.7L142.9 258.5Z" fill="url(#f1339)"/><path d="M106.1 274.9L111 265.2L102.4 264.7Z" fill="url(#f1340)"/><path d="M154.1 266L162.7 262.5L159 252.3Z" fill="url(#f1341)"/><path d="M130 273.3L138.6 271L134.9 260.8Z" fill="url(#f1342)"/><path d="M121.9 274.5L130.5 273.2L126.8 263Z" fill="url(#f1343)"/><path d="M162.2 262.6L170.8 258L167.1 248Z" fill="url(#f1344)"/><path d="M70.2 258.3L78.8 260.7L75.2 250.1Z" fill="url(#f1345)"/><path d="M62.5 256.2L67.4 248.1L58.8 245.7Z" fill="url(#f1346)"/><path d="M113.9 275.1L122.5 274.4L118.8 264.2Z" fill="#463bdd"/><path d="M98 273.6L103 264.7L94.4 263.4Z" fill="url(#f1347)"/><path d="M170.3 258.2L178.8 252.2L175.1 242.4Z" fill="url(#f1348)"/><path d="M105.8 274.7L114.4 275.1L110.8 265Z" fill="url(#f1349)"/><path d="M62.2 256L70.8 258.4L67.2 247.9Z" fill="url(#f1350)"/><path d="M90 272.3L95 263.5L86.4 262.1Z" fill="url(#f1351)"/><path d="M54.4 253.2L59.4 245.8L50.8 242.6Z" fill="url(#f1352)"/><path d="M97.7 273.4L106.3 274.8L102.7 264.6Z" fill="url(#f1353)"/><path d="M81.9 270.5L86.9 262.2L78.3 260.2Z" fill="url(#f1354)"/><path d="M149.7 278.2L154.6 265.4L146 268.3Z" fill="url(#f1355)"/><path d="M54.1 252.9L62.7 256.1L59.1 245.6Z" fill="url(#f1356)"/><path d="M89.7 272.1L98.3 273.5L94.7 263.3Z" fill="url(#f1357)"/><path d="M157.7 275.4L162.6 262L154 265.5Z" fill="url(#f1358)"/><path d="M141.6 280.4L146.5 268.2L138 270.6Z" fill="url(#f1359)"/><path d="M133.6 282.5L138.5 270.6L129.9 272.8Z" fill="url(#f1360)"/><path d="M165.8 272.1L170.6 257.6L162.1 262.2Z" fill="url(#f1361)"/><path d="M46.4 249.9L51.4 242.8L42.8 239.5Z" fill="url(#f1362)"/><path d="M125.6 283.6L130.5 272.8L121.9 274Z" fill="url(#f1363)"/><path d="M173.8 267.7L178.7 251.8L170.1 257.8Z" fill="url(#f1364)"/><path d="M117.5 284.2L122.5 274L113.9 274.7Z" fill="url(#f1365)"/><path d="M73.9 268.2L78.9 260.3L70.3 257.9Z" fill="url(#f1366)"/><path d="M81.7 270.3L90.3 272.2L86.6 262Z" fill="url(#f1367)"/><path d="M46.1 249.7L54.7 253.1L51.1 242.6Z" fill="url(#f1368)"/><path d="M149.5 278.1L158.1 275.2L154.4 265.3Z" fill="url(#f1369)"/><path d="M141.4 280.3L150 278L146.3 268.1Z" fill="url(#f1370)"/><path d="M109.5 284L114.4 274.7L105.8 274.3Z" fill="url(#f1371)"/><path d="M157.5 275.3L166.1 271.9L162.4 262Z" fill="url(#f1372)"/><path d="M133.4 282.4L142 280.2L138.3 270.5Z" fill="url(#f1373)"/><path d="M165.6 272L174.2 267.5L170.5 257.6Z" fill="url(#f1374)"/><path d="M125.3 283.5L133.9 282.4L130.2 272.7Z" fill="url(#f1375)"/><path d="M73.6 268L82.2 270.4L78.6 260.1Z" fill="url(#f1376)"/><path d="M65.9 265.9L70.9 258L62.2 255.6Z" fill="url(#f1377)"/><path d="M117.3 284.1L125.9 283.5L122.2 273.9Z" fill="url(#f1378)"/><path d="M101.4 282.8L106.4 274.4L97.8 273Z" fill="url(#f1379)"/><path d="M173.7 267.6L182.2 261.6L178.5 251.8Z" fill="url(#f1380)"/><path d="M109.2 283.8L117.8 284.1L114.2 274.6Z" fill="url(#f1381)"/><path d="M65.6 265.7L74.2 268.1L70.6 257.8Z" fill="url(#f1382)"/><path d="M93.4 281.5L98.4 273.1L89.8 271.7Z" fill="url(#f1383)"/><path d="M57.8 263L62.8 255.7L54.2 252.6Z" fill="url(#f1384)"/><path d="M101.1 282.6L109.8 283.9L106.1 274.2Z" fill="url(#f1385)"/><path d="M85.3 279.8L90.3 271.8L81.7 269.9Z" fill="url(#f1386)"/><path d="M57.5 262.7L66.1 265.8L62.5 255.5Z" fill="url(#f1387)"/><path d="M153.1 287.3L158 274.8L149.4 277.7Z" fill="url(#f1388)"/><path d="M93.1 281.3L101.7 282.7L98.1 272.9Z" fill="url(#f1389)"/><path d="M161.1 284.6L166 271.5L157.4 274.9Z" fill="url(#f1390)"/><path d="M145 289.3L149.9 277.6L141.4 279.9Z" fill="url(#f1391)"/><path d="M49.8 259.8L54.8 252.7L46.2 249.3Z" fill="url(#f1392)"/><path d="M169.2 281.4L174 267L165.5 271.6Z" fill="url(#f1393)"/><path d="M137 291.3L141.9 279.8L133.3 282Z" fill="url(#f1394)"/><path d="M129 292.3L133.9 281.9L125.3 283.1Z" fill="url(#f1395)"/><path d="M177.2 277L182.1 261.2L173.5 267.2Z" fill="url(#f1396)"/><path d="M77.3 277.7L82.3 270L73.7 267.6Z" fill="url(#f1397)"/><path d="M85.1 279.6L93.7 281.4L90 271.6Z" fill="url(#f1398)"/><path d="M120.9 292.7L125.9 283.1L117.2 283.7Z" fill="url(#f1399)"/><path d="M49.5 259.6L58.1 262.9L54.5 252.5Z" fill="url(#f1400)"/><path d="M152.9 287.2L161.5 284.4L157.8 274.7Z" fill="url(#f1401)"/><path d="M144.8 289.2L153.4 287.1L149.7 277.5Z" fill="url(#f1402)"/><path d="M160.9 284.5L169.5 281.2L165.8 271.4Z" fill="url(#f1403)"/><path d="M112.9 292.7L117.8 283.7L109.2 283.4Z" fill="url(#f1404)"/><path d="M136.8 291.2L145.4 289.1L141.7 279.7Z" fill="url(#f1405)"/><path d="M169 281.3L177.6 276.8L173.9 267Z" fill="url(#f1406)"/><path d="M128.7 292.2L137.3 291.2L133.6 281.8Z" fill="url(#f1407)"/><path d="M77 277.4L85.6 279.7L82 269.8Z" fill="url(#f1408)"/><path d="M69.3 275.5L74.3 267.7L65.6 265.3Z" fill="url(#f1409)"/><path d="M120.7 292.6L129.3 292.1L125.6 282.9Z" fill="url(#f1410)"/><path d="M177.1 277L185.6 270.9L181.9 261.1Z" fill="url(#f1411)"/><path d="M104.8 291.6L109.8 283.5L101.2 282.2Z" fill="url(#f1412)"/><path d="M112.6 292.5L121.2 292.6L117.6 283.5Z" fill="url(#f1413)"/><path d="M69 275.2L77.6 277.6L74 267.5Z" fill="url(#f1414)"/><path d="M61.2 272.7L66.2 265.4L57.6 262.4Z" fill="url(#f1415)"/><path d="M96.8 290.4L101.8 282.3L93.1 280.9Z" fill="url(#f1416)"/><path d="M104.5 291.4L113.2 292.6L109.5 283.3Z" fill="url(#f1417)"/><path d="M60.9 272.5L69.5 275.4L65.9 265.2Z" fill="url(#f1418)"/><path d="M88.7 289L93.7 281L85.1 279.2Z" fill="url(#f1419)"/><path d="M156.5 296.2L161.4 284L152.8 286.8Z" fill="url(#f1420)"/><path d="M164.5 293.6L169.4 280.8L160.8 284.1Z" fill="url(#f1421)"/><path d="M53.2 269.7L58.2 262.5L49.6 259.2Z" fill="url(#f1422)"/><path d="M96.5 290.2L105.1 291.5L101.5 282.1Z" fill="url(#f1423)"/><path d="M148.4 298.1L153.4 286.7L144.8 288.8Z" fill="url(#f1424)"/><path d="M172.6 290.6L177.4 276.4L168.9 280.9Z" fill="url(#f1425)"/><path d="M140.4 299.9L145.3 288.7L136.7 290.8Z" fill="url(#f1426)"/><path d="M180.6 286.3L185.5 270.5L176.9 276.6Z" fill="url(#f1427)"/><path d="M132.4 300.7L137.3 290.7L128.7 291.7Z" fill="url(#f1428)"/><path d="M80.7 286.9L85.7 279.4L77.1 277.1Z" fill="url(#f1429)"/><path d="M88.5 288.8L97.1 290.3L93.4 280.8Z" fill="url(#f1430)"/><path d="M52.9 269.4L61.5 272.6L57.9 262.3Z" fill="url(#f1431)"/><path d="M124.3 300.9L129.3 291.7L120.6 292.1Z" fill="url(#f1432)"/><path d="M156.3 296.1L164.9 293.5L161.2 283.9Z" fill="url(#f1433)"/><path d="M164.3 293.6L172.9 290.4L169.2 280.7Z" fill="url(#f1434)"/><path d="M148.2 298L156.8 296.1L153.1 286.6Z" fill="url(#f1435)"/><path d="M116.3 301.2L121.2 292.1L112.6 292.1Z" fill="url(#f1436)"/><path d="M172.4 290.5L181 286.1L177.3 276.3Z" fill="url(#f1437)"/><path d="M140.2 299.8L148.8 297.9L145.1 288.6Z" fill="url(#f1438)"/><path d="M72.7 284.9L77.7 277.2L69 274.9Z" fill="url(#f1439)"/><path d="M80.4 286.7L89 288.8L85.4 279.1Z" fill="url(#f1440)"/><path d="M132.1 300.6L140.7 299.7L137 290.6Z" fill="url(#f1441)"/><path d="M180.5 286.3L189 280.2L185.3 270.4Z" fill="url(#f1442)"/><path d="M108.2 300.2L113.2 292.2L104.6 291Z" fill="url(#f1443)"/><path d="M124.1 300.8L132.7 300.5L129 291.6Z" fill="url(#f1444)"/><path d="M72.4 284.7L81 286.8L77.4 277Z" fill="url(#f1445)"/><path d="M116 301L124.6 300.8L121 292Z" fill="url(#f1446)"/><path d="M64.6 282.4L69.6 275L61 272.1Z" fill="url(#f1447)"/><path d="M100.2 299.2L105.2 291.1L96.5 289.8Z" fill="url(#f1448)"/><path d="M107.9 300L116.6 301L112.9 292Z" fill="url(#f1449)"/><path d="M64.3 282.2L72.9 284.8L69.3 274.8Z" fill="url(#f1450)"/><path d="M92.1 298L97.1 289.9L88.5 288.4Z" fill="url(#f1451)"/><path d="M56.6 279.5L61.6 272.3L53 269.1Z" fill="url(#f1452)"/><path d="M99.9 299L108.5 300.1L104.9 290.9Z" fill="url(#f1453)"/><path d="M84.1 296.1L89.1 288.5L80.5 286.3Z" fill="url(#f1454)"/><path d="M56.3 279.3L64.9 282.3L61.3 272Z" fill="url(#f1455)"/><path d="M91.9 297.8L100.5 299L96.8 289.7Z" fill="url(#f1456)"/><path d="M76.1 294.3L81 286.5L72.4 284.3Z" fill="url(#f1457)"/><path d="M83.8 295.9L92.4 297.8L88.8 288.3Z" fill="url(#f1458)"/><path d="M68 292L73 284.4L64.4 281.8Z" fill="url(#f1459)"/><path d="M75.8 294.1L84.4 296L80.8 286.2Z" fill="url(#f1460)"/><path d="M67.7 291.8L76.3 294.2L72.7 284.2Z" fill="url(#f1461)"/><path d="M60 289.3L65 281.9L56.4 278.9Z" fill="url(#f1462)"/><path d="M59.7 289.1L68.3 291.9L64.7 281.7Z" fill="url(#f1463)"/><g clip-path="url(#cp3)"><path d="M136 199.1L132.9 231L130.8 242.2Z" fill="url(#f1464)"/><path d="M136 199.1L141.3 239.2L132.8 231Z" fill="url(#f1465)"/><path d="M136 199.1L130.7 242.2L139.1 250.2Z" fill="url(#f1466)"/><path d="M136 199.1L139.1 250.2L141.2 239.2Z" fill="url(#f1467)"/><path d="M147.7 237.9L143.9 232.2L142.3 245.1Z" fill="url(#f1468)"/><path d="M147.4 238.1L152.8 241.1L143.8 232.3Z" fill="url(#f1469)"/><path d="M147.5 237.7L142.1 244.9L151.1 253.7Z" fill="url(#f1470)"/><path d="M147.4 237.7L151.1 253.7L152.8 240.8Z" fill="url(#f1471)"/><path d="M103 229.5L99.8 236.9L96.6 247.1Z" fill="url(#f1472)"/><path d="M102.9 229.5L109.2 247.1L99.6 237.1Z" fill="url(#f1473)"/><path d="M102.9 229.5L96.5 247L106.1 257.3Z" fill="url(#f1474)"/><path d="M102.9 229.5L106 257.3L109.3 247.1Z" fill="url(#f1475)"/><path d="M109.1 205.8L106 240L103.9 250.4Z" fill="url(#f1476)"/><path d="M109.1 205.8L114.3 249.5L105.9 240Z" fill="url(#f1477)"/><path d="M109.1 205.8L103.8 250.4L112.2 259.8Z" fill="url(#f1478)"/><path d="M109.1 205.8L112.2 259.8L114.3 249.5Z" fill="url(#f1479)"/><path d="M114.8 239.9L110.9 238.2L108.1 251.2Z" fill="url(#f1480)"/><path d="M114.6 239.9L121.3 249.6L110.8 238.2Z" fill="url(#f1481)"/><path d="M114.7 239.9L107.9 251L118.4 261.8Z" fill="url(#f1482)"/><path d="M114.6 239.9L118.3 261.8L121.3 249.4Z" fill="url(#f1483)"/><path d="M135.5 224.1L132.1 238.4L128.2 250.9Z" fill="url(#f1484)"/><path d="M135.4 224.1L142.8 246.7L131.9 238.3Z" fill="url(#f1485)"/><path d="M135.5 224.1L128.1 250.9L138.9 258.9Z" fill="url(#f1486)"/><path d="M135.4 224.1L138.8 258.9L142.8 246.6Z" fill="url(#f1487)"/><path d="M145.1 206.8L142 237.9L139.9 248.9Z" fill="url(#f1488)"/><path d="M145.1 206.8L150.4 245.3L141.9 237.9Z" fill="url(#f1489)"/><path d="M145.1 206.8L139.8 248.9L148.2 256.4Z" fill="url(#f1490)"/><path d="M145.1 206.8L148.2 256.4L150.4 245.3Z" fill="url(#f1491)"/><path d="M152.8 207.8L149.7 236.1L147.6 247.4Z" fill="url(#f1492)"/><path d="M152.8 207.8L158.1 243.1L149.6 236.1Z" fill="url(#f1493)"/><path d="M152.8 207.8L147.5 247.4L156 254.3Z" fill="url(#f1494)"/><path d="M152.8 207.8L155.9 254.3L158.1 243.1Z" fill="url(#f1495)"/><path d="M95.5 242.6L91.2 236.3L87.8 248.6Z" fill="url(#f1496)"/><path d="M95.1 242.6L102.7 250.4L91.1 236.3Z" fill="url(#f1497)"/><path d="M95.3 242.4L87.7 248.4L99.4 262Z" fill="url(#f1498)"/><path d="M95.2 242.5L99.3 262.1L102.8 250.2Z" fill="url(#f1499)"/><path d="M132.6 243.3L129.2 240.1L125.8 252.5Z" fill="url(#f1500)"/><path d="M132.3 243.3L139.2 248.6L129.1 240.2Z" fill="url(#f1501)"/><path d="M132.5 243.2L125.7 252.3L135.8 260.3Z" fill="url(#f1502)"/><path d="M132.4 243.2L135.8 260.3L139.2 248.4Z" fill="url(#f1503)"/><path d="M109.1 239.5L105.6 241L103.5 252.2Z" fill="url(#f1504)"/><path d="M108.9 239.5L114.4 251.5L105.5 241.1Z" fill="url(#f1505)"/><path d="M109 239.5L103.4 252.1L112.3 262.2Z" fill="url(#f1506)"/><path d="M108.9 239.5L112.3 262.2L114.5 251.3Z" fill="url(#f1507)"/><path d="M146 229.1L141.7 235.8L138.9 251Z" fill="url(#f1508)"/><path d="M145.9 229.1L153.1 246L141.6 236Z" fill="url(#f1509)"/><path d="M146 229.1L138.8 251L150.2 261Z" fill="url(#f1510)"/><path d="M145.9 229.1L150.2 261L153.2 245.9Z" fill="url(#f1511)"/><path d="M97.8 234L94.5 240.9L92.4 250.5Z" fill="url(#f1512)"/><path d="M97.7 234L103 251.7L94.4 241Z" fill="url(#f1513)"/><path d="M97.7 234L92.3 250.4L100.9 260.8Z" fill="url(#f1514)"/><path d="M97.7 234L100.8 260.8L103 251.7Z" fill="url(#f1515)"/><path d="M118.2 210.1L115.1 243.5L113 253.9Z" fill="url(#f1516)"/><path d="M118.2 210.1L123.5 252.5L115 243.5Z" fill="url(#f1517)"/><path d="M118.2 210.1L112.9 253.9L121.3 262.7Z" fill="url(#f1518)"/><path d="M118.2 210.1L121.3 262.8L123.4 252.5Z" fill="url(#f1519)"/><path d="M126.5 236.4L122.5 240.7L120.8 254.4Z" fill="url(#f1520)"/><path d="M126.4 236.4L132.2 251.6L122.4 240.8Z" fill="url(#f1521)"/><path d="M126.5 236.4L120.6 254.3L130.4 264.8Z" fill="url(#f1522)"/><path d="M126.4 236.4L130.4 264.8L132.3 251.4Z" fill="url(#f1523)"/><path d="M104.7 232.6L101.7 244.3L97.4 253.4Z" fill="url(#f1524)"/><path d="M104.6 232.6L112 253.5L101.4 244.1Z" fill="url(#f1525)"/><path d="M104.7 232.6L97.3 253.3L107.8 263.2Z" fill="url(#f1526)"/><path d="M104.6 232.6L107.7 263.2L112 253.5Z" fill="url(#f1527)"/><path d="M164.5 210.1L161.4 236.2L159.3 247.9Z" fill="url(#f1528)"/><path d="M164.5 210.1L169.8 241.5L161.3 236.2Z" fill="url(#f1529)"/><path d="M164.5 210.1L159.2 247.8L167.7 253.9Z" fill="url(#f1530)"/><path d="M164.5 210.1L167.6 253.9L169.8 241.5Z" fill="url(#f1531)"/><path d="M100.7 250.8L97 243.9L94.6 254.5Z" fill="url(#f1532)"/><path d="M100.3 250.8L106.4 255.6L96.9 244Z" fill="url(#f1533)"/><path d="M100.5 250.5L94.5 254.3L104 265.8Z" fill="url(#f1534)"/><path d="M100.4 250.5L104 265.8L106.4 255.4Z" fill="url(#f1535)"/><path d="M105.7 238.1L102.3 245.6L97.8 256Z" fill="url(#f1536)"/><path d="M105.6 238.1L113.5 256.2L102 245.7Z" fill="url(#f1537)"/><path d="M105.7 238.1L97.7 255.9L109.1 266.9Z" fill="url(#f1538)"/><path d="M105.6 238.1L109.1 266.9L113.6 256.1Z" fill="url(#f1539)"/><path d="M158.5 241.1L154.9 240L153.4 252.5Z" fill="url(#f1540)"/><path d="M158.4 241.1L163.5 248.2L154.8 240.1Z" fill="url(#f1541)"/><path d="M158.4 241.1L153.2 252.4L162 260.3Z" fill="url(#f1542)"/><path d="M158.3 241.1L161.9 260.3L163.6 247.9Z" fill="url(#f1543)"/><path d="M102.4 244.7L98.9 245.5L95.7 255.6Z" fill="url(#f1544)"/><path d="M102.2 244.7L108.9 256.7L98.7 245.6Z" fill="url(#f1545)"/><path d="M102.3 244.6L95.6 255.5L105.7 266.5Z" fill="url(#f1546)"/><path d="M102.2 244.7L105.6 266.5L109 256.5Z" fill="url(#f1547)"/><path d="M150.3 237L146.5 242.9L143.3 256.3Z" fill="url(#f1548)"/><path d="M150.1 237L157.1 251.1L146.3 243.1Z" fill="url(#f1549)"/><path d="M150.2 237L143.2 256.3L153.9 264.3Z" fill="url(#f1550)"/><path d="M150.1 237L153.8 264.4L157.2 251Z" fill="url(#f1551)"/><path d="M121.1 253.1L117.5 247.8L114 259.5Z" fill="url(#f1552)"/><path d="M120.7 253.2L127.9 257.4L117.4 247.8Z" fill="url(#f1553)"/><path d="M121 252.9L113.9 259.3L124.4 268.7Z" fill="url(#f1554)"/><path d="M120.8 253L124.3 268.8L127.9 257.1Z" fill="url(#f1555)"/><path d="M77.9 245.6L74.2 240.3L72.7 250Z" fill="url(#f1556)"/><path d="M77.6 245.4L82.7 252.4L74.1 240.3Z" fill="url(#f1557)"/><path d="M77.7 245.4L72.6 249.8L81.3 261.7Z" fill="url(#f1558)"/><path d="M77.6 245.4L81.2 261.7L82.8 252.2Z" fill="url(#f1559)"/><path d="M126.5 252.5L122.7 247.6L119.6 260.2Z" fill="url(#f1560)"/><path d="M126.2 252.5L133.1 257.2L122.6 247.7Z" fill="url(#f1561)"/><path d="M126.4 252.3L119.5 260L130.1 269.5Z" fill="url(#f1562)"/><path d="M126.3 252.4L130 269.6L133.1 256.9Z" fill="url(#f1563)"/><path d="M75.5 232.7L71.6 239.8L67.5 249.5Z" fill="url(#f1564)"/><path d="M75.3 232.7L83.2 253.5L71.4 239.9Z" fill="url(#f1565)"/><path d="M75.4 232.7L67.4 249.4L79.2 262.8Z" fill="url(#f1566)"/><path d="M75.3 232.7L79.2 262.8L83.3 253.4Z" fill="url(#f1567)"/><path d="M78.1 232.9L75.1 244L71.3 251.1Z" fill="url(#f1568)"/><path d="M78.1 232.9L84.9 254.4L74.9 243.8Z" fill="url(#f1569)"/><path d="M78.1 232.9L71.2 251L81.1 261.7Z" fill="url(#f1570)"/><path d="M78 232.9L81 261.7L84.9 254.3Z" fill="url(#f1571)"/><path d="M129.3 218.5L126.2 252.5L124.1 262.9Z" fill="url(#f1572)"/><path d="M129.3 218.5L134.6 260.2L126.1 252.5Z" fill="url(#f1573)"/><path d="M129.3 218.5L124 262.9L132.4 270.6Z" fill="url(#f1574)"/><path d="M129.3 218.5L132.4 270.6L134.5 260.2Z" fill="url(#f1575)"/><path d="M132.2 251.4L128 250.9L124.9 265.2Z" fill="url(#f1576)"/><path d="M132 251.4L139.3 261.3L127.8 251Z" fill="url(#f1577)"/><path d="M132.1 251.3L124.8 265L136.2 274.8Z" fill="url(#f1578)"/><path d="M132 251.4L136.2 274.9L139.4 261.1Z" fill="url(#f1579)"/><path d="M158.8 252.1L155.5 248.4L153.8 259.7Z" fill="url(#f1580)"/><path d="M158.5 252.3L163.6 255.6L155.4 248.5Z" fill="url(#f1581)"/><path d="M158.7 252L153.7 259.5L161.9 266.4Z" fill="url(#f1582)"/><path d="M158.6 252L161.8 266.4L163.6 255.4Z" fill="url(#f1583)"/><path d="M167 244.1L163.8 246L160.1 258.6Z" fill="url(#f1584)"/><path d="M166.9 244.1L173.9 250.4L163.6 246.1Z" fill="url(#f1585)"/><path d="M167 244L160 258.5L170.2 264.2Z" fill="url(#f1586)"/><path d="M166.9 244.1L170.1 264.2L173.9 250.2Z" fill="url(#f1587)"/><path d="M92.1 245L89.1 251.7L84.5 259.8Z" fill="url(#f1588)"/><path d="M91.9 245L99.4 262.2L88.8 251.8Z" fill="url(#f1589)"/><path d="M92 245L84.4 259.7L95 269.7Z" fill="url(#f1590)"/><path d="M91.9 245L95 269.7L99.5 262.2Z" fill="url(#f1591)"/><path d="M150.8 253.6L147.5 252L142.9 264.1Z" fill="url(#f1592)"/><path d="M150.5 253.6L158.5 258.4L147.3 252.2Z" fill="url(#f1593)"/><path d="M150.7 253.5L142.8 264L154 270.5Z" fill="url(#f1594)"/><path d="M150.6 253.6L153.8 270.5L158.5 258.2Z" fill="url(#f1595)"/><path d="M167.9 221.9L164.8 247.3L162.7 258.8Z" fill="url(#f1596)"/><path d="M167.9 221.9L173.2 252.3L164.7 247.3Z" fill="url(#f1597)"/><path d="M167.9 221.9L162.6 258.8L171.1 264.7Z" fill="url(#f1598)"/><path d="M167.9 221.9L171 264.7L173.2 252.3Z" fill="url(#f1599)"/><path d="M82.6 254L79.5 250.6L76.8 258Z" fill="url(#f1600)"/><path d="M82.2 253.9L88 260.4L79.4 250.7Z" fill="url(#f1601)"/><path d="M82.4 253.8L76.7 257.7L85.3 267.5Z" fill="url(#f1602)"/><path d="M82.3 253.8L85.2 267.5L88 260.2Z" fill="url(#f1603)"/><path d="M80.8 247.3L74.4 239.9L69.2 255.9Z" fill="url(#f1604)"/><path d="M80.5 247.1L92 261.1L74.3 240Z" fill="url(#f1605)"/><path d="M80.6 247.1L69.2 255.7L86.9 276.6Z" fill="url(#f1606)"/><path d="M80.5 247.1L86.8 276.6L92.1 261Z" fill="url(#f1607)"/><path d="M133.2 253.1L129.7 255.6L128.2 267.2Z" fill="url(#f1608)"/><path d="M133.1 253.1L138.1 264.4L129.6 255.7Z" fill="url(#f1609)"/><path d="M133.1 253.1L128.1 267.1L136.6 275.3Z" fill="url(#f1610)"/><path d="M133.1 253.1L136.6 275.4L138.2 264.3Z" fill="url(#f1611)"/><path d="M164.4 237.4L160.4 249.7L158.5 263.1Z" fill="url(#f1612)"/><path d="M164.4 237.4L170.3 257.2L160.4 249.8Z" fill="url(#f1613)"/><path d="M164.4 237.4L158.5 263L168.2 271.1Z" fill="url(#f1614)"/><path d="M164.3 237.4L168.2 271.1L170.3 257.1Z" fill="url(#f1615)"/><path d="M109.4 251L106.1 259.6L104.3 268.4Z" fill="url(#f1616)"/><path d="M109.3 251L114.4 268.7L106.1 259.6Z" fill="url(#f1617)"/><path d="M109.3 251L104.2 268.3L112.4 277.2Z" fill="url(#f1618)"/><path d="M109.3 251L112.4 277.2L114.5 268.6Z" fill="url(#f1619)"/><path d="M68.7 252.1L62.3 238.5L57.1 253.6Z" fill="url(#f1620)"/><path d="M68.4 252.1L79.9 260.4L62.2 238.5Z" fill="url(#f1621)"/><path d="M68.5 251.8L57.1 253.3L74.8 274.8Z" fill="url(#f1622)"/><path d="M68.4 251.8L74.7 274.8L80 260.2Z" fill="url(#f1623)"/><path d="M154.5 226.9L151.4 256.1L149.3 266.9Z" fill="url(#f1624)"/><path d="M154.5 226.9L159.8 262.7L151.3 256.1Z" fill="url(#f1625)"/><path d="M154.5 226.9L149.2 266.9L157.7 273.5Z" fill="url(#f1626)"/><path d="M154.5 226.9L157.6 273.5L159.8 262.7Z" fill="url(#f1627)"/><path d="M118.9 250.3L114.8 258.5L113.4 270.8Z" fill="url(#f1628)"/><path d="M118.8 250.3L124.3 269.6L114.7 258.7Z" fill="url(#f1629)"/><path d="M118.8 250.3L113.2 270.7L122.8 280.8Z" fill="url(#f1630)"/><path d="M118.8 250.3L122.7 280.8L124.4 269.6Z" fill="url(#f1631)"/><path d="M149.4 261.9L146.1 257.2L144.3 268Z" fill="url(#f1632)"/><path d="M149.1 262.1L154.2 264.6L146 257.3Z" fill="url(#f1633)"/><path d="M149.2 261.7L144.2 267.8L152.4 275.2Z" fill="url(#f1634)"/><path d="M149.1 261.7L152.4 275.2L154.2 264.3Z" fill="url(#f1635)"/><path d="M104.1 226.9L101 260.2L98.9 268.5Z" fill="url(#f1636)"/><path d="M104.1 226.9L109.3 269.7L100.9 260.2Z" fill="url(#f1637)"/><path d="M104.1 226.9L98.8 268.5L107.2 277.9Z" fill="url(#f1638)"/><path d="M104.1 226.9L107.2 277.9L109.3 269.7Z" fill="url(#f1639)"/><path d="M167.4 245.4L164.7 254.1L159.7 265.4Z" fill="url(#f1640)"/><path d="M167.3 245.3L175.1 256.8L164.4 254.3Z" fill="url(#f1641)"/><path d="M167.4 245.3L159.6 265.4L170.2 270Z" fill="url(#f1642)"/><path d="M167.3 245.3L170.1 270L175.2 256.6Z" fill="url(#f1643)"/><path d="M90.7 228.6L87.6 257.2L85.5 265.4Z" fill="url(#f1644)"/><path d="M90.7 228.6L96 267.2L87.5 257.2Z" fill="url(#f1645)"/><path d="M90.7 228.6L85.4 265.3L93.8 275Z" fill="url(#f1646)"/><path d="M90.7 228.6L93.8 275L95.9 267.2Z" fill="url(#f1647)"/><path d="M135.8 248.1L131.5 259.8L130.9 272.9Z" fill="url(#f1648)"/><path d="M135.8 248.1L140.7 270.2L131.5 259.8Z" fill="url(#f1649)"/><path d="M135.8 248.1L130.8 272.8L139.9 282.5Z" fill="url(#f1650)"/><path d="M135.8 248.1L139.9 282.5L140.7 270.1Z" fill="url(#f1651)"/><path d="M157.5 250.4L153.2 254.9L152.2 269.3Z" fill="url(#f1652)"/><path d="M157.4 250.3L162.7 265L153 255Z" fill="url(#f1653)"/><path d="M157.5 250.3L152.1 269.2L161.8 278.8Z" fill="url(#f1654)"/><path d="M157.4 250.3L161.7 278.8L162.8 264.9Z" fill="url(#f1655)"/><path d="M127.3 264.6L123.9 264.2L121 274.3Z" fill="url(#f1656)"/><path d="M127.1 264.5L133.4 272.2L123.8 264.2Z" fill="url(#f1657)"/><path d="M127.2 264.5L120.9 274.1L130.4 282.3Z" fill="url(#f1658)"/><path d="M127.1 264.5L130.4 282.4L133.4 272Z" fill="url(#f1659)"/><path d="M72.7 257.6L69.3 253.4L65.2 261Z" fill="url(#f1660)"/><path d="M72.4 257.4L79.9 265.1L69.2 253.4Z" fill="url(#f1661)"/><path d="M72.6 257.3L65.1 260.8L75.8 272.1Z" fill="url(#f1662)"/><path d="M72.4 257.4L75.7 272.2L79.9 264.9Z" fill="url(#f1663)"/><path d="M132.1 268.6L128.8 265.2L125.5 275.4Z" fill="url(#f1664)"/><path d="M131.7 268.7L138.3 272.4L128.7 265.3Z" fill="url(#f1665)"/><path d="M131.9 268.5L125.4 275.2L135.1 282.5Z" fill="url(#f1666)"/><path d="M131.8 268.5L135 282.5L138.3 272.2Z" fill="url(#f1667)"/><path d="M71.9 242.2L68.8 255.3L64.8 262.3Z" fill="url(#f1668)"/><path d="M71.8 242.2L79 266.3L68.6 255.2Z" fill="url(#f1669)"/><path d="M71.9 242.2L64.7 262.2L75.1 273.1Z" fill="url(#f1670)"/><path d="M71.8 242.2L75 273.1L79 266.3Z" fill="url(#f1671)"/><path d="M99.3 267.6L96.3 264.6L91.6 271.9Z" fill="url(#f1672)"/><path d="M99 267.5L106.7 274.3L96.1 264.7Z" fill="url(#f1673)"/><path d="M99.2 267.4L91.6 271.7L102.1 281Z" fill="url(#f1674)"/><path d="M99 267.4L102 281.1L106.7 274.1Z" fill="url(#f1675)"/><path d="M131.1 259.1L127.8 267L125.2 277.1Z" fill="url(#f1676)"/><path d="M131 259.1L136.9 274.7L127.7 267.2Z" fill="url(#f1677)"/><path d="M131.1 259.1L125.1 277L134.3 284.6Z" fill="url(#f1678)"/><path d="M131 259.1L134.2 284.7L137 274.6Z" fill="url(#f1679)"/><path d="M146.7 235.3L143.6 265.2L141.5 275.3Z" fill="url(#f1680)"/><path d="M146.7 235.3L152 272.3L143.5 265.2Z" fill="url(#f1681)"/><path d="M146.7 235.3L141.4 275.3L149.9 282.3Z" fill="url(#f1682)"/><path d="M146.7 235.3L149.8 282.3L152 272.3Z" fill="url(#f1683)"/><path d="M162.2 235.3L159.1 261.4L157 272.3Z" fill="url(#f1684)"/><path d="M162.2 235.3L167.5 267.9L159 261.4Z" fill="url(#f1685)"/><path d="M162.2 235.3L156.9 272.2L165.4 278.6Z" fill="url(#f1686)"/><path d="M162.2 235.3L165.3 278.6L167.5 267.9Z" fill="url(#f1687)"/><path d="M166.8 257.9L163.6 260.4L160 272.2Z" fill="url(#f1688)"/><path d="M166.6 257.9L173.5 265.5L163.4 260.6Z" fill="url(#f1689)"/><path d="M166.7 257.9L159.9 272.1L169.9 277.9Z" fill="url(#f1690)"/><path d="M166.6 257.9L169.8 278L173.5 265.3Z" fill="url(#f1691)"/><path d="M137.7 237L134.6 268.5L132.5 278.4Z" fill="url(#f1692)"/><path d="M137.7 237L143 275.6L134.5 268.5Z" fill="url(#f1693)"/><path d="M137.7 237L132.4 278.4L140.8 285.3Z" fill="url(#f1694)"/><path d="M137.7 237L140.8 285.3L142.9 275.6Z" fill="url(#f1695)"/><path d="M153.4 254.6L149.3 263.7L147 276.8Z" fill="url(#f1696)"/><path d="M153.3 254.6L159.6 272.4L149.2 263.9Z" fill="url(#f1697)"/><path d="M153.3 254.6L146.9 276.7L157.3 285.4Z" fill="url(#f1698)"/><path d="M153.3 254.6L157.2 285.5L159.7 272.4Z" fill="url(#f1699)"/><path d="M169.1 238L166 262.9L163.9 273.7Z" fill="url(#f1700)"/><path d="M169.1 238L174.4 268.3L165.9 262.9Z" fill="url(#f1701)"/><path d="M169.1 238L163.8 273.7L172.3 280.1Z" fill="url(#f1702)"/><path d="M169.1 238L172.2 280.1L174.4 268.3Z" fill="url(#f1703)"/><path d="M157.1 267.4L154.2 267.5L150.9 277.6Z" fill="url(#f1704)"/><path d="M156.8 267.4L163 273L154 267.6Z" fill="url(#f1705)"/><path d="M157 267.3L150.8 277.5L159.8 282.9Z" fill="url(#f1706)"/><path d="M156.9 267.4L159.7 283L163.1 272.8Z" fill="url(#f1707)"/><path d="M154.9 259.6L150.6 264.6L148 278.6Z" fill="url(#f1708)"/><path d="M154.8 259.6L161.7 273.8L150.4 264.7Z" fill="url(#f1709)"/><path d="M154.8 259.6L147.8 278.5L159.1 287.7Z" fill="url(#f1710)"/><path d="M154.8 259.6L159 287.8L161.8 273.6Z" fill="url(#f1711)"/><path d="M84.1 262.9L79.7 261L76.4 271.4Z" fill="url(#f1712)"/><path d="M83.9 262.8L91.5 275L79.6 261.1Z" fill="url(#f1713)"/><path d="M84 262.8L76.4 271.2L88.3 285Z" fill="url(#f1714)"/><path d="M83.9 262.8L88.2 285.1L91.6 274.9Z" fill="url(#f1715)"/><path d="M152.5 267.2L149.1 269.3L145.8 280.3Z" fill="url(#f1716)"/><path d="M152.3 267.1L158.9 276.1L148.9 269.4Z" fill="url(#f1717)"/><path d="M152.4 267.1L145.7 280.2L155.7 287.2Z" fill="url(#f1718)"/><path d="M152.3 267.2L155.6 287.3L159 275.9Z" fill="url(#f1719)"/><path d="M162.7 265.3L159.3 267.4L156.6 279Z" fill="url(#f1720)"/><path d="M162.5 265.3L168.6 274.2L159.1 267.5Z" fill="url(#f1721)"/><path d="M162.6 265.3L156.5 278.9L165.9 285.5Z" fill="url(#f1722)"/><path d="M162.5 265.3L165.8 285.5L168.7 274Z" fill="url(#f1723)"/><path d="M86.5 267.6L83.3 266.7L78.5 273.4Z" fill="url(#f1724)"/><path d="M86.2 267.5L94.2 276.9L83.1 266.7Z" fill="url(#f1725)"/><path d="M86.4 267.5L78.4 273.2L89.5 283.8Z" fill="url(#f1726)"/><path d="M86.3 267.5L89.4 283.8L94.2 276.8Z" fill="url(#f1727)"/><path d="M84.2 263.9L78.2 257.9L73.5 271.9Z" fill="url(#f1728)"/><path d="M83.9 263.7L94.5 276.8L78 257.9Z" fill="url(#f1729)"/><path d="M84 263.7L73.4 271.7L89.9 290.5Z" fill="url(#f1730)"/><path d="M83.9 263.7L89.8 290.5L94.6 276.7Z" fill="url(#f1731)"/><path d="M97.1 272.5L94.2 271L91 278Z" fill="url(#f1732)"/><path d="M96.9 272.4L102.9 279.9L94 271.1Z" fill="url(#f1733)"/><path d="M97 272.4L90.9 277.8L99.8 286.3Z" fill="url(#f1734)"/><path d="M96.9 272.4L99.7 286.4L103 279.8Z" fill="url(#f1735)"/><path d="M127.5 275.6L123.3 272.2L121.2 284Z" fill="url(#f1736)"/><path d="M127.2 275.5L133.5 282.5L123.2 272.3Z" fill="url(#f1737)"/><path d="M127.3 275.5L121.1 283.8L131.4 293.7Z" fill="url(#f1738)"/><path d="M127.2 275.5L131.4 293.7L133.6 282.3Z" fill="url(#f1739)"/><path d="M103.2 266.8L99.5 271L98 279.9Z" fill="url(#f1740)"/><path d="M103.1 266.8L108.2 281.6L99.4 271.1Z" fill="url(#f1741)"/><path d="M103.1 266.8L97.9 279.8L106.6 289.7Z" fill="url(#f1742)"/><path d="M103 266.8L106.5 289.8L108.2 281.5Z" fill="url(#f1743)"/><path d="M83 250.8L79.8 266.6L76.7 273.6Z" fill="url(#f1744)"/><path d="M82.9 250.7L89.2 276.8L79.6 266.4Z" fill="url(#f1745)"/><path d="M82.9 250.7L76.6 273.5L86.1 283.8Z" fill="url(#f1746)"/><path d="M82.9 250.7L86 283.8L89.2 276.8Z" fill="url(#f1747)"/><path d="M122.2 271.5L118 274L117.2 285.1Z" fill="url(#f1748)"/><path d="M122.1 271.5L127.1 284.5L117.9 274.1Z" fill="url(#f1749)"/><path d="M122.1 271.5L117 285L126.2 294.8Z" fill="url(#f1750)"/><path d="M122 271.5L126.1 294.9L127.1 284.4Z" fill="url(#f1751)"/><path d="M112.5 256.1L109.4 276.3L107.3 284.1Z" fill="url(#f1752)"/><path d="M112.5 256.1L117.8 284.6L109.3 276.2Z" fill="url(#f1753)"/><path d="M112.5 256.1L107.2 284L115.7 292.3Z" fill="url(#f1754)"/><path d="M112.5 256.1L115.6 292.3L117.8 284.6Z" fill="url(#f1755)"/><path d="M150.5 261.3L146.4 272.3L142.8 285.4Z" fill="url(#f1756)"/><path d="M150.4 261.3L158.1 281L146.3 272.5Z" fill="url(#f1757)"/><path d="M150.5 261.3L142.7 285.4L154.5 293.9Z" fill="url(#f1758)"/><path d="M150.4 261.3L154.4 293.9L158.2 280.9Z" fill="url(#f1759)"/><path d="M93.6 269L87.9 265.9L83.8 279.1Z" fill="url(#f1760)"/><path d="M93.3 268.9L103.1 282.7L87.8 265.9Z" fill="url(#f1761)"/><path d="M93.4 268.9L83.7 278.9L98.9 295.4Z" fill="url(#f1762)"/><path d="M93.3 268.9L98.8 295.4L103.1 282.6Z" fill="url(#f1763)"/><path d="M118.2 244.7L115.1 278.3L113 286.3Z" fill="url(#f1764)"/><path d="M118.2 244.7L123.5 286.1L115 278.3Z" fill="url(#f1765)"/><path d="M118.2 244.7L112.9 286.3L121.3 294Z" fill="url(#f1766)"/><path d="M118.2 244.7L121.3 294L123.4 286.1Z" fill="url(#f1767)"/><path d="M97.8 273.8L93.8 272.4L92.5 282.1Z" fill="url(#f1768)"/><path d="M97.6 273.7L102.7 283.7L93.7 272.5Z" fill="url(#f1769)"/><path d="M97.6 273.7L92.4 281.9L101.4 292.6Z" fill="url(#f1770)"/><path d="M97.5 273.7L101.4 292.6L102.8 283.5Z" fill="url(#f1771)"/><path d="M91.6 269.3L88 271.8L85.9 280.4Z" fill="url(#f1772)"/><path d="M91.4 269.2L97.1 282.4L87.9 271.9Z" fill="url(#f1773)"/><path d="M91.5 269.2L85.7 280.2L95 290.6Z" fill="url(#f1774)"/><path d="M91.4 269.2L94.9 290.6L97.2 282.4Z" fill="url(#f1775)"/><path d="M98 278L95 276.7L90.7 283.6Z" fill="url(#f1776)"/><path d="M97.7 277.9L105 285.9L94.8 276.7Z" fill="url(#f1777)"/><path d="M97.9 277.9L90.7 283.4L100.9 292.4Z" fill="url(#f1778)"/><path d="M97.8 277.9L100.8 292.4L105 285.8Z" fill="url(#f1779)"/><path d="M100.9 268.8L98 278.4L94.1 284.8Z" fill="url(#f1780)"/><path d="M100.8 268.7L107.5 286.9L97.8 278.2Z" fill="url(#f1781)"/><path d="M100.8 268.7L94 284.7L103.7 293.1Z" fill="url(#f1782)"/><path d="M100.7 268.7L103.6 293.1L107.5 286.8Z" fill="url(#f1783)"/><path d="M115.9 271.5L113.1 282.4L109.2 289Z" fill="url(#f1784)"/><path d="M115.8 271.5L122.5 289.3L112.9 282.3Z" fill="url(#f1785)"/><path d="M115.8 271.5L109.1 288.9L118.6 296.1Z" fill="url(#f1786)"/><path d="M115.8 271.5L118.5 296.1L122.5 289.2Z" fill="url(#f1787)"/><path d="M120.9 258.8L117.8 282L115.7 289.9Z" fill="url(#f1788)"/><path d="M120.9 258.8L126.2 289.5L117.7 282Z" fill="url(#f1789)"/><path d="M120.9 258.8L115.6 289.9L124.1 297.4Z" fill="url(#f1790)"/><path d="M120.9 258.8L124 297.4L126.2 289.5Z" fill="url(#f1791)"/><path d="M110.4 284.3L107.3 281L102.2 287.7Z" fill="url(#f1792)"/><path d="M110 284.3L118.1 289.1L107.1 281Z" fill="url(#f1793)"/><path d="M110.2 284.1L102.2 287.5L113.2 296.2Z" fill="url(#f1794)"/><path d="M110.1 284.1L113.1 296.3L118.2 288.9Z" fill="url(#f1795)"/><path d="M138.6 283L134.3 279.6L133.1 291.6Z" fill="url(#f1796)"/><path d="M138.3 282.9L143.8 289.2L134.2 279.6Z" fill="url(#f1797)"/><path d="M138.4 282.9L133 291.4L142.6 301Z" fill="url(#f1798)"/><path d="M138.3 282.9L142.5 301.1L143.8 288.9Z" fill="url(#f1799)"/><path d="M93.4 272.1L89.1 274.6L87.5 284.8Z" fill="url(#f1800)"/><path d="M93.3 272.1L99.1 286.8L89 274.6Z" fill="url(#f1801)"/><path d="M93.3 272.1L87.4 284.6L97.5 296.6Z" fill="url(#f1802)"/><path d="M93.3 272.1L97.4 296.6L99.2 286.7Z" fill="url(#f1803)"/><path d="M130.7 281.2L127.3 283.3L123.4 292.4Z" fill="url(#f1804)"/><path d="M130.5 281.2L137.8 290.9L127.1 283.4Z" fill="url(#f1805)"/><path d="M130.6 281.2L123.3 292.2L133.9 300Z" fill="url(#f1806)"/><path d="M130.5 281.2L133.8 300.1L137.8 290.8Z" fill="url(#f1807)"/><path d="M98.5 272.3L94.2 277.5L92.3 287.8Z" fill="url(#f1808)"/><path d="M98.4 272.3L104.6 289.7L94.1 277.6Z" fill="url(#f1809)"/><path d="M98.4 272.3L92.1 287.7L102.6 299.4Z" fill="url(#f1810)"/><path d="M98.4 272.3L102.6 299.4L104.6 289.6Z" fill="url(#f1811)"/><path d="M121.8 254L118.7 286L116.6 293.7Z" fill="url(#f1812)"/><path d="M121.8 254L127.1 293.4L118.6 285.9Z" fill="url(#f1813)"/><path d="M121.8 254L116.5 293.7L124.9 301.2Z" fill="url(#f1814)"/><path d="M121.8 254L124.9 301.2L127 293.4Z" fill="url(#f1815)"/><path d="M85 281.4L81.9 277.9L77.7 284.2Z" fill="url(#f1816)"/><path d="M84.6 281.2L91.9 287.6L81.8 277.9Z" fill="url(#f1817)"/><path d="M84.9 281.2L77.7 284L87.8 293.8Z" fill="url(#f1818)"/><path d="M84.7 281.2L87.7 293.8L92 287.5Z" fill="url(#f1819)"/></g><text x="29.6" y="233" font-size="6.3" text-anchor="end" font-weight="bold" fill="#2a2a2a">-10</text><text x="29.6" y="210.9" font-size="6.3" text-anchor="end" font-weight="bold" fill="#2a2a2a">-5</text><text x="29.6" y="188.8" font-size="6.3" text-anchor="end" font-weight="bold" fill="#2a2a2a">0</text><text x="51.7" y="326.9" font-size="6.3" text-anchor="middle" font-weight="bold" fill="#2a2a2a">0</text><text x="43.9" y="304.9" font-size="6.3" text-anchor="middle" font-weight="bold" fill="#2a2a2a">2</text><text x="36.2" y="282.9" font-size="6.3" text-anchor="middle" font-weight="bold" fill="#2a2a2a">4</text><text x="28.4" y="260.9" font-size="6.3" text-anchor="middle" font-weight="bold" fill="#2a2a2a">6</text><text x="59.9" y="331.1" font-size="6.3" font-weight="bold" fill="#2a2a2a">0</text><text x="103.2" y="326" font-size="6.3" font-weight="bold" fill="#2a2a2a">5</text><text x="146.5" y="320.9" font-size="6.3" font-weight="bold" fill="#2a2a2a">10</text><text x="189.9" y="315.8" font-size="6.3" font-weight="bold" fill="#2a2a2a">15</text><text x="24.7" y="318.5" font-size="7" text-anchor="middle" font-weight="bold" fill="#222">Y [mm]</text><text x="122.9" y="333" font-size="7" text-anchor="middle" font-weight="bold" fill="#222">X [mm]</text><text x="0" y="0" font-size="10.3" font-weight="bold" text-anchor="middle" fill="#000" transform="translate(13.6 234.5) rotate(-90)">Growth Rate [mm/min]</text><text x="18.4" y="180" font-size="5.8" fill="#262626">10<tspan dy="-3" font-size="4.6">-3</tspan></text><rect x="204.3" y="175.4" width="6.6" height="143.7" fill="url(#cb)" stroke="#262626" stroke-width="0.3"/><line x1="204.3" y1="175.4" x2="205.5" y2="175.4" stroke="#262626" stroke-width="0.4"/><line x1="209.7" y1="175.4" x2="210.9" y2="175.4" stroke="#262626" stroke-width="0.4"/><text x="212.5" y="177.5" font-size="5.9" font-weight="bold" fill="#2a2a2a">0</text><line x1="204.3" y1="200.2" x2="205.5" y2="200.2" stroke="#262626" stroke-width="0.4"/><line x1="209.7" y1="200.2" x2="210.9" y2="200.2" stroke="#262626" stroke-width="0.4"/><text x="212.5" y="202.3" font-size="5.9" font-weight="bold" fill="#2a2a2a">-2</text><line x1="204.3" y1="225" x2="205.5" y2="225" stroke="#262626" stroke-width="0.4"/><line x1="209.7" y1="225" x2="210.9" y2="225" stroke="#262626" stroke-width="0.4"/><text x="212.5" y="227.1" font-size="5.9" font-weight="bold" fill="#2a2a2a">-4</text><line x1="204.3" y1="249.7" x2="205.5" y2="249.7" stroke="#262626" stroke-width="0.4"/><line x1="209.7" y1="249.7" x2="210.9" y2="249.7" stroke="#262626" stroke-width="0.4"/><text x="212.5" y="251.8" font-size="5.9" font-weight="bold" fill="#2a2a2a">-6</text><line x1="204.3" y1="274.5" x2="205.5" y2="274.5" stroke="#262626" stroke-width="0.4"/><line x1="209.7" y1="274.5" x2="210.9" y2="274.5" stroke="#262626" stroke-width="0.4"/><text x="212.5" y="276.6" font-size="5.9" font-weight="bold" fill="#2a2a2a">-8</text><line x1="204.3" y1="299.3" x2="205.5" y2="299.3" stroke="#262626" stroke-width="0.4"/><line x1="209.7" y1="299.3" x2="210.9" y2="299.3" stroke="#262626" stroke-width="0.4"/><text x="212.5" y="301.4" font-size="5.9" font-weight="bold" fill="#2a2a2a">-10</text><text x="211" y="328.5" font-size="5.8" fill="#262626"><tspan font-size="7.6">&#215;</tspan>10<tspan dy="-3" font-size="4.6">-3</tspan></text><text x="35.7" y="187.1" font-size="11.5" font-weight="bold" fill="#000">(d) <tspan font-style="italic">t = 39 min (80)</tspan></text><line x1="263.4" y1="239.5" x2="394" y2="224.2" stroke="#e3e3e3" stroke-width="0.5"/><line x1="263.4" y1="223.6" x2="394" y2="208.3" stroke="#e3e3e3" stroke-width="0.5"/><line x1="263.4" y1="207.7" x2="394" y2="192.4" stroke="#e3e3e3" stroke-width="0.5"/><line x1="263.4" y1="191.8" x2="394" y2="176.5" stroke="#e3e3e3" stroke-width="0.5"/><line x1="263.4" y1="239.5" x2="263.4" y2="191.8" stroke="#e3e3e3" stroke-width="0.5"/><line x1="305.7" y1="234.5" x2="305.7" y2="186.8" stroke="#e3e3e3" stroke-width="0.5"/><line x1="348" y1="229.6" x2="348" y2="181.9" stroke="#e3e3e3" stroke-width="0.5"/><line x1="390.4" y1="224.6" x2="390.4" y2="176.9" stroke="#e3e3e3" stroke-width="0.5"/><line x1="419.2" y1="300.1" x2="394" y2="224.2" stroke="#e3e3e3" stroke-width="0.5"/><line x1="419.2" y1="284.2" x2="394" y2="208.3" stroke="#e3e3e3" stroke-width="0.5"/><line x1="419.2" y1="268.3" x2="394" y2="192.4" stroke="#e3e3e3" stroke-width="0.5"/><line x1="419.2" y1="252.4" x2="394" y2="176.5" stroke="#e3e3e3" stroke-width="0.5"/><line x1="419.2" y1="300.1" x2="419.2" y2="252.4" stroke="#e3e3e3" stroke-width="0.5"/><line x1="412" y1="278.4" x2="412" y2="230.7" stroke="#e3e3e3" stroke-width="0.5"/><line x1="404.8" y1="256.7" x2="404.8" y2="209" stroke="#e3e3e3" stroke-width="0.5"/><line x1="397.6" y1="235" x2="397.6" y2="187.3" stroke="#e3e3e3" stroke-width="0.5"/><line x1="288.6" y1="315.4" x2="263.4" y2="239.5" stroke="#e3e3e3" stroke-width="0.5"/><line x1="330.9" y1="310.4" x2="305.7" y2="234.5" stroke="#e3e3e3" stroke-width="0.5"/><line x1="373.2" y1="305.5" x2="348" y2="229.6" stroke="#e3e3e3" stroke-width="0.5"/><line x1="415.6" y1="300.5" x2="390.4" y2="224.6" stroke="#e3e3e3" stroke-width="0.5"/><line x1="288.6" y1="315.4" x2="419.2" y2="300.1" stroke="#e3e3e3" stroke-width="0.5"/><line x1="281.4" y1="293.7" x2="412" y2="278.4" stroke="#e3e3e3" stroke-width="0.5"/><line x1="274.2" y1="272" x2="404.8" y2="256.7" stroke="#e3e3e3" stroke-width="0.5"/><line x1="267" y1="250.3" x2="397.6" y2="235" stroke="#e3e3e3" stroke-width="0.5"/><line x1="263.4" y1="239.5" x2="263.4" y2="191.8" stroke="#9a9a9a" stroke-width="0.6"/><line x1="288.6" y1="315.4" x2="263.4" y2="239.5" stroke="#9a9a9a" stroke-width="0.6"/><line x1="288.6" y1="315.4" x2="419.2" y2="300.1" stroke="#9a9a9a" stroke-width="0.6"/><line x1="288.6" y1="315.4" x2="289.5" y2="318.2" stroke="#9a9a9a" stroke-width="0.6"/><line x1="330.9" y1="310.4" x2="331.8" y2="313.2" stroke="#9a9a9a" stroke-width="0.6"/><line x1="373.2" y1="305.5" x2="374.1" y2="308.3" stroke="#9a9a9a" stroke-width="0.6"/><line x1="415.6" y1="300.5" x2="416.5" y2="303.3" stroke="#9a9a9a" stroke-width="0.6"/><line x1="288.6" y1="315.4" x2="285.6" y2="315.7" stroke="#9a9a9a" stroke-width="0.6"/><line x1="281.4" y1="293.7" x2="278.4" y2="294" stroke="#9a9a9a" stroke-width="0.6"/><line x1="274.2" y1="272" x2="271.2" y2="272.3" stroke="#9a9a9a" stroke-width="0.6"/><line x1="267" y1="250.3" x2="264" y2="250.6" stroke="#9a9a9a" stroke-width="0.6"/><polygon points="289,312.5 414.7,297.8 390.4,224.6 264.7,239.4" fill="#3f28ad"/><g clip-path="url(#cp4)"><path d="M364.3 200.7L361.2 243.8L358.7 253.7Z" fill="url(#f1820)"/><path d="M364.3 200.7L369.9 252.4L361.2 243.8Z" fill="url(#f1821)"/><path d="M364.3 200.7L358.7 253.7L367.4 262.2Z" fill="url(#f1822)"/><path d="M364.3 200.7L367.4 262.2L369.9 252.4Z" fill="url(#f1823)"/><path d="M380.3 205.8L377.2 248.9L374.7 258.8Z" fill="url(#f1824)"/><path d="M380.3 205.8L385.9 257.5L377.2 248.9Z" fill="url(#f1825)"/><path d="M380.3 205.8L374.7 258.8L383.4 267.3Z" fill="url(#f1826)"/><path d="M380.3 205.8L383.4 267.3L385.9 257.5Z" fill="url(#f1827)"/><path d="M373.1 206.2L370 249.3L367.5 259.2Z" fill="url(#f1828)"/><path d="M373.1 206.2L378.7 257.9L370 249.3Z" fill="url(#f1829)"/><path d="M373.1 206.2L367.5 259.2L376.2 267.7Z" fill="url(#f1830)"/><path d="M373.1 206.2L376.2 267.7L378.7 257.9Z" fill="url(#f1831)"/><path d="M338.6 206.8L335.5 249.9L333 259.8Z" fill="url(#f1832)"/><path d="M338.6 206.8L344.2 258.5L335.5 249.9Z" fill="url(#f1833)"/><path d="M338.6 206.8L333 259.8L341.7 268.3Z" fill="url(#f1834)"/><path d="M338.6 206.8L341.7 268.3L344.2 258.5Z" fill="url(#f1835)"/><path d="M347.4 210.4L344.3 253L341.8 262.8Z" fill="url(#f1836)"/><path d="M347.4 210.4L353 261.5L344.3 253Z" fill="url(#f1837)"/><path d="M347.4 210.4L341.8 262.8L350.5 271.4Z" fill="url(#f1838)"/><path d="M347.4 210.4L350.5 271.4L353 261.5Z" fill="url(#f1839)"/><path d="M396.1 218.7L393 260.2L390.5 270.1Z" fill="url(#f1840)"/><path d="M396.1 218.7L401.7 268.8L393 260.2Z" fill="url(#f1841)"/><path d="M396.1 218.7L390.5 270.1L399.2 278.7Z" fill="url(#f1842)"/><path d="M396.1 218.7L399.2 278.7L401.7 268.8Z" fill="url(#f1843)"/><path d="M358.4 219.6L355.3 261.1L352.8 271Z" fill="url(#f1844)"/><path d="M358.4 219.6L364 269.7L355.3 261.1Z" fill="url(#f1845)"/><path d="M358.4 219.6L352.8 271L361.5 279.6Z" fill="url(#f1846)"/><path d="M358.4 219.6L361.5 279.6L364 269.7Z" fill="url(#f1847)"/><path d="M367.1 222.4L364 263.9L361.5 273.8Z" fill="url(#f1848)"/><path d="M367.1 222.4L372.7 272.5L364 263.9Z" fill="url(#f1849)"/><path d="M367.1 222.4L361.5 273.8L370.2 282.4Z" fill="url(#f1850)"/><path d="M367.1 222.4L370.2 282.4L372.7 272.5Z" fill="url(#f1851)"/><path d="M333.6 226L330.5 267.5L328 277.4Z" fill="url(#f1852)"/><path d="M333.6 226L339.2 276.1L330.5 267.5Z" fill="url(#f1853)"/><path d="M333.6 226L328 277.4L336.7 286Z" fill="url(#f1854)"/><path d="M333.6 226L336.7 286L339.2 276.1Z" fill="url(#f1855)"/><path d="M383.1 227L380 268.5L377.5 278.4Z" fill="url(#f1856)"/><path d="M383.1 227L388.7 277.1L380 268.5Z" fill="url(#f1857)"/><path d="M383.1 227L377.5 278.4L386.2 287Z" fill="url(#f1858)"/><path d="M383.1 227L386.2 287L388.7 277.1Z" fill="url(#f1859)"/><path d="M390 233.4L386.9 274.9L384.4 284.8Z" fill="url(#f1860)"/><path d="M390 233.4L395.6 283.5L386.9 274.9Z" fill="url(#f1861)"/><path d="M390 233.4L384.4 284.8L393.1 293.4Z" fill="url(#f1862)"/><path d="M390 233.4L393.1 293.4L395.6 283.5Z" fill="url(#f1863)"/><path d="M375.3 237.1L372.2 278.6L369.7 288.5Z" fill="url(#f1864)"/><path d="M375.3 237.1L380.9 287.2L372.2 278.6Z" fill="url(#f1865)"/><path d="M375.3 237.1L369.7 288.5L378.4 297.1Z" fill="url(#f1866)"/><path d="M375.3 237.1L378.4 297.1L380.9 287.2Z" fill="url(#f1867)"/><path d="M325.7 238L322.6 279.5L320.1 289.4Z" fill="url(#f1868)"/><path d="M325.7 238L331.3 288.1L322.6 279.5Z" fill="url(#f1869)"/><path d="M325.7 238L320.1 289.4L328.8 298Z" fill="url(#f1870)"/><path d="M325.7 238L328.8 298L331.3 288.1Z" fill="url(#f1871)"/><path d="M354.8 244L351.7 285.5L349.2 295.4Z" fill="url(#f1872)"/><path d="M354.8 244L360.4 294.1L351.7 285.5Z" fill="url(#f1873)"/><path d="M354.8 244L349.2 295.4L357.9 304Z" fill="url(#f1874)"/><path d="M354.8 244L357.9 304L360.4 294.1Z" fill="url(#f1875)"/></g><text x="261.5" y="238.6" font-size="6.3" text-anchor="end" font-weight="bold" fill="#2a2a2a">-0.06</text><text x="261.5" y="222.7" font-size="6.3" text-anchor="end" font-weight="bold" fill="#2a2a2a">-0.04</text><text x="261.5" y="206.8" font-size="6.3" text-anchor="end" font-weight="bold" fill="#2a2a2a">-0.02</text><text x="261.5" y="190.9" font-size="6.3" text-anchor="end" font-weight="bold" fill="#2a2a2a">0</text><text x="281.6" y="322.6" font-size="6.3" text-anchor="middle" font-weight="bold" fill="#2a2a2a">0</text><text x="274.4" y="300.9" font-size="6.3" text-anchor="middle" font-weight="bold" fill="#2a2a2a">2</text><text x="267.2" y="279.2" font-size="6.3" text-anchor="middle" font-weight="bold" fill="#2a2a2a">4</text><text x="260" y="257.5" font-size="6.3" text-anchor="middle" font-weight="bold" fill="#2a2a2a">6</text><text x="289.8" y="326.8" font-size="6.3" font-weight="bold" fill="#2a2a2a">0</text><text x="332.1" y="321.8" font-size="6.3" font-weight="bold" fill="#2a2a2a">5</text><text x="374.4" y="316.9" font-size="6.3" font-weight="bold" fill="#2a2a2a">10</text><text x="416.8" y="311.9" font-size="6.3" font-weight="bold" fill="#2a2a2a">15</text><text x="256.2" y="314.8" font-size="7" text-anchor="middle" font-weight="bold" fill="#222">Y [mm]</text><text x="352.2" y="329.4" font-size="7" text-anchor="middle" font-weight="bold" fill="#222">X [mm]</text><text x="0" y="0" font-size="10.3" font-weight="bold" text-anchor="middle" fill="#000" transform="translate(240.3 234.8) rotate(-90)">Growth Rate [mm/min]</text><rect x="430.9" y="174.5" width="6.7" height="140.8" fill="url(#cb)" stroke="#262626" stroke-width="0.3"/><line x1="430.9" y1="185.9" x2="432.1" y2="185.9" stroke="#262626" stroke-width="0.4"/><line x1="436.4" y1="185.9" x2="437.6" y2="185.9" stroke="#262626" stroke-width="0.4"/><text x="439.2" y="188" font-size="5.9" font-weight="bold" fill="#2a2a2a">0</text><line x1="430.9" y1="207.3" x2="432.1" y2="207.3" stroke="#262626" stroke-width="0.4"/><line x1="436.4" y1="207.3" x2="437.6" y2="207.3" stroke="#262626" stroke-width="0.4"/><text x="439.2" y="209.4" font-size="5.9" font-weight="bold" fill="#2a2a2a">-0.01</text><line x1="430.9" y1="228.7" x2="432.1" y2="228.7" stroke="#262626" stroke-width="0.4"/><line x1="436.4" y1="228.7" x2="437.6" y2="228.7" stroke="#262626" stroke-width="0.4"/><text x="439.2" y="230.8" font-size="5.9" font-weight="bold" fill="#2a2a2a">-0.02</text><line x1="430.9" y1="250.2" x2="432.1" y2="250.2" stroke="#262626" stroke-width="0.4"/><line x1="436.4" y1="250.2" x2="437.6" y2="250.2" stroke="#262626" stroke-width="0.4"/><text x="439.2" y="252.3" font-size="5.9" font-weight="bold" fill="#2a2a2a">-0.03</text><line x1="430.9" y1="271.6" x2="432.1" y2="271.6" stroke="#262626" stroke-width="0.4"/><line x1="436.4" y1="271.6" x2="437.6" y2="271.6" stroke="#262626" stroke-width="0.4"/><text x="439.2" y="273.7" font-size="5.9" font-weight="bold" fill="#2a2a2a">-0.04</text><line x1="430.9" y1="293" x2="432.1" y2="293" stroke="#262626" stroke-width="0.4"/><line x1="436.4" y1="293" x2="437.6" y2="293" stroke="#262626" stroke-width="0.4"/><text x="439.2" y="295.1" font-size="5.9" font-weight="bold" fill="#2a2a2a">-0.05</text><line x1="430.9" y1="314.4" x2="432.1" y2="314.4" stroke="#262626" stroke-width="0.4"/><line x1="436.4" y1="314.4" x2="437.6" y2="314.4" stroke="#262626" stroke-width="0.4"/><text x="439.2" y="316.5" font-size="5.9" font-weight="bold" fill="#2a2a2a">-0.06</text><text x="272" y="187.1" font-size="11.5" font-weight="bold" fill="#000">(e) <tspan font-style="italic">t = 39.5 min (81)</tspan></text><line x1="491.6" y1="241" x2="623.2" y2="225.9" stroke="#e3e3e3" stroke-width="0.5"/><line x1="491.6" y1="224.5" x2="623.2" y2="209.4" stroke="#e3e3e3" stroke-width="0.5"/><line x1="491.6" y1="208.1" x2="623.2" y2="193" stroke="#e3e3e3" stroke-width="0.5"/><line x1="491.6" y1="191.6" x2="623.2" y2="176.5" stroke="#e3e3e3" stroke-width="0.5"/><line x1="491.6" y1="241" x2="491.6" y2="191.6" stroke="#e3e3e3" stroke-width="0.5"/><line x1="534.2" y1="236.1" x2="534.2" y2="186.7" stroke="#e3e3e3" stroke-width="0.5"/><line x1="576.9" y1="231.2" x2="576.9" y2="181.8" stroke="#e3e3e3" stroke-width="0.5"/><line x1="619.5" y1="226.3" x2="619.5" y2="176.9" stroke="#e3e3e3" stroke-width="0.5"/><line x1="648.6" y1="302.9" x2="623.2" y2="225.9" stroke="#e3e3e3" stroke-width="0.5"/><line x1="648.6" y1="286.4" x2="623.2" y2="209.4" stroke="#e3e3e3" stroke-width="0.5"/><line x1="648.6" y1="270" x2="623.2" y2="193" stroke="#e3e3e3" stroke-width="0.5"/><line x1="648.6" y1="253.5" x2="623.2" y2="176.5" stroke="#e3e3e3" stroke-width="0.5"/><line x1="648.6" y1="302.9" x2="648.6" y2="253.5" stroke="#e3e3e3" stroke-width="0.5"/><line x1="641.3" y1="280.9" x2="641.3" y2="231.5" stroke="#e3e3e3" stroke-width="0.5"/><line x1="634.1" y1="258.9" x2="634.1" y2="209.5" stroke="#e3e3e3" stroke-width="0.5"/><line x1="626.8" y1="236.9" x2="626.8" y2="187.5" stroke="#e3e3e3" stroke-width="0.5"/><line x1="517" y1="318" x2="491.6" y2="241" stroke="#e3e3e3" stroke-width="0.5"/><line x1="559.6" y1="313.1" x2="534.2" y2="236.1" stroke="#e3e3e3" stroke-width="0.5"/><line x1="602.3" y1="308.2" x2="576.9" y2="231.2" stroke="#e3e3e3" stroke-width="0.5"/><line x1="644.9" y1="303.3" x2="619.5" y2="226.3" stroke="#e3e3e3" stroke-width="0.5"/><line x1="517" y1="318" x2="648.6" y2="302.9" stroke="#e3e3e3" stroke-width="0.5"/><line x1="509.7" y1="296" x2="641.3" y2="280.9" stroke="#e3e3e3" stroke-width="0.5"/><line x1="502.5" y1="274" x2="634.1" y2="258.9" stroke="#e3e3e3" stroke-width="0.5"/><line x1="495.2" y1="252" x2="626.8" y2="236.9" stroke="#e3e3e3" stroke-width="0.5"/><line x1="491.6" y1="241" x2="491.6" y2="191.6" stroke="#9a9a9a" stroke-width="0.6"/><line x1="517" y1="318" x2="491.6" y2="241" stroke="#9a9a9a" stroke-width="0.6"/><line x1="517" y1="318" x2="648.6" y2="302.9" stroke="#9a9a9a" stroke-width="0.6"/><line x1="517" y1="318" x2="517.9" y2="320.8" stroke="#9a9a9a" stroke-width="0.6"/><line x1="559.6" y1="313.1" x2="560.5" y2="315.9" stroke="#9a9a9a" stroke-width="0.6"/><line x1="602.3" y1="308.2" x2="603.2" y2="311" stroke="#9a9a9a" stroke-width="0.6"/><line x1="644.9" y1="303.3" x2="645.8" y2="306.1" stroke="#9a9a9a" stroke-width="0.6"/><line x1="517" y1="318" x2="514" y2="318.3" stroke="#9a9a9a" stroke-width="0.6"/><line x1="509.7" y1="296" x2="506.7" y2="296.3" stroke="#9a9a9a" stroke-width="0.6"/><line x1="502.5" y1="274" x2="499.5" y2="274.3" stroke="#9a9a9a" stroke-width="0.6"/><line x1="495.2" y1="252" x2="492.2" y2="252.3" stroke="#9a9a9a" stroke-width="0.6"/><polygon points="517.4,315.1 644,300.6 619.5,226.3 492.9,240.9" fill="#3f28ad"/><g clip-path="url(#cp5)"><path d="M593 202.5L589.9 246.8L587.3 256.8Z" fill="url(#f1876)"/><path d="M593 202.5L598.7 255.5L589.9 246.8Z" fill="url(#f1877)"/><path d="M593 202.5L587.3 256.8L596.1 265.5Z" fill="url(#f1878)"/><path d="M593 202.5L596.1 265.5L598.7 255.5Z" fill="url(#f1879)"/><path d="M585.3 205.8L582.2 250.1L579.6 260.1Z" fill="url(#f1880)"/><path d="M585.3 205.8L591 258.8L582.2 250.1Z" fill="url(#f1881)"/><path d="M585.3 205.8L579.6 260.1L588.4 268.8Z" fill="url(#f1882)"/><path d="M585.3 205.8L588.4 268.8L591 258.8Z" fill="url(#f1883)"/><path d="M609.5 208L606.4 251.7L603.8 261.7Z" fill="url(#f1884)"/><path d="M609.5 208L615.2 260.4L606.4 251.7Z" fill="url(#f1885)"/><path d="M609.5 208L603.8 261.7L612.6 270.4Z" fill="url(#f1886)"/><path d="M609.5 208L612.6 270.4L615.2 260.4Z" fill="url(#f1887)"/><path d="M601.8 209.5L598.7 253.2L596.1 263.2Z" fill="url(#f1888)"/><path d="M601.8 209.5L607.5 261.9L598.7 253.2Z" fill="url(#f1889)"/><path d="M601.8 209.5L596.1 263.2L604.9 271.9Z" fill="url(#f1890)"/><path d="M601.8 209.5L604.9 271.9L607.5 261.9Z" fill="url(#f1891)"/><path d="M576.1 210.4L573 254.1L570.4 264.1Z" fill="url(#f1892)"/><path d="M576.1 210.4L581.8 262.8L573 254.1Z" fill="url(#f1893)"/><path d="M576.1 210.4L570.4 264.1L579.2 272.8Z" fill="url(#f1894)"/><path d="M576.1 210.4L579.2 272.8L581.8 262.8Z" fill="url(#f1895)"/><path d="M540.6 220.5L537.5 263.2L534.9 273.2Z" fill="url(#f1896)"/><path d="M540.6 220.5L546.3 271.9L537.4 263.2Z" fill="url(#f1897)"/><path d="M540.6 220.5L534.9 273.2L543.7 281.9Z" fill="url(#f1898)"/><path d="M540.6 220.5L543.7 281.9L546.3 271.9Z" fill="url(#f1899)"/><path d="M625.7 220.5L622.6 263.2L620 273.2Z" fill="url(#f1900)"/><path d="M625.7 220.5L631.4 271.9L622.5 263.2Z" fill="url(#f1901)"/><path d="M625.7 220.5L620 273.2L628.8 281.9Z" fill="url(#f1902)"/><path d="M625.7 220.5L628.8 281.9L631.4 271.9Z" fill="url(#f1903)"/><path d="M568.2 221.5L565.1 264.2L562.5 274.2Z" fill="url(#f1904)"/><path d="M568.2 221.5L573.9 272.9L565 264.2Z" fill="url(#f1905)"/><path d="M568.2 221.5L562.5 274.2L571.3 282.9Z" fill="url(#f1906)"/><path d="M568.2 221.5L571.3 282.9L573.9 272.9Z" fill="url(#f1907)"/><path d="M562.3 226L559.2 268.7L556.6 278.7Z" fill="url(#f1908)"/><path d="M562.3 226L568 277.4L559.1 268.7Z" fill="url(#f1909)"/><path d="M562.3 226L556.6 278.7L565.4 287.4Z" fill="url(#f1910)"/><path d="M562.3 226L565.4 287.4L568 277.4Z" fill="url(#f1911)"/><path d="M612.3 229.7L609.2 272.4L606.6 282.4Z" fill="url(#f1912)"/><path d="M612.3 229.7L618 281.1L609.1 272.4Z" fill="url(#f1913)"/><path d="M612.3 229.7L606.6 282.4L615.4 291.1Z" fill="url(#f1914)"/><path d="M612.3 229.7L615.4 291.1L618 281.1Z" fill="url(#f1915)"/><path d="M594.8 236.1L591.7 278.8L589.1 288.8Z" fill="url(#f1916)"/><path d="M594.8 236.1L600.5 287.5L591.6 278.8Z" fill="url(#f1917)"/><path d="M594.8 236.1L589.1 288.8L597.9 297.5Z" fill="url(#f1918)"/><path d="M594.8 236.1L597.9 297.5L600.5 287.5Z" fill="url(#f1919)"/><path d="M619.1 236.1L616 278.8L613.4 288.8Z" fill="url(#f1920)"/><path d="M619.1 236.1L624.8 287.5L615.9 278.8Z" fill="url(#f1921)"/><path d="M619.1 236.1L613.4 288.8L622.2 297.5Z" fill="url(#f1922)"/><path d="M619.1 236.1L622.2 297.5L624.8 287.5Z" fill="url(#f1923)"/><path d="M554.4 238.9L551.3 281.6L548.7 291.6Z" fill="url(#f1924)"/><path d="M554.4 238.9L560.1 290.3L551.2 281.6Z" fill="url(#f1925)"/><path d="M554.4 238.9L548.7 291.6L557.5 300.3Z" fill="url(#f1926)"/><path d="M554.4 238.9L557.5 300.3L560.1 290.3Z" fill="url(#f1927)"/><path d="M604 238.9L600.9 281.6L598.3 291.6Z" fill="url(#f1928)"/><path d="M604 238.9L609.7 290.3L600.8 281.6Z" fill="url(#f1929)"/><path d="M604 238.9L598.3 291.6L607.1 300.3Z" fill="url(#f1930)"/><path d="M604 238.9L607.1 300.3L609.7 290.3Z" fill="url(#f1931)"/><path d="M542.5 250.8L539.4 293.5L536.8 303.5Z" fill="url(#f1932)"/><path d="M542.5 250.8L548.2 302.2L539.3 293.5Z" fill="url(#f1933)"/><path d="M542.5 250.8L536.8 303.5L545.6 312.2Z" fill="url(#f1934)"/><path d="M542.5 250.8L545.6 312.2L548.2 302.2Z" fill="url(#f1935)"/><path d="M578.8 256.4L575.7 299.1L573.1 309.1Z" fill="url(#f1936)"/><path d="M578.8 256.4L584.5 307.8L575.6 299.1Z" fill="url(#f1937)"/><path d="M578.8 256.4L573.1 309.1L581.9 317.8Z" fill="url(#f1938)"/><path d="M578.8 256.4L581.9 317.8L584.5 307.8Z" fill="url(#f1939)"/></g><text x="489.7" y="240.1" font-size="6.3" text-anchor="end" font-weight="bold" fill="#2a2a2a">-0.06</text><text x="489.7" y="223.6" font-size="6.3" text-anchor="end" font-weight="bold" fill="#2a2a2a">-0.04</text><text x="489.7" y="207.2" font-size="6.3" text-anchor="end" font-weight="bold" fill="#2a2a2a">-0.02</text><text x="489.7" y="190.7" font-size="6.3" text-anchor="end" font-weight="bold" fill="#2a2a2a">0</text><text x="510" y="325.2" font-size="6.3" text-anchor="middle" font-weight="bold" fill="#2a2a2a">0</text><text x="502.7" y="303.2" font-size="6.3" text-anchor="middle" font-weight="bold" fill="#2a2a2a">2</text><text x="495.5" y="281.2" font-size="6.3" text-anchor="middle" font-weight="bold" fill="#2a2a2a">4</text><text x="488.2" y="259.2" font-size="6.3" text-anchor="middle" font-weight="bold" fill="#2a2a2a">6</text><text x="518.2" y="329.4" font-size="6.3" font-weight="bold" fill="#2a2a2a">0</text><text x="560.8" y="324.5" font-size="6.3" font-weight="bold" fill="#2a2a2a">5</text><text x="603.5" y="319.6" font-size="6.3" font-weight="bold" fill="#2a2a2a">10</text><text x="646.1" y="314.7" font-size="6.3" font-weight="bold" fill="#2a2a2a">15</text><text x="483.5" y="316.3" font-size="7" text-anchor="middle" font-weight="bold" fill="#222">Y [mm]</text><text x="581" y="332" font-size="7" text-anchor="middle" font-weight="bold" fill="#222">X [mm]</text><text x="0" y="0" font-size="10.3" font-weight="bold" text-anchor="middle" fill="#000" transform="translate(469.6 234.5) rotate(-90)">Growth Rate [mm/min]</text><rect x="660" y="176.3" width="6.9" height="141.2" fill="url(#cb)" stroke="#262626" stroke-width="0.3"/><line x1="660" y1="186.4" x2="661.2" y2="186.4" stroke="#262626" stroke-width="0.4"/><line x1="665.7" y1="186.4" x2="666.9" y2="186.4" stroke="#262626" stroke-width="0.4"/><text x="668.5" y="188.5" font-size="5.9" font-weight="bold" fill="#2a2a2a">0</text><line x1="660" y1="208.1" x2="661.2" y2="208.1" stroke="#262626" stroke-width="0.4"/><line x1="665.7" y1="208.1" x2="666.9" y2="208.1" stroke="#262626" stroke-width="0.4"/><text x="668.5" y="210.2" font-size="5.9" font-weight="bold" fill="#2a2a2a">-0.01</text><line x1="660" y1="229.8" x2="661.2" y2="229.8" stroke="#262626" stroke-width="0.4"/><line x1="665.7" y1="229.8" x2="666.9" y2="229.8" stroke="#262626" stroke-width="0.4"/><text x="668.5" y="231.9" font-size="5.9" font-weight="bold" fill="#2a2a2a">-0.02</text><line x1="660" y1="251.5" x2="661.2" y2="251.5" stroke="#262626" stroke-width="0.4"/><line x1="665.7" y1="251.5" x2="666.9" y2="251.5" stroke="#262626" stroke-width="0.4"/><text x="668.5" y="253.6" font-size="5.9" font-weight="bold" fill="#2a2a2a">-0.03</text><line x1="660" y1="273.2" x2="661.2" y2="273.2" stroke="#262626" stroke-width="0.4"/><line x1="665.7" y1="273.2" x2="666.9" y2="273.2" stroke="#262626" stroke-width="0.4"/><text x="668.5" y="275.3" font-size="5.9" font-weight="bold" fill="#2a2a2a">-0.04</text><line x1="660" y1="294.9" x2="661.2" y2="294.9" stroke="#262626" stroke-width="0.4"/><line x1="665.7" y1="294.9" x2="666.9" y2="294.9" stroke="#262626" stroke-width="0.4"/><text x="668.5" y="297" font-size="5.9" font-weight="bold" fill="#2a2a2a">-0.05</text><line x1="660" y1="316.6" x2="661.2" y2="316.6" stroke="#262626" stroke-width="0.4"/><line x1="665.7" y1="316.6" x2="666.9" y2="316.6" stroke="#262626" stroke-width="0.4"/><text x="668.5" y="318.7" font-size="5.9" font-weight="bold" fill="#2a2a2a">-0.06</text><text x="493.6" y="186.8" font-size="11.5" font-weight="bold" fill="#000">(f) <tspan font-style="italic">t = 42.5 min (85)</tspan></text><line x1="20.1" y1="442" x2="175.5" y2="442" stroke="#d9d9d9" stroke-width="0.6"/><line x1="20.1" y1="426.9" x2="175.5" y2="426.9" stroke="#d9d9d9" stroke-width="0.6"/><line x1="20.1" y1="411.9" x2="175.5" y2="411.9" stroke="#d9d9d9" stroke-width="0.6"/><line x1="20.1" y1="381.8" x2="175.5" y2="381.8" stroke="#d9d9d9" stroke-width="0.6"/><line x1="20.1" y1="366.7" x2="175.5" y2="366.7" stroke="#d9d9d9" stroke-width="0.6"/><line x1="20.1" y1="366.7" x2="20.1" y2="442" stroke="#d9d9d9" stroke-width="0.6"/><line x1="59" y1="366.7" x2="59" y2="442" stroke="#d9d9d9" stroke-width="0.6"/><line x1="136.7" y1="366.7" x2="136.7" y2="442" stroke="#d9d9d9" stroke-width="0.6"/><line x1="175.5" y1="366.7" x2="175.5" y2="442" stroke="#d9d9d9" stroke-width="0.6"/><line x1="20.1" y1="396.8" x2="175.5" y2="396.8" stroke="#bfbfbf" stroke-width="0.8"/><line x1="97.8" y1="366.7" x2="97.8" y2="442" stroke="#bfbfbf" stroke-width="0.8"/><line x1="20.1" y1="395.2" x2="20.1" y2="396.8" stroke="#bfbfbf" stroke-width="0.5"/><line x1="27.9" y1="395.2" x2="27.9" y2="396.8" stroke="#bfbfbf" stroke-width="0.5"/><line x1="35.6" y1="395.2" x2="35.6" y2="396.8" stroke="#bfbfbf" stroke-width="0.5"/><line x1="43.4" y1="395.2" x2="43.4" y2="396.8" stroke="#bfbfbf" stroke-width="0.5"/><line x1="51.2" y1="395.2" x2="51.2" y2="396.8" stroke="#bfbfbf" stroke-width="0.5"/><line x1="58.9" y1="395.2" x2="58.9" y2="396.8" stroke="#bfbfbf" stroke-width="0.5"/><line x1="66.7" y1="395.2" x2="66.7" y2="396.8" stroke="#bfbfbf" stroke-width="0.5"/><line x1="74.5" y1="395.2" x2="74.5" y2="396.8" stroke="#bfbfbf" stroke-width="0.5"/><line x1="82.3" y1="395.2" x2="82.3" y2="396.8" stroke="#bfbfbf" stroke-width="0.5"/><line x1="90" y1="395.2" x2="90" y2="396.8" stroke="#bfbfbf" stroke-width="0.5"/><line x1="97.8" y1="395.2" x2="97.8" y2="396.8" stroke="#bfbfbf" stroke-width="0.5"/><line x1="105.6" y1="395.2" x2="105.6" y2="396.8" stroke="#bfbfbf" stroke-width="0.5"/><line x1="113.3" y1="395.2" x2="113.3" y2="396.8" stroke="#bfbfbf" stroke-width="0.5"/><line x1="121.1" y1="395.2" x2="121.1" y2="396.8" stroke="#bfbfbf" stroke-width="0.5"/><line x1="128.9" y1="395.2" x2="128.9" y2="396.8" stroke="#bfbfbf" stroke-width="0.5"/><line x1="136.7" y1="395.2" x2="136.7" y2="396.8" stroke="#bfbfbf" stroke-width="0.5"/><line x1="144.4" y1="395.2" x2="144.4" y2="396.8" stroke="#bfbfbf" stroke-width="0.5"/><line x1="152.2" y1="395.2" x2="152.2" y2="396.8" stroke="#bfbfbf" stroke-width="0.5"/><line x1="160" y1="395.2" x2="160" y2="396.8" stroke="#bfbfbf" stroke-width="0.5"/><line x1="167.7" y1="395.2" x2="167.7" y2="396.8" stroke="#bfbfbf" stroke-width="0.5"/><line x1="175.5" y1="395.2" x2="175.5" y2="396.8" stroke="#bfbfbf" stroke-width="0.5"/><line x1="97.8" y1="442" x2="99.4" y2="442" stroke="#bfbfbf" stroke-width="0.5"/><line x1="97.8" y1="434.5" x2="99.4" y2="434.5" stroke="#bfbfbf" stroke-width="0.5"/><line x1="97.8" y1="426.9" x2="99.4" y2="426.9" stroke="#bfbfbf" stroke-width="0.5"/><line x1="97.8" y1="419.4" x2="99.4" y2="419.4" stroke="#bfbfbf" stroke-width="0.5"/><line x1="97.8" y1="411.9" x2="99.4" y2="411.9" stroke="#bfbfbf" stroke-width="0.5"/><line x1="97.8" y1="404.4" x2="99.4" y2="404.4" stroke="#bfbfbf" stroke-width="0.5"/><line x1="97.8" y1="396.8" x2="99.4" y2="396.8" stroke="#bfbfbf" stroke-width="0.5"/><line x1="97.8" y1="389.3" x2="99.4" y2="389.3" stroke="#bfbfbf" stroke-width="0.5"/><line x1="97.8" y1="381.8" x2="99.4" y2="381.8" stroke="#bfbfbf" stroke-width="0.5"/><line x1="97.8" y1="374.2" x2="99.4" y2="374.2" stroke="#bfbfbf" stroke-width="0.5"/><line x1="97.8" y1="366.7" x2="99.4" y2="366.7" stroke="#bfbfbf" stroke-width="0.5"/><text x="13.4" y="444.9" font-size="8" text-anchor="end" font-weight="bold" fill="#000">-6</text><text x="13.4" y="429.8" font-size="8" text-anchor="end" font-weight="bold" fill="#000">-4</text><text x="13.4" y="414.8" font-size="8" text-anchor="end" font-weight="bold" fill="#000">-2</text><text x="13.4" y="399.7" font-size="8" text-anchor="end" font-weight="bold" fill="#000">0</text><text x="13.4" y="384.6" font-size="8" text-anchor="end" font-weight="bold" fill="#000">2</text><text x="13.4" y="369.6" font-size="8" text-anchor="end" font-weight="bold" fill="#000">4</text><text x="20.1" y="455.6" font-size="8" text-anchor="middle" font-weight="bold" fill="#000">-1</text><text x="59" y="455.6" font-size="8" text-anchor="middle" font-weight="bold" fill="#000">-0.5</text><text x="97.8" y="455.6" font-size="8" text-anchor="middle" font-weight="bold" fill="#000">0</text><text x="136.7" y="455.6" font-size="8" text-anchor="middle" font-weight="bold" fill="#000">0.5</text><text x="175.5" y="455.6" font-size="8" text-anchor="middle" font-weight="bold" fill="#000">1</text><polyline points="20.1,437.5 21.4,433.6 22.7,430 24,426.7 25.3,423.7 26.6,420.9 27.9,418.4 29.2,416.1 30.5,414.1 31.8,412.2 33,410.4 34.3,408.9 35.6,407.5 36.9,406.2 38.2,405.1 39.5,404.1 40.8,403.1 42.1,402.3 43.4,401.6 44.7,401 46,400.4 47.3,399.9 48.6,399.4 49.9,399.1 51.2,398.7 52.5,398.4 53.8,398.2 55.1,397.9 56.4,397.8 57.7,397.6 59,397.5 60.2,397.3 61.5,397.2 62.8,397.2 64.1,397.1 65.4,397 66.7,397 68,396.9 69.3,396.9 70.6,396.9 71.9,396.9 73.2,396.9 74.5,396.8 75.8,396.8 77.1,396.8 78.4,396.8 79.7,396.8 81,396.8 82.3,396.8 83.6,396.8 84.8,396.8 86.1,396.8 87.4,396.8 88.7,396.8 90,396.8 91.3,396.8 92.6,396.8 93.9,396.8 95.2,396.8 96.5,396.8 97.8,396.8" fill="none" stroke="#4472c4" stroke-width="2.0" stroke-linejoin="round" stroke-linecap="round"/><polyline points="97.8,396.8 99,396.8 100.3,396.8 101.5,396.8 102.7,396.7 104,396.7 105.2,396.6 106.4,396.6 107.6,396.5 108.9,396.4 110.1,396.3 111.3,396.2 112.6,396.1 113.8,396 115,395.8 116.3,395.7 117.5,395.5 118.7,395.4 119.9,395.2 121.2,395 122.4,394.9 123.6,394.7 124.9,394.5 126.1,394.3 127.3,394 128.6,393.8 129.8,393.6 131,393.3 132.2,393.1 133.5,392.8 134.7,392.6 135.9,392.3 137.2,392 138.4,391.7 139.6,391.4 140.9,391.1 142.1,390.8 143.3,390.5 144.5,390.2 145.8,389.8 147,389.5 148.2,389.1 149.5,388.8 150.7,388.4 151.9,388 153.2,387.6 154.4,387.3 155.6,386.9 156.9,386.4 158.1,386 159.3,385.6 160.5,385.2 161.8,384.7 163,384.3 164.2,383.8 165.5,383.4 166.7,382.9 167.9,382.4 169.2,382 170.4,381.5 171.6,381" fill="none" stroke="#ed7d31" stroke-width="2.0" stroke-linejoin="round" stroke-linecap="round"/><text x="21.7" y="378.6" font-size="11.5" font-weight="bold" fill="#000">(g) LF(L<tspan font-size="6.8" dy="-4.6">(1)</tspan><tspan dy="4.6">, T</tspan><tspan font-size="6.8" dy="-4.6">(1)</tspan><tspan dy="4.6">)</tspan></text><text x="35.9" y="418.7" font-size="10.5" font-weight="bold" font-style="italic" fill="#2e6fc4">bubble</text><text x="35.9" y="431.8" font-size="10.5" font-weight="bold" font-style="italic" fill="#2e6fc4">shrinking</text><g font-family="Liberation Serif" stroke-width="0.2"><text x="0" y="0" font-size="11.8" font-style="italic" fill="#1a1a1a" stroke="#1a1a1a" stroke-width="0.25" letter-spacing="0.3" transform="translate(114 436.8) scale(0.8 1)">II</text><line x1="115.5" y1="427.1" x2="121.2" y2="427.1" stroke="#a87878" stroke-width="0.65"/><text x="122.4" y="432.4" font-size="7.8" fill="#b09090">(<tspan font-style="italic" fill="#2a2a2a" stroke="#2a2a2a">t</tspan>)</text><text x="120.8" y="439.3" font-size="7.3" font-style="italic" fill="#1a1a1a" stroke="#1a1a1a">ST</text><text x="130.9" y="436.8" font-size="11.5" fill="#1a1a1a">(</text><text x="134" y="436.8" font-size="12.4" font-style="italic" fill="#1a1a1a" stroke="#1a1a1a">L</text><text x="142.6" y="432.5" font-size="8.2" fill="#1a1a1a">(1)</text><text x="151.6" y="436.8" font-size="11.5" fill="#1a1a1a">,</text><text x="153.8" y="436.8" font-size="12.2" font-style="italic" fill="#1a1a1a" stroke="#1a1a1a">T</text><text x="162" y="432.5" font-size="8.2" fill="#1a1a1a">(1)</text><text x="171.2" y="436.8" font-size="11.5" fill="#1a1a1a">)</text></g><line x1="202.8" y1="442.4" x2="350.2" y2="442.4" stroke="#d9d9d9" stroke-width="0.6"/><line x1="202.8" y1="431.6" x2="350.2" y2="431.6" stroke="#d9d9d9" stroke-width="0.6"/><line x1="202.8" y1="420.9" x2="350.2" y2="420.9" stroke="#d9d9d9" stroke-width="0.6"/><line x1="202.8" y1="410.1" x2="350.2" y2="410.1" stroke="#d9d9d9" stroke-width="0.6"/><line x1="202.8" y1="388.5" x2="350.2" y2="388.5" stroke="#d9d9d9" stroke-width="0.6"/><line x1="202.8" y1="377.8" x2="350.2" y2="377.8" stroke="#d9d9d9" stroke-width="0.6"/><line x1="202.8" y1="367" x2="350.2" y2="367" stroke="#d9d9d9" stroke-width="0.6"/><line x1="202.8" y1="367" x2="202.8" y2="442.4" stroke="#d9d9d9" stroke-width="0.6"/><line x1="239.7" y1="367" x2="239.7" y2="442.4" stroke="#d9d9d9" stroke-width="0.6"/><line x1="313.4" y1="367" x2="313.4" y2="442.4" stroke="#d9d9d9" stroke-width="0.6"/><line x1="350.2" y1="367" x2="350.2" y2="442.4" stroke="#d9d9d9" stroke-width="0.6"/><line x1="202.8" y1="399.3" x2="350.2" y2="399.3" stroke="#bfbfbf" stroke-width="0.8"/><line x1="276.5" y1="367" x2="276.5" y2="442.4" stroke="#bfbfbf" stroke-width="0.8"/><line x1="202.8" y1="397.7" x2="202.8" y2="399.3" stroke="#bfbfbf" stroke-width="0.5"/><line x1="210.2" y1="397.7" x2="210.2" y2="399.3" stroke="#bfbfbf" stroke-width="0.5"/><line x1="217.5" y1="397.7" x2="217.5" y2="399.3" stroke="#bfbfbf" stroke-width="0.5"/><line x1="224.9" y1="397.7" x2="224.9" y2="399.3" stroke="#bfbfbf" stroke-width="0.5"/><line x1="232.3" y1="397.7" x2="232.3" y2="399.3" stroke="#bfbfbf" stroke-width="0.5"/><line x1="239.7" y1="397.7" x2="239.7" y2="399.3" stroke="#bfbfbf" stroke-width="0.5"/><line x1="247" y1="397.7" x2="247" y2="399.3" stroke="#bfbfbf" stroke-width="0.5"/><line x1="254.4" y1="397.7" x2="254.4" y2="399.3" stroke="#bfbfbf" stroke-width="0.5"/><line x1="261.8" y1="397.7" x2="261.8" y2="399.3" stroke="#bfbfbf" stroke-width="0.5"/><line x1="269.1" y1="397.7" x2="269.1" y2="399.3" stroke="#bfbfbf" stroke-width="0.5"/><line x1="276.5" y1="397.7" x2="276.5" y2="399.3" stroke="#bfbfbf" stroke-width="0.5"/><line x1="283.9" y1="397.7" x2="283.9" y2="399.3" stroke="#bfbfbf" stroke-width="0.5"/><line x1="291.2" y1="397.7" x2="291.2" y2="399.3" stroke="#bfbfbf" stroke-width="0.5"/><line x1="298.6" y1="397.7" x2="298.6" y2="399.3" stroke="#bfbfbf" stroke-width="0.5"/><line x1="306" y1="397.7" x2="306" y2="399.3" stroke="#bfbfbf" stroke-width="0.5"/><line x1="313.4" y1="397.7" x2="313.4" y2="399.3" stroke="#bfbfbf" stroke-width="0.5"/><line x1="320.7" y1="397.7" x2="320.7" y2="399.3" stroke="#bfbfbf" stroke-width="0.5"/><line x1="328.1" y1="397.7" x2="328.1" y2="399.3" stroke="#bfbfbf" stroke-width="0.5"/><line x1="335.5" y1="397.7" x2="335.5" y2="399.3" stroke="#bfbfbf" stroke-width="0.5"/><line x1="342.8" y1="397.7" x2="342.8" y2="399.3" stroke="#bfbfbf" stroke-width="0.5"/><line x1="350.2" y1="397.7" x2="350.2" y2="399.3" stroke="#bfbfbf" stroke-width="0.5"/><line x1="276.5" y1="442.4" x2="278.1" y2="442.4" stroke="#bfbfbf" stroke-width="0.5"/><line x1="276.5" y1="437" x2="278.1" y2="437" stroke="#bfbfbf" stroke-width="0.5"/><line x1="276.5" y1="431.6" x2="278.1" y2="431.6" stroke="#bfbfbf" stroke-width="0.5"/><line x1="276.5" y1="426.2" x2="278.1" y2="426.2" stroke="#bfbfbf" stroke-width="0.5"/><line x1="276.5" y1="420.9" x2="278.1" y2="420.9" stroke="#bfbfbf" stroke-width="0.5"/><line x1="276.5" y1="415.5" x2="278.1" y2="415.5" stroke="#bfbfbf" stroke-width="0.5"/><line x1="276.5" y1="410.1" x2="278.1" y2="410.1" stroke="#bfbfbf" stroke-width="0.5"/><line x1="276.5" y1="404.7" x2="278.1" y2="404.7" stroke="#bfbfbf" stroke-width="0.5"/><line x1="276.5" y1="399.3" x2="278.1" y2="399.3" stroke="#bfbfbf" stroke-width="0.5"/><line x1="276.5" y1="393.9" x2="278.1" y2="393.9" stroke="#bfbfbf" stroke-width="0.5"/><line x1="276.5" y1="388.5" x2="278.1" y2="388.5" stroke="#bfbfbf" stroke-width="0.5"/><line x1="276.5" y1="383.2" x2="278.1" y2="383.2" stroke="#bfbfbf" stroke-width="0.5"/><line x1="276.5" y1="377.8" x2="278.1" y2="377.8" stroke="#bfbfbf" stroke-width="0.5"/><line x1="276.5" y1="372.4" x2="278.1" y2="372.4" stroke="#bfbfbf" stroke-width="0.5"/><line x1="276.5" y1="367" x2="278.1" y2="367" stroke="#bfbfbf" stroke-width="0.5"/><text x="195.6" y="445.3" font-size="8" text-anchor="end" font-weight="bold" fill="#000">-2</text><text x="195.6" y="434.5" font-size="8" text-anchor="end" font-weight="bold" fill="#000">-1.5</text><text x="195.6" y="423.7" font-size="8" text-anchor="end" font-weight="bold" fill="#000">-1</text><text x="195.6" y="413" font-size="8" text-anchor="end" font-weight="bold" fill="#000">-0.5</text><text x="195.6" y="402.2" font-size="8" text-anchor="end" font-weight="bold" fill="#000">0</text><text x="195.6" y="391.4" font-size="8" text-anchor="end" font-weight="bold" fill="#000">0.5</text><text x="195.6" y="380.7" font-size="8" text-anchor="end" font-weight="bold" fill="#000">1</text><text x="195.6" y="369.9" font-size="8" text-anchor="end" font-weight="bold" fill="#000">1.5</text><text x="202.8" y="455.6" font-size="8" text-anchor="middle" font-weight="bold" fill="#000">-1</text><text x="239.7" y="455.6" font-size="8" text-anchor="middle" font-weight="bold" fill="#000">-0.5</text><text x="276.5" y="455.6" font-size="8" text-anchor="middle" font-weight="bold" fill="#000">0</text><text x="313.4" y="455.6" font-size="8" text-anchor="middle" font-weight="bold" fill="#000">0.5</text><text x="350.2" y="455.6" font-size="8" text-anchor="middle" font-weight="bold" fill="#000">1</text><polyline points="202.8,430.1 204,426.5 205.3,423.2 206.5,420.3 207.7,417.7 208.9,415.4 210.2,413.3 211.4,411.5 212.6,409.8 213.9,408.4 215.1,407.2 216.3,406.1 217.5,405.1 218.8,404.2 220,403.5 221.2,402.9 222.5,402.3 223.7,401.8 224.9,401.4 226.1,401.1 227.4,400.8 228.6,400.5 229.8,400.3 231.1,400.1 232.3,400 233.5,399.9 234.7,399.7 236,399.7 237.2,399.6 238.4,399.5 239.7,399.5 240.9,399.4 242.1,399.4 243.3,399.4 244.6,399.4 245.8,399.4 247,399.3 248.2,399.3 249.5,399.3 250.7,399.3 251.9,399.3 253.2,399.3 254.4,399.3 255.6,399.3 256.8,399.3 258.1,399.3 259.3,399.3 260.5,399.3 261.8,399.3 263,399.3 264.2,399.3 265.4,399.3 266.7,399.3 267.9,399.3 269.1,399.3 270.4,399.3 271.6,399.3 272.8,399.3 274,399.3 275.3,399.3 276.5,399.3" fill="none" stroke="#4472c4" stroke-width="2.0" stroke-linejoin="round" stroke-linecap="round"/><polyline points="276.5,399.3 277.7,399.3 279,399.3 280.2,399.3 281.4,399.3 282.6,399.3 283.9,399.3 285.1,399.3 286.3,399.3 287.6,399.3 288.8,399.3 290,399.3 291.2,399.3 292.5,399.3 293.7,399.3 294.9,399.3 296.2,399.3 297.4,399.3 298.6,399.3 299.8,399.3 301.1,399.3 302.3,399.3 303.5,399.3 304.8,399.3 306,399.3 307.2,399.3 308.4,399.3 309.7,399.3 310.9,399.3 312.1,399.3 313.4,399.3 314.6,399.3 315.8,399.3 317,399.3 318.3,399.3 319.5,399.3 320.7,399.3 321.9,399.3 323.2,399.2 324.4,399.2 325.6,399.2 326.9,399.1 328.1,399 329.3,398.9 330.5,398.8 331.8,398.7 333,398.5 334.2,398.2 335.5,397.9 336.7,397.5 337.9,397 339.1,396.3 340.4,395.6 341.6,394.6 342.8,393.4 344.1,392 345.3,390.2 346.5,388 347.7,385.4 349,382.2 350.2,378.4" fill="none" stroke="#ed7d31" stroke-width="2.0" stroke-linejoin="round" stroke-linecap="round"/><text x="203" y="378.6" font-size="11.5" font-weight="bold" fill="#000">(h) LF(L<tspan font-size="6.8" dy="-4.6">(2)</tspan><tspan dy="4.6">, T</tspan><tspan font-size="6.8" dy="-4.6">(1)</tspan><tspan dy="4.6">)</tspan></text><g font-family="Liberation Serif" stroke-width="0.2"><text x="0" y="0" font-size="11.8" font-style="italic" fill="#1a1a1a" stroke="#1a1a1a" stroke-width="0.25" letter-spacing="0.3" transform="translate(287.1 437.5) scale(0.8 1)">II</text><line x1="288.6" y1="427.8" x2="294.3" y2="427.8" stroke="#a87878" stroke-width="0.65"/><text x="295.5" y="433.1" font-size="7.8" fill="#b09090">(<tspan font-style="italic" fill="#2a2a2a" stroke="#2a2a2a">t</tspan>)</text><text x="293.9" y="440" font-size="7.3" font-style="italic" fill="#1a1a1a" stroke="#1a1a1a">ST</text><text x="304" y="437.5" font-size="11.5" fill="#1a1a1a">(</text><text x="307.1" y="437.5" font-size="12.4" font-style="italic" fill="#1a1a1a" stroke="#1a1a1a">L</text><text x="315.7" y="433.2" font-size="8.2" fill="#1a1a1a">(2)</text><text x="324.7" y="437.5" font-size="11.5" fill="#1a1a1a">,</text><text x="326.9" y="437.5" font-size="12.2" font-style="italic" fill="#1a1a1a" stroke="#1a1a1a">T</text><text x="335.1" y="433.2" font-size="8.2" fill="#1a1a1a">(1)</text><text x="344.3" y="437.5" font-size="11.5" fill="#1a1a1a">)</text></g><line x1="22.5" y1="553.6" x2="173.1" y2="553.6" stroke="#d9d9d9" stroke-width="0.6"/><line x1="22.5" y1="541.2" x2="173.1" y2="541.2" stroke="#d9d9d9" stroke-width="0.6"/><line x1="22.5" y1="516.4" x2="173.1" y2="516.4" stroke="#d9d9d9" stroke-width="0.6"/><line x1="22.5" y1="504" x2="173.1" y2="504" stroke="#d9d9d9" stroke-width="0.6"/><line x1="22.5" y1="491.6" x2="173.1" y2="491.6" stroke="#d9d9d9" stroke-width="0.6"/><line x1="22.5" y1="479.2" x2="173.1" y2="479.2" stroke="#d9d9d9" stroke-width="0.6"/><line x1="22.5" y1="479.2" x2="22.5" y2="553.6" stroke="#d9d9d9" stroke-width="0.6"/><line x1="60.1" y1="479.2" x2="60.1" y2="553.6" stroke="#d9d9d9" stroke-width="0.6"/><line x1="135.4" y1="479.2" x2="135.4" y2="553.6" stroke="#d9d9d9" stroke-width="0.6"/><line x1="173.1" y1="479.2" x2="173.1" y2="553.6" stroke="#d9d9d9" stroke-width="0.6"/><line x1="22.5" y1="528.8" x2="173.1" y2="528.8" stroke="#bfbfbf" stroke-width="0.8"/><line x1="97.8" y1="479.2" x2="97.8" y2="553.6" stroke="#bfbfbf" stroke-width="0.8"/><line x1="22.5" y1="527.2" x2="22.5" y2="528.8" stroke="#bfbfbf" stroke-width="0.5"/><line x1="30" y1="527.2" x2="30" y2="528.8" stroke="#bfbfbf" stroke-width="0.5"/><line x1="37.6" y1="527.2" x2="37.6" y2="528.8" stroke="#bfbfbf" stroke-width="0.5"/><line x1="45.1" y1="527.2" x2="45.1" y2="528.8" stroke="#bfbfbf" stroke-width="0.5"/><line x1="52.6" y1="527.2" x2="52.6" y2="528.8" stroke="#bfbfbf" stroke-width="0.5"/><line x1="60.1" y1="527.2" x2="60.1" y2="528.8" stroke="#bfbfbf" stroke-width="0.5"/><line x1="67.7" y1="527.2" x2="67.7" y2="528.8" stroke="#bfbfbf" stroke-width="0.5"/><line x1="75.2" y1="527.2" x2="75.2" y2="528.8" stroke="#bfbfbf" stroke-width="0.5"/><line x1="82.7" y1="527.2" x2="82.7" y2="528.8" stroke="#bfbfbf" stroke-width="0.5"/><line x1="90.3" y1="527.2" x2="90.3" y2="528.8" stroke="#bfbfbf" stroke-width="0.5"/><line x1="97.8" y1="527.2" x2="97.8" y2="528.8" stroke="#bfbfbf" stroke-width="0.5"/><line x1="105.3" y1="527.2" x2="105.3" y2="528.8" stroke="#bfbfbf" stroke-width="0.5"/><line x1="112.9" y1="527.2" x2="112.9" y2="528.8" stroke="#bfbfbf" stroke-width="0.5"/><line x1="120.4" y1="527.2" x2="120.4" y2="528.8" stroke="#bfbfbf" stroke-width="0.5"/><line x1="127.9" y1="527.2" x2="127.9" y2="528.8" stroke="#bfbfbf" stroke-width="0.5"/><line x1="135.4" y1="527.2" x2="135.4" y2="528.8" stroke="#bfbfbf" stroke-width="0.5"/><line x1="143" y1="527.2" x2="143" y2="528.8" stroke="#bfbfbf" stroke-width="0.5"/><line x1="150.5" y1="527.2" x2="150.5" y2="528.8" stroke="#bfbfbf" stroke-width="0.5"/><line x1="158" y1="527.2" x2="158" y2="528.8" stroke="#bfbfbf" stroke-width="0.5"/><line x1="165.6" y1="527.2" x2="165.6" y2="528.8" stroke="#bfbfbf" stroke-width="0.5"/><line x1="173.1" y1="527.2" x2="173.1" y2="528.8" stroke="#bfbfbf" stroke-width="0.5"/><line x1="97.8" y1="553.6" x2="99.4" y2="553.6" stroke="#bfbfbf" stroke-width="0.5"/><line x1="97.8" y1="547.4" x2="99.4" y2="547.4" stroke="#bfbfbf" stroke-width="0.5"/><line x1="97.8" y1="541.2" x2="99.4" y2="541.2" stroke="#bfbfbf" stroke-width="0.5"/><line x1="97.8" y1="535" x2="99.4" y2="535" stroke="#bfbfbf" stroke-width="0.5"/><line x1="97.8" y1="528.8" x2="99.4" y2="528.8" stroke="#bfbfbf" stroke-width="0.5"/><line x1="97.8" y1="522.6" x2="99.4" y2="522.6" stroke="#bfbfbf" stroke-width="0.5"/><line x1="97.8" y1="516.4" x2="99.4" y2="516.4" stroke="#bfbfbf" stroke-width="0.5"/><line x1="97.8" y1="510.2" x2="99.4" y2="510.2" stroke="#bfbfbf" stroke-width="0.5"/><line x1="97.8" y1="504" x2="99.4" y2="504" stroke="#bfbfbf" stroke-width="0.5"/><line x1="97.8" y1="497.8" x2="99.4" y2="497.8" stroke="#bfbfbf" stroke-width="0.5"/><line x1="97.8" y1="491.6" x2="99.4" y2="491.6" stroke="#bfbfbf" stroke-width="0.5"/><line x1="97.8" y1="485.4" x2="99.4" y2="485.4" stroke="#bfbfbf" stroke-width="0.5"/><line x1="97.8" y1="479.2" x2="99.4" y2="479.2" stroke="#bfbfbf" stroke-width="0.5"/><text x="15.6" y="556.5" font-size="8" text-anchor="end" font-weight="bold" fill="#000">-0.4</text><text x="15.6" y="544.1" font-size="8" text-anchor="end" font-weight="bold" fill="#000">-0.2</text><text x="15.6" y="531.7" font-size="8" text-anchor="end" font-weight="bold" fill="#000">0</text><text x="15.6" y="519.3" font-size="8" text-anchor="end" font-weight="bold" fill="#000">0.2</text><text x="15.6" y="506.9" font-size="8" text-anchor="end" font-weight="bold" fill="#000">0.4</text><text x="15.6" y="494.5" font-size="8" text-anchor="end" font-weight="bold" fill="#000">0.6</text><text x="15.6" y="482.1" font-size="8" text-anchor="end" font-weight="bold" fill="#000">0.8</text><text x="22.5" y="565.4" font-size="8" text-anchor="middle" font-weight="bold" fill="#000">-1</text><text x="60.1" y="565.4" font-size="8" text-anchor="middle" font-weight="bold" fill="#000">-0.5</text><text x="97.8" y="565.4" font-size="8" text-anchor="middle" font-weight="bold" fill="#000">0</text><text x="135.4" y="565.4" font-size="8" text-anchor="middle" font-weight="bold" fill="#000">0.5</text><text x="173.1" y="565.4" font-size="8" text-anchor="middle" font-weight="bold" fill="#000">1</text><polyline points="22.5,540 23.8,538.2 25,536.8 26.3,535.5 27.5,534.4 28.8,533.5 30,532.7 31.3,532 32.5,531.5 33.8,531 35,530.6 36.3,530.3 37.6,530 38.8,529.8 40.1,529.6 41.3,529.4 42.6,529.3 43.8,529.2 45.1,529.1 46.3,529 47.6,529 48.9,529 50.1,528.9 51.4,528.9 52.6,528.9 53.9,528.9 55.1,528.8 56.4,528.8 57.6,528.8 58.9,528.8 60.1,528.8 61.4,528.8 62.7,528.8 63.9,528.8 65.2,528.8 66.4,528.8 67.7,528.8 68.9,528.8 70.2,528.8 71.4,528.8 72.7,528.8 74,528.8 75.2,528.8 76.5,528.8 77.7,528.8 79,528.8 80.2,528.8 81.5,528.8 82.7,528.8 84,528.8 85.2,528.8 86.5,528.8 87.8,528.8 89,528.8 90.3,528.8 91.5,528.8 92.8,528.8 94,528.8 95.3,528.8 96.5,528.8 97.8,528.8" fill="none" stroke="#4472c4" stroke-width="2.0" stroke-linejoin="round" stroke-linecap="round"/><polyline points="97.8,528.8 99.1,528.8 100.3,528.8 101.6,528.8 102.8,528.8 104.1,528.8 105.3,528.8 106.6,528.8 107.8,528.8 109.1,528.8 110.4,528.8 111.6,528.8 112.9,528.8 114.1,528.8 115.4,528.8 116.6,528.8 117.9,528.8 119.1,528.8 120.4,528.8 121.6,528.8 122.9,528.8 124.2,528.8 125.4,528.8 126.7,528.8 127.9,528.8 129.2,528.8 130.4,528.7 131.7,528.7 132.9,528.7 134.2,528.7 135.4,528.6 136.7,528.6 138,528.5 139.2,528.4 140.5,528.3 141.7,528.2 143,528 144.2,527.8 145.5,527.6 146.7,527.3 148,527 149.3,526.6 150.5,526.1 151.8,525.6 153,524.9 154.3,524.1 155.5,523.2 156.8,522.2 158,521 159.3,519.6 160.6,518 161.8,516.1 163.1,514 164.3,511.6 165.6,508.8 166.8,505.6 168.1,502 169.3,498 170.6,493.3 171.8,488.2 173.1,482.3" fill="none" stroke="#ed7d31" stroke-width="2.0" stroke-linejoin="round" stroke-linecap="round"/><text x="24" y="491" font-size="11.5" font-weight="bold" fill="#000">(i) LF(L<tspan font-size="6.8" dy="-4.6">(1)</tspan><tspan dy="4.6">, T</tspan><tspan font-size="6.8" dy="-4.6">(2)</tspan><tspan dy="4.6">)</tspan></text><g font-family="Liberation Serif" stroke-width="0.2"><text x="0" y="0" font-size="11.8" font-style="italic" fill="#1a1a1a" stroke="#1a1a1a" stroke-width="0.25" letter-spacing="0.3" transform="translate(112 549.2) scale(0.8 1)">II</text><line x1="113.5" y1="539.5" x2="119.2" y2="539.5" stroke="#a87878" stroke-width="0.65"/><text x="120.4" y="544.8" font-size="7.8" fill="#b09090">(<tspan font-style="italic" fill="#2a2a2a" stroke="#2a2a2a">t</tspan>)</text><text x="118.8" y="551.7" font-size="7.3" font-style="italic" fill="#1a1a1a" stroke="#1a1a1a">ST</text><text x="128.9" y="549.2" font-size="11.5" fill="#1a1a1a">(</text><text x="132" y="549.2" font-size="12.4" font-style="italic" fill="#1a1a1a" stroke="#1a1a1a">L</text><text x="140.6" y="544.9" font-size="8.2" fill="#1a1a1a">(1)</text><text x="149.6" y="549.2" font-size="11.5" fill="#1a1a1a">,</text><text x="151.8" y="549.2" font-size="12.2" font-style="italic" fill="#1a1a1a" stroke="#1a1a1a">T</text><text x="160" y="544.9" font-size="8.2" fill="#1a1a1a">(2)</text><text x="169.2" y="549.2" font-size="11.5" fill="#1a1a1a">)</text></g><line x1="200.4" y1="555.7" x2="350.2" y2="555.7" stroke="#d9d9d9" stroke-width="0.6"/><line x1="200.4" y1="534.1" x2="350.2" y2="534.1" stroke="#d9d9d9" stroke-width="0.6"/><line x1="200.4" y1="523.3" x2="350.2" y2="523.3" stroke="#d9d9d9" stroke-width="0.6"/><line x1="200.4" y1="512.4" x2="350.2" y2="512.4" stroke="#d9d9d9" stroke-width="0.6"/><line x1="200.4" y1="501.6" x2="350.2" y2="501.6" stroke="#d9d9d9" stroke-width="0.6"/><line x1="200.4" y1="490.8" x2="350.2" y2="490.8" stroke="#d9d9d9" stroke-width="0.6"/><line x1="200.4" y1="480" x2="350.2" y2="480" stroke="#d9d9d9" stroke-width="0.6"/><line x1="200.4" y1="480" x2="200.4" y2="555.7" stroke="#d9d9d9" stroke-width="0.6"/><line x1="237.8" y1="480" x2="237.8" y2="555.7" stroke="#d9d9d9" stroke-width="0.6"/><line x1="312.8" y1="480" x2="312.8" y2="555.7" stroke="#d9d9d9" stroke-width="0.6"/><line x1="350.2" y1="480" x2="350.2" y2="555.7" stroke="#d9d9d9" stroke-width="0.6"/><line x1="200.4" y1="544.9" x2="350.2" y2="544.9" stroke="#bfbfbf" stroke-width="0.8"/><line x1="275.3" y1="480" x2="275.3" y2="555.7" stroke="#bfbfbf" stroke-width="0.8"/><line x1="200.4" y1="543.3" x2="200.4" y2="544.9" stroke="#bfbfbf" stroke-width="0.5"/><line x1="207.9" y1="543.3" x2="207.9" y2="544.9" stroke="#bfbfbf" stroke-width="0.5"/><line x1="215.4" y1="543.3" x2="215.4" y2="544.9" stroke="#bfbfbf" stroke-width="0.5"/><line x1="222.9" y1="543.3" x2="222.9" y2="544.9" stroke="#bfbfbf" stroke-width="0.5"/><line x1="230.4" y1="543.3" x2="230.4" y2="544.9" stroke="#bfbfbf" stroke-width="0.5"/><line x1="237.8" y1="543.3" x2="237.8" y2="544.9" stroke="#bfbfbf" stroke-width="0.5"/><line x1="245.3" y1="543.3" x2="245.3" y2="544.9" stroke="#bfbfbf" stroke-width="0.5"/><line x1="252.8" y1="543.3" x2="252.8" y2="544.9" stroke="#bfbfbf" stroke-width="0.5"/><line x1="260.3" y1="543.3" x2="260.3" y2="544.9" stroke="#bfbfbf" stroke-width="0.5"/><line x1="267.8" y1="543.3" x2="267.8" y2="544.9" stroke="#bfbfbf" stroke-width="0.5"/><line x1="275.3" y1="543.3" x2="275.3" y2="544.9" stroke="#bfbfbf" stroke-width="0.5"/><line x1="282.8" y1="543.3" x2="282.8" y2="544.9" stroke="#bfbfbf" stroke-width="0.5"/><line x1="290.3" y1="543.3" x2="290.3" y2="544.9" stroke="#bfbfbf" stroke-width="0.5"/><line x1="297.8" y1="543.3" x2="297.8" y2="544.9" stroke="#bfbfbf" stroke-width="0.5"/><line x1="305.3" y1="543.3" x2="305.3" y2="544.9" stroke="#bfbfbf" stroke-width="0.5"/><line x1="312.8" y1="543.3" x2="312.8" y2="544.9" stroke="#bfbfbf" stroke-width="0.5"/><line x1="320.2" y1="543.3" x2="320.2" y2="544.9" stroke="#bfbfbf" stroke-width="0.5"/><line x1="327.7" y1="543.3" x2="327.7" y2="544.9" stroke="#bfbfbf" stroke-width="0.5"/><line x1="335.2" y1="543.3" x2="335.2" y2="544.9" stroke="#bfbfbf" stroke-width="0.5"/><line x1="342.7" y1="543.3" x2="342.7" y2="544.9" stroke="#bfbfbf" stroke-width="0.5"/><line x1="350.2" y1="543.3" x2="350.2" y2="544.9" stroke="#bfbfbf" stroke-width="0.5"/><line x1="275.3" y1="555.7" x2="276.9" y2="555.7" stroke="#bfbfbf" stroke-width="0.5"/><line x1="275.3" y1="550.3" x2="276.9" y2="550.3" stroke="#bfbfbf" stroke-width="0.5"/><line x1="275.3" y1="544.9" x2="276.9" y2="544.9" stroke="#bfbfbf" stroke-width="0.5"/><line x1="275.3" y1="539.5" x2="276.9" y2="539.5" stroke="#bfbfbf" stroke-width="0.5"/><line x1="275.3" y1="534.1" x2="276.9" y2="534.1" stroke="#bfbfbf" stroke-width="0.5"/><line x1="275.3" y1="528.7" x2="276.9" y2="528.7" stroke="#bfbfbf" stroke-width="0.5"/><line x1="275.3" y1="523.3" x2="276.9" y2="523.3" stroke="#bfbfbf" stroke-width="0.5"/><line x1="275.3" y1="517.9" x2="276.9" y2="517.9" stroke="#bfbfbf" stroke-width="0.5"/><line x1="275.3" y1="512.4" x2="276.9" y2="512.4" stroke="#bfbfbf" stroke-width="0.5"/><line x1="275.3" y1="507" x2="276.9" y2="507" stroke="#bfbfbf" stroke-width="0.5"/><line x1="275.3" y1="501.6" x2="276.9" y2="501.6" stroke="#bfbfbf" stroke-width="0.5"/><line x1="275.3" y1="496.2" x2="276.9" y2="496.2" stroke="#bfbfbf" stroke-width="0.5"/><line x1="275.3" y1="490.8" x2="276.9" y2="490.8" stroke="#bfbfbf" stroke-width="0.5"/><line x1="275.3" y1="485.4" x2="276.9" y2="485.4" stroke="#bfbfbf" stroke-width="0.5"/><line x1="275.3" y1="480" x2="276.9" y2="480" stroke="#bfbfbf" stroke-width="0.5"/><text x="193.6" y="558.6" font-size="8" text-anchor="end" font-weight="bold" fill="#000">-2</text><text x="193.6" y="547.8" font-size="8" text-anchor="end" font-weight="bold" fill="#000">0</text><text x="193.6" y="537" font-size="8" text-anchor="end" font-weight="bold" fill="#000">2</text><text x="193.6" y="526.1" font-size="8" text-anchor="end" font-weight="bold" fill="#000">4</text><text x="193.6" y="515.3" font-size="8" text-anchor="end" font-weight="bold" fill="#000">6</text><text x="193.6" y="504.5" font-size="8" text-anchor="end" font-weight="bold" fill="#000">8</text><text x="193.6" y="493.7" font-size="8" text-anchor="end" font-weight="bold" fill="#000">10</text><text x="193.6" y="482.9" font-size="8" text-anchor="end" font-weight="bold" fill="#000">12</text><text x="200.4" y="565.4" font-size="8" text-anchor="middle" font-weight="bold" fill="#000">-1</text><text x="237.8" y="565.4" font-size="8" text-anchor="middle" font-weight="bold" fill="#000">-0.5</text><text x="275.3" y="565.4" font-size="8" text-anchor="middle" font-weight="bold" fill="#000">0</text><text x="312.8" y="565.4" font-size="8" text-anchor="middle" font-weight="bold" fill="#000">0.5</text><text x="350.2" y="565.4" font-size="8" text-anchor="middle" font-weight="bold" fill="#000">1</text><polyline points="200.4,544.9 201.6,544.9 202.9,544.9 204.1,544.9 205.4,544.9 206.6,544.9 207.9,544.9 209.1,544.9 210.4,544.9 211.6,544.9 212.9,544.9 214.1,544.9 215.4,544.9 216.6,544.9 217.9,544.9 219.1,544.9 220.4,544.9 221.6,544.9 222.9,544.9 224.1,544.9 225.4,544.9 226.6,544.9 227.9,544.9 229.1,544.9 230.4,544.9 231.6,544.9 232.9,544.9 234.1,544.9 235.4,544.9 236.6,544.9 237.8,544.9 239.1,544.9 240.3,544.9 241.6,544.9 242.8,544.9 244.1,544.9 245.3,544.9 246.6,544.9 247.8,544.9 249.1,544.9 250.3,544.9 251.6,544.9 252.8,544.9 254.1,544.9 255.3,544.9 256.6,544.9 257.8,544.9 259.1,544.9 260.3,544.9 261.6,544.9 262.8,544.9 264.1,544.9 265.3,544.9 266.6,544.9 267.8,544.9 269.1,544.9 270.3,544.9 271.6,544.9 272.8,544.9 274.1,544.9 275.3,544.9" fill="none" stroke="#4472c4" stroke-width="2.0" stroke-linejoin="round" stroke-linecap="round"/><polyline points="275.3,544.9 276.5,544.6 277.8,544.2 279,543.9 280.3,543.5 281.5,543.2 282.8,542.8 284,542.4 285.3,542 286.5,541.6 287.8,541.1 289,540.7 290.3,540.2 291.5,539.8 292.8,539.3 294,538.7 295.3,538.2 296.5,537.7 297.8,537.1 299,536.5 300.3,535.9 301.5,535.3 302.8,534.6 304,534 305.3,533.3 306.5,532.6 307.8,531.8 309,531.1 310.3,530.3 311.5,529.5 312.8,528.6 314,527.8 315.2,526.9 316.5,525.9 317.7,525 319,524 320.2,522.9 321.5,521.9 322.7,520.8 324,519.6 325.2,518.5 326.5,517.2 327.7,516 329,514.7 330.2,513.3 331.5,511.9 332.7,510.5 334,509 335.2,507.5 336.5,505.9 337.7,504.2 339,502.6 340.2,500.8 341.5,499 342.7,497.1 344,495.2 345.2,493.2 346.5,491.1 347.7,488.9 349,486.7 350.2,484.4" fill="none" stroke="#ed7d31" stroke-width="2.0" stroke-linejoin="round" stroke-linecap="round"/><text x="202" y="491.8" font-size="11.5" font-weight="bold" fill="#000">(j) LF(L<tspan font-size="6.8" dy="-4.6">(2)</tspan><tspan dy="4.6">, T</tspan><tspan font-size="6.8" dy="-4.6">(2)</tspan><tspan dy="4.6">)</tspan></text><text x="330.4" y="522.4" font-size="10.7" font-weight="bold" font-style="italic" fill="#ed7d31">bubble</text><text x="330.4" y="534.7" font-size="10.7" font-weight="bold" font-style="italic" fill="#ed7d31">expansion</text><g font-family="Liberation Serif" stroke-width="0.2"><text x="0" y="0" font-size="11.8" font-style="italic" fill="#1a1a1a" stroke="#1a1a1a" stroke-width="0.25" letter-spacing="0.3" transform="translate(288.4 549.6) scale(0.8 1)">II</text><line x1="289.9" y1="539.9" x2="295.6" y2="539.9" stroke="#a87878" stroke-width="0.65"/><text x="296.8" y="545.2" font-size="7.8" fill="#b09090">(<tspan font-style="italic" fill="#2a2a2a" stroke="#2a2a2a">t</tspan>)</text><text x="295.2" y="552.1" font-size="7.3" font-style="italic" fill="#1a1a1a" stroke="#1a1a1a">ST</text><text x="305.3" y="549.6" font-size="11.5" fill="#1a1a1a">(</text><text x="308.4" y="549.6" font-size="12.4" font-style="italic" fill="#1a1a1a" stroke="#1a1a1a">L</text><text x="317" y="545.3" font-size="8.2" fill="#1a1a1a">(2)</text><text x="326" y="549.6" font-size="11.5" fill="#1a1a1a">,</text><text x="328.2" y="549.6" font-size="12.2" font-style="italic" fill="#1a1a1a" stroke="#1a1a1a">T</text><text x="336.4" y="545.3" font-size="8.2" fill="#1a1a1a">(2)</text><text x="345.6" y="549.6" font-size="11.5" fill="#1a1a1a">)</text></g><line x1="447.2" y1="539.4" x2="676.5" y2="539.4" stroke="#d9d9d9" stroke-width="0.6"/><line x1="447.2" y1="511.3" x2="676.5" y2="511.3" stroke="#d9d9d9" stroke-width="0.6"/><line x1="447.2" y1="455.1" x2="676.5" y2="455.1" stroke="#d9d9d9" stroke-width="0.6"/><line x1="447.2" y1="427.1" x2="676.5" y2="427.1" stroke="#d9d9d9" stroke-width="0.6"/><line x1="447.2" y1="399" x2="676.5" y2="399" stroke="#d9d9d9" stroke-width="0.6"/><line x1="447.2" y1="370.9" x2="676.5" y2="370.9" stroke="#d9d9d9" stroke-width="0.6"/><line x1="447.2" y1="370.9" x2="447.2" y2="539.4" stroke="#d9d9d9" stroke-width="0.6"/><line x1="504.5" y1="370.9" x2="504.5" y2="539.4" stroke="#d9d9d9" stroke-width="0.6"/><line x1="619.2" y1="370.9" x2="619.2" y2="539.4" stroke="#d9d9d9" stroke-width="0.6"/><line x1="676.5" y1="370.9" x2="676.5" y2="539.4" stroke="#d9d9d9" stroke-width="0.6"/><line x1="447.2" y1="483.2" x2="676.5" y2="483.2" stroke="#bfbfbf" stroke-width="0.8"/><line x1="561.9" y1="370.9" x2="561.9" y2="539.4" stroke="#bfbfbf" stroke-width="0.8"/><line x1="447.2" y1="481.6" x2="447.2" y2="483.2" stroke="#bfbfbf" stroke-width="0.5"/><line x1="458.7" y1="481.6" x2="458.7" y2="483.2" stroke="#bfbfbf" stroke-width="0.5"/><line x1="470.1" y1="481.6" x2="470.1" y2="483.2" stroke="#bfbfbf" stroke-width="0.5"/><line x1="481.6" y1="481.6" x2="481.6" y2="483.2" stroke="#bfbfbf" stroke-width="0.5"/><line x1="493.1" y1="481.6" x2="493.1" y2="483.2" stroke="#bfbfbf" stroke-width="0.5"/><line x1="504.5" y1="481.6" x2="504.5" y2="483.2" stroke="#bfbfbf" stroke-width="0.5"/><line x1="516" y1="481.6" x2="516" y2="483.2" stroke="#bfbfbf" stroke-width="0.5"/><line x1="527.5" y1="481.6" x2="527.5" y2="483.2" stroke="#bfbfbf" stroke-width="0.5"/><line x1="538.9" y1="481.6" x2="538.9" y2="483.2" stroke="#bfbfbf" stroke-width="0.5"/><line x1="550.4" y1="481.6" x2="550.4" y2="483.2" stroke="#bfbfbf" stroke-width="0.5"/><line x1="561.9" y1="481.6" x2="561.9" y2="483.2" stroke="#bfbfbf" stroke-width="0.5"/><line x1="573.3" y1="481.6" x2="573.3" y2="483.2" stroke="#bfbfbf" stroke-width="0.5"/><line x1="584.8" y1="481.6" x2="584.8" y2="483.2" stroke="#bfbfbf" stroke-width="0.5"/><line x1="596.2" y1="481.6" x2="596.2" y2="483.2" stroke="#bfbfbf" stroke-width="0.5"/><line x1="607.7" y1="481.6" x2="607.7" y2="483.2" stroke="#bfbfbf" stroke-width="0.5"/><line x1="619.2" y1="481.6" x2="619.2" y2="483.2" stroke="#bfbfbf" stroke-width="0.5"/><line x1="630.6" y1="481.6" x2="630.6" y2="483.2" stroke="#bfbfbf" stroke-width="0.5"/><line x1="642.1" y1="481.6" x2="642.1" y2="483.2" stroke="#bfbfbf" stroke-width="0.5"/><line x1="653.6" y1="481.6" x2="653.6" y2="483.2" stroke="#bfbfbf" stroke-width="0.5"/><line x1="665" y1="481.6" x2="665" y2="483.2" stroke="#bfbfbf" stroke-width="0.5"/><line x1="676.5" y1="481.6" x2="676.5" y2="483.2" stroke="#bfbfbf" stroke-width="0.5"/><line x1="561.9" y1="539.4" x2="563.5" y2="539.4" stroke="#bfbfbf" stroke-width="0.5"/><line x1="561.9" y1="533.8" x2="563.5" y2="533.8" stroke="#bfbfbf" stroke-width="0.5"/><line x1="561.9" y1="528.2" x2="563.5" y2="528.2" stroke="#bfbfbf" stroke-width="0.5"/><line x1="561.9" y1="522.5" x2="563.5" y2="522.5" stroke="#bfbfbf" stroke-width="0.5"/><line x1="561.9" y1="516.9" x2="563.5" y2="516.9" stroke="#bfbfbf" stroke-width="0.5"/><line x1="561.9" y1="511.3" x2="563.5" y2="511.3" stroke="#bfbfbf" stroke-width="0.5"/><line x1="561.9" y1="505.7" x2="563.5" y2="505.7" stroke="#bfbfbf" stroke-width="0.5"/><line x1="561.9" y1="500.1" x2="563.5" y2="500.1" stroke="#bfbfbf" stroke-width="0.5"/><line x1="561.9" y1="494.5" x2="563.5" y2="494.5" stroke="#bfbfbf" stroke-width="0.5"/><line x1="561.9" y1="488.8" x2="563.5" y2="488.8" stroke="#bfbfbf" stroke-width="0.5"/><line x1="561.9" y1="483.2" x2="563.5" y2="483.2" stroke="#bfbfbf" stroke-width="0.5"/><line x1="561.9" y1="477.6" x2="563.5" y2="477.6" stroke="#bfbfbf" stroke-width="0.5"/><line x1="561.9" y1="472" x2="563.5" y2="472" stroke="#bfbfbf" stroke-width="0.5"/><line x1="561.9" y1="466.4" x2="563.5" y2="466.4" stroke="#bfbfbf" stroke-width="0.5"/><line x1="561.9" y1="460.8" x2="563.5" y2="460.8" stroke="#bfbfbf" stroke-width="0.5"/><line x1="561.9" y1="455.1" x2="563.5" y2="455.1" stroke="#bfbfbf" stroke-width="0.5"/><line x1="561.9" y1="449.5" x2="563.5" y2="449.5" stroke="#bfbfbf" stroke-width="0.5"/><line x1="561.9" y1="443.9" x2="563.5" y2="443.9" stroke="#bfbfbf" stroke-width="0.5"/><line x1="561.9" y1="438.3" x2="563.5" y2="438.3" stroke="#bfbfbf" stroke-width="0.5"/><line x1="561.9" y1="432.7" x2="563.5" y2="432.7" stroke="#bfbfbf" stroke-width="0.5"/><line x1="561.9" y1="427.1" x2="563.5" y2="427.1" stroke="#bfbfbf" stroke-width="0.5"/><line x1="561.9" y1="421.4" x2="563.5" y2="421.4" stroke="#bfbfbf" stroke-width="0.5"/><line x1="561.9" y1="415.8" x2="563.5" y2="415.8" stroke="#bfbfbf" stroke-width="0.5"/><line x1="561.9" y1="410.2" x2="563.5" y2="410.2" stroke="#bfbfbf" stroke-width="0.5"/><line x1="561.9" y1="404.6" x2="563.5" y2="404.6" stroke="#bfbfbf" stroke-width="0.5"/><line x1="561.9" y1="399" x2="563.5" y2="399" stroke="#bfbfbf" stroke-width="0.5"/><line x1="561.9" y1="393.4" x2="563.5" y2="393.4" stroke="#bfbfbf" stroke-width="0.5"/><line x1="561.9" y1="387.8" x2="563.5" y2="387.8" stroke="#bfbfbf" stroke-width="0.5"/><line x1="561.9" y1="382.1" x2="563.5" y2="382.1" stroke="#bfbfbf" stroke-width="0.5"/><line x1="561.9" y1="376.5" x2="563.5" y2="376.5" stroke="#bfbfbf" stroke-width="0.5"/><line x1="561.9" y1="370.9" x2="563.5" y2="370.9" stroke="#bfbfbf" stroke-width="0.5"/><text x="436.2" y="543.5" font-size="11.5" text-anchor="end" font-weight="bold" fill="#000">-10</text><text x="436.2" y="515.5" font-size="11.5" text-anchor="end" font-weight="bold" fill="#000">-5</text><text x="436.2" y="487.4" font-size="11.5" text-anchor="end" font-weight="bold" fill="#000">0</text><text x="436.2" y="459.3" font-size="11.5" text-anchor="end" font-weight="bold" fill="#000">5</text><text x="436.2" y="431.2" font-size="11.5" text-anchor="end" font-weight="bold" fill="#000">10</text><text x="436.2" y="403.1" font-size="11.5" text-anchor="end" font-weight="bold" fill="#000">15</text><text x="436.2" y="375" font-size="11.5" text-anchor="end" font-weight="bold" fill="#000">20</text><text x="447.2" y="559.4" font-size="12" text-anchor="middle" font-weight="bold" fill="#000">-1</text><text x="504.5" y="559.4" font-size="12" text-anchor="middle" font-weight="bold" fill="#000">-0.5</text><text x="561.9" y="559.4" font-size="12" text-anchor="middle" font-weight="bold" fill="#000">0</text><text x="619.2" y="559.4" font-size="12" text-anchor="middle" font-weight="bold" fill="#000">0.5</text><text x="676.5" y="559.4" font-size="12" text-anchor="middle" font-weight="bold" fill="#000">1</text><polyline points="447.2,523.4 449.1,519.5 451,515.9 452.9,512.7 454.8,509.9 456.8,507.3 458.7,505 460.6,502.9 462.5,501.1 464.4,499.4 466.3,497.9 468.2,496.6 470.1,495.4 472,494.3 474,493.3 475.9,492.4 477.8,491.6 479.7,490.9 481.6,490.2 483.5,489.7 485.4,489.1 487.3,488.6 489.2,488.2 491.1,487.8 493.1,487.4 495,487 496.9,486.7 498.8,486.4 500.7,486.1 502.6,485.9 504.5,485.6 506.4,485.4 508.3,485.2 510.3,485 512.2,484.9 514.1,484.7 516,484.5 517.9,484.4 519.8,484.3 521.7,484.1 523.6,484 525.5,483.9 527.5,483.8 529.4,483.8 531.3,483.7 533.2,483.6 535.1,483.5 537,483.5 538.9,483.4 540.8,483.4 542.7,483.4 544.7,483.3 546.6,483.3 548.5,483.3 550.4,483.3 552.3,483.3 554.2,483.2 556.1,483.2 558,483.2 559.9,483.2 561.9,483.2" fill="none" stroke="#4472c4" stroke-width="2.3" stroke-linejoin="round" stroke-linecap="round"/><polyline points="561.9,483.2 563.8,482.7 565.7,482.1 567.6,481.5 569.5,480.9 571.4,480.3 573.3,479.8 575.2,479.2 577.1,478.6 579,478 581,477.4 582.9,476.8 584.8,476.2 586.7,475.7 588.6,475.1 590.5,474.5 592.4,473.8 594.3,473.2 596.2,472.6 598.2,472 600.1,471.3 602,470.7 603.9,470 605.8,469.3 607.7,468.6 609.6,467.9 611.5,467.1 613.4,466.3 615.4,465.5 617.3,464.7 619.2,463.8 621.1,462.9 623,462 624.9,461 626.8,459.9 628.7,458.8 630.6,457.7 632.6,456.5 634.5,455.2 636.4,453.9 638.3,452.4 640.2,450.9 642.1,449.3 644,447.7 645.9,445.9 647.8,444 649.7,442 651.7,439.9 653.6,437.7 655.5,435.4 657.4,432.9 659.3,430.2 661.2,427.4 663.1,424.5 665,421.4 666.9,418.1 668.9,414.6 670.8,411 672.7,407.1 674.6,403 676.5,398.7" fill="none" stroke="#ed7d31" stroke-width="2.3" stroke-linejoin="round" stroke-linecap="round"/><text x="450.2" y="388.3" font-size="12.2" font-weight="bold" fill="#000">(k) Final Growth Rate</text><text x="482.2" y="507.2" font-size="12.4" font-weight="bold" font-style="italic" fill="#2e6fc4">bubble</text><text x="482.2" y="521.5" font-size="12.4" font-weight="bold" font-style="italic" fill="#2e6fc4">shrinking</text><text x="588.4" y="421" font-size="12.4" font-weight="bold" font-style="italic" fill="#ed7d31">bubble</text><text x="588.4" y="435.7" font-size="12.4" font-weight="bold" font-style="italic" fill="#ed7d31">expansion</text><g font-family="Liberation Serif" stroke-width="0.3"><text x="0" y="0" font-size="17.6" font-style="italic" fill="#1a1a1a" stroke="#1a1a1a" stroke-width="0.25" letter-spacing="0.4" transform="translate(645.8 533.7) scale(0.8 1)">II</text><line x1="648" y1="519.2" x2="656.5" y2="519.2" stroke="#a87878" stroke-width="0.9685"/><text x="658.3" y="527.1" font-size="11.6" fill="#b09090">(<tspan font-style="italic" fill="#2a2a2a" stroke="#2a2a2a">t</tspan>)</text><text x="655.9" y="537.4" font-size="10.9" font-style="italic" fill="#1a1a1a" stroke="#1a1a1a">ST</text></g><text x="362.2" y="391.9" font-size="31" font-family="Liberation Serif" fill="#111">&#8721;</text><text x="354.9" y="408.3" font-size="10.5" letter-spacing="0.8" font-family="Liberation Serif" font-style="italic" fill="#111" stroke="#111" stroke-width="0.25">l,k=1,2</text><path d="M402.2,381.4C401.8,379.6 399.2,379.2 398.2,380.6C397.2,382 396.6,385 395.2,387.4C394.4,388.8 393.2,389.6 392.8,389.4C392.4,389.1 393.2,388.4 394.6,388.4C396.6,388.4 398.8,389.4 400.4,389.2C401.2,389.1 401.8,388.6 402.1,388" fill="none" stroke="#222" stroke-width="1.05" stroke-linecap="round"/><text x="403.6" y="384.8" font-size="11.5" letter-spacing="1.1" font-family="Liberation Serif" font-style="italic" fill="#222">(l,k)</text><defs><linearGradient id="arr" x1="0" y1="0" x2="0" y2="1"><stop offset="0" stop-color="#6fa8e0"/><stop offset="0.5" stop-color="#4a8ad4"/><stop offset="1" stop-color="#3d78c4"/></linearGradient></defs><polygon points="357.9,418.2 400.8,418.2 400.8,411.2 413,424.2 400.8,436.1 400.8,430.5 357.9,430.5 363.1,424.2" fill="url(#arr)"/></svg></body></html>
